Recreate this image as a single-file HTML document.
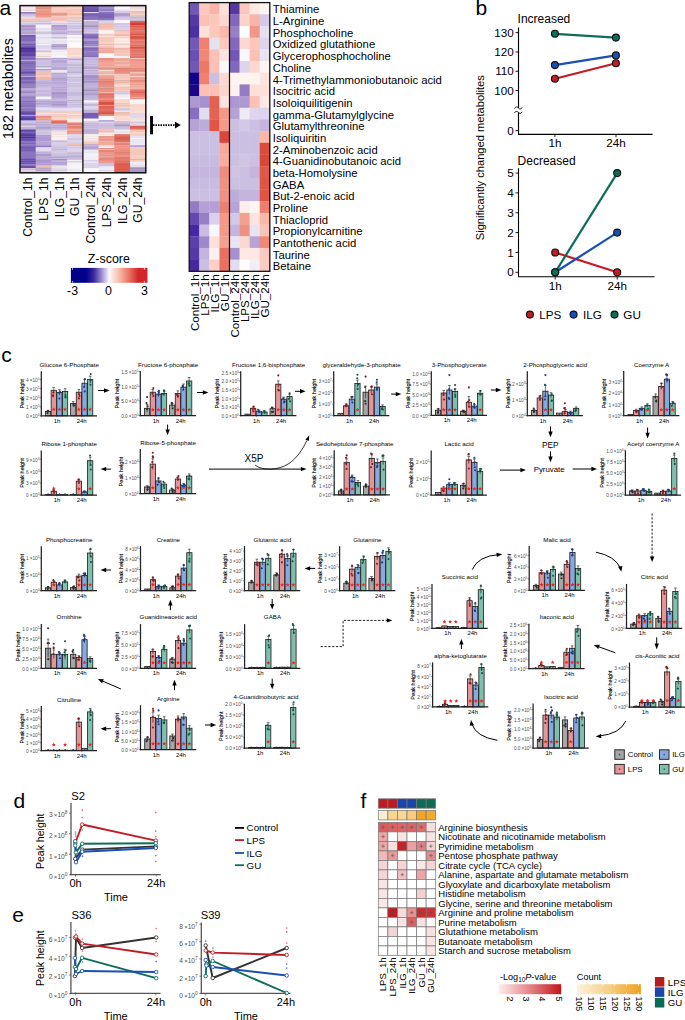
<!DOCTYPE html>
<html><head><meta charset="utf-8"><title>Figure</title>
<style>html,body{margin:0;padding:0;background:#fff;overflow:hidden;width:685px;height:1020px;}svg{display:block;}text{font-family:"Liberation Sans",sans-serif;}</style>
</head><body>
<svg width="685" height="1020" viewBox="0 0 685 1020" font-family="Liberation Sans, sans-serif">
<rect width="685" height="1020" fill="#fff"/>
<text x="-0.60" y="15.00" font-size="21" text-anchor="start" fill="#000" >a</text>
<rect x="20" y="5.6" width="16.03" height="1.17" fill="#e9dddd"/>
<rect x="20" y="6.52" width="16.03" height="1.17" fill="#fbefef"/>
<rect x="20" y="7.44" width="16.03" height="1.17" fill="#e7dbdb"/>
<rect x="20" y="8.36" width="16.03" height="1.17" fill="#faeded"/>
<rect x="20" y="9.27" width="16.03" height="1.17" fill="#e9dddd"/>
<rect x="20" y="10.19" width="16.03" height="1.17" fill="#e8dcdc"/>
<rect x="20" y="11.11" width="16.03" height="1.17" fill="#fcf1f1"/>
<rect x="20" y="12.03" width="16.03" height="1.17" fill="#927ac6"/>
<rect x="20" y="12.95" width="16.03" height="1.17" fill="#a592d0"/>
<rect x="20" y="13.87" width="16.03" height="1.17" fill="#c8bdde"/>
<rect x="20" y="14.79" width="16.03" height="1.17" fill="#ccc1e2"/>
<rect x="20" y="15.71" width="16.03" height="1.17" fill="#ccc1e3"/>
<rect x="20" y="16.62" width="16.03" height="1.17" fill="#e3ddf0"/>
<rect x="20" y="17.54" width="16.03" height="1.17" fill="#f8ccc4"/>
<rect x="20" y="18.46" width="16.03" height="1.17" fill="#f8ccc4"/>
<rect x="20" y="19.38" width="16.03" height="1.17" fill="#e9bcb4"/>
<rect x="20" y="20.3" width="16.03" height="1.17" fill="#efc1b9"/>
<rect x="20" y="21.22" width="16.03" height="1.17" fill="#c7bdd9"/>
<rect x="20" y="22.14" width="16.03" height="1.17" fill="#dbd3eb"/>
<rect x="20" y="23.05" width="16.03" height="1.17" fill="#d2c7e6"/>
<rect x="20" y="23.97" width="16.03" height="1.17" fill="#d3c9e7"/>
<rect x="20" y="24.89" width="16.03" height="1.17" fill="#b4a0d5"/>
<rect x="20" y="25.81" width="16.03" height="1.17" fill="#9d8abd"/>
<rect x="20" y="26.73" width="16.03" height="1.17" fill="#b7a4d6"/>
<rect x="20" y="27.65" width="16.03" height="1.17" fill="#ad98d1"/>
<rect x="20" y="28.57" width="16.03" height="1.17" fill="#ad98d1"/>
<rect x="20" y="29.49" width="16.03" height="1.17" fill="#917fae"/>
<rect x="20" y="30.4" width="16.03" height="1.17" fill="#bcabd9"/>
<rect x="20" y="31.32" width="16.03" height="1.17" fill="#ab9ac8"/>
<rect x="20" y="32.24" width="16.03" height="1.17" fill="#ab99c7"/>
<rect x="20" y="33.16" width="16.03" height="1.17" fill="#aa99c7"/>
<rect x="20" y="34.08" width="16.03" height="1.17" fill="#c8bae0"/>
<rect x="20" y="35" width="16.03" height="1.17" fill="#7458b3"/>
<rect x="20" y="35.92" width="16.03" height="1.17" fill="#7a60b7"/>
<rect x="20" y="36.84" width="16.03" height="1.17" fill="#7b61b7"/>
<rect x="20" y="37.75" width="16.03" height="1.17" fill="#836bbc"/>
<rect x="20" y="38.67" width="16.03" height="1.17" fill="#7358b3"/>
<rect x="20" y="39.59" width="16.03" height="1.17" fill="#7055ae"/>
<rect x="20" y="40.51" width="16.03" height="1.17" fill="#6f55ad"/>
<rect x="20" y="41.43" width="16.03" height="1.17" fill="#856dbe"/>
<rect x="20" y="42.35" width="16.03" height="1.17" fill="#846cbd"/>
<rect x="20" y="43.27" width="16.03" height="1.17" fill="#7a63b3"/>
<rect x="20" y="44.18" width="16.03" height="1.17" fill="#60499f"/>
<rect x="20" y="45.1" width="16.03" height="1.17" fill="#7c65b9"/>
<rect x="20" y="46.02" width="16.03" height="1.17" fill="#745cb5"/>
<rect x="20" y="46.94" width="16.03" height="1.17" fill="#6a50af"/>
<rect x="20" y="47.86" width="16.03" height="1.17" fill="#452796"/>
<rect x="20" y="48.78" width="16.03" height="1.17" fill="#5438a1"/>
<rect x="20" y="49.7" width="16.03" height="1.17" fill="#442694"/>
<rect x="20" y="50.62" width="16.03" height="1.17" fill="#452797"/>
<rect x="20" y="51.53" width="16.03" height="1.17" fill="#3c2284"/>
<rect x="20" y="52.45" width="16.03" height="1.17" fill="#5438a1"/>
<rect x="20" y="53.37" width="16.03" height="1.17" fill="#4e319e"/>
<rect x="20" y="54.29" width="16.03" height="1.17" fill="#442796"/>
<rect x="20" y="55.21" width="16.03" height="1.17" fill="#4c2f9d"/>
<rect x="20" y="56.13" width="16.03" height="1.17" fill="#745cb0"/>
<rect x="20" y="57.05" width="16.03" height="1.17" fill="#816abc"/>
<rect x="20" y="57.96" width="16.03" height="1.17" fill="#775fb5"/>
<rect x="20" y="58.88" width="16.03" height="1.17" fill="#735bae"/>
<rect x="20" y="59.8" width="16.03" height="1.17" fill="#c8bee2"/>
<rect x="20" y="60.72" width="16.03" height="1.17" fill="#7b62b8"/>
<rect x="20" y="61.64" width="16.03" height="1.17" fill="#836dbf"/>
<rect x="20" y="62.56" width="16.03" height="1.17" fill="#684fac"/>
<rect x="20" y="63.48" width="16.03" height="1.17" fill="#6950ae"/>
<rect x="20" y="64.4" width="16.03" height="1.17" fill="#765db8"/>
<rect x="20" y="65.31" width="16.03" height="1.17" fill="#7157b5"/>
<rect x="20" y="66.23" width="16.03" height="1.17" fill="#7c64b5"/>
<rect x="20" y="67.15" width="16.03" height="1.17" fill="#7d65b6"/>
<rect x="20" y="68.07" width="16.03" height="1.17" fill="#8b74c1"/>
<rect x="20" y="68.99" width="16.03" height="1.17" fill="#8269bc"/>
<rect x="20" y="69.91" width="16.03" height="1.17" fill="#866ebe"/>
<rect x="20" y="70.83" width="16.03" height="1.17" fill="#8b75c1"/>
<rect x="20" y="71.75" width="16.03" height="1.17" fill="#543b9c"/>
<rect x="20" y="72.66" width="16.03" height="1.17" fill="#765fb8"/>
<rect x="20" y="73.58" width="16.03" height="1.17" fill="#593ea6"/>
<rect x="20" y="74.5" width="16.03" height="1.17" fill="#9584c8"/>
<rect x="20" y="75.42" width="16.03" height="1.17" fill="#7159b6"/>
<rect x="20" y="76.34" width="16.03" height="1.17" fill="#b3a6d8"/>
<rect x="20" y="77.26" width="16.03" height="1.17" fill="#5b439e"/>
<rect x="20" y="78.18" width="16.03" height="1.17" fill="#684db0"/>
<rect x="20" y="79.09" width="16.03" height="1.17" fill="#765eb8"/>
<rect x="20" y="80.01" width="16.03" height="1.17" fill="#8f78c3"/>
<rect x="20" y="80.93" width="16.03" height="1.17" fill="#876fbe"/>
<rect x="20" y="81.85" width="16.03" height="1.17" fill="#7b66ae"/>
<rect x="20" y="82.77" width="16.03" height="1.17" fill="#816ab5"/>
<rect x="20" y="83.69" width="16.03" height="1.17" fill="#9781c8"/>
<rect x="20" y="84.61" width="16.03" height="1.17" fill="#7c66ae"/>
<rect x="20" y="85.53" width="16.03" height="1.17" fill="#937dc5"/>
<rect x="20" y="86.44" width="16.03" height="1.17" fill="#826bb8"/>
<rect x="20" y="87.36" width="16.03" height="1.17" fill="#826bb8"/>
<rect x="20" y="88.28" width="16.03" height="1.17" fill="#b8a5d7"/>
<rect x="20" y="89.2" width="16.03" height="1.17" fill="#b39fd4"/>
<rect x="20" y="90.12" width="16.03" height="1.17" fill="#ac97cf"/>
<rect x="20" y="91.04" width="16.03" height="1.17" fill="#a38fc5"/>
<rect x="20" y="91.96" width="16.03" height="1.17" fill="#9b88bb"/>
<rect x="20" y="92.87" width="16.03" height="1.17" fill="#b39fd4"/>
<rect x="20" y="93.79" width="16.03" height="1.17" fill="#b8a6d7"/>
<rect x="20" y="94.71" width="16.03" height="1.17" fill="#af9bd2"/>
<rect x="20" y="95.63" width="16.03" height="1.17" fill="#a995cc"/>
<rect x="20" y="96.55" width="16.03" height="1.17" fill="#7f69b3"/>
<rect x="20" y="97.47" width="16.03" height="1.17" fill="#8870c0"/>
<rect x="20" y="98.39" width="16.03" height="1.17" fill="#8a72c1"/>
<rect x="20" y="99.31" width="16.03" height="1.17" fill="#8a73c1"/>
<rect x="20" y="100.22" width="16.03" height="1.17" fill="#8f78c3"/>
<rect x="20" y="101.14" width="16.03" height="1.17" fill="#7863a9"/>
<rect x="20" y="102.06" width="16.03" height="1.17" fill="#917bc5"/>
<rect x="20" y="102.98" width="16.03" height="1.17" fill="#8c75c2"/>
<rect x="20" y="103.9" width="16.03" height="1.17" fill="#8f79c4"/>
<rect x="20" y="104.82" width="16.03" height="1.17" fill="#8c75c2"/>
<rect x="20" y="105.74" width="16.03" height="1.17" fill="#7d66b6"/>
<rect x="20" y="106.65" width="16.03" height="1.17" fill="#8c75c3"/>
<rect x="20" y="107.57" width="16.03" height="1.17" fill="#8e77c3"/>
<rect x="20" y="108.49" width="16.03" height="1.17" fill="#7e66b7"/>
<rect x="20" y="109.41" width="16.03" height="1.17" fill="#705ba3"/>
<rect x="20" y="110.33" width="16.03" height="1.17" fill="#7d65b5"/>
<rect x="20" y="111.25" width="16.03" height="1.17" fill="#6045ac"/>
<rect x="20" y="112.17" width="16.03" height="1.17" fill="#573da2"/>
<rect x="20" y="113.09" width="16.03" height="1.17" fill="#573da2"/>
<rect x="20" y="114" width="16.03" height="1.17" fill="#6d55b4"/>
<rect x="20" y="114.92" width="16.03" height="1.17" fill="#b8adda"/>
<rect x="20" y="115.84" width="16.03" height="1.17" fill="#745db7"/>
<rect x="20" y="116.76" width="16.03" height="1.17" fill="#6248ae"/>
<rect x="20" y="117.68" width="16.03" height="1.17" fill="#5c41ab"/>
<rect x="20" y="118.6" width="16.03" height="1.17" fill="#201091"/>
<rect x="20" y="119.52" width="16.03" height="1.17" fill="#4a3ca7"/>
<rect x="20" y="120.44" width="16.03" height="1.17" fill="#c6b6df"/>
<rect x="20" y="121.35" width="16.03" height="1.17" fill="#ccbee2"/>
<rect x="20" y="122.27" width="16.03" height="1.17" fill="#c6b7df"/>
<rect x="20" y="123.19" width="16.03" height="1.17" fill="#b8a9d0"/>
<rect x="20" y="124.11" width="16.03" height="1.17" fill="#b2a4ca"/>
<rect x="20" y="125.03" width="16.03" height="1.17" fill="#c6b7df"/>
<rect x="20" y="125.95" width="16.03" height="1.17" fill="#e0d7ed"/>
<rect x="20" y="126.87" width="16.03" height="1.17" fill="#c2b2dc"/>
<rect x="20" y="127.78" width="16.03" height="1.17" fill="#bdadd6"/>
<rect x="20" y="128.7" width="16.03" height="1.17" fill="#bfb0d9"/>
<rect x="20" y="129.62" width="16.03" height="1.17" fill="#472d97"/>
<rect x="20" y="130.54" width="16.03" height="1.17" fill="#462c94"/>
<rect x="20" y="131.46" width="16.03" height="1.17" fill="#6047ac"/>
<rect x="20" y="132.38" width="16.03" height="1.17" fill="#674eb0"/>
<rect x="20" y="133.3" width="16.03" height="1.17" fill="#492e9c"/>
<rect x="20" y="134.22" width="16.03" height="1.17" fill="#452c93"/>
<rect x="20" y="135.13" width="16.03" height="1.17" fill="#452c93"/>
<rect x="20" y="136.05" width="16.03" height="1.17" fill="#644bae"/>
<rect x="20" y="136.97" width="16.03" height="1.17" fill="#472c96"/>
<rect x="20" y="137.89" width="16.03" height="1.17" fill="#684eaf"/>
<rect x="20" y="138.81" width="16.03" height="1.17" fill="#674dad"/>
<rect x="20" y="139.73" width="16.03" height="1.17" fill="#644ba8"/>
<rect x="20" y="140.65" width="16.03" height="1.17" fill="#634aa6"/>
<rect x="20" y="141.56" width="16.03" height="1.17" fill="#9380c8"/>
<rect x="20" y="142.48" width="16.03" height="1.17" fill="#684eaf"/>
<rect x="20" y="143.4" width="16.03" height="1.17" fill="#654ba9"/>
<rect x="20" y="144.32" width="16.03" height="1.17" fill="#8873c2"/>
<rect x="20" y="145.24" width="16.03" height="1.17" fill="#7860ba"/>
<rect x="20" y="146.16" width="16.03" height="1.17" fill="#7359b7"/>
<rect x="20" y="147.08" width="16.03" height="1.17" fill="#694fb0"/>
<rect x="20" y="148" width="16.03" height="1.17" fill="#7960b8"/>
<rect x="20" y="148.91" width="16.03" height="1.17" fill="#7c63b9"/>
<rect x="20" y="149.83" width="16.03" height="1.17" fill="#755db1"/>
<rect x="20" y="150.75" width="16.03" height="1.17" fill="#7e66ba"/>
<rect x="20" y="151.67" width="16.03" height="1.17" fill="#7f67bb"/>
<rect x="20" y="152.59" width="16.03" height="1.17" fill="#846dbd"/>
<rect x="20" y="153.51" width="16.03" height="1.17" fill="#7059a9"/>
<rect x="20" y="154.43" width="16.03" height="1.17" fill="#7f66ba"/>
<rect x="20" y="155.35" width="16.03" height="1.17" fill="#785fb6"/>
<rect x="20" y="156.26" width="16.03" height="1.17" fill="#765eb3"/>
<rect x="20" y="157.18" width="16.03" height="1.17" fill="#826bbf"/>
<rect x="20" y="158.1" width="16.03" height="1.17" fill="#755cb8"/>
<rect x="20" y="159.02" width="16.03" height="1.17" fill="#644ba7"/>
<rect x="20" y="159.94" width="16.03" height="1.17" fill="#7d65bc"/>
<rect x="20" y="160.86" width="16.03" height="1.17" fill="#5f47a0"/>
<rect x="20" y="161.78" width="16.03" height="1.17" fill="#7c65bc"/>
<rect x="20" y="162.69" width="16.03" height="1.17" fill="#694fb0"/>
<rect x="20" y="163.61" width="16.03" height="1.17" fill="#50369b"/>
<rect x="20" y="164.53" width="16.03" height="1.17" fill="#baafdb"/>
<rect x="20" y="165.45" width="16.03" height="1.17" fill="#51369c"/>
<rect x="20" y="166.37" width="16.03" height="1.17" fill="#553aa5"/>
<rect x="20" y="167.29" width="16.03" height="1.17" fill="#4e3597"/>
<rect x="20" y="168.21" width="16.03" height="1.17" fill="#e8d0e0"/>
<rect x="20" y="169.13" width="16.03" height="1.17" fill="#cab5c3"/>
<rect x="20" y="170.04" width="16.03" height="1.17" fill="#ebd6e4"/>
<rect x="20" y="170.96" width="16.03" height="1.17" fill="#e1cad9"/>
<rect x="20" y="171.88" width="16.03" height="1.17" fill="#e8d0e0"/>
<rect x="35.73" y="5.6" width="16.03" height="1.17" fill="#f19a8c"/>
<rect x="35.73" y="6.52" width="16.03" height="1.17" fill="#e68a7b"/>
<rect x="35.73" y="7.44" width="16.03" height="1.17" fill="#d88173"/>
<rect x="35.73" y="8.36" width="16.03" height="1.17" fill="#da8374"/>
<rect x="35.73" y="9.27" width="16.03" height="1.17" fill="#f19788"/>
<rect x="35.73" y="10.19" width="16.03" height="1.17" fill="#f09181"/>
<rect x="35.73" y="11.11" width="16.03" height="1.17" fill="#ea8c7d"/>
<rect x="35.73" y="12.03" width="16.03" height="1.17" fill="#f1998b"/>
<rect x="35.73" y="12.95" width="16.03" height="1.17" fill="#ef8f80"/>
<rect x="35.73" y="13.87" width="16.03" height="1.17" fill="#e98c7c"/>
<rect x="35.73" y="14.79" width="16.03" height="1.17" fill="#f19485"/>
<rect x="35.73" y="15.71" width="16.03" height="1.17" fill="#f29d8f"/>
<rect x="35.73" y="16.62" width="16.03" height="1.17" fill="#e18778"/>
<rect x="35.73" y="17.54" width="16.03" height="1.17" fill="#f8d3cb"/>
<rect x="35.73" y="18.46" width="16.03" height="1.17" fill="#eac4bc"/>
<rect x="35.73" y="19.38" width="16.03" height="1.17" fill="#e8c3bb"/>
<rect x="35.73" y="20.3" width="16.03" height="1.17" fill="#e2bdb6"/>
<rect x="35.73" y="21.22" width="16.03" height="1.17" fill="#cac0d9"/>
<rect x="35.73" y="22.14" width="16.03" height="1.17" fill="#ddd4ec"/>
<rect x="35.73" y="23.05" width="16.03" height="1.17" fill="#c0b7ce"/>
<rect x="35.73" y="23.97" width="16.03" height="1.17" fill="#ddd3ec"/>
<rect x="35.73" y="24.89" width="16.03" height="1.17" fill="#f5f3f7"/>
<rect x="35.73" y="25.81" width="16.03" height="1.17" fill="#faf8fc"/>
<rect x="35.73" y="26.73" width="16.03" height="1.17" fill="#fbf8fc"/>
<rect x="35.73" y="27.65" width="16.03" height="1.17" fill="#e6def1"/>
<rect x="35.73" y="28.57" width="16.03" height="1.17" fill="#e5dcf1"/>
<rect x="35.73" y="29.49" width="16.03" height="1.17" fill="#e4dbf0"/>
<rect x="35.73" y="30.4" width="16.03" height="1.17" fill="#eee8f5"/>
<rect x="35.73" y="31.32" width="16.03" height="1.17" fill="#d6cce2"/>
<rect x="35.73" y="32.24" width="16.03" height="1.17" fill="#c7bed2"/>
<rect x="35.73" y="33.16" width="16.03" height="1.17" fill="#cbc2d7"/>
<rect x="35.73" y="34.08" width="16.03" height="1.17" fill="#e9e3f2"/>
<rect x="35.73" y="35" width="16.03" height="1.17" fill="#eae4f3"/>
<rect x="35.73" y="35.92" width="16.03" height="1.17" fill="#f4f1f9"/>
<rect x="35.73" y="36.84" width="16.03" height="1.17" fill="#d7d2e0"/>
<rect x="35.73" y="37.75" width="16.03" height="1.17" fill="#e8e2f1"/>
<rect x="35.73" y="38.67" width="16.03" height="1.17" fill="#ebe5f4"/>
<rect x="35.73" y="39.59" width="16.03" height="1.17" fill="#ede9f5"/>
<rect x="35.73" y="40.51" width="16.03" height="1.17" fill="#eae5f4"/>
<rect x="35.73" y="41.43" width="16.03" height="1.17" fill="#eae5f3"/>
<rect x="35.73" y="42.35" width="16.03" height="1.17" fill="#eae4f3"/>
<rect x="35.73" y="43.27" width="16.03" height="1.17" fill="#ddd8e6"/>
<rect x="35.73" y="44.18" width="16.03" height="1.17" fill="#f5f2f9"/>
<rect x="35.73" y="45.1" width="16.03" height="1.17" fill="#ddd3ec"/>
<rect x="35.73" y="46.02" width="16.03" height="1.17" fill="#dcd2ec"/>
<rect x="35.73" y="46.94" width="16.03" height="1.17" fill="#ded5ed"/>
<rect x="35.73" y="47.86" width="16.03" height="1.17" fill="#dbd1eb"/>
<rect x="35.73" y="48.78" width="16.03" height="1.17" fill="#efebf6"/>
<rect x="35.73" y="49.7" width="16.03" height="1.17" fill="#dcd2ec"/>
<rect x="35.73" y="50.62" width="16.03" height="1.17" fill="#c7bed6"/>
<rect x="35.73" y="51.53" width="16.03" height="1.17" fill="#ccc2db"/>
<rect x="35.73" y="52.45" width="16.03" height="1.17" fill="#faeae6"/>
<rect x="35.73" y="53.37" width="16.03" height="1.17" fill="#fae9e5"/>
<rect x="35.73" y="54.29" width="16.03" height="1.17" fill="#efdeda"/>
<rect x="35.73" y="55.21" width="16.03" height="1.17" fill="#fae9e5"/>
<rect x="35.73" y="56.13" width="16.03" height="1.17" fill="#dfcfcb"/>
<rect x="35.73" y="57.05" width="16.03" height="1.17" fill="#fbebe7"/>
<rect x="35.73" y="57.96" width="16.03" height="1.17" fill="#beb0d4"/>
<rect x="35.73" y="58.88" width="16.03" height="1.17" fill="#bbadd0"/>
<rect x="35.73" y="59.8" width="16.03" height="1.17" fill="#d0c2e5"/>
<rect x="35.73" y="60.72" width="16.03" height="1.17" fill="#cabae0"/>
<rect x="35.73" y="61.64" width="16.03" height="1.17" fill="#ccbce2"/>
<rect x="35.73" y="62.56" width="16.03" height="1.17" fill="#c5b6db"/>
<rect x="35.73" y="63.48" width="16.03" height="1.17" fill="#c5b6db"/>
<rect x="35.73" y="64.4" width="16.03" height="1.17" fill="#c2b3d8"/>
<rect x="35.73" y="65.31" width="16.03" height="1.17" fill="#d2c4e6"/>
<rect x="35.73" y="66.23" width="16.03" height="1.17" fill="#a397b6"/>
<rect x="35.73" y="67.15" width="16.03" height="1.17" fill="#d9ceea"/>
<rect x="35.73" y="68.07" width="16.03" height="1.17" fill="#e5def1"/>
<rect x="35.73" y="68.99" width="16.03" height="1.17" fill="#a99dbc"/>
<rect x="35.73" y="69.91" width="16.03" height="1.17" fill="#cbbce1"/>
<rect x="35.73" y="70.83" width="16.03" height="1.17" fill="#d1c3e5"/>
<rect x="35.73" y="71.75" width="16.03" height="1.17" fill="#f3bcad"/>
<rect x="35.73" y="72.66" width="16.03" height="1.17" fill="#f8c2b3"/>
<rect x="35.73" y="73.58" width="16.03" height="1.17" fill="#e7b3a4"/>
<rect x="35.73" y="74.5" width="16.03" height="1.17" fill="#f3bcac"/>
<rect x="35.73" y="75.42" width="16.03" height="1.17" fill="#f9c9bb"/>
<rect x="35.73" y="76.34" width="16.03" height="1.17" fill="#f7bfb0"/>
<rect x="35.73" y="77.26" width="16.03" height="1.17" fill="#e3b0a1"/>
<rect x="35.73" y="78.18" width="16.03" height="1.17" fill="#eab5a6"/>
<rect x="35.73" y="79.09" width="16.03" height="1.17" fill="#c7b9e0"/>
<rect x="35.73" y="80.01" width="16.03" height="1.17" fill="#c9bbe1"/>
<rect x="35.73" y="80.93" width="16.03" height="1.17" fill="#c1b1da"/>
<rect x="35.73" y="81.85" width="16.03" height="1.17" fill="#c1b2db"/>
<rect x="35.73" y="82.77" width="16.03" height="1.17" fill="#b4a6cc"/>
<rect x="35.73" y="83.69" width="16.03" height="1.17" fill="#c1b2db"/>
<rect x="35.73" y="84.61" width="16.03" height="1.17" fill="#bbacd4"/>
<rect x="35.73" y="85.53" width="16.03" height="1.17" fill="#b7a9d0"/>
<rect x="35.73" y="86.44" width="16.03" height="1.17" fill="#c3b3dd"/>
<rect x="35.73" y="87.36" width="16.03" height="1.17" fill="#c5b5de"/>
<rect x="35.73" y="88.28" width="16.03" height="1.17" fill="#c9bbe1"/>
<rect x="35.73" y="89.2" width="16.03" height="1.17" fill="#ccbee2"/>
<rect x="35.73" y="90.12" width="16.03" height="1.17" fill="#c4b4de"/>
<rect x="35.73" y="91.04" width="16.03" height="1.17" fill="#c0b1da"/>
<rect x="35.73" y="91.96" width="16.03" height="1.17" fill="#cfc3e4"/>
<rect x="35.73" y="92.87" width="16.03" height="1.17" fill="#cabbe1"/>
<rect x="35.73" y="93.79" width="16.03" height="1.17" fill="#c8bae0"/>
<rect x="35.73" y="94.71" width="16.03" height="1.17" fill="#c2b3dc"/>
<rect x="35.73" y="95.63" width="16.03" height="1.17" fill="#c2b2db"/>
<rect x="35.73" y="96.55" width="16.03" height="1.17" fill="#eae8eb"/>
<rect x="35.73" y="97.47" width="16.03" height="1.17" fill="#f4f2f6"/>
<rect x="35.73" y="98.39" width="16.03" height="1.17" fill="#f6f4f7"/>
<rect x="35.73" y="99.31" width="16.03" height="1.17" fill="#bdadda"/>
<rect x="35.73" y="100.22" width="16.03" height="1.17" fill="#beafdb"/>
<rect x="35.73" y="101.14" width="16.03" height="1.17" fill="#ad9ec7"/>
<rect x="35.73" y="102.06" width="16.03" height="1.17" fill="#c0b0dc"/>
<rect x="35.73" y="102.98" width="16.03" height="1.17" fill="#b2a3ce"/>
<rect x="35.73" y="103.9" width="16.03" height="1.17" fill="#b6a7d3"/>
<rect x="35.73" y="104.82" width="16.03" height="1.17" fill="#cdc0e3"/>
<rect x="35.73" y="105.74" width="16.03" height="1.17" fill="#bcacd9"/>
<rect x="35.73" y="106.65" width="16.03" height="1.17" fill="#c7b9e0"/>
<rect x="35.73" y="107.57" width="16.03" height="1.17" fill="#e6ddf1"/>
<rect x="35.73" y="108.49" width="16.03" height="1.17" fill="#dbd1e8"/>
<rect x="35.73" y="109.41" width="16.03" height="1.17" fill="#e4daf0"/>
<rect x="35.73" y="110.33" width="16.03" height="1.17" fill="#d2c9de"/>
<rect x="35.73" y="111.25" width="16.03" height="1.17" fill="#edc6b7"/>
<rect x="35.73" y="112.17" width="16.03" height="1.17" fill="#f8d0c0"/>
<rect x="35.73" y="113.09" width="16.03" height="1.17" fill="#faddd2"/>
<rect x="35.73" y="114" width="16.03" height="1.17" fill="#e3d9ef"/>
<rect x="35.73" y="114.92" width="16.03" height="1.17" fill="#e2d8ef"/>
<rect x="35.73" y="115.84" width="16.03" height="1.17" fill="#eb8d7d"/>
<rect x="35.73" y="116.76" width="16.03" height="1.17" fill="#eb8d7e"/>
<rect x="35.73" y="117.68" width="16.03" height="1.17" fill="#f29e90"/>
<rect x="35.73" y="118.6" width="16.03" height="1.17" fill="#f1998a"/>
<rect x="35.73" y="119.52" width="16.03" height="1.17" fill="#e5897a"/>
<rect x="35.73" y="120.44" width="16.03" height="1.17" fill="#c9bae1"/>
<rect x="35.73" y="121.35" width="16.03" height="1.17" fill="#c3b3dd"/>
<rect x="35.73" y="122.27" width="16.03" height="1.17" fill="#ad9fc4"/>
<rect x="35.73" y="123.19" width="16.03" height="1.17" fill="#c7b8df"/>
<rect x="35.73" y="124.11" width="16.03" height="1.17" fill="#b5a6cc"/>
<rect x="35.73" y="125.03" width="16.03" height="1.17" fill="#bcadd5"/>
<rect x="35.73" y="125.95" width="16.03" height="1.17" fill="#c6b7df"/>
<rect x="35.73" y="126.87" width="16.03" height="1.17" fill="#b0a2c7"/>
<rect x="35.73" y="127.78" width="16.03" height="1.17" fill="#a799bd"/>
<rect x="35.73" y="128.7" width="16.03" height="1.17" fill="#cbbfe1"/>
<rect x="35.73" y="129.62" width="16.03" height="1.17" fill="#b0a6c4"/>
<rect x="35.73" y="130.54" width="16.03" height="1.17" fill="#d4cbe7"/>
<rect x="35.73" y="131.46" width="16.03" height="1.17" fill="#d1c7e6"/>
<rect x="35.73" y="132.38" width="16.03" height="1.17" fill="#beb4d4"/>
<rect x="35.73" y="133.3" width="16.03" height="1.17" fill="#c6bbdc"/>
<rect x="35.73" y="134.22" width="16.03" height="1.17" fill="#ccc0e2"/>
<rect x="35.73" y="135.13" width="16.03" height="1.17" fill="#a994cc"/>
<rect x="35.73" y="136.05" width="16.03" height="1.17" fill="#b3a0d4"/>
<rect x="35.73" y="136.97" width="16.03" height="1.17" fill="#b19cd3"/>
<rect x="35.73" y="137.89" width="16.03" height="1.17" fill="#ac97d0"/>
<rect x="35.73" y="138.81" width="16.03" height="1.17" fill="#b29ed4"/>
<rect x="35.73" y="139.73" width="16.03" height="1.17" fill="#aa95cd"/>
<rect x="35.73" y="140.65" width="16.03" height="1.17" fill="#b09cd3"/>
<rect x="35.73" y="141.56" width="16.03" height="1.17" fill="#beaddb"/>
<rect x="35.73" y="142.48" width="16.03" height="1.17" fill="#a18dc2"/>
<rect x="35.73" y="143.4" width="16.03" height="1.17" fill="#b09bd2"/>
<rect x="35.73" y="144.32" width="16.03" height="1.17" fill="#a591c7"/>
<rect x="35.73" y="145.24" width="16.03" height="1.17" fill="#9f8ccc"/>
<rect x="35.73" y="146.16" width="16.03" height="1.17" fill="#816ab6"/>
<rect x="35.73" y="147.08" width="16.03" height="1.17" fill="#d9d0e6"/>
<rect x="35.73" y="148" width="16.03" height="1.17" fill="#e4dbf0"/>
<rect x="35.73" y="148.91" width="16.03" height="1.17" fill="#e3daf0"/>
<rect x="35.73" y="149.83" width="16.03" height="1.17" fill="#e5ddf1"/>
<rect x="35.73" y="150.75" width="16.03" height="1.17" fill="#e4dbf0"/>
<rect x="35.73" y="151.67" width="16.03" height="1.17" fill="#a28ec3"/>
<rect x="35.73" y="152.59" width="16.03" height="1.17" fill="#d4c9e7"/>
<rect x="35.73" y="153.51" width="16.03" height="1.17" fill="#a893ca"/>
<rect x="35.73" y="154.43" width="16.03" height="1.17" fill="#9582b3"/>
<rect x="35.73" y="155.35" width="16.03" height="1.17" fill="#a28ec4"/>
<rect x="35.73" y="156.26" width="16.03" height="1.17" fill="#b7a4d6"/>
<rect x="35.73" y="157.18" width="16.03" height="1.17" fill="#b19dd3"/>
<rect x="35.73" y="158.1" width="16.03" height="1.17" fill="#b9a7d8"/>
<rect x="35.73" y="159.02" width="16.03" height="1.17" fill="#b4a0d5"/>
<rect x="35.73" y="159.94" width="16.03" height="1.17" fill="#a995cc"/>
<rect x="35.73" y="160.86" width="16.03" height="1.17" fill="#a994cc"/>
<rect x="35.73" y="161.78" width="16.03" height="1.17" fill="#ad98d1"/>
<rect x="35.73" y="162.69" width="16.03" height="1.17" fill="#b39fd4"/>
<rect x="35.73" y="163.61" width="16.03" height="1.17" fill="#ae99d1"/>
<rect x="35.73" y="164.53" width="16.03" height="1.17" fill="#a38fc4"/>
<rect x="35.73" y="165.45" width="16.03" height="1.17" fill="#f0baaa"/>
<rect x="35.73" y="166.37" width="16.03" height="1.17" fill="#e9b4a5"/>
<rect x="35.73" y="167.29" width="16.03" height="1.17" fill="#bdaed6"/>
<rect x="35.73" y="168.21" width="16.03" height="1.17" fill="#ab9dc1"/>
<rect x="35.73" y="169.13" width="16.03" height="1.17" fill="#b8a9d1"/>
<rect x="35.73" y="170.04" width="16.03" height="1.17" fill="#b0a2c7"/>
<rect x="35.73" y="170.96" width="16.03" height="1.17" fill="#cfc2e4"/>
<rect x="35.73" y="171.88" width="16.03" height="1.17" fill="#b1a3c8"/>
<rect x="51.45" y="5.6" width="16.03" height="1.17" fill="#f1bbab"/>
<rect x="51.45" y="6.52" width="16.03" height="1.17" fill="#deac9e"/>
<rect x="51.45" y="7.44" width="16.03" height="1.17" fill="#f9c6b8"/>
<rect x="51.45" y="8.36" width="16.03" height="1.17" fill="#f9c8ba"/>
<rect x="51.45" y="9.27" width="16.03" height="1.17" fill="#f8c2b3"/>
<rect x="51.45" y="10.19" width="16.03" height="1.17" fill="#f8c4b5"/>
<rect x="51.45" y="11.11" width="16.03" height="1.17" fill="#f8c2b3"/>
<rect x="51.45" y="12.03" width="16.03" height="1.17" fill="#f7bfaf"/>
<rect x="51.45" y="12.95" width="16.03" height="1.17" fill="#e59e8f"/>
<rect x="51.45" y="13.87" width="16.03" height="1.17" fill="#e09a8b"/>
<rect x="51.45" y="14.79" width="16.03" height="1.17" fill="#e19b8c"/>
<rect x="51.45" y="15.71" width="16.03" height="1.17" fill="#fbd3c9"/>
<rect x="51.45" y="16.62" width="16.03" height="1.17" fill="#f8baaa"/>
<rect x="51.45" y="17.54" width="16.03" height="1.17" fill="#f8bdae"/>
<rect x="51.45" y="18.46" width="16.03" height="1.17" fill="#efb1a2"/>
<rect x="51.45" y="19.38" width="16.03" height="1.17" fill="#f2b4a4"/>
<rect x="51.45" y="20.3" width="16.03" height="1.17" fill="#f9beaf"/>
<rect x="51.45" y="21.22" width="16.03" height="1.17" fill="#e6def1"/>
<rect x="51.45" y="22.14" width="16.03" height="1.17" fill="#e3daf0"/>
<rect x="51.45" y="23.05" width="16.03" height="1.17" fill="#d4cae0"/>
<rect x="51.45" y="23.97" width="16.03" height="1.17" fill="#e4dbf0"/>
<rect x="51.45" y="24.89" width="16.03" height="1.17" fill="#b09bcf"/>
<rect x="51.45" y="25.81" width="16.03" height="1.17" fill="#ad99cc"/>
<rect x="51.45" y="26.73" width="16.03" height="1.17" fill="#b5a1d6"/>
<rect x="51.45" y="27.65" width="16.03" height="1.17" fill="#b7a3d7"/>
<rect x="51.45" y="28.57" width="16.03" height="1.17" fill="#ab97c9"/>
<rect x="51.45" y="29.49" width="16.03" height="1.17" fill="#b09ccf"/>
<rect x="51.45" y="30.4" width="16.03" height="1.17" fill="#cbbde2"/>
<rect x="51.45" y="31.32" width="16.03" height="1.17" fill="#bdabda"/>
<rect x="51.45" y="32.24" width="16.03" height="1.17" fill="#b5a1d6"/>
<rect x="51.45" y="33.16" width="16.03" height="1.17" fill="#b19dd1"/>
<rect x="51.45" y="34.08" width="16.03" height="1.17" fill="#d3cbde"/>
<rect x="51.45" y="35" width="16.03" height="1.17" fill="#e1d9ec"/>
<rect x="51.45" y="35.92" width="16.03" height="1.17" fill="#e7dff2"/>
<rect x="51.45" y="36.84" width="16.03" height="1.17" fill="#c9c2d3"/>
<rect x="51.45" y="37.75" width="16.03" height="1.17" fill="#c5bdce"/>
<rect x="51.45" y="38.67" width="16.03" height="1.17" fill="#f4f0f9"/>
<rect x="51.45" y="39.59" width="16.03" height="1.17" fill="#e9e2f3"/>
<rect x="51.45" y="40.51" width="16.03" height="1.17" fill="#e6def1"/>
<rect x="51.45" y="41.43" width="16.03" height="1.17" fill="#e1d8ec"/>
<rect x="51.45" y="42.35" width="16.03" height="1.17" fill="#e8e0f2"/>
<rect x="51.45" y="43.27" width="16.03" height="1.17" fill="#e7dff2"/>
<rect x="51.45" y="44.18" width="16.03" height="1.17" fill="#a99bc4"/>
<rect x="51.45" y="45.1" width="16.03" height="1.17" fill="#b1a1cc"/>
<rect x="51.45" y="46.02" width="16.03" height="1.17" fill="#a698c0"/>
<rect x="51.45" y="46.94" width="16.03" height="1.17" fill="#c4b5de"/>
<rect x="51.45" y="47.86" width="16.03" height="1.17" fill="#beafdb"/>
<rect x="51.45" y="48.78" width="16.03" height="1.17" fill="#c4b6de"/>
<rect x="51.45" y="49.7" width="16.03" height="1.17" fill="#f5f1f8"/>
<rect x="51.45" y="50.62" width="16.03" height="1.17" fill="#e9e5ec"/>
<rect x="51.45" y="51.53" width="16.03" height="1.17" fill="#efeaf2"/>
<rect x="51.45" y="52.45" width="16.03" height="1.17" fill="#f6f2f8"/>
<rect x="51.45" y="53.37" width="16.03" height="1.17" fill="#f2edf5"/>
<rect x="51.45" y="54.29" width="16.03" height="1.17" fill="#eeeaf1"/>
<rect x="51.45" y="55.21" width="16.03" height="1.17" fill="#f6f3f9"/>
<rect x="51.45" y="56.13" width="16.03" height="1.17" fill="#f9f7fb"/>
<rect x="51.45" y="57.05" width="16.03" height="1.17" fill="#f2edf5"/>
<rect x="51.45" y="57.96" width="16.03" height="1.17" fill="#ad9dcc"/>
<rect x="51.45" y="58.88" width="16.03" height="1.17" fill="#ccc0e2"/>
<rect x="51.45" y="59.8" width="16.03" height="1.17" fill="#b6a6d6"/>
<rect x="51.45" y="60.72" width="16.03" height="1.17" fill="#ae9ecd"/>
<rect x="51.45" y="61.64" width="16.03" height="1.17" fill="#af9fce"/>
<rect x="51.45" y="62.56" width="16.03" height="1.17" fill="#b2a1d2"/>
<rect x="51.45" y="63.48" width="16.03" height="1.17" fill="#bbacd9"/>
<rect x="51.45" y="64.4" width="16.03" height="1.17" fill="#b5a4d5"/>
<rect x="51.45" y="65.31" width="16.03" height="1.17" fill="#baaad8"/>
<rect x="51.45" y="66.23" width="16.03" height="1.17" fill="#beafda"/>
<rect x="51.45" y="67.15" width="16.03" height="1.17" fill="#b0a0d0"/>
<rect x="51.45" y="68.07" width="16.03" height="1.17" fill="#b6a6d6"/>
<rect x="51.45" y="68.99" width="16.03" height="1.17" fill="#b1a0d0"/>
<rect x="51.45" y="69.91" width="16.03" height="1.17" fill="#f0eef1"/>
<rect x="51.45" y="70.83" width="16.03" height="1.17" fill="#e5e3e6"/>
<rect x="51.45" y="71.75" width="16.03" height="1.17" fill="#fbf8fc"/>
<rect x="51.45" y="72.66" width="16.03" height="1.17" fill="#a899c7"/>
<rect x="51.45" y="73.58" width="16.03" height="1.17" fill="#b7a7d7"/>
<rect x="51.45" y="74.5" width="16.03" height="1.17" fill="#b8a8d7"/>
<rect x="51.45" y="75.42" width="16.03" height="1.17" fill="#bcacd9"/>
<rect x="51.45" y="76.34" width="16.03" height="1.17" fill="#af9fcf"/>
<rect x="51.45" y="77.26" width="16.03" height="1.17" fill="#b6a6d6"/>
<rect x="51.45" y="78.18" width="16.03" height="1.17" fill="#a192be"/>
<rect x="51.45" y="79.09" width="16.03" height="1.17" fill="#b3a3d3"/>
<rect x="51.45" y="80.01" width="16.03" height="1.17" fill="#b5a5d6"/>
<rect x="51.45" y="80.93" width="16.03" height="1.17" fill="#c2b4dd"/>
<rect x="51.45" y="81.85" width="16.03" height="1.17" fill="#b3a2d3"/>
<rect x="51.45" y="82.77" width="16.03" height="1.17" fill="#bbacd9"/>
<rect x="51.45" y="83.69" width="16.03" height="1.17" fill="#b6a5d6"/>
<rect x="51.45" y="84.61" width="16.03" height="1.17" fill="#baabd9"/>
<rect x="51.45" y="85.53" width="16.03" height="1.17" fill="#b9a9d8"/>
<rect x="51.45" y="86.44" width="16.03" height="1.17" fill="#b9aad8"/>
<rect x="51.45" y="87.36" width="16.03" height="1.17" fill="#a898c6"/>
<rect x="51.45" y="88.28" width="16.03" height="1.17" fill="#bcaada"/>
<rect x="51.45" y="89.2" width="16.03" height="1.17" fill="#ad99cc"/>
<rect x="51.45" y="90.12" width="16.03" height="1.17" fill="#bca9d9"/>
<rect x="51.45" y="91.04" width="16.03" height="1.17" fill="#beacda"/>
<rect x="51.45" y="91.96" width="16.03" height="1.17" fill="#b09cd0"/>
<rect x="51.45" y="92.87" width="16.03" height="1.17" fill="#a18ebd"/>
<rect x="51.45" y="93.79" width="16.03" height="1.17" fill="#b09ccf"/>
<rect x="51.45" y="94.71" width="16.03" height="1.17" fill="#b09bcf"/>
<rect x="51.45" y="95.63" width="16.03" height="1.17" fill="#a693c4"/>
<rect x="51.45" y="96.55" width="16.03" height="1.17" fill="#ad99cc"/>
<rect x="51.45" y="97.47" width="16.03" height="1.17" fill="#ad99cc"/>
<rect x="51.45" y="98.39" width="16.03" height="1.17" fill="#bba8d9"/>
<rect x="51.45" y="99.31" width="16.03" height="1.17" fill="#bfaedb"/>
<rect x="51.45" y="100.22" width="16.03" height="1.17" fill="#c1afdc"/>
<rect x="51.45" y="101.14" width="16.03" height="1.17" fill="#ad99cc"/>
<rect x="51.45" y="102.06" width="16.03" height="1.17" fill="#b29dd1"/>
<rect x="51.45" y="102.98" width="16.03" height="1.17" fill="#b9a5d8"/>
<rect x="51.45" y="103.9" width="16.03" height="1.17" fill="#a794c5"/>
<rect x="51.45" y="104.82" width="16.03" height="1.17" fill="#af9bcf"/>
<rect x="51.45" y="105.74" width="16.03" height="1.17" fill="#c4b4de"/>
<rect x="51.45" y="106.65" width="16.03" height="1.17" fill="#b7a3d7"/>
<rect x="51.45" y="107.57" width="16.03" height="1.17" fill="#dad1e7"/>
<rect x="51.45" y="108.49" width="16.03" height="1.17" fill="#e4daf0"/>
<rect x="51.45" y="109.41" width="16.03" height="1.17" fill="#e2d8ef"/>
<rect x="51.45" y="110.33" width="16.03" height="1.17" fill="#dcd2e8"/>
<rect x="51.45" y="111.25" width="16.03" height="1.17" fill="#d8cfe4"/>
<rect x="51.45" y="112.17" width="16.03" height="1.17" fill="#ebc4b8"/>
<rect x="51.45" y="113.09" width="16.03" height="1.17" fill="#fce3dc"/>
<rect x="51.45" y="114" width="16.03" height="1.17" fill="#f2c9be"/>
<rect x="51.45" y="114.92" width="16.03" height="1.17" fill="#fad1c5"/>
<rect x="51.45" y="115.84" width="16.03" height="1.17" fill="#f8c4b4"/>
<rect x="51.45" y="116.76" width="16.03" height="1.17" fill="#f9c7b8"/>
<rect x="51.45" y="117.68" width="16.03" height="1.17" fill="#fce1d9"/>
<rect x="51.45" y="118.6" width="16.03" height="1.17" fill="#f9c8ba"/>
<rect x="51.45" y="119.52" width="16.03" height="1.17" fill="#f9c8ba"/>
<rect x="51.45" y="120.44" width="16.03" height="1.17" fill="#e35e4e"/>
<rect x="51.45" y="121.35" width="16.03" height="1.17" fill="#d95a4b"/>
<rect x="51.45" y="122.27" width="16.03" height="1.17" fill="#d95a4b"/>
<rect x="51.45" y="123.19" width="16.03" height="1.17" fill="#9e91b3"/>
<rect x="51.45" y="124.11" width="16.03" height="1.17" fill="#c6b6df"/>
<rect x="51.45" y="125.03" width="16.03" height="1.17" fill="#b9aad2"/>
<rect x="51.45" y="125.95" width="16.03" height="1.17" fill="#c7b8e0"/>
<rect x="51.45" y="126.87" width="16.03" height="1.17" fill="#b6a7ce"/>
<rect x="51.45" y="127.78" width="16.03" height="1.17" fill="#c2b2db"/>
<rect x="51.45" y="128.7" width="16.03" height="1.17" fill="#c2b2dc"/>
<rect x="51.45" y="129.62" width="16.03" height="1.17" fill="#c6b6df"/>
<rect x="51.45" y="130.54" width="16.03" height="1.17" fill="#fbe6e2"/>
<rect x="51.45" y="131.46" width="16.03" height="1.17" fill="#e9d5d2"/>
<rect x="51.45" y="132.38" width="16.03" height="1.17" fill="#f8e4e0"/>
<rect x="51.45" y="133.3" width="16.03" height="1.17" fill="#fae5e1"/>
<rect x="51.45" y="134.22" width="16.03" height="1.17" fill="#eedad6"/>
<rect x="51.45" y="135.13" width="16.03" height="1.17" fill="#fdf0f0"/>
<rect x="51.45" y="136.05" width="16.03" height="1.17" fill="#f2e5e5"/>
<rect x="51.45" y="136.97" width="16.03" height="1.17" fill="#fbeeee"/>
<rect x="51.45" y="137.89" width="16.03" height="1.17" fill="#fdf0f0"/>
<rect x="51.45" y="138.81" width="16.03" height="1.17" fill="#fdf1f1"/>
<rect x="51.45" y="139.73" width="16.03" height="1.17" fill="#eee1e1"/>
<rect x="51.45" y="140.65" width="16.03" height="1.17" fill="#b6accb"/>
<rect x="51.45" y="141.56" width="16.03" height="1.17" fill="#cdc2e3"/>
<rect x="51.45" y="142.48" width="16.03" height="1.17" fill="#d4cae7"/>
<rect x="51.45" y="143.4" width="16.03" height="1.17" fill="#d3c9e6"/>
<rect x="51.45" y="144.32" width="16.03" height="1.17" fill="#d1c6e5"/>
<rect x="51.45" y="145.24" width="16.03" height="1.17" fill="#ccc0e2"/>
<rect x="51.45" y="146.16" width="16.03" height="1.17" fill="#cbc0e2"/>
<rect x="51.45" y="147.08" width="16.03" height="1.17" fill="#c9bee0"/>
<rect x="51.45" y="148" width="16.03" height="1.17" fill="#cdc2e3"/>
<rect x="51.45" y="148.91" width="16.03" height="1.17" fill="#c2b7d8"/>
<rect x="51.45" y="149.83" width="16.03" height="1.17" fill="#cec4e4"/>
<rect x="51.45" y="150.75" width="16.03" height="1.17" fill="#d6cde8"/>
<rect x="51.45" y="151.67" width="16.03" height="1.17" fill="#cec3e3"/>
<rect x="51.45" y="152.59" width="16.03" height="1.17" fill="#d8d0e9"/>
<rect x="51.45" y="153.51" width="16.03" height="1.17" fill="#beb3d3"/>
<rect x="51.45" y="154.43" width="16.03" height="1.17" fill="#c4b9da"/>
<rect x="51.45" y="155.35" width="16.03" height="1.17" fill="#c5b8de"/>
<rect x="51.45" y="156.26" width="16.03" height="1.17" fill="#b8a8d7"/>
<rect x="51.45" y="157.18" width="16.03" height="1.17" fill="#ac9ccb"/>
<rect x="51.45" y="158.1" width="16.03" height="1.17" fill="#c7badf"/>
<rect x="51.45" y="159.02" width="16.03" height="1.17" fill="#9c8eb9"/>
<rect x="51.45" y="159.94" width="16.03" height="1.17" fill="#baabd8"/>
<rect x="51.45" y="160.86" width="16.03" height="1.17" fill="#c3b5dd"/>
<rect x="51.45" y="161.78" width="16.03" height="1.17" fill="#b3a3d4"/>
<rect x="51.45" y="162.69" width="16.03" height="1.17" fill="#ac9cca"/>
<rect x="51.45" y="163.61" width="16.03" height="1.17" fill="#b3a3d4"/>
<rect x="51.45" y="164.53" width="16.03" height="1.17" fill="#af9fcf"/>
<rect x="51.45" y="165.45" width="16.03" height="1.17" fill="#e4dbea"/>
<rect x="51.45" y="166.37" width="16.03" height="1.17" fill="#e9e0ef"/>
<rect x="51.45" y="167.29" width="16.03" height="1.17" fill="#e7deed"/>
<rect x="51.45" y="168.21" width="16.03" height="1.17" fill="#e0d7e6"/>
<rect x="51.45" y="169.13" width="16.03" height="1.17" fill="#dcd4e2"/>
<rect x="51.45" y="170.04" width="16.03" height="1.17" fill="#d4ccd9"/>
<rect x="51.45" y="170.96" width="16.03" height="1.17" fill="#ebe3f1"/>
<rect x="51.45" y="171.88" width="16.03" height="1.17" fill="#ddd4e2"/>
<rect x="67.18" y="5.6" width="16.03" height="1.17" fill="#f9c8ba"/>
<rect x="67.18" y="6.52" width="16.03" height="1.17" fill="#eeb8a9"/>
<rect x="67.18" y="7.44" width="16.03" height="1.17" fill="#facfc3"/>
<rect x="67.18" y="8.36" width="16.03" height="1.17" fill="#f9cabc"/>
<rect x="67.18" y="9.27" width="16.03" height="1.17" fill="#f4bdad"/>
<rect x="67.18" y="10.19" width="16.03" height="1.17" fill="#f7bfaf"/>
<rect x="67.18" y="11.11" width="16.03" height="1.17" fill="#f8c0b0"/>
<rect x="67.18" y="12.03" width="16.03" height="1.17" fill="#f9cbbe"/>
<rect x="67.18" y="12.95" width="16.03" height="1.17" fill="#f8c0b0"/>
<rect x="67.18" y="13.87" width="16.03" height="1.17" fill="#edb7a8"/>
<rect x="67.18" y="14.79" width="16.03" height="1.17" fill="#f9c5b7"/>
<rect x="67.18" y="15.71" width="16.03" height="1.17" fill="#fbddd5"/>
<rect x="67.18" y="16.62" width="16.03" height="1.17" fill="#f8c0b0"/>
<rect x="67.18" y="17.54" width="16.03" height="1.17" fill="#e9b5a6"/>
<rect x="67.18" y="18.46" width="16.03" height="1.17" fill="#f8c3b4"/>
<rect x="67.18" y="19.38" width="16.03" height="1.17" fill="#f9c7b9"/>
<rect x="67.18" y="20.3" width="16.03" height="1.17" fill="#d1c8df"/>
<rect x="67.18" y="21.22" width="16.03" height="1.17" fill="#cbc1d8"/>
<rect x="67.18" y="22.14" width="16.03" height="1.17" fill="#e1d8ee"/>
<rect x="67.18" y="23.05" width="16.03" height="1.17" fill="#cdc4db"/>
<rect x="67.18" y="23.97" width="16.03" height="1.17" fill="#e1d7ee"/>
<rect x="67.18" y="24.89" width="16.03" height="1.17" fill="#d3c6e6"/>
<rect x="67.18" y="25.81" width="16.03" height="1.17" fill="#ccbde2"/>
<rect x="67.18" y="26.73" width="16.03" height="1.17" fill="#d1c3e5"/>
<rect x="67.18" y="27.65" width="16.03" height="1.17" fill="#ccbde3"/>
<rect x="67.18" y="28.57" width="16.03" height="1.17" fill="#c3b4d8"/>
<rect x="67.18" y="29.49" width="16.03" height="1.17" fill="#e5ddf0"/>
<rect x="67.18" y="30.4" width="16.03" height="1.17" fill="#c4b6da"/>
<rect x="67.18" y="31.32" width="16.03" height="1.17" fill="#b5a7c9"/>
<rect x="67.18" y="32.24" width="16.03" height="1.17" fill="#c0b2d6"/>
<rect x="67.18" y="33.16" width="16.03" height="1.17" fill="#d1c4e5"/>
<rect x="67.18" y="34.08" width="16.03" height="1.17" fill="#ccbde2"/>
<rect x="67.18" y="35" width="16.03" height="1.17" fill="#faf6f8"/>
<rect x="67.18" y="35.92" width="16.03" height="1.17" fill="#fdf9fb"/>
<rect x="67.18" y="36.84" width="16.03" height="1.17" fill="#ebe7e9"/>
<rect x="67.18" y="37.75" width="16.03" height="1.17" fill="#f4f0f2"/>
<rect x="67.18" y="38.67" width="16.03" height="1.17" fill="#fcf8fa"/>
<rect x="67.18" y="39.59" width="16.03" height="1.17" fill="#fcf8fa"/>
<rect x="67.18" y="40.51" width="16.03" height="1.17" fill="#efebed"/>
<rect x="67.18" y="41.43" width="16.03" height="1.17" fill="#efebed"/>
<rect x="67.18" y="42.35" width="16.03" height="1.17" fill="#fcf9fb"/>
<rect x="67.18" y="43.27" width="16.03" height="1.17" fill="#fcf9fa"/>
<rect x="67.18" y="44.18" width="16.03" height="1.17" fill="#fcf9fa"/>
<rect x="67.18" y="45.1" width="16.03" height="1.17" fill="#fcf9fb"/>
<rect x="67.18" y="46.02" width="16.03" height="1.17" fill="#fcf9fa"/>
<rect x="67.18" y="46.94" width="16.03" height="1.17" fill="#fcf8fa"/>
<rect x="67.18" y="47.86" width="16.03" height="1.17" fill="#fad5ca"/>
<rect x="67.18" y="48.78" width="16.03" height="1.17" fill="#f9d3c7"/>
<rect x="67.18" y="49.7" width="16.03" height="1.17" fill="#fad6cb"/>
<rect x="67.18" y="50.62" width="16.03" height="1.17" fill="#f9d3c7"/>
<rect x="67.18" y="51.53" width="16.03" height="1.17" fill="#fad7cc"/>
<rect x="67.18" y="52.45" width="16.03" height="1.17" fill="#fad5c9"/>
<rect x="67.18" y="53.37" width="16.03" height="1.17" fill="#f0ccc0"/>
<rect x="67.18" y="54.29" width="16.03" height="1.17" fill="#fad6cb"/>
<rect x="67.18" y="55.21" width="16.03" height="1.17" fill="#fce2da"/>
<rect x="67.18" y="56.13" width="16.03" height="1.17" fill="#fad7cc"/>
<rect x="67.18" y="57.05" width="16.03" height="1.17" fill="#fad4c9"/>
<rect x="67.18" y="57.96" width="16.03" height="1.17" fill="#cfc5e4"/>
<rect x="67.18" y="58.88" width="16.03" height="1.17" fill="#b0a6c4"/>
<rect x="67.18" y="59.8" width="16.03" height="1.17" fill="#cec3e4"/>
<rect x="67.18" y="60.72" width="16.03" height="1.17" fill="#e3dcef"/>
<rect x="67.18" y="61.64" width="16.03" height="1.17" fill="#c9bee0"/>
<rect x="67.18" y="62.56" width="16.03" height="1.17" fill="#d0c5e5"/>
<rect x="67.18" y="63.48" width="16.03" height="1.17" fill="#cdc2e3"/>
<rect x="67.18" y="64.4" width="16.03" height="1.17" fill="#b6acca"/>
<rect x="67.18" y="65.31" width="16.03" height="1.17" fill="#beb3d3"/>
<rect x="67.18" y="66.23" width="16.03" height="1.17" fill="#cec3e4"/>
<rect x="67.18" y="67.15" width="16.03" height="1.17" fill="#c1b7d7"/>
<rect x="67.18" y="68.07" width="16.03" height="1.17" fill="#c7bcdd"/>
<rect x="67.18" y="68.99" width="16.03" height="1.17" fill="#cec3e4"/>
<rect x="67.18" y="69.91" width="16.03" height="1.17" fill="#ccc1e3"/>
<rect x="67.18" y="70.83" width="16.03" height="1.17" fill="#cfc4e4"/>
<rect x="67.18" y="71.75" width="16.03" height="1.17" fill="#a79eba"/>
<rect x="67.18" y="72.66" width="16.03" height="1.17" fill="#d1c7e5"/>
<rect x="67.18" y="73.58" width="16.03" height="1.17" fill="#cdc2e3"/>
<rect x="67.18" y="74.5" width="16.03" height="1.17" fill="#d0c6e5"/>
<rect x="67.18" y="75.42" width="16.03" height="1.17" fill="#e0d9ee"/>
<rect x="67.18" y="76.34" width="16.03" height="1.17" fill="#cfc4e4"/>
<rect x="67.18" y="77.26" width="16.03" height="1.17" fill="#b6acca"/>
<rect x="67.18" y="78.18" width="16.03" height="1.17" fill="#d3c9e6"/>
<rect x="67.18" y="79.09" width="16.03" height="1.17" fill="#c7bcdd"/>
<rect x="67.18" y="80.01" width="16.03" height="1.17" fill="#cec3e3"/>
<rect x="67.18" y="80.93" width="16.03" height="1.17" fill="#ccc1e3"/>
<rect x="67.18" y="81.85" width="16.03" height="1.17" fill="#e2dbef"/>
<rect x="67.18" y="82.77" width="16.03" height="1.17" fill="#c8bcde"/>
<rect x="67.18" y="83.69" width="16.03" height="1.17" fill="#cdc2e3"/>
<rect x="67.18" y="84.61" width="16.03" height="1.17" fill="#ccc1e3"/>
<rect x="67.18" y="85.53" width="16.03" height="1.17" fill="#bdb2d2"/>
<rect x="67.18" y="86.44" width="16.03" height="1.17" fill="#cbc0e2"/>
<rect x="67.18" y="87.36" width="16.03" height="1.17" fill="#cdc2e3"/>
<rect x="67.18" y="88.28" width="16.03" height="1.17" fill="#d0c5e5"/>
<rect x="67.18" y="89.2" width="16.03" height="1.17" fill="#ccc1e3"/>
<rect x="67.18" y="90.12" width="16.03" height="1.17" fill="#d1c6e5"/>
<rect x="67.18" y="91.04" width="16.03" height="1.17" fill="#d1c7e6"/>
<rect x="67.18" y="91.96" width="16.03" height="1.17" fill="#c8bdde"/>
<rect x="67.18" y="92.87" width="16.03" height="1.17" fill="#c5badc"/>
<rect x="67.18" y="93.79" width="16.03" height="1.17" fill="#c8bddf"/>
<rect x="67.18" y="94.71" width="16.03" height="1.17" fill="#bfb5d5"/>
<rect x="67.18" y="95.63" width="16.03" height="1.17" fill="#ccc1e3"/>
<rect x="67.18" y="96.55" width="16.03" height="1.17" fill="#d0c5e5"/>
<rect x="67.18" y="97.47" width="16.03" height="1.17" fill="#ccc1e3"/>
<rect x="67.18" y="98.39" width="16.03" height="1.17" fill="#ccc0e2"/>
<rect x="67.18" y="99.31" width="16.03" height="1.17" fill="#d0c6e5"/>
<rect x="67.18" y="100.22" width="16.03" height="1.17" fill="#aca3c0"/>
<rect x="67.18" y="101.14" width="16.03" height="1.17" fill="#cfc4e4"/>
<rect x="67.18" y="102.06" width="16.03" height="1.17" fill="#c7bcde"/>
<rect x="67.18" y="102.98" width="16.03" height="1.17" fill="#d5cce8"/>
<rect x="67.18" y="103.9" width="16.03" height="1.17" fill="#c5badb"/>
<rect x="67.18" y="104.82" width="16.03" height="1.17" fill="#d0c6e5"/>
<rect x="67.18" y="105.74" width="16.03" height="1.17" fill="#cec4e4"/>
<rect x="67.18" y="106.65" width="16.03" height="1.17" fill="#c3b8d9"/>
<rect x="67.18" y="107.57" width="16.03" height="1.17" fill="#e4daf0"/>
<rect x="67.18" y="108.49" width="16.03" height="1.17" fill="#e4daf0"/>
<rect x="67.18" y="109.41" width="16.03" height="1.17" fill="#e4dbf0"/>
<rect x="67.18" y="110.33" width="16.03" height="1.17" fill="#ddd3e9"/>
<rect x="67.18" y="111.25" width="16.03" height="1.17" fill="#d9d0e6"/>
<rect x="67.18" y="112.17" width="16.03" height="1.17" fill="#f2cabe"/>
<rect x="67.18" y="113.09" width="16.03" height="1.17" fill="#fad1c6"/>
<rect x="67.18" y="114" width="16.03" height="1.17" fill="#fce5de"/>
<rect x="67.18" y="114.92" width="16.03" height="1.17" fill="#f2cabe"/>
<rect x="67.18" y="115.84" width="16.03" height="1.17" fill="#fad4ca"/>
<rect x="67.18" y="116.76" width="16.03" height="1.17" fill="#fad2c6"/>
<rect x="67.18" y="117.68" width="16.03" height="1.17" fill="#eedcd9"/>
<rect x="67.18" y="118.6" width="16.03" height="1.17" fill="#f4e2de"/>
<rect x="67.18" y="119.52" width="16.03" height="1.17" fill="#fdece8"/>
<rect x="67.18" y="120.44" width="16.03" height="1.17" fill="#fdeae6"/>
<rect x="67.18" y="121.35" width="16.03" height="1.17" fill="#fbe8e4"/>
<rect x="67.18" y="122.27" width="16.03" height="1.17" fill="#ef9a8c"/>
<rect x="67.18" y="123.19" width="16.03" height="1.17" fill="#d2796b"/>
<rect x="67.18" y="124.11" width="16.03" height="1.17" fill="#d57b6c"/>
<rect x="67.18" y="125.03" width="16.03" height="1.17" fill="#ef9b8e"/>
<rect x="67.18" y="125.95" width="16.03" height="1.17" fill="#e38374"/>
<rect x="67.18" y="126.87" width="16.03" height="1.17" fill="#e08172"/>
<rect x="67.18" y="127.78" width="16.03" height="1.17" fill="#ed8f7f"/>
<rect x="67.18" y="128.7" width="16.03" height="1.17" fill="#ed9082"/>
<rect x="67.18" y="129.62" width="16.03" height="1.17" fill="#f3b6ac"/>
<rect x="67.18" y="130.54" width="16.03" height="1.17" fill="#e08172"/>
<rect x="67.18" y="131.46" width="16.03" height="1.17" fill="#eb8878"/>
<rect x="67.18" y="132.38" width="16.03" height="1.17" fill="#ed8d7d"/>
<rect x="67.18" y="133.3" width="16.03" height="1.17" fill="#ed8e7f"/>
<rect x="67.18" y="134.22" width="16.03" height="1.17" fill="#ded4ed"/>
<rect x="67.18" y="135.13" width="16.03" height="1.17" fill="#ded4ed"/>
<rect x="67.18" y="136.05" width="16.03" height="1.17" fill="#ded4ed"/>
<rect x="67.18" y="136.97" width="16.03" height="1.17" fill="#e2d9ef"/>
<rect x="67.18" y="137.89" width="16.03" height="1.17" fill="#d2c8e0"/>
<rect x="67.18" y="138.81" width="16.03" height="1.17" fill="#d2c9e0"/>
<rect x="67.18" y="139.73" width="16.03" height="1.17" fill="#d8cee6"/>
<rect x="67.18" y="140.65" width="16.03" height="1.17" fill="#e1d7ee"/>
<rect x="67.18" y="141.56" width="16.03" height="1.17" fill="#dad0e8"/>
<rect x="67.18" y="142.48" width="16.03" height="1.17" fill="#cac1d7"/>
<rect x="67.18" y="143.4" width="16.03" height="1.17" fill="#f8baaa"/>
<rect x="67.18" y="144.32" width="16.03" height="1.17" fill="#f0b2a3"/>
<rect x="67.18" y="145.24" width="16.03" height="1.17" fill="#ebae9f"/>
<rect x="67.18" y="146.16" width="16.03" height="1.17" fill="#d5cbe5"/>
<rect x="67.18" y="147.08" width="16.03" height="1.17" fill="#d1c7e0"/>
<rect x="67.18" y="148" width="16.03" height="1.17" fill="#d8cee8"/>
<rect x="67.18" y="148.91" width="16.03" height="1.17" fill="#dcd2ec"/>
<rect x="67.18" y="149.83" width="16.03" height="1.17" fill="#ded5ed"/>
<rect x="67.18" y="150.75" width="16.03" height="1.17" fill="#dcd2eb"/>
<rect x="67.18" y="151.67" width="16.03" height="1.17" fill="#dbd1eb"/>
<rect x="67.18" y="152.59" width="16.03" height="1.17" fill="#b1a2c8"/>
<rect x="67.18" y="153.51" width="16.03" height="1.17" fill="#c7b8e0"/>
<rect x="67.18" y="154.43" width="16.03" height="1.17" fill="#ccbee2"/>
<rect x="67.18" y="155.35" width="16.03" height="1.17" fill="#b2a4ca"/>
<rect x="67.18" y="156.26" width="16.03" height="1.17" fill="#afa1c6"/>
<rect x="67.18" y="157.18" width="16.03" height="1.17" fill="#c3b3dd"/>
<rect x="67.18" y="158.1" width="16.03" height="1.17" fill="#c4b4de"/>
<rect x="67.18" y="159.02" width="16.03" height="1.17" fill="#cdc0e3"/>
<rect x="67.18" y="159.94" width="16.03" height="1.17" fill="#f5f0f8"/>
<rect x="67.18" y="160.86" width="16.03" height="1.17" fill="#d8d4db"/>
<rect x="67.18" y="161.78" width="16.03" height="1.17" fill="#e0dce3"/>
<rect x="67.18" y="162.69" width="16.03" height="1.17" fill="#f5f1f8"/>
<rect x="67.18" y="163.61" width="16.03" height="1.17" fill="#f5f0f8"/>
<rect x="67.18" y="164.53" width="16.03" height="1.17" fill="#ede9f0"/>
<rect x="67.18" y="165.45" width="16.03" height="1.17" fill="#faf7fb"/>
<rect x="67.18" y="166.37" width="16.03" height="1.17" fill="#f5f1f8"/>
<rect x="67.18" y="167.29" width="16.03" height="1.17" fill="#f5f1f8"/>
<rect x="67.18" y="168.21" width="16.03" height="1.17" fill="#f3eff6"/>
<rect x="67.18" y="169.13" width="16.03" height="1.17" fill="#eae6ed"/>
<rect x="67.18" y="170.04" width="16.03" height="1.17" fill="#eae5ed"/>
<rect x="67.18" y="170.96" width="16.03" height="1.17" fill="#f6f2f9"/>
<rect x="67.18" y="171.88" width="16.03" height="1.17" fill="#f5f1f8"/>
<rect x="82.9" y="5.6" width="16.03" height="1.17" fill="#53379f"/>
<rect x="82.9" y="6.52" width="16.03" height="1.17" fill="#7057b1"/>
<rect x="82.9" y="7.44" width="16.03" height="1.17" fill="#5538a1"/>
<rect x="82.9" y="8.36" width="16.03" height="1.17" fill="#593ca4"/>
<rect x="82.9" y="9.27" width="16.03" height="1.17" fill="#52369d"/>
<rect x="82.9" y="10.19" width="16.03" height="1.17" fill="#6044a8"/>
<rect x="82.9" y="11.11" width="16.03" height="1.17" fill="#5437a0"/>
<rect x="82.9" y="12.03" width="16.03" height="1.17" fill="#ece7f4"/>
<rect x="82.9" y="12.95" width="16.03" height="1.17" fill="#8670be"/>
<rect x="82.9" y="13.87" width="16.03" height="1.17" fill="#785fb6"/>
<rect x="82.9" y="14.79" width="16.03" height="1.17" fill="#7b63b9"/>
<rect x="82.9" y="15.71" width="16.03" height="1.17" fill="#755db2"/>
<rect x="82.9" y="16.62" width="16.03" height="1.17" fill="#826bbc"/>
<rect x="82.9" y="17.54" width="16.03" height="1.17" fill="#775eb4"/>
<rect x="82.9" y="18.46" width="16.03" height="1.17" fill="#785fb6"/>
<rect x="82.9" y="19.38" width="16.03" height="1.17" fill="#7b63b9"/>
<rect x="82.9" y="20.3" width="16.03" height="1.17" fill="#f2f0f3"/>
<rect x="82.9" y="21.22" width="16.03" height="1.17" fill="#b6a6d2"/>
<rect x="82.9" y="22.14" width="16.03" height="1.17" fill="#b6a7d3"/>
<rect x="82.9" y="23.05" width="16.03" height="1.17" fill="#c0b1dc"/>
<rect x="82.9" y="23.97" width="16.03" height="1.17" fill="#c1b2dc"/>
<rect x="82.9" y="24.89" width="16.03" height="1.17" fill="#b6a6d3"/>
<rect x="82.9" y="25.81" width="16.03" height="1.17" fill="#9689ad"/>
<rect x="82.9" y="26.73" width="16.03" height="1.17" fill="#bfafdb"/>
<rect x="82.9" y="27.65" width="16.03" height="1.17" fill="#b1a1cc"/>
<rect x="82.9" y="28.57" width="16.03" height="1.17" fill="#bdadda"/>
<rect x="82.9" y="29.49" width="16.03" height="1.17" fill="#c4b6de"/>
<rect x="82.9" y="30.4" width="16.03" height="1.17" fill="#c6b7df"/>
<rect x="82.9" y="31.32" width="16.03" height="1.17" fill="#bfb0d8"/>
<rect x="82.9" y="32.24" width="16.03" height="1.17" fill="#d2c5e6"/>
<rect x="82.9" y="33.16" width="16.03" height="1.17" fill="#afa1c6"/>
<rect x="82.9" y="34.08" width="16.03" height="1.17" fill="#8972c0"/>
<rect x="82.9" y="35" width="16.03" height="1.17" fill="#8871c0"/>
<rect x="82.9" y="35.92" width="16.03" height="1.17" fill="#826abc"/>
<rect x="82.9" y="36.84" width="16.03" height="1.17" fill="#7861b0"/>
<rect x="82.9" y="37.75" width="16.03" height="1.17" fill="#917cc4"/>
<rect x="82.9" y="38.67" width="16.03" height="1.17" fill="#8972c0"/>
<rect x="82.9" y="39.59" width="16.03" height="1.17" fill="#beb1dc"/>
<rect x="82.9" y="40.51" width="16.03" height="1.17" fill="#8972c0"/>
<rect x="82.9" y="41.43" width="16.03" height="1.17" fill="#745ea9"/>
<rect x="82.9" y="42.35" width="16.03" height="1.17" fill="#8871c0"/>
<rect x="82.9" y="43.27" width="16.03" height="1.17" fill="#735da8"/>
<rect x="82.9" y="44.18" width="16.03" height="1.17" fill="#9a86c9"/>
<rect x="82.9" y="45.1" width="16.03" height="1.17" fill="#937ec5"/>
<rect x="82.9" y="46.02" width="16.03" height="1.17" fill="#bfb3dd"/>
<rect x="82.9" y="46.94" width="16.03" height="1.17" fill="#9c89ca"/>
<rect x="82.9" y="47.86" width="16.03" height="1.17" fill="#7b63b3"/>
<rect x="82.9" y="48.78" width="16.03" height="1.17" fill="#8871c0"/>
<rect x="82.9" y="49.7" width="16.03" height="1.17" fill="#7962b1"/>
<rect x="82.9" y="50.62" width="16.03" height="1.17" fill="#8e78c3"/>
<rect x="82.9" y="51.53" width="16.03" height="1.17" fill="#8a73c1"/>
<rect x="82.9" y="52.45" width="16.03" height="1.17" fill="#7d65b6"/>
<rect x="82.9" y="53.37" width="16.03" height="1.17" fill="#8068bb"/>
<rect x="82.9" y="54.29" width="16.03" height="1.17" fill="#7b64b4"/>
<rect x="82.9" y="55.21" width="16.03" height="1.17" fill="#7f66b9"/>
<rect x="82.9" y="56.13" width="16.03" height="1.17" fill="#7c64b5"/>
<rect x="82.9" y="57.05" width="16.03" height="1.17" fill="#bdb0dc"/>
<rect x="82.9" y="57.96" width="16.03" height="1.17" fill="#c9bae1"/>
<rect x="82.9" y="58.88" width="16.03" height="1.17" fill="#beaed7"/>
<rect x="82.9" y="59.8" width="16.03" height="1.17" fill="#cabce2"/>
<rect x="82.9" y="60.72" width="16.03" height="1.17" fill="#c8b9e0"/>
<rect x="82.9" y="61.64" width="16.03" height="1.17" fill="#bdaed6"/>
<rect x="82.9" y="62.56" width="16.03" height="1.17" fill="#cabce1"/>
<rect x="82.9" y="63.48" width="16.03" height="1.17" fill="#c3b3dd"/>
<rect x="82.9" y="64.4" width="16.03" height="1.17" fill="#b4a6cc"/>
<rect x="82.9" y="65.31" width="16.03" height="1.17" fill="#c9bae1"/>
<rect x="82.9" y="66.23" width="16.03" height="1.17" fill="#b7a8d0"/>
<rect x="82.9" y="67.15" width="16.03" height="1.17" fill="#aa9cc1"/>
<rect x="82.9" y="68.07" width="16.03" height="1.17" fill="#aea0c5"/>
<rect x="82.9" y="68.99" width="16.03" height="1.17" fill="#d2c6e6"/>
<rect x="82.9" y="69.91" width="16.03" height="1.17" fill="#b8a9d0"/>
<rect x="82.9" y="70.83" width="16.03" height="1.17" fill="#cabbe1"/>
<rect x="82.9" y="71.75" width="16.03" height="1.17" fill="#cdbfe3"/>
<rect x="82.9" y="72.66" width="16.03" height="1.17" fill="#b5a6cd"/>
<rect x="82.9" y="73.58" width="16.03" height="1.17" fill="#bfafd8"/>
<rect x="82.9" y="74.5" width="16.03" height="1.17" fill="#c1b2db"/>
<rect x="82.9" y="75.42" width="16.03" height="1.17" fill="#8a75b4"/>
<rect x="82.9" y="76.34" width="16.03" height="1.17" fill="#9b85c7"/>
<rect x="82.9" y="77.26" width="16.03" height="1.17" fill="#9882c5"/>
<rect x="82.9" y="78.18" width="16.03" height="1.17" fill="#a591cc"/>
<rect x="82.9" y="79.09" width="16.03" height="1.17" fill="#a591cc"/>
<rect x="82.9" y="80.01" width="16.03" height="1.17" fill="#b7a7d7"/>
<rect x="82.9" y="80.93" width="16.03" height="1.17" fill="#a091bd"/>
<rect x="82.9" y="81.85" width="16.03" height="1.17" fill="#a797c5"/>
<rect x="82.9" y="82.77" width="16.03" height="1.17" fill="#c1b3dc"/>
<rect x="82.9" y="83.69" width="16.03" height="1.17" fill="#b4a3d4"/>
<rect x="82.9" y="84.61" width="16.03" height="1.17" fill="#bcadda"/>
<rect x="82.9" y="85.53" width="16.03" height="1.17" fill="#b4a3d5"/>
<rect x="82.9" y="86.44" width="16.03" height="1.17" fill="#bdafda"/>
<rect x="82.9" y="87.36" width="16.03" height="1.17" fill="#b4a3d4"/>
<rect x="82.9" y="88.28" width="16.03" height="1.17" fill="#ad9ec7"/>
<rect x="82.9" y="89.2" width="16.03" height="1.17" fill="#a798c1"/>
<rect x="82.9" y="90.12" width="16.03" height="1.17" fill="#988bb0"/>
<rect x="82.9" y="91.04" width="16.03" height="1.17" fill="#baaad7"/>
<rect x="82.9" y="91.96" width="16.03" height="1.17" fill="#baaad7"/>
<rect x="82.9" y="92.87" width="16.03" height="1.17" fill="#b4a4d0"/>
<rect x="82.9" y="93.79" width="16.03" height="1.17" fill="#a698c0"/>
<rect x="82.9" y="94.71" width="16.03" height="1.17" fill="#b7a7d4"/>
<rect x="82.9" y="95.63" width="16.03" height="1.17" fill="#baaad6"/>
<rect x="82.9" y="96.55" width="16.03" height="1.17" fill="#b9a9d6"/>
<rect x="82.9" y="97.47" width="16.03" height="1.17" fill="#b4a4d0"/>
<rect x="82.9" y="98.39" width="16.03" height="1.17" fill="#bdacda"/>
<rect x="82.9" y="99.31" width="16.03" height="1.17" fill="#bdadda"/>
<rect x="82.9" y="100.22" width="16.03" height="1.17" fill="#e7e5e9"/>
<rect x="82.9" y="101.14" width="16.03" height="1.17" fill="#fbf8fc"/>
<rect x="82.9" y="102.06" width="16.03" height="1.17" fill="#e6e0f1"/>
<rect x="82.9" y="102.98" width="16.03" height="1.17" fill="#d8cfe9"/>
<rect x="82.9" y="103.9" width="16.03" height="1.17" fill="#c1b7d3"/>
<rect x="82.9" y="104.82" width="16.03" height="1.17" fill="#c0b6d2"/>
<rect x="82.9" y="105.74" width="16.03" height="1.17" fill="#d8cfe9"/>
<rect x="82.9" y="106.65" width="16.03" height="1.17" fill="#dfd7ed"/>
<rect x="82.9" y="107.57" width="16.03" height="1.17" fill="#d9cfea"/>
<rect x="82.9" y="108.49" width="16.03" height="1.17" fill="#d8cee9"/>
<rect x="82.9" y="109.41" width="16.03" height="1.17" fill="#c5bad7"/>
<rect x="82.9" y="110.33" width="16.03" height="1.17" fill="#b3a2d3"/>
<rect x="82.9" y="111.25" width="16.03" height="1.17" fill="#b5a5d6"/>
<rect x="82.9" y="112.17" width="16.03" height="1.17" fill="#af9fce"/>
<rect x="82.9" y="113.09" width="16.03" height="1.17" fill="#6f55ad"/>
<rect x="82.9" y="114" width="16.03" height="1.17" fill="#765cb5"/>
<rect x="82.9" y="114.92" width="16.03" height="1.17" fill="#7a60b7"/>
<rect x="82.9" y="115.84" width="16.03" height="1.17" fill="#785eb6"/>
<rect x="82.9" y="116.76" width="16.03" height="1.17" fill="#785eb6"/>
<rect x="82.9" y="117.68" width="16.03" height="1.17" fill="#7056af"/>
<rect x="82.9" y="118.6" width="16.03" height="1.17" fill="#faf8fc"/>
<rect x="82.9" y="119.52" width="16.03" height="1.17" fill="#f9f7fb"/>
<rect x="82.9" y="120.44" width="16.03" height="1.17" fill="#eceaee"/>
<rect x="82.9" y="121.35" width="16.03" height="1.17" fill="#ccbee3"/>
<rect x="82.9" y="122.27" width="16.03" height="1.17" fill="#cec0e3"/>
<rect x="82.9" y="123.19" width="16.03" height="1.17" fill="#bcaed3"/>
<rect x="82.9" y="124.11" width="16.03" height="1.17" fill="#cbbce2"/>
<rect x="82.9" y="125.03" width="16.03" height="1.17" fill="#bdaed4"/>
<rect x="82.9" y="125.95" width="16.03" height="1.17" fill="#cfc1e4"/>
<rect x="82.9" y="126.87" width="16.03" height="1.17" fill="#c2b3da"/>
<rect x="82.9" y="127.78" width="16.03" height="1.17" fill="#d3c6e6"/>
<rect x="82.9" y="128.7" width="16.03" height="1.17" fill="#c2b3d9"/>
<rect x="82.9" y="129.62" width="16.03" height="1.17" fill="#b1a2cd"/>
<rect x="82.9" y="130.54" width="16.03" height="1.17" fill="#bcabd9"/>
<rect x="82.9" y="131.46" width="16.03" height="1.17" fill="#ad9ec8"/>
<rect x="82.9" y="132.38" width="16.03" height="1.17" fill="#b4a5d0"/>
<rect x="82.9" y="133.3" width="16.03" height="1.17" fill="#bfafdb"/>
<rect x="82.9" y="134.22" width="16.03" height="1.17" fill="#f4e8e8"/>
<rect x="82.9" y="135.13" width="16.03" height="1.17" fill="#fbf1f1"/>
<rect x="82.9" y="136.05" width="16.03" height="1.17" fill="#f3e8e8"/>
<rect x="82.9" y="136.97" width="16.03" height="1.17" fill="#faeeee"/>
<rect x="82.9" y="137.89" width="16.03" height="1.17" fill="#eee3e3"/>
<rect x="82.9" y="138.81" width="16.03" height="1.17" fill="#faefef"/>
<rect x="82.9" y="139.73" width="16.03" height="1.17" fill="#eadfdf"/>
<rect x="82.9" y="140.65" width="16.03" height="1.17" fill="#f0e4e4"/>
<rect x="82.9" y="141.56" width="16.03" height="1.17" fill="#f9c5b6"/>
<rect x="82.9" y="142.48" width="16.03" height="1.17" fill="#f8c3b4"/>
<rect x="82.9" y="143.4" width="16.03" height="1.17" fill="#f1bbab"/>
<rect x="82.9" y="144.32" width="16.03" height="1.17" fill="#ac9ccb"/>
<rect x="82.9" y="145.24" width="16.03" height="1.17" fill="#bfb1db"/>
<rect x="82.9" y="146.16" width="16.03" height="1.17" fill="#b6a6d6"/>
<rect x="82.9" y="147.08" width="16.03" height="1.17" fill="#ac9ccb"/>
<rect x="82.9" y="148" width="16.03" height="1.17" fill="#b6a6d6"/>
<rect x="82.9" y="148.91" width="16.03" height="1.17" fill="#c9bce1"/>
<rect x="82.9" y="149.83" width="16.03" height="1.17" fill="#e9e5ee"/>
<rect x="82.9" y="150.75" width="16.03" height="1.17" fill="#f2edf6"/>
<rect x="82.9" y="151.67" width="16.03" height="1.17" fill="#dedae3"/>
<rect x="82.9" y="152.59" width="16.03" height="1.17" fill="#f2eef6"/>
<rect x="82.9" y="153.51" width="16.03" height="1.17" fill="#f1edf6"/>
<rect x="82.9" y="154.43" width="16.03" height="1.17" fill="#f2edf6"/>
<rect x="82.9" y="155.35" width="16.03" height="1.17" fill="#f5f2f8"/>
<rect x="82.9" y="156.26" width="16.03" height="1.17" fill="#f2edf6"/>
<rect x="82.9" y="157.18" width="16.03" height="1.17" fill="#f2edf6"/>
<rect x="82.9" y="158.1" width="16.03" height="1.17" fill="#f2edf6"/>
<rect x="82.9" y="159.02" width="16.03" height="1.17" fill="#f3eef7"/>
<rect x="82.9" y="159.94" width="16.03" height="1.17" fill="#dad0ea"/>
<rect x="82.9" y="160.86" width="16.03" height="1.17" fill="#e1d9ee"/>
<rect x="82.9" y="161.78" width="16.03" height="1.17" fill="#efebf6"/>
<rect x="82.9" y="162.69" width="16.03" height="1.17" fill="#ddd4ec"/>
<rect x="82.9" y="163.61" width="16.03" height="1.17" fill="#dbd1eb"/>
<rect x="82.9" y="164.53" width="16.03" height="1.17" fill="#d9cee9"/>
<rect x="82.9" y="165.45" width="16.03" height="1.17" fill="#d4cae4"/>
<rect x="82.9" y="166.37" width="16.03" height="1.17" fill="#d9cfe9"/>
<rect x="82.9" y="167.29" width="16.03" height="1.17" fill="#d4cae3"/>
<rect x="82.9" y="168.21" width="16.03" height="1.17" fill="#faf8fb"/>
<rect x="82.9" y="169.13" width="16.03" height="1.17" fill="#fbf9fc"/>
<rect x="82.9" y="170.04" width="16.03" height="1.17" fill="#fbf8fc"/>
<rect x="82.9" y="170.96" width="16.03" height="1.17" fill="#faf8fc"/>
<rect x="82.9" y="171.88" width="16.03" height="1.17" fill="#fbf9fc"/>
<rect x="98.62" y="5.6" width="16.03" height="1.17" fill="#7e68b2"/>
<rect x="98.62" y="6.52" width="16.03" height="1.17" fill="#8d75c2"/>
<rect x="98.62" y="7.44" width="16.03" height="1.17" fill="#9b86ca"/>
<rect x="98.62" y="8.36" width="16.03" height="1.17" fill="#9681c7"/>
<rect x="98.62" y="9.27" width="16.03" height="1.17" fill="#8069b4"/>
<rect x="98.62" y="10.19" width="16.03" height="1.17" fill="#876fbe"/>
<rect x="98.62" y="11.11" width="16.03" height="1.17" fill="#b6a8d8"/>
<rect x="98.62" y="12.03" width="16.03" height="1.17" fill="#866ebd"/>
<rect x="98.62" y="12.95" width="16.03" height="1.17" fill="#876fbe"/>
<rect x="98.62" y="13.87" width="16.03" height="1.17" fill="#7b65ae"/>
<rect x="98.62" y="14.79" width="16.03" height="1.17" fill="#7a62b7"/>
<rect x="98.62" y="15.71" width="16.03" height="1.17" fill="#755bb4"/>
<rect x="98.62" y="16.62" width="16.03" height="1.17" fill="#6b53a6"/>
<rect x="98.62" y="17.54" width="16.03" height="1.17" fill="#6952a3"/>
<rect x="98.62" y="18.46" width="16.03" height="1.17" fill="#7d65b8"/>
<rect x="98.62" y="19.38" width="16.03" height="1.17" fill="#7860b6"/>
<rect x="98.62" y="20.3" width="16.03" height="1.17" fill="#ccc1df"/>
<rect x="98.62" y="21.22" width="16.03" height="1.17" fill="#d7cee9"/>
<rect x="98.62" y="22.14" width="16.03" height="1.17" fill="#d8cfe9"/>
<rect x="98.62" y="23.05" width="16.03" height="1.17" fill="#cdc3e0"/>
<rect x="98.62" y="23.97" width="16.03" height="1.17" fill="#eeb8a9"/>
<rect x="98.62" y="24.89" width="16.03" height="1.17" fill="#f8c3b4"/>
<rect x="98.62" y="25.81" width="16.03" height="1.17" fill="#edb8a8"/>
<rect x="98.62" y="26.73" width="16.03" height="1.17" fill="#f9c5b6"/>
<rect x="98.62" y="27.65" width="16.03" height="1.17" fill="#e9b5a6"/>
<rect x="98.62" y="28.57" width="16.03" height="1.17" fill="#f8c3b4"/>
<rect x="98.62" y="29.49" width="16.03" height="1.17" fill="#f9c7b9"/>
<rect x="98.62" y="30.4" width="16.03" height="1.17" fill="#fbf6f6"/>
<rect x="98.62" y="31.32" width="16.03" height="1.17" fill="#fbf6f6"/>
<rect x="98.62" y="32.24" width="16.03" height="1.17" fill="#fbf6f6"/>
<rect x="98.62" y="33.16" width="16.03" height="1.17" fill="#f0ebeb"/>
<rect x="98.62" y="34.08" width="16.03" height="1.17" fill="#f8c8b9"/>
<rect x="98.62" y="35" width="16.03" height="1.17" fill="#f9cebf"/>
<rect x="98.62" y="35.92" width="16.03" height="1.17" fill="#fbe3db"/>
<rect x="98.62" y="36.84" width="16.03" height="1.17" fill="#f9cdbf"/>
<rect x="98.62" y="37.75" width="16.03" height="1.17" fill="#f5c5b5"/>
<rect x="98.62" y="38.67" width="16.03" height="1.17" fill="#f2c3b3"/>
<rect x="98.62" y="39.59" width="16.03" height="1.17" fill="#f9cfc1"/>
<rect x="98.62" y="40.51" width="16.03" height="1.17" fill="#e6baab"/>
<rect x="98.62" y="41.43" width="16.03" height="1.17" fill="#f8c8b8"/>
<rect x="98.62" y="42.35" width="16.03" height="1.17" fill="#f8cbbd"/>
<rect x="98.62" y="43.27" width="16.03" height="1.17" fill="#f8cabb"/>
<rect x="98.62" y="44.18" width="16.03" height="1.17" fill="#deb3a4"/>
<rect x="98.62" y="45.1" width="16.03" height="1.17" fill="#f9cdbe"/>
<rect x="98.62" y="46.02" width="16.03" height="1.17" fill="#f5c6b6"/>
<rect x="98.62" y="46.94" width="16.03" height="1.17" fill="#f2c3b4"/>
<rect x="98.62" y="47.86" width="16.03" height="1.17" fill="#eea494"/>
<rect x="98.62" y="48.78" width="16.03" height="1.17" fill="#f5afa0"/>
<rect x="98.62" y="49.7" width="16.03" height="1.17" fill="#f1a696"/>
<rect x="98.62" y="50.62" width="16.03" height="1.17" fill="#f0a596"/>
<rect x="98.62" y="51.53" width="16.03" height="1.17" fill="#e79f90"/>
<rect x="98.62" y="52.45" width="16.03" height="1.17" fill="#e79f90"/>
<rect x="98.62" y="53.37" width="16.03" height="1.17" fill="#faf7fb"/>
<rect x="98.62" y="54.29" width="16.03" height="1.17" fill="#f8f4fa"/>
<rect x="98.62" y="55.21" width="16.03" height="1.17" fill="#f9f6fb"/>
<rect x="98.62" y="56.13" width="16.03" height="1.17" fill="#f8f4fa"/>
<rect x="98.62" y="57.05" width="16.03" height="1.17" fill="#faf6fb"/>
<rect x="98.62" y="57.96" width="16.03" height="1.17" fill="#ed9686"/>
<rect x="98.62" y="58.88" width="16.03" height="1.17" fill="#da8a7b"/>
<rect x="98.62" y="59.8" width="16.03" height="1.17" fill="#f19e8f"/>
<rect x="98.62" y="60.72" width="16.03" height="1.17" fill="#e99484"/>
<rect x="98.62" y="61.64" width="16.03" height="1.17" fill="#f09a8a"/>
<rect x="98.62" y="62.56" width="16.03" height="1.17" fill="#f19d8d"/>
<rect x="98.62" y="63.48" width="16.03" height="1.17" fill="#f09a8b"/>
<rect x="98.62" y="64.4" width="16.03" height="1.17" fill="#e99484"/>
<rect x="98.62" y="65.31" width="16.03" height="1.17" fill="#ee9787"/>
<rect x="98.62" y="66.23" width="16.03" height="1.17" fill="#f2a597"/>
<rect x="98.62" y="67.15" width="16.03" height="1.17" fill="#eb9585"/>
<rect x="98.62" y="68.07" width="16.03" height="1.17" fill="#e18e7f"/>
<rect x="98.62" y="68.99" width="16.03" height="1.17" fill="#f19f90"/>
<rect x="98.62" y="69.91" width="16.03" height="1.17" fill="#fbe1d9"/>
<rect x="98.62" y="70.83" width="16.03" height="1.17" fill="#ecbeaf"/>
<rect x="98.62" y="71.75" width="16.03" height="1.17" fill="#e8bbac"/>
<rect x="98.62" y="72.66" width="16.03" height="1.17" fill="#dab0a1"/>
<rect x="98.62" y="73.58" width="16.03" height="1.17" fill="#e4b8a9"/>
<rect x="98.62" y="74.5" width="16.03" height="1.17" fill="#f9cec0"/>
<rect x="98.62" y="75.42" width="16.03" height="1.17" fill="#ed9081"/>
<rect x="98.62" y="76.34" width="16.03" height="1.17" fill="#ee9688"/>
<rect x="98.62" y="77.26" width="16.03" height="1.17" fill="#ed8e7e"/>
<rect x="98.62" y="78.18" width="16.03" height="1.17" fill="#ee9183"/>
<rect x="98.62" y="79.09" width="16.03" height="1.17" fill="#de8071"/>
<rect x="98.62" y="80.01" width="16.03" height="1.17" fill="#ee9283"/>
<rect x="98.62" y="80.93" width="16.03" height="1.17" fill="#de8071"/>
<rect x="98.62" y="81.85" width="16.03" height="1.17" fill="#e48374"/>
<rect x="98.62" y="82.77" width="16.03" height="1.17" fill="#e98676"/>
<rect x="98.62" y="83.69" width="16.03" height="1.17" fill="#e28273"/>
<rect x="98.62" y="84.61" width="16.03" height="1.17" fill="#e28273"/>
<rect x="98.62" y="85.53" width="16.03" height="1.17" fill="#e78575"/>
<rect x="98.62" y="86.44" width="16.03" height="1.17" fill="#dc7f70"/>
<rect x="98.62" y="87.36" width="16.03" height="1.17" fill="#ee9587"/>
<rect x="98.62" y="88.28" width="16.03" height="1.17" fill="#cb7a6d"/>
<rect x="98.62" y="89.2" width="16.03" height="1.17" fill="#e28778"/>
<rect x="98.62" y="90.12" width="16.03" height="1.17" fill="#e68a7a"/>
<rect x="98.62" y="91.04" width="16.03" height="1.17" fill="#f09181"/>
<rect x="98.62" y="91.96" width="16.03" height="1.17" fill="#f4bbb3"/>
<rect x="98.62" y="92.87" width="16.03" height="1.17" fill="#ec8a7d"/>
<rect x="98.62" y="93.79" width="16.03" height="1.17" fill="#dc6a5b"/>
<rect x="98.62" y="94.71" width="16.03" height="1.17" fill="#e46e5e"/>
<rect x="98.62" y="95.63" width="16.03" height="1.17" fill="#e87263"/>
<rect x="98.62" y="96.55" width="16.03" height="1.17" fill="#cf6456"/>
<rect x="98.62" y="97.47" width="16.03" height="1.17" fill="#e87262"/>
<rect x="98.62" y="98.39" width="16.03" height="1.17" fill="#ea796a"/>
<rect x="98.62" y="99.31" width="16.03" height="1.17" fill="#eb8274"/>
<rect x="98.62" y="100.22" width="16.03" height="1.17" fill="#e46456"/>
<rect x="98.62" y="101.14" width="16.03" height="1.17" fill="#e4685a"/>
<rect x="98.62" y="102.06" width="16.03" height="1.17" fill="#d74d3d"/>
<rect x="98.62" y="102.98" width="16.03" height="1.17" fill="#de4f3f"/>
<rect x="98.62" y="103.9" width="16.03" height="1.17" fill="#d54c3d"/>
<rect x="98.62" y="104.82" width="16.03" height="1.17" fill="#efa59d"/>
<rect x="98.62" y="105.74" width="16.03" height="1.17" fill="#e25d4e"/>
<rect x="98.62" y="106.65" width="16.03" height="1.17" fill="#dd4f3f"/>
<rect x="98.62" y="107.57" width="16.03" height="1.17" fill="#e25d4e"/>
<rect x="98.62" y="108.49" width="16.03" height="1.17" fill="#de4f40"/>
<rect x="98.62" y="109.41" width="16.03" height="1.17" fill="#e35e4f"/>
<rect x="98.62" y="110.33" width="16.03" height="1.17" fill="#e15748"/>
<rect x="98.62" y="111.25" width="16.03" height="1.17" fill="#da4e3e"/>
<rect x="98.62" y="112.17" width="16.03" height="1.17" fill="#d34b3c"/>
<rect x="98.62" y="113.09" width="16.03" height="1.17" fill="#d54c3d"/>
<rect x="98.62" y="114" width="16.03" height="1.17" fill="#df8677"/>
<rect x="98.62" y="114.92" width="16.03" height="1.17" fill="#d58071"/>
<rect x="98.62" y="115.84" width="16.03" height="1.17" fill="#fcf8f8"/>
<rect x="98.62" y="116.76" width="16.03" height="1.17" fill="#fbf7f7"/>
<rect x="98.62" y="117.68" width="16.03" height="1.17" fill="#fbf6f6"/>
<rect x="98.62" y="118.6" width="16.03" height="1.17" fill="#fbf7f7"/>
<rect x="98.62" y="119.52" width="16.03" height="1.17" fill="#fbf7f7"/>
<rect x="98.62" y="120.44" width="16.03" height="1.17" fill="#856dbb"/>
<rect x="98.62" y="121.35" width="16.03" height="1.17" fill="#cdc2e3"/>
<rect x="98.62" y="122.27" width="16.03" height="1.17" fill="#d8cfe9"/>
<rect x="98.62" y="123.19" width="16.03" height="1.17" fill="#c9bedf"/>
<rect x="98.62" y="124.11" width="16.03" height="1.17" fill="#c7bcde"/>
<rect x="98.62" y="125.03" width="16.03" height="1.17" fill="#c6bbdc"/>
<rect x="98.62" y="125.95" width="16.03" height="1.17" fill="#c9bedf"/>
<rect x="98.62" y="126.87" width="16.03" height="1.17" fill="#cdc2e3"/>
<rect x="98.62" y="127.78" width="16.03" height="1.17" fill="#c8bddf"/>
<rect x="98.62" y="128.7" width="16.03" height="1.17" fill="#f9c1b3"/>
<rect x="98.62" y="129.62" width="16.03" height="1.17" fill="#f8baaa"/>
<rect x="98.62" y="130.54" width="16.03" height="1.17" fill="#f9c0b1"/>
<rect x="98.62" y="131.46" width="16.03" height="1.17" fill="#e3a99a"/>
<rect x="98.62" y="132.38" width="16.03" height="1.17" fill="#f2e1e1"/>
<rect x="98.62" y="133.3" width="16.03" height="1.17" fill="#f9e8e8"/>
<rect x="98.62" y="134.22" width="16.03" height="1.17" fill="#f1e1e1"/>
<rect x="98.62" y="135.13" width="16.03" height="1.17" fill="#fbeaea"/>
<rect x="98.62" y="136.05" width="16.03" height="1.17" fill="#ea9485"/>
<rect x="98.62" y="136.97" width="16.03" height="1.17" fill="#f09888"/>
<rect x="98.62" y="137.89" width="16.03" height="1.17" fill="#f2a597"/>
<rect x="98.62" y="138.81" width="16.03" height="1.17" fill="#ed9686"/>
<rect x="98.62" y="139.73" width="16.03" height="1.17" fill="#e59181"/>
<rect x="98.62" y="140.65" width="16.03" height="1.17" fill="#f2a698"/>
<rect x="98.62" y="141.56" width="16.03" height="1.17" fill="#f3aea2"/>
<rect x="98.62" y="142.48" width="16.03" height="1.17" fill="#e69282"/>
<rect x="98.62" y="143.4" width="16.03" height="1.17" fill="#f2a496"/>
<rect x="98.62" y="144.32" width="16.03" height="1.17" fill="#f09a8a"/>
<rect x="98.62" y="145.24" width="16.03" height="1.17" fill="#ebdbdb"/>
<rect x="98.62" y="146.16" width="16.03" height="1.17" fill="#eddddd"/>
<rect x="98.62" y="147.08" width="16.03" height="1.17" fill="#fdf2f2"/>
<rect x="98.62" y="148" width="16.03" height="1.17" fill="#e88676"/>
<rect x="98.62" y="148.91" width="16.03" height="1.17" fill="#f7cac3"/>
<rect x="98.62" y="149.83" width="16.03" height="1.17" fill="#eb8878"/>
<rect x="98.62" y="150.75" width="16.03" height="1.17" fill="#d97d6f"/>
<rect x="98.62" y="151.67" width="16.03" height="1.17" fill="#ea8777"/>
<rect x="98.62" y="152.59" width="16.03" height="1.17" fill="#ed8c7d"/>
<rect x="98.62" y="153.51" width="16.03" height="1.17" fill="#ec8878"/>
<rect x="98.62" y="154.43" width="16.03" height="1.17" fill="#ed8e7f"/>
<rect x="98.62" y="155.35" width="16.03" height="1.17" fill="#df8172"/>
<rect x="98.62" y="156.26" width="16.03" height="1.17" fill="#ef9c8f"/>
<rect x="98.62" y="157.18" width="16.03" height="1.17" fill="#ec8a7a"/>
<rect x="98.62" y="158.1" width="16.03" height="1.17" fill="#df8172"/>
<rect x="98.62" y="159.02" width="16.03" height="1.17" fill="#ea8777"/>
<rect x="98.62" y="159.94" width="16.03" height="1.17" fill="#ec8a7b"/>
<rect x="98.62" y="160.86" width="16.03" height="1.17" fill="#f0a094"/>
<rect x="98.62" y="161.78" width="16.03" height="1.17" fill="#ec8878"/>
<rect x="98.62" y="162.69" width="16.03" height="1.17" fill="#cbbde2"/>
<rect x="98.62" y="163.61" width="16.03" height="1.17" fill="#c4b5de"/>
<rect x="98.62" y="164.53" width="16.03" height="1.17" fill="#ccbfe3"/>
<rect x="98.62" y="165.45" width="16.03" height="1.17" fill="#c3b3dd"/>
<rect x="98.62" y="166.37" width="16.03" height="1.17" fill="#f1edf6"/>
<rect x="98.62" y="167.29" width="16.03" height="1.17" fill="#e9e4ef"/>
<rect x="98.62" y="168.21" width="16.03" height="1.17" fill="#eeeaf4"/>
<rect x="98.62" y="169.13" width="16.03" height="1.17" fill="#eee9f4"/>
<rect x="98.62" y="170.04" width="16.03" height="1.17" fill="#dcd7e2"/>
<rect x="98.62" y="170.96" width="16.03" height="1.17" fill="#ede8f3"/>
<rect x="98.62" y="171.88" width="16.03" height="1.17" fill="#eeeaf4"/>
<rect x="114.35" y="5.6" width="16.03" height="1.17" fill="#f1eef0"/>
<rect x="114.35" y="6.52" width="16.03" height="1.17" fill="#fbf8fa"/>
<rect x="114.35" y="7.44" width="16.03" height="1.17" fill="#f5f2f4"/>
<rect x="114.35" y="8.36" width="16.03" height="1.17" fill="#fbf8fa"/>
<rect x="114.35" y="9.27" width="16.03" height="1.17" fill="#edeaec"/>
<rect x="114.35" y="10.19" width="16.03" height="1.17" fill="#e6def1"/>
<rect x="114.35" y="11.11" width="16.03" height="1.17" fill="#cfc6db"/>
<rect x="114.35" y="12.03" width="16.03" height="1.17" fill="#d6cce2"/>
<rect x="114.35" y="12.95" width="16.03" height="1.17" fill="#b7a4d6"/>
<rect x="114.35" y="13.87" width="16.03" height="1.17" fill="#ae99d1"/>
<rect x="114.35" y="14.79" width="16.03" height="1.17" fill="#b19dd3"/>
<rect x="114.35" y="15.71" width="16.03" height="1.17" fill="#aa95cd"/>
<rect x="114.35" y="16.62" width="16.03" height="1.17" fill="#d7cee9"/>
<rect x="114.35" y="17.54" width="16.03" height="1.17" fill="#c4b9da"/>
<rect x="114.35" y="18.46" width="16.03" height="1.17" fill="#d1c6e5"/>
<rect x="114.35" y="19.38" width="16.03" height="1.17" fill="#d2c8e6"/>
<rect x="114.35" y="20.3" width="16.03" height="1.17" fill="#fbf9fc"/>
<rect x="114.35" y="21.22" width="16.03" height="1.17" fill="#fbf9fc"/>
<rect x="114.35" y="22.14" width="16.03" height="1.17" fill="#fbf9fc"/>
<rect x="114.35" y="23.05" width="16.03" height="1.17" fill="#cfc4e2"/>
<rect x="114.35" y="23.97" width="16.03" height="1.17" fill="#cfc4e2"/>
<rect x="114.35" y="24.89" width="16.03" height="1.17" fill="#ddd5ec"/>
<rect x="114.35" y="25.81" width="16.03" height="1.17" fill="#d1c6e4"/>
<rect x="114.35" y="26.73" width="16.03" height="1.17" fill="#d4c9e7"/>
<rect x="114.35" y="27.65" width="16.03" height="1.17" fill="#d7cde9"/>
<rect x="114.35" y="28.57" width="16.03" height="1.17" fill="#d7cde8"/>
<rect x="114.35" y="29.49" width="16.03" height="1.17" fill="#d3c9e7"/>
<rect x="114.35" y="30.4" width="16.03" height="1.17" fill="#e6b2a3"/>
<rect x="114.35" y="31.32" width="16.03" height="1.17" fill="#f8c0b1"/>
<rect x="114.35" y="32.24" width="16.03" height="1.17" fill="#f8c2b3"/>
<rect x="114.35" y="33.16" width="16.03" height="1.17" fill="#f9c7b8"/>
<rect x="114.35" y="34.08" width="16.03" height="1.17" fill="#f0baaa"/>
<rect x="114.35" y="35" width="16.03" height="1.17" fill="#edb7a8"/>
<rect x="114.35" y="35.92" width="16.03" height="1.17" fill="#f8dbd3"/>
<rect x="114.35" y="36.84" width="16.03" height="1.17" fill="#e9cec7"/>
<rect x="114.35" y="37.75" width="16.03" height="1.17" fill="#fde1d9"/>
<rect x="114.35" y="38.67" width="16.03" height="1.17" fill="#fde3db"/>
<rect x="114.35" y="39.59" width="16.03" height="1.17" fill="#fef1ed"/>
<rect x="114.35" y="40.51" width="16.03" height="1.17" fill="#f9dcd5"/>
<rect x="114.35" y="41.43" width="16.03" height="1.17" fill="#fde1d9"/>
<rect x="114.35" y="42.35" width="16.03" height="1.17" fill="#feede8"/>
<rect x="114.35" y="43.27" width="16.03" height="1.17" fill="#f3d7cf"/>
<rect x="114.35" y="44.18" width="16.03" height="1.17" fill="#e7ccc5"/>
<rect x="114.35" y="45.1" width="16.03" height="1.17" fill="#fde0d8"/>
<rect x="114.35" y="46.02" width="16.03" height="1.17" fill="#fde3db"/>
<rect x="114.35" y="46.94" width="16.03" height="1.17" fill="#fde0d8"/>
<rect x="114.35" y="47.86" width="16.03" height="1.17" fill="#eeb8a9"/>
<rect x="114.35" y="48.78" width="16.03" height="1.17" fill="#eeb8a9"/>
<rect x="114.35" y="49.7" width="16.03" height="1.17" fill="#f2bcac"/>
<rect x="114.35" y="50.62" width="16.03" height="1.17" fill="#f9c5b7"/>
<rect x="114.35" y="51.53" width="16.03" height="1.17" fill="#e8b4a5"/>
<rect x="114.35" y="52.45" width="16.03" height="1.17" fill="#f8c4b5"/>
<rect x="114.35" y="53.37" width="16.03" height="1.17" fill="#f8c4b5"/>
<rect x="114.35" y="54.29" width="16.03" height="1.17" fill="#f2bcac"/>
<rect x="114.35" y="55.21" width="16.03" height="1.17" fill="#f8c3b3"/>
<rect x="114.35" y="56.13" width="16.03" height="1.17" fill="#f4f2f6"/>
<rect x="114.35" y="57.05" width="16.03" height="1.17" fill="#f8f6fa"/>
<rect x="114.35" y="57.96" width="16.03" height="1.17" fill="#f5ad9e"/>
<rect x="114.35" y="58.88" width="16.03" height="1.17" fill="#eda393"/>
<rect x="114.35" y="59.8" width="16.03" height="1.17" fill="#f0a595"/>
<rect x="114.35" y="60.72" width="16.03" height="1.17" fill="#f5b3a5"/>
<rect x="114.35" y="61.64" width="16.03" height="1.17" fill="#f5b0a1"/>
<rect x="114.35" y="62.56" width="16.03" height="1.17" fill="#d39183"/>
<rect x="114.35" y="63.48" width="16.03" height="1.17" fill="#f4a898"/>
<rect x="114.35" y="64.4" width="16.03" height="1.17" fill="#f5b2a4"/>
<rect x="114.35" y="65.31" width="16.03" height="1.17" fill="#f4a898"/>
<rect x="114.35" y="66.23" width="16.03" height="1.17" fill="#e9a091"/>
<rect x="114.35" y="67.15" width="16.03" height="1.17" fill="#e8a091"/>
<rect x="114.35" y="68.07" width="16.03" height="1.17" fill="#d87c6e"/>
<rect x="114.35" y="68.99" width="16.03" height="1.17" fill="#ec8a7a"/>
<rect x="114.35" y="69.91" width="16.03" height="1.17" fill="#e68575"/>
<rect x="114.35" y="70.83" width="16.03" height="1.17" fill="#ec8a7a"/>
<rect x="114.35" y="71.75" width="16.03" height="1.17" fill="#ee9284"/>
<rect x="114.35" y="72.66" width="16.03" height="1.17" fill="#d67b6d"/>
<rect x="114.35" y="73.58" width="16.03" height="1.17" fill="#e8bbac"/>
<rect x="114.35" y="74.5" width="16.03" height="1.17" fill="#f8c8b8"/>
<rect x="114.35" y="75.42" width="16.03" height="1.17" fill="#e7baab"/>
<rect x="114.35" y="76.34" width="16.03" height="1.17" fill="#f8c8b9"/>
<rect x="114.35" y="77.26" width="16.03" height="1.17" fill="#eabdae"/>
<rect x="114.35" y="78.18" width="16.03" height="1.17" fill="#f8c8b8"/>
<rect x="114.35" y="79.09" width="16.03" height="1.17" fill="#f9cdbe"/>
<rect x="114.35" y="80.01" width="16.03" height="1.17" fill="#e1b5a7"/>
<rect x="114.35" y="80.93" width="16.03" height="1.17" fill="#edbfb0"/>
<rect x="114.35" y="81.85" width="16.03" height="1.17" fill="#e0b4a6"/>
<rect x="114.35" y="82.77" width="16.03" height="1.17" fill="#f8c9b9"/>
<rect x="114.35" y="83.69" width="16.03" height="1.17" fill="#efc1b1"/>
<rect x="114.35" y="84.61" width="16.03" height="1.17" fill="#fbe2da"/>
<rect x="114.35" y="85.53" width="16.03" height="1.17" fill="#fad4c8"/>
<rect x="114.35" y="86.44" width="16.03" height="1.17" fill="#f8cabb"/>
<rect x="114.35" y="87.36" width="16.03" height="1.17" fill="#e4b8a9"/>
<rect x="114.35" y="88.28" width="16.03" height="1.17" fill="#f5bdae"/>
<rect x="114.35" y="89.2" width="16.03" height="1.17" fill="#f4bdad"/>
<rect x="114.35" y="90.12" width="16.03" height="1.17" fill="#f9cdc0"/>
<rect x="114.35" y="91.04" width="16.03" height="1.17" fill="#f5bdae"/>
<rect x="114.35" y="91.96" width="16.03" height="1.17" fill="#dad1e7"/>
<rect x="114.35" y="92.87" width="16.03" height="1.17" fill="#ccc3d8"/>
<rect x="114.35" y="93.79" width="16.03" height="1.17" fill="#e5dcf1"/>
<rect x="114.35" y="94.71" width="16.03" height="1.17" fill="#e5dcf1"/>
<rect x="114.35" y="95.63" width="16.03" height="1.17" fill="#faf8fc"/>
<rect x="114.35" y="96.55" width="16.03" height="1.17" fill="#e0dee1"/>
<rect x="114.35" y="97.47" width="16.03" height="1.17" fill="#fbf9fc"/>
<rect x="114.35" y="98.39" width="16.03" height="1.17" fill="#f3f1f4"/>
<rect x="114.35" y="99.31" width="16.03" height="1.17" fill="#f8cec2"/>
<rect x="114.35" y="100.22" width="16.03" height="1.17" fill="#fad1c5"/>
<rect x="114.35" y="101.14" width="16.03" height="1.17" fill="#fad1c5"/>
<rect x="114.35" y="102.06" width="16.03" height="1.17" fill="#fbd7cd"/>
<rect x="114.35" y="102.98" width="16.03" height="1.17" fill="#edc5ba"/>
<rect x="114.35" y="103.9" width="16.03" height="1.17" fill="#f9cfc3"/>
<rect x="114.35" y="104.82" width="16.03" height="1.17" fill="#ecc5b9"/>
<rect x="114.35" y="105.74" width="16.03" height="1.17" fill="#e8c1b6"/>
<rect x="114.35" y="106.65" width="16.03" height="1.17" fill="#fbd9d0"/>
<rect x="114.35" y="107.57" width="16.03" height="1.17" fill="#d5cbe1"/>
<rect x="114.35" y="108.49" width="16.03" height="1.17" fill="#c8c0d4"/>
<rect x="114.35" y="109.41" width="16.03" height="1.17" fill="#cac1d6"/>
<rect x="114.35" y="110.33" width="16.03" height="1.17" fill="#dfd5ec"/>
<rect x="114.35" y="111.25" width="16.03" height="1.17" fill="#fce4dd"/>
<rect x="114.35" y="112.17" width="16.03" height="1.17" fill="#e8b3a4"/>
<rect x="114.35" y="113.09" width="16.03" height="1.17" fill="#f4bdad"/>
<rect x="114.35" y="114" width="16.03" height="1.17" fill="#f8c3b3"/>
<rect x="114.35" y="114.92" width="16.03" height="1.17" fill="#f9c8ba"/>
<rect x="114.35" y="115.84" width="16.03" height="1.17" fill="#fad9d1"/>
<rect x="114.35" y="116.76" width="16.03" height="1.17" fill="#fad9d1"/>
<rect x="114.35" y="117.68" width="16.03" height="1.17" fill="#fbddd6"/>
<rect x="114.35" y="118.6" width="16.03" height="1.17" fill="#f3d2ca"/>
<rect x="114.35" y="119.52" width="16.03" height="1.17" fill="#fad8d0"/>
<rect x="114.35" y="120.44" width="16.03" height="1.17" fill="#fbdcd5"/>
<rect x="114.35" y="121.35" width="16.03" height="1.17" fill="#bab0cf"/>
<rect x="114.35" y="122.27" width="16.03" height="1.17" fill="#cfc4e4"/>
<rect x="114.35" y="123.19" width="16.03" height="1.17" fill="#b9afce"/>
<rect x="114.35" y="124.11" width="16.03" height="1.17" fill="#b5abc9"/>
<rect x="114.35" y="125.03" width="16.03" height="1.17" fill="#a39ab5"/>
<rect x="114.35" y="125.95" width="16.03" height="1.17" fill="#c1b6d6"/>
<rect x="114.35" y="126.87" width="16.03" height="1.17" fill="#ccc0e2"/>
<rect x="114.35" y="127.78" width="16.03" height="1.17" fill="#c7bcde"/>
<rect x="114.35" y="128.7" width="16.03" height="1.17" fill="#c9bddf"/>
<rect x="114.35" y="129.62" width="16.03" height="1.17" fill="#f3eff7"/>
<rect x="114.35" y="130.54" width="16.03" height="1.17" fill="#f1ecf6"/>
<rect x="114.35" y="131.46" width="16.03" height="1.17" fill="#dcd8e0"/>
<rect x="114.35" y="132.38" width="16.03" height="1.17" fill="#eae6ef"/>
<rect x="114.35" y="133.3" width="16.03" height="1.17" fill="#f1ecf6"/>
<rect x="114.35" y="134.22" width="16.03" height="1.17" fill="#e56c5c"/>
<rect x="114.35" y="135.13" width="16.03" height="1.17" fill="#e16757"/>
<rect x="114.35" y="136.05" width="16.03" height="1.17" fill="#df6656"/>
<rect x="114.35" y="136.97" width="16.03" height="1.17" fill="#d66253"/>
<rect x="114.35" y="137.89" width="16.03" height="1.17" fill="#d05f50"/>
<rect x="114.35" y="138.81" width="16.03" height="1.17" fill="#da6354"/>
<rect x="114.35" y="139.73" width="16.03" height="1.17" fill="#dc6455"/>
<rect x="114.35" y="140.65" width="16.03" height="1.17" fill="#d36051"/>
<rect x="114.35" y="141.56" width="16.03" height="1.17" fill="#e56c5c"/>
<rect x="114.35" y="142.48" width="16.03" height="1.17" fill="#eea095"/>
<rect x="114.35" y="143.4" width="16.03" height="1.17" fill="#d86353"/>
<rect x="114.35" y="144.32" width="16.03" height="1.17" fill="#e67364"/>
<rect x="114.35" y="145.24" width="16.03" height="1.17" fill="#f19889"/>
<rect x="114.35" y="146.16" width="16.03" height="1.17" fill="#e38879"/>
<rect x="114.35" y="147.08" width="16.03" height="1.17" fill="#f19686"/>
<rect x="114.35" y="148" width="16.03" height="1.17" fill="#ef9080"/>
<rect x="114.35" y="148.91" width="16.03" height="1.17" fill="#f1998a"/>
<rect x="114.35" y="149.83" width="16.03" height="1.17" fill="#e38879"/>
<rect x="114.35" y="150.75" width="16.03" height="1.17" fill="#f19687"/>
<rect x="114.35" y="151.67" width="16.03" height="1.17" fill="#e17465"/>
<rect x="114.35" y="152.59" width="16.03" height="1.17" fill="#db7162"/>
<rect x="114.35" y="153.51" width="16.03" height="1.17" fill="#e97c6d"/>
<rect x="114.35" y="154.43" width="16.03" height="1.17" fill="#e07465"/>
<rect x="114.35" y="155.35" width="16.03" height="1.17" fill="#eb897b"/>
<rect x="114.35" y="156.26" width="16.03" height="1.17" fill="#e87a6a"/>
<rect x="114.35" y="157.18" width="16.03" height="1.17" fill="#d97061"/>
<rect x="114.35" y="158.1" width="16.03" height="1.17" fill="#db7162"/>
<rect x="114.35" y="159.02" width="16.03" height="1.17" fill="#e97c6c"/>
<rect x="114.35" y="159.94" width="16.03" height="1.17" fill="#e97b6b"/>
<rect x="114.35" y="160.86" width="16.03" height="1.17" fill="#da7162"/>
<rect x="114.35" y="161.78" width="16.03" height="1.17" fill="#e27565"/>
<rect x="114.35" y="162.69" width="16.03" height="1.17" fill="#e56457"/>
<rect x="114.35" y="163.61" width="16.03" height="1.17" fill="#d94636"/>
<rect x="114.35" y="164.53" width="16.03" height="1.17" fill="#d34435"/>
<rect x="114.35" y="165.45" width="16.03" height="1.17" fill="#e04b3b"/>
<rect x="114.35" y="166.37" width="16.03" height="1.17" fill="#cf4334"/>
<rect x="114.35" y="167.29" width="16.03" height="1.17" fill="#df4838"/>
<rect x="114.35" y="168.21" width="16.03" height="1.17" fill="#de4737"/>
<rect x="114.35" y="169.13" width="16.03" height="1.17" fill="#df4838"/>
<rect x="114.35" y="170.04" width="16.03" height="1.17" fill="#e46153"/>
<rect x="114.35" y="170.96" width="16.03" height="1.17" fill="#e25445"/>
<rect x="114.35" y="171.88" width="16.03" height="1.17" fill="#e04838"/>
<rect x="130.08" y="5.6" width="16.03" height="1.17" fill="#e5d2ce"/>
<rect x="130.08" y="6.52" width="16.03" height="1.17" fill="#efdbd7"/>
<rect x="130.08" y="7.44" width="16.03" height="1.17" fill="#e9d5d2"/>
<rect x="130.08" y="8.36" width="16.03" height="1.17" fill="#f0dcd8"/>
<rect x="130.08" y="9.27" width="16.03" height="1.17" fill="#f3dfdb"/>
<rect x="130.08" y="10.19" width="16.03" height="1.17" fill="#f8e3df"/>
<rect x="130.08" y="11.11" width="16.03" height="1.17" fill="#d2c1bd"/>
<rect x="130.08" y="12.03" width="16.03" height="1.17" fill="#ecc6ba"/>
<rect x="130.08" y="12.95" width="16.03" height="1.17" fill="#edc7bb"/>
<rect x="130.08" y="13.87" width="16.03" height="1.17" fill="#f9d7cc"/>
<rect x="130.08" y="14.79" width="16.03" height="1.17" fill="#e7c2b7"/>
<rect x="130.08" y="15.71" width="16.03" height="1.17" fill="#f1cabe"/>
<rect x="130.08" y="16.62" width="16.03" height="1.17" fill="#b9afce"/>
<rect x="130.08" y="17.54" width="16.03" height="1.17" fill="#b9afce"/>
<rect x="130.08" y="18.46" width="16.03" height="1.17" fill="#cdc2e3"/>
<rect x="130.08" y="19.38" width="16.03" height="1.17" fill="#bfb5d5"/>
<rect x="130.08" y="20.3" width="16.03" height="1.17" fill="#bdb2d2"/>
<rect x="130.08" y="21.22" width="16.03" height="1.17" fill="#d93e36"/>
<rect x="130.08" y="22.14" width="16.03" height="1.17" fill="#db4a42"/>
<rect x="130.08" y="23.05" width="16.03" height="1.17" fill="#d5372f"/>
<rect x="130.08" y="23.97" width="16.03" height="1.17" fill="#d2362f"/>
<rect x="130.08" y="24.89" width="16.03" height="1.17" fill="#e57063"/>
<rect x="130.08" y="25.81" width="16.03" height="1.17" fill="#d85545"/>
<rect x="130.08" y="26.73" width="16.03" height="1.17" fill="#e26152"/>
<rect x="130.08" y="27.65" width="16.03" height="1.17" fill="#e3685a"/>
<rect x="130.08" y="28.57" width="16.03" height="1.17" fill="#e05a4b"/>
<rect x="130.08" y="29.49" width="16.03" height="1.17" fill="#d65445"/>
<rect x="130.08" y="30.4" width="16.03" height="1.17" fill="#e6776a"/>
<rect x="130.08" y="31.32" width="16.03" height="1.17" fill="#e15c4c"/>
<rect x="130.08" y="32.24" width="16.03" height="1.17" fill="#e16050"/>
<rect x="130.08" y="33.16" width="16.03" height="1.17" fill="#df5848"/>
<rect x="130.08" y="34.08" width="16.03" height="1.17" fill="#d55445"/>
<rect x="130.08" y="35" width="16.03" height="1.17" fill="#e67669"/>
<rect x="130.08" y="35.92" width="16.03" height="1.17" fill="#e15d4e"/>
<rect x="130.08" y="36.84" width="16.03" height="1.17" fill="#da5646"/>
<rect x="130.08" y="37.75" width="16.03" height="1.17" fill="#cc5042"/>
<rect x="130.08" y="38.67" width="16.03" height="1.17" fill="#e15c4c"/>
<rect x="130.08" y="39.59" width="16.03" height="1.17" fill="#e77769"/>
<rect x="130.08" y="40.51" width="16.03" height="1.17" fill="#e56e5e"/>
<rect x="130.08" y="41.43" width="16.03" height="1.17" fill="#d45f50"/>
<rect x="130.08" y="42.35" width="16.03" height="1.17" fill="#e46858"/>
<rect x="130.08" y="43.27" width="16.03" height="1.17" fill="#e67162"/>
<rect x="130.08" y="44.18" width="16.03" height="1.17" fill="#e67465"/>
<rect x="130.08" y="45.1" width="16.03" height="1.17" fill="#e16555"/>
<rect x="130.08" y="46.02" width="16.03" height="1.17" fill="#e77668"/>
<rect x="130.08" y="46.94" width="16.03" height="1.17" fill="#c95a4c"/>
<rect x="130.08" y="47.86" width="16.03" height="1.17" fill="#d76051"/>
<rect x="130.08" y="48.78" width="16.03" height="1.17" fill="#e7796b"/>
<rect x="130.08" y="49.7" width="16.03" height="1.17" fill="#e56e5e"/>
<rect x="130.08" y="50.62" width="16.03" height="1.17" fill="#dd6353"/>
<rect x="130.08" y="51.53" width="16.03" height="1.17" fill="#e36656"/>
<rect x="130.08" y="52.45" width="16.03" height="1.17" fill="#e06454"/>
<rect x="130.08" y="53.37" width="16.03" height="1.17" fill="#e67061"/>
<rect x="130.08" y="54.29" width="16.03" height="1.17" fill="#d66051"/>
<rect x="130.08" y="55.21" width="16.03" height="1.17" fill="#e67465"/>
<rect x="130.08" y="56.13" width="16.03" height="1.17" fill="#e56a5a"/>
<rect x="130.08" y="57.05" width="16.03" height="1.17" fill="#e56a5a"/>
<rect x="130.08" y="57.96" width="16.03" height="1.17" fill="#f8cac3"/>
<rect x="130.08" y="58.88" width="16.03" height="1.17" fill="#f19485"/>
<rect x="130.08" y="59.8" width="16.03" height="1.17" fill="#f19889"/>
<rect x="130.08" y="60.72" width="16.03" height="1.17" fill="#e98c7c"/>
<rect x="130.08" y="61.64" width="16.03" height="1.17" fill="#f29b8d"/>
<rect x="130.08" y="62.56" width="16.03" height="1.17" fill="#e88b7c"/>
<rect x="130.08" y="63.48" width="16.03" height="1.17" fill="#f19889"/>
<rect x="130.08" y="64.4" width="16.03" height="1.17" fill="#f09080"/>
<rect x="130.08" y="65.31" width="16.03" height="1.17" fill="#f09282"/>
<rect x="130.08" y="66.23" width="16.03" height="1.17" fill="#ef9080"/>
<rect x="130.08" y="67.15" width="16.03" height="1.17" fill="#f19586"/>
<rect x="130.08" y="68.07" width="16.03" height="1.17" fill="#e48979"/>
<rect x="130.08" y="68.99" width="16.03" height="1.17" fill="#ef8f80"/>
<rect x="130.08" y="69.91" width="16.03" height="1.17" fill="#e18778"/>
<rect x="130.08" y="70.83" width="16.03" height="1.17" fill="#e18778"/>
<rect x="130.08" y="71.75" width="16.03" height="1.17" fill="#ebbeaf"/>
<rect x="130.08" y="72.66" width="16.03" height="1.17" fill="#f8cbbc"/>
<rect x="130.08" y="73.58" width="16.03" height="1.17" fill="#df8d7e"/>
<rect x="130.08" y="74.5" width="16.03" height="1.17" fill="#ed9686"/>
<rect x="130.08" y="75.42" width="16.03" height="1.17" fill="#f09888"/>
<rect x="130.08" y="76.34" width="16.03" height="1.17" fill="#f8d1c9"/>
<rect x="130.08" y="77.26" width="16.03" height="1.17" fill="#e79383"/>
<rect x="130.08" y="78.18" width="16.03" height="1.17" fill="#e89383"/>
<rect x="130.08" y="79.09" width="16.03" height="1.17" fill="#f1a091"/>
<rect x="130.08" y="80.01" width="16.03" height="1.17" fill="#dd8c7d"/>
<rect x="130.08" y="80.93" width="16.03" height="1.17" fill="#e28f80"/>
<rect x="130.08" y="81.85" width="16.03" height="1.17" fill="#f09b8b"/>
<rect x="130.08" y="82.77" width="16.03" height="1.17" fill="#f3afa3"/>
<rect x="130.08" y="83.69" width="16.03" height="1.17" fill="#ee9787"/>
<rect x="130.08" y="84.61" width="16.03" height="1.17" fill="#f09989"/>
<rect x="130.08" y="85.53" width="16.03" height="1.17" fill="#f4b3a8"/>
<rect x="130.08" y="86.44" width="16.03" height="1.17" fill="#e59182"/>
<rect x="130.08" y="87.36" width="16.03" height="1.17" fill="#f3ab9e"/>
<rect x="130.08" y="88.28" width="16.03" height="1.17" fill="#f1a79e"/>
<rect x="130.08" y="89.2" width="16.03" height="1.17" fill="#eb8577"/>
<rect x="130.08" y="90.12" width="16.03" height="1.17" fill="#e46e5e"/>
<rect x="130.08" y="91.04" width="16.03" height="1.17" fill="#e36d5e"/>
<rect x="130.08" y="91.96" width="16.03" height="1.17" fill="#d26657"/>
<rect x="130.08" y="92.87" width="16.03" height="1.17" fill="#ea7a6b"/>
<rect x="130.08" y="93.79" width="16.03" height="1.17" fill="#e97768"/>
<rect x="130.08" y="94.71" width="16.03" height="1.17" fill="#ea7e70"/>
<rect x="130.08" y="95.63" width="16.03" height="1.17" fill="#e97364"/>
<rect x="130.08" y="96.55" width="16.03" height="1.17" fill="#ea7f71"/>
<rect x="130.08" y="97.47" width="16.03" height="1.17" fill="#f1aaa0"/>
<rect x="130.08" y="98.39" width="16.03" height="1.17" fill="#df6c5c"/>
<rect x="130.08" y="99.31" width="16.03" height="1.17" fill="#fbf6f6"/>
<rect x="130.08" y="100.22" width="16.03" height="1.17" fill="#fbf6f6"/>
<rect x="130.08" y="101.14" width="16.03" height="1.17" fill="#fbf7f7"/>
<rect x="130.08" y="102.06" width="16.03" height="1.17" fill="#f6f1f1"/>
<rect x="130.08" y="102.98" width="16.03" height="1.17" fill="#f9f4f4"/>
<rect x="130.08" y="103.9" width="16.03" height="1.17" fill="#fbdcd2"/>
<rect x="130.08" y="104.82" width="16.03" height="1.17" fill="#fad5c9"/>
<rect x="130.08" y="105.74" width="16.03" height="1.17" fill="#fad4c9"/>
<rect x="130.08" y="106.65" width="16.03" height="1.17" fill="#fad4c8"/>
<rect x="130.08" y="107.57" width="16.03" height="1.17" fill="#fad5c9"/>
<rect x="130.08" y="108.49" width="16.03" height="1.17" fill="#fad8cd"/>
<rect x="130.08" y="109.41" width="16.03" height="1.17" fill="#f7d1c5"/>
<rect x="130.08" y="110.33" width="16.03" height="1.17" fill="#fad6cb"/>
<rect x="130.08" y="111.25" width="16.03" height="1.17" fill="#fbdacf"/>
<rect x="130.08" y="112.17" width="16.03" height="1.17" fill="#fbd9cf"/>
<rect x="130.08" y="113.09" width="16.03" height="1.17" fill="#dfd6ed"/>
<rect x="130.08" y="114" width="16.03" height="1.17" fill="#ded4ec"/>
<rect x="130.08" y="114.92" width="16.03" height="1.17" fill="#e3dbf0"/>
<rect x="130.08" y="115.84" width="16.03" height="1.17" fill="#e1d7ee"/>
<rect x="130.08" y="116.76" width="16.03" height="1.17" fill="#dcd2eb"/>
<rect x="130.08" y="117.68" width="16.03" height="1.17" fill="#f7ded6"/>
<rect x="130.08" y="118.6" width="16.03" height="1.17" fill="#f5dcd4"/>
<rect x="130.08" y="119.52" width="16.03" height="1.17" fill="#f3dad2"/>
<rect x="130.08" y="120.44" width="16.03" height="1.17" fill="#fbe6df"/>
<rect x="130.08" y="121.35" width="16.03" height="1.17" fill="#d5cbe3"/>
<rect x="130.08" y="122.27" width="16.03" height="1.17" fill="#cec4db"/>
<rect x="130.08" y="123.19" width="16.03" height="1.17" fill="#dad0e8"/>
<rect x="130.08" y="124.11" width="16.03" height="1.17" fill="#ded4ed"/>
<rect x="130.08" y="125.03" width="16.03" height="1.17" fill="#f2bfb8"/>
<rect x="130.08" y="125.95" width="16.03" height="1.17" fill="#df6050"/>
<rect x="130.08" y="126.87" width="16.03" height="1.17" fill="#dc5e4f"/>
<rect x="130.08" y="127.78" width="16.03" height="1.17" fill="#e26859"/>
<rect x="130.08" y="128.7" width="16.03" height="1.17" fill="#e26859"/>
<rect x="130.08" y="129.62" width="16.03" height="1.17" fill="#f9c7b8"/>
<rect x="130.08" y="130.54" width="16.03" height="1.17" fill="#eeb8a9"/>
<rect x="130.08" y="131.46" width="16.03" height="1.17" fill="#f4bdad"/>
<rect x="130.08" y="132.38" width="16.03" height="1.17" fill="#fbd9cf"/>
<rect x="130.08" y="133.3" width="16.03" height="1.17" fill="#f9c6b7"/>
<rect x="130.08" y="134.22" width="16.03" height="1.17" fill="#f9c5b6"/>
<rect x="130.08" y="135.13" width="16.03" height="1.17" fill="#d9d4e2"/>
<rect x="130.08" y="136.05" width="16.03" height="1.17" fill="#e9e3f2"/>
<rect x="130.08" y="136.97" width="16.03" height="1.17" fill="#e5e0ef"/>
<rect x="130.08" y="137.89" width="16.03" height="1.17" fill="#f6f3fa"/>
<rect x="130.08" y="138.81" width="16.03" height="1.17" fill="#eae5f3"/>
<rect x="130.08" y="139.73" width="16.03" height="1.17" fill="#eae5f4"/>
<rect x="130.08" y="140.65" width="16.03" height="1.17" fill="#eae4f3"/>
<rect x="130.08" y="141.56" width="16.03" height="1.17" fill="#eae5f3"/>
<rect x="130.08" y="142.48" width="16.03" height="1.17" fill="#e7e2f1"/>
<rect x="130.08" y="143.4" width="16.03" height="1.17" fill="#eae4f3"/>
<rect x="130.08" y="144.32" width="16.03" height="1.17" fill="#eae5f4"/>
<rect x="130.08" y="145.24" width="16.03" height="1.17" fill="#b09bd2"/>
<rect x="130.08" y="146.16" width="16.03" height="1.17" fill="#b29dd3"/>
<rect x="130.08" y="147.08" width="16.03" height="1.17" fill="#f9ccbd"/>
<rect x="130.08" y="148" width="16.03" height="1.17" fill="#f9cebf"/>
<rect x="130.08" y="148.91" width="16.03" height="1.17" fill="#f4c5b5"/>
<rect x="130.08" y="149.83" width="16.03" height="1.17" fill="#f8c8b8"/>
<rect x="130.08" y="150.75" width="16.03" height="1.17" fill="#f7c7b7"/>
<rect x="130.08" y="151.67" width="16.03" height="1.17" fill="#f8c9b9"/>
<rect x="130.08" y="152.59" width="16.03" height="1.17" fill="#eabcad"/>
<rect x="130.08" y="153.51" width="16.03" height="1.17" fill="#f9ccbe"/>
<rect x="130.08" y="154.43" width="16.03" height="1.17" fill="#e7baab"/>
<rect x="130.08" y="155.35" width="16.03" height="1.17" fill="#f9cebf"/>
<rect x="130.08" y="156.26" width="16.03" height="1.17" fill="#f8c9ba"/>
<rect x="130.08" y="157.18" width="16.03" height="1.17" fill="#f6c6b6"/>
<rect x="130.08" y="158.1" width="16.03" height="1.17" fill="#f8c8b8"/>
<rect x="130.08" y="159.02" width="16.03" height="1.17" fill="#deb3a5"/>
<rect x="130.08" y="159.94" width="16.03" height="1.17" fill="#f8cabb"/>
<rect x="130.08" y="160.86" width="16.03" height="1.17" fill="#f9cdbf"/>
<rect x="130.08" y="161.78" width="16.03" height="1.17" fill="#f4f0f8"/>
<rect x="130.08" y="162.69" width="16.03" height="1.17" fill="#f3eff7"/>
<rect x="130.08" y="163.61" width="16.03" height="1.17" fill="#e4dfe8"/>
<rect x="130.08" y="164.53" width="16.03" height="1.17" fill="#f2eef6"/>
<rect x="130.08" y="165.45" width="16.03" height="1.17" fill="#d6d2da"/>
<rect x="130.08" y="166.37" width="16.03" height="1.17" fill="#e3dee7"/>
<rect x="130.08" y="167.29" width="16.03" height="1.17" fill="#9f8bbf"/>
<rect x="130.08" y="168.21" width="16.03" height="1.17" fill="#9785b7"/>
<rect x="130.08" y="169.13" width="16.03" height="1.17" fill="#a894cb"/>
<rect x="130.08" y="170.04" width="16.03" height="1.17" fill="#ab96ce"/>
<rect x="130.08" y="170.96" width="16.03" height="1.17" fill="#a793ca"/>
<rect x="130.08" y="171.88" width="16.03" height="1.17" fill="#a793ca"/>
<rect x="20" y="5.6" width="125.8" height="167.2" fill="none" stroke="#111" stroke-width="1.5"/>
<line x1="82.9" y1="5.6" x2="82.9" y2="172.8" stroke="#111" stroke-width="1.3"/>
<text transform="translate(13.40,88.50) rotate(-90)" font-size="14.3" text-anchor="middle" fill="#000" >182 metabolites</text>
<text transform="translate(32.26,177.60) rotate(-90)" font-size="12.1" text-anchor="end" fill="#000" >Control_1h</text>
<text transform="translate(47.99,177.60) rotate(-90)" font-size="12.1" text-anchor="end" fill="#000" >LPS_1h</text>
<text transform="translate(63.71,177.60) rotate(-90)" font-size="12.1" text-anchor="end" fill="#000" >ILG_1h</text>
<text transform="translate(79.44,177.60) rotate(-90)" font-size="12.1" text-anchor="end" fill="#000" >GU_1h</text>
<text transform="translate(95.16,177.60) rotate(-90)" font-size="12.1" text-anchor="end" fill="#000" >Control_24h</text>
<text transform="translate(110.89,177.60) rotate(-90)" font-size="12.1" text-anchor="end" fill="#000" >LPS_24h</text>
<text transform="translate(126.61,177.60) rotate(-90)" font-size="12.1" text-anchor="end" fill="#000" >ILG_24h</text>
<text transform="translate(142.34,177.60) rotate(-90)" font-size="12.1" text-anchor="end" fill="#000" >GU_24h</text>
<text x="108.80" y="262.70" font-size="12.4" text-anchor="middle" fill="#000" >Z-score</text>
<defs><linearGradient id="zg" x1="0" x2="1" y1="0" y2="0"><stop offset="0" stop-color="#00008b"/><stop offset="0.2" stop-color="#00008b"/><stop offset="0.3" stop-color="#3c2aa0"/><stop offset="0.4" stop-color="#9a8cd0"/><stop offset="0.5" stop-color="#fbf8fb"/><stop offset="0.62" stop-color="#f8c0b0"/><stop offset="0.75" stop-color="#ec7868"/><stop offset="0.88" stop-color="#d2262a"/><stop offset="1" stop-color="#d2262a"/></linearGradient></defs>
<rect x="70.9" y="267.9" width="76.6" height="14.9" fill="url(#zg)"/>
<line x1="72.6" y1="267.9" x2="72.6" y2="269.8" stroke="#fff" stroke-width="0.7"/>
<line x1="72.6" y1="280.9" x2="72.6" y2="282.8" stroke="#fff" stroke-width="0.7"/>
<line x1="108.5" y1="267.9" x2="108.5" y2="269.8" stroke="#fff" stroke-width="0.7"/>
<line x1="108.5" y1="280.9" x2="108.5" y2="282.8" stroke="#fff" stroke-width="0.7"/>
<line x1="144.4" y1="267.9" x2="144.4" y2="269.8" stroke="#fff" stroke-width="0.7"/>
<line x1="144.4" y1="280.9" x2="144.4" y2="282.8" stroke="#fff" stroke-width="0.7"/>
<text x="72.60" y="294.60" font-size="12.4" text-anchor="middle" fill="#000" >-3</text>
<text x="108.50" y="294.60" font-size="12.4" text-anchor="middle" fill="#000" >0</text>
<text x="144.40" y="294.60" font-size="12.4" text-anchor="middle" fill="#000" >3</text>
<rect x="150.1" y="116" width="2.9" height="18.3" fill="#000"/>
<line x1="153" y1="125.1" x2="175.5" y2="125.1" stroke="#000" stroke-width="1.6" stroke-dasharray="1.5,1.0"/>
<polygon points="180.8,125.1 175.0,121.8 175.0,128.4" fill="#000"/>
<rect x="189.2" y="2.6" width="10.38" height="11.98" fill="#7358b3"/>
<rect x="199.27" y="2.6" width="10.38" height="11.98" fill="#fcc8bc"/>
<rect x="209.35" y="2.6" width="10.38" height="11.98" fill="#f8b4a8"/>
<rect x="219.43" y="2.6" width="10.38" height="11.98" fill="#fde0d8"/>
<rect x="229.5" y="2.6" width="10.38" height="11.98" fill="#5538a2"/>
<rect x="239.57" y="2.6" width="10.38" height="11.98" fill="#fcc8bc"/>
<rect x="249.65" y="2.6" width="10.38" height="11.98" fill="#fde8e4"/>
<rect x="259.73" y="2.6" width="10.38" height="11.98" fill="#fdf4f2"/>
<rect x="189.2" y="14.28" width="10.38" height="11.98" fill="#5538a2"/>
<rect x="199.27" y="14.28" width="10.38" height="11.98" fill="#fcc0b4"/>
<rect x="209.35" y="14.28" width="10.38" height="11.98" fill="#fcc8bc"/>
<rect x="219.43" y="14.28" width="10.38" height="11.98" fill="#fdd8d0"/>
<rect x="229.5" y="14.28" width="10.38" height="11.98" fill="#8168bc"/>
<rect x="239.57" y="14.28" width="10.38" height="11.98" fill="#fcd4c8"/>
<rect x="249.65" y="14.28" width="10.38" height="11.98" fill="#f8b4a8"/>
<rect x="259.73" y="14.28" width="10.38" height="11.98" fill="#d3c8e6"/>
<rect x="189.2" y="25.97" width="10.38" height="11.98" fill="#4c30a2"/>
<rect x="199.27" y="25.97" width="10.38" height="11.98" fill="#fde0d8"/>
<rect x="209.35" y="25.97" width="10.38" height="11.98" fill="#fcc8bc"/>
<rect x="219.43" y="25.97" width="10.38" height="11.98" fill="#f8b8ac"/>
<rect x="229.5" y="25.97" width="10.38" height="11.98" fill="#9780c4"/>
<rect x="239.57" y="25.97" width="10.38" height="11.98" fill="#ffffff"/>
<rect x="249.65" y="25.97" width="10.38" height="11.98" fill="#f09888"/>
<rect x="259.73" y="25.97" width="10.38" height="11.98" fill="#e6def1"/>
<rect x="189.2" y="37.65" width="10.38" height="11.98" fill="#7358b3"/>
<rect x="199.27" y="37.65" width="10.38" height="11.98" fill="#f08070"/>
<rect x="209.35" y="37.65" width="10.38" height="11.98" fill="#e6e0f1"/>
<rect x="219.43" y="37.65" width="10.38" height="11.98" fill="#fcc8bc"/>
<rect x="229.5" y="37.65" width="10.38" height="11.98" fill="#8168bc"/>
<rect x="239.57" y="37.65" width="10.38" height="11.98" fill="#fdd8d0"/>
<rect x="249.65" y="37.65" width="10.38" height="11.98" fill="#fcc8bc"/>
<rect x="259.73" y="37.65" width="10.38" height="11.98" fill="#ded4ed"/>
<rect x="189.2" y="49.33" width="10.38" height="11.98" fill="#6b50b3"/>
<rect x="199.27" y="49.33" width="10.38" height="11.98" fill="#f08878"/>
<rect x="209.35" y="49.33" width="10.38" height="11.98" fill="#fcc0b4"/>
<rect x="219.43" y="49.33" width="10.38" height="11.98" fill="#fde4e0"/>
<rect x="229.5" y="49.33" width="10.38" height="11.98" fill="#7358b3"/>
<rect x="239.57" y="49.33" width="10.38" height="11.98" fill="#faf8fc"/>
<rect x="249.65" y="49.33" width="10.38" height="11.98" fill="#fcc0b4"/>
<rect x="259.73" y="49.33" width="10.38" height="11.98" fill="#e9e4f3"/>
<rect x="189.2" y="61.01" width="10.38" height="11.98" fill="#7358b3"/>
<rect x="199.27" y="61.01" width="10.38" height="11.98" fill="#ec7868"/>
<rect x="209.35" y="61.01" width="10.38" height="11.98" fill="#fcc0b4"/>
<rect x="219.43" y="61.01" width="10.38" height="11.98" fill="#f8f8fc"/>
<rect x="229.5" y="61.01" width="10.38" height="11.98" fill="#8168bc"/>
<rect x="239.57" y="61.01" width="10.38" height="11.98" fill="#ded4ed"/>
<rect x="249.65" y="61.01" width="10.38" height="11.98" fill="#fdd8d0"/>
<rect x="259.73" y="61.01" width="10.38" height="11.98" fill="#fef4f2"/>
<rect x="189.2" y="72.7" width="10.38" height="11.98" fill="#110089"/>
<rect x="199.27" y="72.7" width="10.38" height="11.98" fill="#f08070"/>
<rect x="209.35" y="72.7" width="10.38" height="11.98" fill="#cbc0e2"/>
<rect x="219.43" y="72.7" width="10.38" height="11.98" fill="#fdd8d0"/>
<rect x="229.5" y="72.7" width="10.38" height="11.98" fill="#fef4f0"/>
<rect x="239.57" y="72.7" width="10.38" height="11.98" fill="#fef4f0"/>
<rect x="249.65" y="72.7" width="10.38" height="11.98" fill="#fef4f0"/>
<rect x="259.73" y="72.7" width="10.38" height="11.98" fill="#fde4de"/>
<rect x="189.2" y="84.38" width="10.38" height="11.98" fill="#1a0889"/>
<rect x="199.27" y="84.38" width="10.38" height="11.98" fill="#fcc0b4"/>
<rect x="209.35" y="84.38" width="10.38" height="11.98" fill="#fcc0b4"/>
<rect x="219.43" y="84.38" width="10.38" height="11.98" fill="#fdd4cc"/>
<rect x="229.5" y="84.38" width="10.38" height="11.98" fill="#fef0ec"/>
<rect x="239.57" y="84.38" width="10.38" height="11.98" fill="#937cc4"/>
<rect x="249.65" y="84.38" width="10.38" height="11.98" fill="#fde0d8"/>
<rect x="259.73" y="84.38" width="10.38" height="11.98" fill="#fde0d8"/>
<rect x="189.2" y="96.06" width="10.38" height="11.98" fill="#ad98d1"/>
<rect x="199.27" y="96.06" width="10.38" height="11.98" fill="#a690cd"/>
<rect x="209.35" y="96.06" width="10.38" height="11.98" fill="#e46050"/>
<rect x="219.43" y="96.06" width="10.38" height="11.98" fill="#fde4e0"/>
<rect x="229.5" y="96.06" width="10.38" height="11.98" fill="#ad98d1"/>
<rect x="239.57" y="96.06" width="10.38" height="11.98" fill="#ad98d1"/>
<rect x="249.65" y="96.06" width="10.38" height="11.98" fill="#fcc0b4"/>
<rect x="259.73" y="96.06" width="10.38" height="11.98" fill="#fde8e4"/>
<rect x="189.2" y="107.74" width="10.38" height="11.98" fill="#8870c0"/>
<rect x="199.27" y="107.74" width="10.38" height="11.98" fill="#e2dcef"/>
<rect x="209.35" y="107.74" width="10.38" height="11.98" fill="#e46454"/>
<rect x="219.43" y="107.74" width="10.38" height="11.98" fill="#f49888"/>
<rect x="229.5" y="107.74" width="10.38" height="11.98" fill="#b5a4d5"/>
<rect x="239.57" y="107.74" width="10.38" height="11.98" fill="#edebf5"/>
<rect x="249.65" y="107.74" width="10.38" height="11.98" fill="#ded4ed"/>
<rect x="259.73" y="107.74" width="10.38" height="11.98" fill="#ded4ed"/>
<rect x="189.2" y="119.43" width="10.38" height="11.98" fill="#b5a4d5"/>
<rect x="199.27" y="119.43" width="10.38" height="11.98" fill="#bcacda"/>
<rect x="209.35" y="119.43" width="10.38" height="11.98" fill="#e25444"/>
<rect x="219.43" y="119.43" width="10.38" height="11.98" fill="#f49a8a"/>
<rect x="229.5" y="119.43" width="10.38" height="11.98" fill="#cbc0e2"/>
<rect x="239.57" y="119.43" width="10.38" height="11.98" fill="#d3c8e6"/>
<rect x="249.65" y="119.43" width="10.38" height="11.98" fill="#cbc0e2"/>
<rect x="259.73" y="119.43" width="10.38" height="11.98" fill="#c4b4de"/>
<rect x="189.2" y="131.11" width="10.38" height="11.98" fill="#cbc0e2"/>
<rect x="199.27" y="131.11" width="10.38" height="11.98" fill="#cbc0e2"/>
<rect x="209.35" y="131.11" width="10.38" height="11.98" fill="#cbc0e2"/>
<rect x="219.43" y="131.11" width="10.38" height="11.98" fill="#d84838"/>
<rect x="229.5" y="131.11" width="10.38" height="11.98" fill="#cbc0e2"/>
<rect x="239.57" y="131.11" width="10.38" height="11.98" fill="#cbc0e2"/>
<rect x="249.65" y="131.11" width="10.38" height="11.98" fill="#cbc0e2"/>
<rect x="259.73" y="131.11" width="10.38" height="11.98" fill="#fab8a8"/>
<rect x="189.2" y="142.79" width="10.38" height="11.98" fill="#cbc0e2"/>
<rect x="199.27" y="142.79" width="10.38" height="11.98" fill="#cbc0e2"/>
<rect x="209.35" y="142.79" width="10.38" height="11.98" fill="#cbc0e2"/>
<rect x="219.43" y="142.79" width="10.38" height="11.98" fill="#f8a898"/>
<rect x="229.5" y="142.79" width="10.38" height="11.98" fill="#cbc0e2"/>
<rect x="239.57" y="142.79" width="10.38" height="11.98" fill="#cbc0e2"/>
<rect x="249.65" y="142.79" width="10.38" height="11.98" fill="#cbc0e2"/>
<rect x="259.73" y="142.79" width="10.38" height="11.98" fill="#dc4c3c"/>
<rect x="189.2" y="154.47" width="10.38" height="11.98" fill="#c8bce0"/>
<rect x="199.27" y="154.47" width="10.38" height="11.98" fill="#c8bce0"/>
<rect x="209.35" y="154.47" width="10.38" height="11.98" fill="#c8bce0"/>
<rect x="219.43" y="154.47" width="10.38" height="11.98" fill="#f8aca0"/>
<rect x="229.5" y="154.47" width="10.38" height="11.98" fill="#cbc0e2"/>
<rect x="239.57" y="154.47" width="10.38" height="11.98" fill="#cfc4e4"/>
<rect x="249.65" y="154.47" width="10.38" height="11.98" fill="#cbc0e2"/>
<rect x="259.73" y="154.47" width="10.38" height="11.98" fill="#d84838"/>
<rect x="189.2" y="166.16" width="10.38" height="11.98" fill="#c4b6de"/>
<rect x="199.27" y="166.16" width="10.38" height="11.98" fill="#c4b6de"/>
<rect x="209.35" y="166.16" width="10.38" height="11.98" fill="#c4b6de"/>
<rect x="219.43" y="166.16" width="10.38" height="11.98" fill="#f08c7c"/>
<rect x="229.5" y="166.16" width="10.38" height="11.98" fill="#cfc4e4"/>
<rect x="239.57" y="166.16" width="10.38" height="11.98" fill="#cbc0e2"/>
<rect x="249.65" y="166.16" width="10.38" height="11.98" fill="#c4b4de"/>
<rect x="259.73" y="166.16" width="10.38" height="11.98" fill="#e05848"/>
<rect x="189.2" y="177.84" width="10.38" height="11.98" fill="#c8bce0"/>
<rect x="199.27" y="177.84" width="10.38" height="11.98" fill="#c8bce0"/>
<rect x="209.35" y="177.84" width="10.38" height="11.98" fill="#c8bce0"/>
<rect x="219.43" y="177.84" width="10.38" height="11.98" fill="#f09080"/>
<rect x="229.5" y="177.84" width="10.38" height="11.98" fill="#cbc0e2"/>
<rect x="239.57" y="177.84" width="10.38" height="11.98" fill="#cbc0e2"/>
<rect x="249.65" y="177.84" width="10.38" height="11.98" fill="#cbc0e2"/>
<rect x="259.73" y="177.84" width="10.38" height="11.98" fill="#e05444"/>
<rect x="189.2" y="189.52" width="10.38" height="11.98" fill="#cbc0e2"/>
<rect x="199.27" y="189.52" width="10.38" height="11.98" fill="#cbc0e2"/>
<rect x="209.35" y="189.52" width="10.38" height="11.98" fill="#cbc0e2"/>
<rect x="219.43" y="189.52" width="10.38" height="11.98" fill="#f09080"/>
<rect x="229.5" y="189.52" width="10.38" height="11.98" fill="#bcacda"/>
<rect x="239.57" y="189.52" width="10.38" height="11.98" fill="#c4b4de"/>
<rect x="249.65" y="189.52" width="10.38" height="11.98" fill="#c4b4de"/>
<rect x="259.73" y="189.52" width="10.38" height="11.98" fill="#e05444"/>
<rect x="189.2" y="201.2" width="10.38" height="11.98" fill="#937cc4"/>
<rect x="199.27" y="201.2" width="10.38" height="11.98" fill="#b5a0d5"/>
<rect x="209.35" y="201.2" width="10.38" height="11.98" fill="#b5a0d5"/>
<rect x="219.43" y="201.2" width="10.38" height="11.98" fill="#ec8070"/>
<rect x="229.5" y="201.2" width="10.38" height="11.98" fill="#b5a4d5"/>
<rect x="239.57" y="201.2" width="10.38" height="11.98" fill="#feeeea"/>
<rect x="249.65" y="201.2" width="10.38" height="11.98" fill="#fef4f2"/>
<rect x="259.73" y="201.2" width="10.38" height="11.98" fill="#ec8070"/>
<rect x="189.2" y="212.89" width="10.38" height="11.98" fill="#6548af"/>
<rect x="199.27" y="212.89" width="10.38" height="11.98" fill="#9780c4"/>
<rect x="209.35" y="212.89" width="10.38" height="11.98" fill="#dad0eb"/>
<rect x="219.43" y="212.89" width="10.38" height="11.98" fill="#f49888"/>
<rect x="229.5" y="212.89" width="10.38" height="11.98" fill="#d3c8e6"/>
<rect x="239.57" y="212.89" width="10.38" height="11.98" fill="#f4a090"/>
<rect x="249.65" y="212.89" width="10.38" height="11.98" fill="#fee4de"/>
<rect x="259.73" y="212.89" width="10.38" height="11.98" fill="#fab8a8"/>
<rect x="189.2" y="224.57" width="10.38" height="11.98" fill="#4728a2"/>
<rect x="199.27" y="224.57" width="10.38" height="11.98" fill="#cbbce2"/>
<rect x="209.35" y="224.57" width="10.38" height="11.98" fill="#f8f8fc"/>
<rect x="219.43" y="224.57" width="10.38" height="11.98" fill="#f49888"/>
<rect x="229.5" y="224.57" width="10.38" height="11.98" fill="#c4b4de"/>
<rect x="239.57" y="224.57" width="10.38" height="11.98" fill="#f09080"/>
<rect x="249.65" y="224.57" width="10.38" height="11.98" fill="#e9e4f3"/>
<rect x="259.73" y="224.57" width="10.38" height="11.98" fill="#fcc4b8"/>
<rect x="189.2" y="236.25" width="10.38" height="11.98" fill="#5c40aa"/>
<rect x="199.27" y="236.25" width="10.38" height="11.98" fill="#9e88c9"/>
<rect x="209.35" y="236.25" width="10.38" height="11.98" fill="#fde0d8"/>
<rect x="219.43" y="236.25" width="10.38" height="11.98" fill="#f4a090"/>
<rect x="229.5" y="236.25" width="10.38" height="11.98" fill="#e9e4f3"/>
<rect x="239.57" y="236.25" width="10.38" height="11.98" fill="#fdd8d0"/>
<rect x="249.65" y="236.25" width="10.38" height="11.98" fill="#b5a4d5"/>
<rect x="259.73" y="236.25" width="10.38" height="11.98" fill="#f08878"/>
<rect x="189.2" y="247.93" width="10.38" height="11.98" fill="#5638a6"/>
<rect x="199.27" y="247.93" width="10.38" height="11.98" fill="#c4b4de"/>
<rect x="209.35" y="247.93" width="10.38" height="11.98" fill="#fef0ee"/>
<rect x="219.43" y="247.93" width="10.38" height="11.98" fill="#e87060"/>
<rect x="229.5" y="247.93" width="10.38" height="11.98" fill="#a690cd"/>
<rect x="239.57" y="247.93" width="10.38" height="11.98" fill="#fee8e4"/>
<rect x="249.65" y="247.93" width="10.38" height="11.98" fill="#fee8e4"/>
<rect x="259.73" y="247.93" width="10.38" height="11.98" fill="#fccac0"/>
<rect x="189.2" y="259.62" width="10.38" height="11.98" fill="#46289a"/>
<rect x="199.27" y="259.62" width="10.38" height="11.98" fill="#cbc0e2"/>
<rect x="209.35" y="259.62" width="10.38" height="11.98" fill="#fcd0c8"/>
<rect x="219.43" y="259.62" width="10.38" height="11.98" fill="#e87060"/>
<rect x="229.5" y="259.62" width="10.38" height="11.98" fill="#e2dcef"/>
<rect x="239.57" y="259.62" width="10.38" height="11.98" fill="#fefcfc"/>
<rect x="249.65" y="259.62" width="10.38" height="11.98" fill="#f1eef8"/>
<rect x="259.73" y="259.62" width="10.38" height="11.98" fill="#fccac0"/>
<rect x="189.2" y="2.6" width="80.6" height="268.7" fill="none" stroke="#111" stroke-width="1.3"/>
<line x1="229.5" y1="2.6" x2="229.5" y2="271.3" stroke="#111" stroke-width="1.2"/>
<text x="272.80" y="13.44" font-size="11.3" text-anchor="start" fill="#000" >Thiamine</text>
<text x="272.80" y="25.12" font-size="11.3" text-anchor="start" fill="#000" >L-Arginine</text>
<text x="272.80" y="36.81" font-size="11.3" text-anchor="start" fill="#000" >Phosphocholine</text>
<text x="272.80" y="48.49" font-size="11.3" text-anchor="start" fill="#000" >Oxidized glutathione</text>
<text x="272.80" y="60.17" font-size="11.3" text-anchor="start" fill="#000" >Glycerophosphocholine</text>
<text x="272.80" y="71.85" font-size="11.3" text-anchor="start" fill="#000" >Choline</text>
<text x="272.80" y="83.54" font-size="11.3" text-anchor="start" fill="#000" >4-Trimethylammoniobutanoic acid</text>
<text x="272.80" y="95.22" font-size="11.3" text-anchor="start" fill="#000" >Isocitric acid</text>
<text x="272.80" y="106.90" font-size="11.3" text-anchor="start" fill="#000" >Isoloiquilitigenin</text>
<text x="272.80" y="118.58" font-size="11.3" text-anchor="start" fill="#000" >gamma-Glutamylglycine</text>
<text x="272.80" y="130.27" font-size="11.3" text-anchor="start" fill="#000" >Glutamylthreonine</text>
<text x="272.80" y="141.95" font-size="11.3" text-anchor="start" fill="#000" >Isoliquiritin</text>
<text x="272.80" y="153.63" font-size="11.3" text-anchor="start" fill="#000" >2-Aminobenzoic acid</text>
<text x="272.80" y="165.32" font-size="11.3" text-anchor="start" fill="#000" >4-Guanidinobutanoic acid</text>
<text x="272.80" y="177.00" font-size="11.3" text-anchor="start" fill="#000" >beta-Homolysine</text>
<text x="272.80" y="188.68" font-size="11.3" text-anchor="start" fill="#000" >GABA</text>
<text x="272.80" y="200.36" font-size="11.3" text-anchor="start" fill="#000" >But-2-enoic acid</text>
<text x="272.80" y="212.05" font-size="11.3" text-anchor="start" fill="#000" >Proline</text>
<text x="272.80" y="223.73" font-size="11.3" text-anchor="start" fill="#000" >Thiacloprid</text>
<text x="272.80" y="235.41" font-size="11.3" text-anchor="start" fill="#000" >Propionylcarnitine</text>
<text x="272.80" y="247.09" font-size="11.3" text-anchor="start" fill="#000" >Pantothenic acid</text>
<text x="272.80" y="258.78" font-size="11.3" text-anchor="start" fill="#000" >Taurine</text>
<text x="272.80" y="270.46" font-size="11.3" text-anchor="start" fill="#000" >Betaine</text>
<text transform="translate(198.84,274.40) rotate(-90)" font-size="11.6" text-anchor="end" fill="#000" >Control_1h</text>
<text transform="translate(208.91,274.40) rotate(-90)" font-size="11.6" text-anchor="end" fill="#000" >LPS_1h</text>
<text transform="translate(218.99,274.40) rotate(-90)" font-size="11.6" text-anchor="end" fill="#000" >ILG_1h</text>
<text transform="translate(229.06,274.40) rotate(-90)" font-size="11.6" text-anchor="end" fill="#000" >GU_1h</text>
<text transform="translate(239.14,274.40) rotate(-90)" font-size="11.6" text-anchor="end" fill="#000" >Control_24h</text>
<text transform="translate(249.21,274.40) rotate(-90)" font-size="11.6" text-anchor="end" fill="#000" >LPS_24h</text>
<text transform="translate(259.29,274.40) rotate(-90)" font-size="11.6" text-anchor="end" fill="#000" >ILG_24h</text>
<text transform="translate(269.36,274.40) rotate(-90)" font-size="11.6" text-anchor="end" fill="#000" >GU_24h</text>
<text x="475.50" y="14.70" font-size="21" text-anchor="start" fill="#000" >b</text>
<text x="517.60" y="23.40" font-size="12" text-anchor="start" fill="#000" >Increased</text>
<line x1="518.5" y1="27.5" x2="518.5" y2="108" stroke="#000" stroke-width="1.15"/>
<line x1="518.5" y1="112.4" x2="518.5" y2="134.4" stroke="#000" stroke-width="1.15"/>
<path d="M514.3,108.6 C515.9,106.4 517.3,106.8 518.5,108.0 C519.7,109.2 521.1,109.6 522.1,107.4" fill="none" stroke="#000" stroke-width="0.9"/>
<path d="M514.3,113.0 C515.9,110.8 517.3,111.2 518.5,112.4 C519.7,113.6 521.1,114.0 522.1,111.8" fill="none" stroke="#000" stroke-width="0.9"/>
<line x1="518" y1="134.4" x2="652.5" y2="134.4" stroke="#000" stroke-width="1.1"/>
<line x1="515.5" y1="32.69" x2="518.5" y2="32.69" stroke="#000" stroke-width="0.9"/>
<text x="513.80" y="36.79" font-size="11.7" text-anchor="end" fill="#000" >130</text>
<line x1="515.5" y1="51.96" x2="518.5" y2="51.96" stroke="#000" stroke-width="0.9"/>
<text x="513.80" y="56.06" font-size="11.7" text-anchor="end" fill="#000" >120</text>
<line x1="515.5" y1="71.23" x2="518.5" y2="71.23" stroke="#000" stroke-width="0.9"/>
<text x="513.80" y="75.33" font-size="11.7" text-anchor="end" fill="#000" >110</text>
<line x1="515.5" y1="90.5" x2="518.5" y2="90.5" stroke="#000" stroke-width="0.9"/>
<text x="513.80" y="94.60" font-size="11.7" text-anchor="end" fill="#000" >100</text>
<line x1="515.5" y1="130.6" x2="518.5" y2="130.6" stroke="#000" stroke-width="0.9"/>
<text x="513.80" y="134.70" font-size="11.7" text-anchor="end" fill="#000" >0</text>
<line x1="554.9" y1="134.4" x2="554.9" y2="137.2" stroke="#000" stroke-width="0.9"/>
<text x="554.90" y="146.90" font-size="11.7" text-anchor="middle" fill="#000" >1h</text>
<line x1="616" y1="134.4" x2="616" y2="137.2" stroke="#000" stroke-width="0.9"/>
<text x="616.00" y="146.90" font-size="11.7" text-anchor="middle" fill="#000" >24h</text>
<polyline points="554.9,78.8 615.9,63.3" fill="none" stroke="#c21c24" stroke-width="2.2"/>
<polyline points="554.9,65.1 615.9,55.4" fill="none" stroke="#1a4fb5" stroke-width="2.2"/>
<polyline points="554.9,33.8 615.9,37.6" fill="none" stroke="#0b6e5a" stroke-width="2.2"/>
<circle cx="554.9" cy="78.8" r="3.5" fill="#c21c24" stroke="#111" stroke-width="1.1"/>
<circle cx="615.9" cy="63.3" r="3.5" fill="#c21c24" stroke="#111" stroke-width="1.1"/>
<circle cx="554.9" cy="65.1" r="3.5" fill="#1a4fb5" stroke="#111" stroke-width="1.1"/>
<circle cx="615.9" cy="55.4" r="3.5" fill="#1a4fb5" stroke="#111" stroke-width="1.1"/>
<circle cx="554.9" cy="33.8" r="3.5" fill="#0b6e5a" stroke="#111" stroke-width="1.1"/>
<circle cx="615.9" cy="37.6" r="3.5" fill="#0b6e5a" stroke="#111" stroke-width="1.1"/>
<text x="517.60" y="164.80" font-size="12" text-anchor="start" fill="#000" >Decreased</text>
<line x1="518.5" y1="168.2" x2="518.5" y2="276.7" stroke="#000" stroke-width="1.1"/>
<line x1="518" y1="276.7" x2="654.5" y2="276.7" stroke="#000" stroke-width="1.1"/>
<line x1="515.5" y1="272.3" x2="518.5" y2="272.3" stroke="#000" stroke-width="0.9"/>
<text x="513.80" y="276.40" font-size="11.7" text-anchor="end" fill="#000" >0</text>
<line x1="515.5" y1="252.45" x2="518.5" y2="252.45" stroke="#000" stroke-width="0.9"/>
<text x="513.80" y="256.55" font-size="11.7" text-anchor="end" fill="#000" >1</text>
<line x1="515.5" y1="232.6" x2="518.5" y2="232.6" stroke="#000" stroke-width="0.9"/>
<text x="513.80" y="236.70" font-size="11.7" text-anchor="end" fill="#000" >2</text>
<line x1="515.5" y1="212.75" x2="518.5" y2="212.75" stroke="#000" stroke-width="0.9"/>
<text x="513.80" y="216.85" font-size="11.7" text-anchor="end" fill="#000" >3</text>
<line x1="515.5" y1="192.9" x2="518.5" y2="192.9" stroke="#000" stroke-width="0.9"/>
<text x="513.80" y="197.00" font-size="11.7" text-anchor="end" fill="#000" >4</text>
<line x1="515.5" y1="173.05" x2="518.5" y2="173.05" stroke="#000" stroke-width="0.9"/>
<text x="513.80" y="177.15" font-size="11.7" text-anchor="end" fill="#000" >5</text>
<line x1="555.2" y1="276.7" x2="555.2" y2="279.5" stroke="#000" stroke-width="0.9"/>
<text x="555.20" y="290.40" font-size="11.7" text-anchor="middle" fill="#000" >1h</text>
<line x1="617.2" y1="276.7" x2="617.2" y2="279.5" stroke="#000" stroke-width="0.9"/>
<text x="617.20" y="290.40" font-size="11.7" text-anchor="middle" fill="#000" >24h</text>
<polyline points="555.2,252.5 617.2,272.3" fill="none" stroke="#c21c24" stroke-width="2.2"/>
<polyline points="555.2,272.3 617.2,232.6" fill="none" stroke="#1a4fb5" stroke-width="2.2"/>
<polyline points="555.2,272.3 617.2,173.1" fill="none" stroke="#0b6e5a" stroke-width="2.2"/>
<circle cx="555.2" cy="252.5" r="3.5" fill="#c21c24" stroke="#111" stroke-width="1.1"/>
<circle cx="617.2" cy="272.3" r="3.5" fill="#c21c24" stroke="#111" stroke-width="1.1"/>
<circle cx="555.2" cy="272.3" r="3.5" fill="#1a4fb5" stroke="#111" stroke-width="1.1"/>
<circle cx="617.2" cy="232.6" r="3.5" fill="#1a4fb5" stroke="#111" stroke-width="1.1"/>
<circle cx="555.2" cy="272.3" r="3.5" fill="#0b6e5a" stroke="#111" stroke-width="1.1"/>
<circle cx="617.2" cy="173.1" r="3.5" fill="#0b6e5a" stroke="#111" stroke-width="1.1"/>
<text transform="translate(484.30,157.70) rotate(-90)" font-size="11.14" text-anchor="middle" fill="#000" >Significantly changed metabolites</text>
<circle cx="529.9" cy="314.6" r="3.5" fill="#c21c24" stroke="#111" stroke-width="1.1"/>
<text x="539.20" y="318.80" font-size="11.7" text-anchor="start" fill="#000" >LPS</text>
<circle cx="573.6" cy="314.6" r="3.5" fill="#1a4fb5" stroke="#111" stroke-width="1.1"/>
<text x="583.00" y="318.80" font-size="11.7" text-anchor="start" fill="#000" >ILG</text>
<circle cx="614.5" cy="314.6" r="3.5" fill="#0b6e5a" stroke="#111" stroke-width="1.1"/>
<text x="623.30" y="318.80" font-size="11.7" text-anchor="start" fill="#000" >GU</text>
<text x="1.20" y="361.70" font-size="21" text-anchor="start" fill="#000" >c</text>
<text x="69.20" y="366.90" font-size="6.2" text-anchor="middle" fill="#000" >Glucose 6-Phosphate</text>
<rect x="45.5" y="411.4" width="5.25" height="4.4" fill="#a6a6a6" stroke="#1a1a1a" stroke-width="0.8"/>
<line x1="48.12" y1="410.25" x2="48.12" y2="412.55" stroke="#1a1a1a" stroke-width="0.6"/>
<line x1="46.8" y1="410.25" x2="49.45" y2="410.25" stroke="#1a1a1a" stroke-width="0.6"/>
<circle cx="48.08" cy="410.93" r="1.05" fill="#2e2e2e"/>
<circle cx="47.64" cy="411.13" r="1.05" fill="#2e2e2e"/>
<circle cx="47.46" cy="413.00" r="1.05" fill="#2e2e2e"/>
<rect x="51.15" y="390.3" width="5.25" height="25.5" fill="#e59597" stroke="#1a1a1a" stroke-width="0.8"/>
<line x1="53.77" y1="387.46" x2="53.77" y2="393.14" stroke="#1a1a1a" stroke-width="0.6"/>
<line x1="52.45" y1="387.46" x2="55.1" y2="387.46" stroke="#1a1a1a" stroke-width="0.6"/>
<circle cx="53.09" cy="395.42" r="1.05" fill="#8c1c1c"/>
<circle cx="53.35" cy="392.54" r="1.05" fill="#8c1c1c"/>
<circle cx="53.11" cy="396.10" r="1.05" fill="#8c1c1c"/>
<rect x="56.8" y="392.4" width="5.25" height="23.4" fill="#89a8dd" stroke="#1a1a1a" stroke-width="0.8"/>
<line x1="59.42" y1="389.73" x2="59.42" y2="395.07" stroke="#1a1a1a" stroke-width="0.6"/>
<line x1="58.1" y1="389.73" x2="60.75" y2="389.73" stroke="#1a1a1a" stroke-width="0.6"/>
<circle cx="60.04" cy="391.75" r="1.05" fill="#1c3c8c"/>
<circle cx="59.39" cy="398.49" r="1.05" fill="#1c3c8c"/>
<circle cx="59.42" cy="392.98" r="1.05" fill="#1c3c8c"/>
<rect x="62.45" y="391.4" width="5.25" height="24.4" fill="#80bfae" stroke="#1a1a1a" stroke-width="0.8"/>
<line x1="65.07" y1="388.65" x2="65.07" y2="394.15" stroke="#1a1a1a" stroke-width="0.6"/>
<line x1="63.75" y1="388.65" x2="66.4" y2="388.65" stroke="#1a1a1a" stroke-width="0.6"/>
<circle cx="65.49" cy="397.46" r="1.05" fill="#0e5a48"/>
<circle cx="65.43" cy="394.95" r="1.05" fill="#0e5a48"/>
<circle cx="65.39" cy="396.63" r="1.05" fill="#0e5a48"/>
<rect x="70.6" y="403.4" width="5.25" height="12.4" fill="#a6a6a6" stroke="#1a1a1a" stroke-width="0.8"/>
<line x1="73.22" y1="401.61" x2="73.22" y2="405.19" stroke="#1a1a1a" stroke-width="0.6"/>
<line x1="71.9" y1="401.61" x2="74.55" y2="401.61" stroke="#1a1a1a" stroke-width="0.6"/>
<circle cx="73.67" cy="405.52" r="1.05" fill="#2e2e2e"/>
<circle cx="73.54" cy="403.71" r="1.05" fill="#2e2e2e"/>
<circle cx="73.86" cy="405.61" r="1.05" fill="#2e2e2e"/>
<rect x="76.25" y="392.2" width="5.25" height="23.6" fill="#e59597" stroke="#1a1a1a" stroke-width="0.8"/>
<line x1="78.87" y1="389.51" x2="78.87" y2="394.89" stroke="#1a1a1a" stroke-width="0.6"/>
<line x1="77.55" y1="389.51" x2="80.2" y2="389.51" stroke="#1a1a1a" stroke-width="0.6"/>
<circle cx="79.07" cy="394.26" r="1.05" fill="#8c1c1c"/>
<circle cx="78.87" cy="398.42" r="1.05" fill="#8c1c1c"/>
<circle cx="79.48" cy="395.94" r="1.05" fill="#8c1c1c"/>
<rect x="81.9" y="383.2" width="5.25" height="32.6" fill="#89a8dd" stroke="#1a1a1a" stroke-width="0.8"/>
<line x1="84.52" y1="379.79" x2="84.52" y2="386.61" stroke="#1a1a1a" stroke-width="0.6"/>
<line x1="83.2" y1="379.79" x2="85.85" y2="379.79" stroke="#1a1a1a" stroke-width="0.6"/>
<circle cx="84.71" cy="391.41" r="1.05" fill="#1c3c8c"/>
<circle cx="84.93" cy="379.15" r="1.05" fill="#1c3c8c"/>
<circle cx="84.04" cy="387.02" r="1.05" fill="#1c3c8c"/>
<rect x="87.55" y="379.6" width="5.25" height="36.2" fill="#80bfae" stroke="#1a1a1a" stroke-width="0.8"/>
<line x1="90.17" y1="376.1" x2="90.17" y2="383.1" stroke="#1a1a1a" stroke-width="0.6"/>
<line x1="88.85" y1="376.1" x2="91.5" y2="376.1" stroke="#1a1a1a" stroke-width="0.6"/>
<circle cx="90.45" cy="384.77" r="1.05" fill="#0e5a48"/>
<circle cx="90.77" cy="380.36" r="1.05" fill="#0e5a48"/>
<circle cx="90.73" cy="374.03" r="1.05" fill="#0e5a48"/>
<polygon points="53.77,407.30 54.33,408.64 55.77,408.75 54.67,409.69 55.00,411.10 53.77,410.34 52.54,411.10 52.87,409.69 51.77,408.75 53.21,408.64" fill="#e8251f"/>
<polygon points="59.42,407.30 59.98,408.64 61.42,408.75 60.32,409.69 60.65,411.10 59.42,410.34 58.19,411.10 58.52,409.69 57.42,408.75 58.86,408.64" fill="#e8251f"/>
<polygon points="65.07,407.30 65.63,408.64 67.07,408.75 65.97,409.69 66.30,411.10 65.07,410.34 63.84,411.10 64.17,409.69 63.07,408.75 64.51,408.64" fill="#e8251f"/>
<polygon points="78.87,407.30 79.43,408.64 80.87,408.75 79.77,409.69 80.10,411.10 78.87,410.34 77.64,411.10 77.97,409.69 76.87,408.75 78.31,408.64" fill="#e8251f"/>
<polygon points="84.52,407.30 85.08,408.64 86.52,408.75 85.42,409.69 85.75,411.10 84.52,410.34 83.29,411.10 83.62,409.69 82.52,408.75 83.96,408.64" fill="#e8251f"/>
<polygon points="90.17,407.30 90.73,408.64 92.17,408.75 91.07,409.69 91.40,411.10 90.17,410.34 88.94,411.10 89.27,409.69 88.17,408.75 89.61,408.64" fill="#e8251f"/>
<line x1="41.3" y1="371.3" x2="41.3" y2="416.4" stroke="#222" stroke-width="1.25"/>
<line x1="40.7" y1="415.8" x2="97" y2="415.8" stroke="#222" stroke-width="1.25"/>
<line x1="39.7" y1="415.8" x2="41.3" y2="415.8" stroke="#333" stroke-width="0.5"/>
<text x="39.50" y="418.10" font-size="4.7" text-anchor="end" fill="#4d4d4d">0<tspan font-size="4.70" dx="1.03">×</tspan>10<tspan font-size="3.29" dy="-2.0">0</tspan></text>
<line x1="39.7" y1="406.8" x2="41.3" y2="406.8" stroke="#333" stroke-width="0.5"/>
<text x="39.50" y="409.10" font-size="4.7" text-anchor="end" fill="#4d4d4d">1<tspan font-size="4.70" dx="1.03">×</tspan>10<tspan font-size="3.29" dy="-2.0">5</tspan></text>
<line x1="39.7" y1="397.7" x2="41.3" y2="397.7" stroke="#333" stroke-width="0.5"/>
<text x="39.50" y="400.00" font-size="4.7" text-anchor="end" fill="#4d4d4d">2<tspan font-size="4.70" dx="1.03">×</tspan>10<tspan font-size="3.29" dy="-2.0">5</tspan></text>
<line x1="39.7" y1="388.6" x2="41.3" y2="388.6" stroke="#333" stroke-width="0.5"/>
<text x="39.50" y="390.90" font-size="4.7" text-anchor="end" fill="#4d4d4d">3<tspan font-size="4.70" dx="1.03">×</tspan>10<tspan font-size="3.29" dy="-2.0">5</tspan></text>
<line x1="39.7" y1="379.6" x2="41.3" y2="379.6" stroke="#333" stroke-width="0.5"/>
<text x="39.50" y="381.90" font-size="4.7" text-anchor="end" fill="#4d4d4d">4<tspan font-size="4.70" dx="1.03">×</tspan>10<tspan font-size="3.29" dy="-2.0">5</tspan></text>
<line x1="57" y1="415.8" x2="57" y2="417.3" stroke="#333" stroke-width="0.5"/>
<text x="57.00" y="422.70" font-size="6.0" text-anchor="middle" fill="#000" >1h</text>
<line x1="81.7" y1="415.8" x2="81.7" y2="417.3" stroke="#333" stroke-width="0.5"/>
<text x="81.70" y="422.70" font-size="6.0" text-anchor="middle" fill="#000" >24h</text>
<text transform="translate(23.55,393.85) rotate(-90)" font-size="5.6" text-anchor="middle" fill="#000" stroke="#000" stroke-width="0.12">Peak height</text>
<text x="168.15" y="366.70" font-size="6.2" text-anchor="middle" fill="#000" >Fructose 6-phosphate</text>
<rect x="144.5" y="408.3" width="5.25" height="7.3" fill="#a6a6a6" stroke="#1a1a1a" stroke-width="0.8"/>
<line x1="147.12" y1="404.6" x2="147.12" y2="411.95" stroke="#1a1a1a" stroke-width="0.6"/>
<line x1="145.8" y1="404.6" x2="148.45" y2="404.6" stroke="#1a1a1a" stroke-width="0.6"/>
<circle cx="147.64" cy="406.41" r="1.05" fill="#2e2e2e"/>
<circle cx="146.54" cy="403.09" r="1.05" fill="#2e2e2e"/>
<circle cx="146.98" cy="409.13" r="1.05" fill="#2e2e2e"/>
<rect x="150.15" y="392.2" width="5.25" height="23.4" fill="#e59597" stroke="#1a1a1a" stroke-width="0.8"/>
<line x1="152.77" y1="389.53" x2="152.77" y2="394.87" stroke="#1a1a1a" stroke-width="0.6"/>
<line x1="151.45" y1="389.53" x2="154.1" y2="389.53" stroke="#1a1a1a" stroke-width="0.6"/>
<circle cx="153.43" cy="395.98" r="1.05" fill="#8c1c1c"/>
<circle cx="153.34" cy="388.10" r="1.05" fill="#8c1c1c"/>
<circle cx="152.45" cy="393.72" r="1.05" fill="#8c1c1c"/>
<rect x="155.8" y="394.1" width="5.25" height="21.5" fill="#89a8dd" stroke="#1a1a1a" stroke-width="0.8"/>
<line x1="158.42" y1="391.58" x2="158.42" y2="396.62" stroke="#1a1a1a" stroke-width="0.6"/>
<line x1="157.1" y1="391.58" x2="159.75" y2="391.58" stroke="#1a1a1a" stroke-width="0.6"/>
<circle cx="158.93" cy="392.67" r="1.05" fill="#1c3c8c"/>
<circle cx="158.94" cy="390.72" r="1.05" fill="#1c3c8c"/>
<circle cx="158.53" cy="394.69" r="1.05" fill="#1c3c8c"/>
<rect x="161.45" y="393.4" width="5.25" height="22.2" fill="#80bfae" stroke="#1a1a1a" stroke-width="0.8"/>
<line x1="164.07" y1="390.82" x2="164.07" y2="395.98" stroke="#1a1a1a" stroke-width="0.6"/>
<line x1="162.75" y1="390.82" x2="165.4" y2="390.82" stroke="#1a1a1a" stroke-width="0.6"/>
<circle cx="163.39" cy="394.15" r="1.05" fill="#0e5a48"/>
<circle cx="164.31" cy="391.54" r="1.05" fill="#0e5a48"/>
<circle cx="163.98" cy="390.33" r="1.05" fill="#0e5a48"/>
<rect x="169.6" y="405.1" width="5.25" height="10.5" fill="#a6a6a6" stroke="#1a1a1a" stroke-width="0.8"/>
<line x1="172.22" y1="403.46" x2="172.22" y2="406.74" stroke="#1a1a1a" stroke-width="0.6"/>
<line x1="170.9" y1="403.46" x2="173.55" y2="403.46" stroke="#1a1a1a" stroke-width="0.6"/>
<circle cx="172.55" cy="408.27" r="1.05" fill="#2e2e2e"/>
<circle cx="171.86" cy="403.86" r="1.05" fill="#2e2e2e"/>
<circle cx="171.81" cy="402.84" r="1.05" fill="#2e2e2e"/>
<rect x="175.25" y="393.4" width="5.25" height="22.2" fill="#e59597" stroke="#1a1a1a" stroke-width="0.8"/>
<line x1="177.87" y1="390.82" x2="177.87" y2="395.98" stroke="#1a1a1a" stroke-width="0.6"/>
<line x1="176.55" y1="390.82" x2="179.2" y2="390.82" stroke="#1a1a1a" stroke-width="0.6"/>
<circle cx="177.07" cy="394.87" r="1.05" fill="#8c1c1c"/>
<circle cx="178.02" cy="396.61" r="1.05" fill="#8c1c1c"/>
<circle cx="177.81" cy="396.09" r="1.05" fill="#8c1c1c"/>
<rect x="180.9" y="387.1" width="5.25" height="28.5" fill="#89a8dd" stroke="#1a1a1a" stroke-width="0.8"/>
<line x1="183.52" y1="384.02" x2="183.52" y2="390.18" stroke="#1a1a1a" stroke-width="0.6"/>
<line x1="182.2" y1="384.02" x2="184.85" y2="384.02" stroke="#1a1a1a" stroke-width="0.6"/>
<circle cx="182.92" cy="387.14" r="1.05" fill="#1c3c8c"/>
<circle cx="182.75" cy="385.76" r="1.05" fill="#1c3c8c"/>
<circle cx="183.29" cy="389.69" r="1.05" fill="#1c3c8c"/>
<rect x="186.55" y="381" width="5.25" height="34.6" fill="#80bfae" stroke="#1a1a1a" stroke-width="0.8"/>
<line x1="189.17" y1="377.5" x2="189.17" y2="384.5" stroke="#1a1a1a" stroke-width="0.6"/>
<line x1="187.85" y1="377.5" x2="190.5" y2="377.5" stroke="#1a1a1a" stroke-width="0.6"/>
<circle cx="188.58" cy="383.51" r="1.05" fill="#0e5a48"/>
<circle cx="189.49" cy="385.36" r="1.05" fill="#0e5a48"/>
<circle cx="189.38" cy="385.68" r="1.05" fill="#0e5a48"/>
<circle cx="147.12" cy="397.00" r="1.05" fill="#2e2e2e"/>
<polygon points="152.77,407.60 153.33,408.94 154.77,409.05 153.67,409.99 154.00,411.40 152.77,410.64 151.54,411.40 151.87,409.99 150.77,409.05 152.21,408.94" fill="#e8251f"/>
<polygon points="158.42,407.60 158.98,408.94 160.42,409.05 159.32,409.99 159.65,411.40 158.42,410.64 157.19,411.40 157.52,409.99 156.42,409.05 157.86,408.94" fill="#e8251f"/>
<polygon points="164.07,407.60 164.63,408.94 166.07,409.05 164.97,409.99 165.30,411.40 164.07,410.64 162.84,411.40 163.17,409.99 162.07,409.05 163.51,408.94" fill="#e8251f"/>
<polygon points="177.87,407.60 178.43,408.94 179.87,409.05 178.77,409.99 179.10,411.40 177.87,410.64 176.64,411.40 176.97,409.99 175.87,409.05 177.31,408.94" fill="#e8251f"/>
<polygon points="183.52,407.60 184.08,408.94 185.52,409.05 184.42,409.99 184.75,411.40 183.52,410.64 182.29,411.40 182.62,409.99 181.52,409.05 182.96,408.94" fill="#e8251f"/>
<polygon points="189.17,407.60 189.73,408.94 191.17,409.05 190.07,409.99 190.40,411.40 189.17,410.64 187.94,411.40 188.27,409.99 187.17,409.05 188.61,408.94" fill="#e8251f"/>
<line x1="140.3" y1="371.1" x2="140.3" y2="416.2" stroke="#222" stroke-width="1.25"/>
<line x1="139.7" y1="415.6" x2="196" y2="415.6" stroke="#222" stroke-width="1.25"/>
<line x1="138.7" y1="415.6" x2="140.3" y2="415.6" stroke="#333" stroke-width="0.5"/>
<text x="138.50" y="417.90" font-size="4.7" text-anchor="end" fill="#4d4d4d">0.0<tspan font-size="4.70" dx="1.03">×</tspan>10<tspan font-size="3.29" dy="-2.0">0</tspan></text>
<line x1="138.7" y1="400.9" x2="140.3" y2="400.9" stroke="#333" stroke-width="0.5"/>
<text x="138.50" y="403.20" font-size="4.7" text-anchor="end" fill="#4d4d4d">5.0<tspan font-size="4.70" dx="1.03">×</tspan>10<tspan font-size="3.29" dy="-2.0">4</tspan></text>
<line x1="138.7" y1="386.2" x2="140.3" y2="386.2" stroke="#333" stroke-width="0.5"/>
<text x="138.50" y="388.50" font-size="4.7" text-anchor="end" fill="#4d4d4d">1.0<tspan font-size="4.70" dx="1.03">×</tspan>10<tspan font-size="3.29" dy="-2.0">5</tspan></text>
<line x1="138.7" y1="371.5" x2="140.3" y2="371.5" stroke="#333" stroke-width="0.5"/>
<text x="138.50" y="373.80" font-size="4.7" text-anchor="end" fill="#4d4d4d">1.5<tspan font-size="4.70" dx="1.03">×</tspan>10<tspan font-size="3.29" dy="-2.0">5</tspan></text>
<line x1="156" y1="415.6" x2="156" y2="417.1" stroke="#333" stroke-width="0.5"/>
<text x="156.00" y="422.50" font-size="6.0" text-anchor="middle" fill="#000" >1h</text>
<line x1="180.7" y1="415.6" x2="180.7" y2="417.1" stroke="#333" stroke-width="0.5"/>
<text x="180.70" y="422.50" font-size="6.0" text-anchor="middle" fill="#000" >24h</text>
<text transform="translate(118.63,393.65) rotate(-90)" font-size="5.6" text-anchor="middle" fill="#000" stroke="#000" stroke-width="0.12">Peak height</text>
<text x="268.55" y="366.70" font-size="6.2" text-anchor="middle" fill="#000" >Fructose 1,6-bisphosphate</text>
<rect x="244.9" y="414.1" width="5.25" height="1.5" fill="#a6a6a6" stroke="#1a1a1a" stroke-width="0.8"/>
<circle cx="247.52" cy="414.70" r="0.8" fill="#2e2e2e"/>
<rect x="250.55" y="408.3" width="5.25" height="7.3" fill="#e59597" stroke="#1a1a1a" stroke-width="0.8"/>
<line x1="253.17" y1="406.92" x2="253.17" y2="409.68" stroke="#1a1a1a" stroke-width="0.6"/>
<line x1="251.85" y1="406.92" x2="254.5" y2="406.92" stroke="#1a1a1a" stroke-width="0.6"/>
<circle cx="253.46" cy="411.33" r="1.05" fill="#8c1c1c"/>
<circle cx="253.93" cy="408.53" r="1.05" fill="#8c1c1c"/>
<circle cx="253.73" cy="406.49" r="1.05" fill="#8c1c1c"/>
<rect x="256.2" y="411.2" width="5.25" height="4.4" fill="#89a8dd" stroke="#1a1a1a" stroke-width="0.8"/>
<line x1="258.82" y1="410.05" x2="258.82" y2="412.35" stroke="#1a1a1a" stroke-width="0.6"/>
<line x1="257.5" y1="410.05" x2="260.15" y2="410.05" stroke="#1a1a1a" stroke-width="0.6"/>
<circle cx="259.39" cy="411.97" r="1.05" fill="#1c3c8c"/>
<circle cx="258.13" cy="409.68" r="1.05" fill="#1c3c8c"/>
<circle cx="258.84" cy="411.47" r="1.05" fill="#1c3c8c"/>
<rect x="261.85" y="412" width="5.25" height="3.6" fill="#80bfae" stroke="#1a1a1a" stroke-width="0.8"/>
<line x1="264.47" y1="410.91" x2="264.47" y2="413.09" stroke="#1a1a1a" stroke-width="0.6"/>
<line x1="263.15" y1="410.91" x2="265.8" y2="410.91" stroke="#1a1a1a" stroke-width="0.6"/>
<circle cx="264.71" cy="412.85" r="1.05" fill="#0e5a48"/>
<circle cx="264.27" cy="411.04" r="1.05" fill="#0e5a48"/>
<circle cx="264.18" cy="411.57" r="1.05" fill="#0e5a48"/>
<rect x="270" y="408.7" width="5.25" height="6.9" fill="#a6a6a6" stroke="#1a1a1a" stroke-width="0.8"/>
<line x1="272.62" y1="407.35" x2="272.62" y2="410.05" stroke="#1a1a1a" stroke-width="0.6"/>
<line x1="271.3" y1="407.35" x2="273.95" y2="407.35" stroke="#1a1a1a" stroke-width="0.6"/>
<circle cx="271.90" cy="412.08" r="1.05" fill="#2e2e2e"/>
<circle cx="273.06" cy="411.83" r="1.05" fill="#2e2e2e"/>
<circle cx="271.89" cy="407.61" r="1.05" fill="#2e2e2e"/>
<rect x="275.65" y="384.2" width="5.25" height="31.4" fill="#e59597" stroke="#1a1a1a" stroke-width="0.8"/>
<line x1="278.27" y1="380.89" x2="278.27" y2="387.51" stroke="#1a1a1a" stroke-width="0.6"/>
<line x1="276.95" y1="380.89" x2="279.6" y2="380.89" stroke="#1a1a1a" stroke-width="0.6"/>
<circle cx="278.28" cy="389.82" r="1.05" fill="#8c1c1c"/>
<circle cx="278.70" cy="384.75" r="1.05" fill="#8c1c1c"/>
<circle cx="278.87" cy="390.50" r="1.05" fill="#8c1c1c"/>
<rect x="281.3" y="399.2" width="5.25" height="16.4" fill="#89a8dd" stroke="#1a1a1a" stroke-width="0.8"/>
<line x1="283.92" y1="397.09" x2="283.92" y2="401.31" stroke="#1a1a1a" stroke-width="0.6"/>
<line x1="282.6" y1="397.09" x2="285.25" y2="397.09" stroke="#1a1a1a" stroke-width="0.6"/>
<circle cx="284.06" cy="402.38" r="1.05" fill="#1c3c8c"/>
<circle cx="283.14" cy="398.25" r="1.05" fill="#1c3c8c"/>
<circle cx="284.58" cy="401.57" r="1.05" fill="#1c3c8c"/>
<rect x="286.95" y="396.6" width="5.25" height="19" fill="#80bfae" stroke="#1a1a1a" stroke-width="0.8"/>
<line x1="289.57" y1="394.28" x2="289.57" y2="398.92" stroke="#1a1a1a" stroke-width="0.6"/>
<line x1="288.25" y1="394.28" x2="290.9" y2="394.28" stroke="#1a1a1a" stroke-width="0.6"/>
<circle cx="289.06" cy="399.03" r="1.05" fill="#0e5a48"/>
<circle cx="289.63" cy="393.20" r="1.05" fill="#0e5a48"/>
<circle cx="290.11" cy="401.37" r="1.05" fill="#0e5a48"/>
<circle cx="278.27" cy="375.40" r="1.05" fill="#8c1c1c"/>
<polygon points="253.17,407.60 253.73,408.94 255.17,409.05 254.07,409.99 254.40,411.40 253.17,410.64 251.94,411.40 252.27,409.99 251.17,409.05 252.61,408.94" fill="#e8251f"/>
<polygon points="278.27,407.60 278.83,408.94 280.27,409.05 279.17,409.99 279.50,411.40 278.27,410.64 277.04,411.40 277.37,409.99 276.27,409.05 277.71,408.94" fill="#e8251f"/>
<polygon points="283.92,407.60 284.48,408.94 285.92,409.05 284.82,409.99 285.15,411.40 283.92,410.64 282.69,411.40 283.02,409.99 281.92,409.05 283.36,408.94" fill="#e8251f"/>
<polygon points="289.57,407.60 290.13,408.94 291.57,409.05 290.47,409.99 290.80,411.40 289.57,410.64 288.34,411.40 288.67,409.99 287.57,409.05 289.01,408.94" fill="#e8251f"/>
<line x1="240.7" y1="371.3" x2="240.7" y2="416.2" stroke="#222" stroke-width="1.25"/>
<line x1="240.1" y1="415.6" x2="296.4" y2="415.6" stroke="#222" stroke-width="1.25"/>
<line x1="239.1" y1="415.6" x2="240.7" y2="415.6" stroke="#333" stroke-width="0.5"/>
<text x="238.90" y="417.90" font-size="4.7" text-anchor="end" fill="#4d4d4d">0.0<tspan font-size="4.70" dx="1.03">×</tspan>10<tspan font-size="3.29" dy="-2.0">0</tspan></text>
<line x1="239.1" y1="407" x2="240.7" y2="407" stroke="#333" stroke-width="0.5"/>
<text x="238.90" y="409.30" font-size="4.7" text-anchor="end" fill="#4d4d4d">5.0<tspan font-size="4.70" dx="1.03">×</tspan>10<tspan font-size="3.29" dy="-2.0">4</tspan></text>
<line x1="239.1" y1="398.4" x2="240.7" y2="398.4" stroke="#333" stroke-width="0.5"/>
<text x="238.90" y="400.70" font-size="4.7" text-anchor="end" fill="#4d4d4d">1.0<tspan font-size="4.70" dx="1.03">×</tspan>10<tspan font-size="3.29" dy="-2.0">5</tspan></text>
<line x1="239.1" y1="389.7" x2="240.7" y2="389.7" stroke="#333" stroke-width="0.5"/>
<text x="238.90" y="392.00" font-size="4.7" text-anchor="end" fill="#4d4d4d">1.5<tspan font-size="4.70" dx="1.03">×</tspan>10<tspan font-size="3.29" dy="-2.0">5</tspan></text>
<line x1="239.1" y1="381.1" x2="240.7" y2="381.1" stroke="#333" stroke-width="0.5"/>
<text x="238.90" y="383.40" font-size="4.7" text-anchor="end" fill="#4d4d4d">2.0<tspan font-size="4.70" dx="1.03">×</tspan>10<tspan font-size="3.29" dy="-2.0">5</tspan></text>
<line x1="239.1" y1="372.5" x2="240.7" y2="372.5" stroke="#333" stroke-width="0.5"/>
<text x="238.90" y="374.80" font-size="4.7" text-anchor="end" fill="#4d4d4d">2.5<tspan font-size="4.70" dx="1.03">×</tspan>10<tspan font-size="3.29" dy="-2.0">5</tspan></text>
<line x1="256.4" y1="415.6" x2="256.4" y2="417.1" stroke="#333" stroke-width="0.5"/>
<text x="256.40" y="422.50" font-size="6.0" text-anchor="middle" fill="#000" >1h</text>
<line x1="281.1" y1="415.6" x2="281.1" y2="417.1" stroke="#333" stroke-width="0.5"/>
<text x="281.10" y="422.50" font-size="6.0" text-anchor="middle" fill="#000" >24h</text>
<text transform="translate(219.03,393.75) rotate(-90)" font-size="5.6" text-anchor="middle" fill="#000" stroke="#000" stroke-width="0.12">Peak height</text>
<text x="361.55" y="366.70" font-size="6.2" text-anchor="middle" fill="#000" >glyceraldehyde-3-phosphate</text>
<rect x="337.9" y="413.4" width="5.25" height="2.2" fill="#a6a6a6" stroke="#1a1a1a" stroke-width="0.8"/>
<circle cx="340.52" cy="414.70" r="0.8" fill="#2e2e2e"/>
<rect x="343.55" y="405.8" width="5.25" height="9.8" fill="#e59597" stroke="#1a1a1a" stroke-width="0.8"/>
<line x1="346.17" y1="404.22" x2="346.17" y2="407.38" stroke="#1a1a1a" stroke-width="0.6"/>
<line x1="344.85" y1="404.22" x2="347.5" y2="404.22" stroke="#1a1a1a" stroke-width="0.6"/>
<circle cx="346.37" cy="404.22" r="1.05" fill="#8c1c1c"/>
<circle cx="345.42" cy="405.75" r="1.05" fill="#8c1c1c"/>
<circle cx="346.76" cy="405.71" r="1.05" fill="#8c1c1c"/>
<rect x="349.2" y="399.1" width="5.25" height="16.5" fill="#89a8dd" stroke="#1a1a1a" stroke-width="0.8"/>
<line x1="351.82" y1="396.98" x2="351.82" y2="401.22" stroke="#1a1a1a" stroke-width="0.6"/>
<line x1="350.5" y1="396.98" x2="353.15" y2="396.98" stroke="#1a1a1a" stroke-width="0.6"/>
<circle cx="351.51" cy="397.01" r="1.05" fill="#1c3c8c"/>
<circle cx="352.49" cy="396.87" r="1.05" fill="#1c3c8c"/>
<circle cx="352.35" cy="402.57" r="1.05" fill="#1c3c8c"/>
<rect x="354.85" y="383.5" width="5.25" height="32.1" fill="#80bfae" stroke="#1a1a1a" stroke-width="0.8"/>
<line x1="357.47" y1="380.13" x2="357.47" y2="386.87" stroke="#1a1a1a" stroke-width="0.6"/>
<line x1="356.15" y1="380.13" x2="358.8" y2="380.13" stroke="#1a1a1a" stroke-width="0.6"/>
<circle cx="357.22" cy="378.26" r="1.05" fill="#0e5a48"/>
<circle cx="357.67" cy="388.92" r="1.05" fill="#0e5a48"/>
<circle cx="358.23" cy="384.57" r="1.05" fill="#0e5a48"/>
<rect x="363" y="392.2" width="5.25" height="23.4" fill="#a6a6a6" stroke="#1a1a1a" stroke-width="0.8"/>
<line x1="365.62" y1="386" x2="365.62" y2="398.4" stroke="#1a1a1a" stroke-width="0.6"/>
<line x1="364.3" y1="386" x2="366.95" y2="386" stroke="#1a1a1a" stroke-width="0.6"/>
<circle cx="365.15" cy="387.19" r="1.05" fill="#2e2e2e"/>
<circle cx="365.23" cy="401.15" r="1.05" fill="#2e2e2e"/>
<circle cx="365.56" cy="403.82" r="1.05" fill="#2e2e2e"/>
<rect x="368.65" y="390" width="5.25" height="25.6" fill="#e59597" stroke="#1a1a1a" stroke-width="0.8"/>
<line x1="371.27" y1="387.15" x2="371.27" y2="392.85" stroke="#1a1a1a" stroke-width="0.6"/>
<line x1="369.95" y1="387.15" x2="372.6" y2="387.15" stroke="#1a1a1a" stroke-width="0.6"/>
<circle cx="371.81" cy="386.52" r="1.05" fill="#8c1c1c"/>
<circle cx="371.98" cy="394.26" r="1.05" fill="#8c1c1c"/>
<circle cx="371.36" cy="386.47" r="1.05" fill="#8c1c1c"/>
<rect x="374.3" y="387.1" width="5.25" height="28.5" fill="#89a8dd" stroke="#1a1a1a" stroke-width="0.8"/>
<line x1="376.92" y1="384.02" x2="376.92" y2="390.18" stroke="#1a1a1a" stroke-width="0.6"/>
<line x1="375.6" y1="384.02" x2="378.25" y2="384.02" stroke="#1a1a1a" stroke-width="0.6"/>
<circle cx="376.96" cy="389.65" r="1.05" fill="#1c3c8c"/>
<circle cx="376.72" cy="382.41" r="1.05" fill="#1c3c8c"/>
<circle cx="377.31" cy="388.14" r="1.05" fill="#1c3c8c"/>
<rect x="379.95" y="406.4" width="5.25" height="9.2" fill="#80bfae" stroke="#1a1a1a" stroke-width="0.8"/>
<line x1="382.57" y1="404.86" x2="382.57" y2="407.94" stroke="#1a1a1a" stroke-width="0.6"/>
<line x1="381.25" y1="404.86" x2="383.9" y2="404.86" stroke="#1a1a1a" stroke-width="0.6"/>
<circle cx="383.03" cy="409.51" r="1.05" fill="#0e5a48"/>
<circle cx="382.15" cy="409.26" r="1.05" fill="#0e5a48"/>
<circle cx="381.97" cy="408.33" r="1.05" fill="#0e5a48"/>
<circle cx="365.62" cy="376.60" r="1.05" fill="#2e2e2e"/>
<circle cx="357.47" cy="374.70" r="1.05" fill="#0e5a48"/>
<circle cx="376.92" cy="379.80" r="1.05" fill="#1c3c8c"/>
<polygon points="357.47,407.60 358.03,408.94 359.47,409.05 358.37,409.99 358.70,411.40 357.47,410.64 356.24,411.40 356.57,409.99 355.47,409.05 356.91,408.94" fill="#e8251f"/>
<line x1="333.7" y1="371.3" x2="333.7" y2="416.2" stroke="#222" stroke-width="1.25"/>
<line x1="333.1" y1="415.6" x2="389.4" y2="415.6" stroke="#222" stroke-width="1.25"/>
<line x1="332.1" y1="415.6" x2="333.7" y2="415.6" stroke="#333" stroke-width="0.5"/>
<text x="331.90" y="417.90" font-size="4.7" text-anchor="end" fill="#4d4d4d">0<tspan font-size="4.70" dx="1.03">×</tspan>10<tspan font-size="3.29" dy="-2.0">0</tspan></text>
<line x1="332.1" y1="404.1" x2="333.7" y2="404.1" stroke="#333" stroke-width="0.5"/>
<text x="331.90" y="406.40" font-size="4.7" text-anchor="end" fill="#4d4d4d">1<tspan font-size="4.70" dx="1.03">×</tspan>10<tspan font-size="3.29" dy="-2.0">7</tspan></text>
<line x1="332.1" y1="392.6" x2="333.7" y2="392.6" stroke="#333" stroke-width="0.5"/>
<text x="331.90" y="394.90" font-size="4.7" text-anchor="end" fill="#4d4d4d">2<tspan font-size="4.70" dx="1.03">×</tspan>10<tspan font-size="3.29" dy="-2.0">7</tspan></text>
<line x1="332.1" y1="381.1" x2="333.7" y2="381.1" stroke="#333" stroke-width="0.5"/>
<text x="331.90" y="383.40" font-size="4.7" text-anchor="end" fill="#4d4d4d">3<tspan font-size="4.70" dx="1.03">×</tspan>10<tspan font-size="3.29" dy="-2.0">7</tspan></text>
<line x1="349.4" y1="415.6" x2="349.4" y2="417.1" stroke="#333" stroke-width="0.5"/>
<text x="349.40" y="422.50" font-size="6.0" text-anchor="middle" fill="#000" >1h</text>
<line x1="374.1" y1="415.6" x2="374.1" y2="417.1" stroke="#333" stroke-width="0.5"/>
<text x="374.10" y="422.50" font-size="6.0" text-anchor="middle" fill="#000" >24h</text>
<text transform="translate(315.95,393.75) rotate(-90)" font-size="5.6" text-anchor="middle" fill="#000" stroke="#000" stroke-width="0.12">Peak height</text>
<text x="459.15" y="366.70" font-size="6.2" text-anchor="middle" fill="#000" >3-Phosphoglycerate</text>
<rect x="435.5" y="410.2" width="5.25" height="5.1" fill="#a6a6a6" stroke="#1a1a1a" stroke-width="0.8"/>
<line x1="438.12" y1="408.99" x2="438.12" y2="411.41" stroke="#1a1a1a" stroke-width="0.6"/>
<line x1="436.8" y1="408.99" x2="439.45" y2="408.99" stroke="#1a1a1a" stroke-width="0.6"/>
<circle cx="438.34" cy="408.79" r="1.05" fill="#2e2e2e"/>
<circle cx="438.01" cy="412.17" r="1.05" fill="#2e2e2e"/>
<circle cx="437.87" cy="412.86" r="1.05" fill="#2e2e2e"/>
<rect x="441.15" y="393" width="5.25" height="22.3" fill="#e59597" stroke="#1a1a1a" stroke-width="0.8"/>
<line x1="443.77" y1="390.42" x2="443.77" y2="395.58" stroke="#1a1a1a" stroke-width="0.6"/>
<line x1="442.45" y1="390.42" x2="445.1" y2="390.42" stroke="#1a1a1a" stroke-width="0.6"/>
<circle cx="443.95" cy="399.45" r="1.05" fill="#8c1c1c"/>
<circle cx="443.69" cy="393.75" r="1.05" fill="#8c1c1c"/>
<circle cx="443.40" cy="395.00" r="1.05" fill="#8c1c1c"/>
<rect x="446.8" y="390" width="5.25" height="25.3" fill="#89a8dd" stroke="#1a1a1a" stroke-width="0.8"/>
<line x1="449.42" y1="385.5" x2="449.42" y2="394.5" stroke="#1a1a1a" stroke-width="0.6"/>
<line x1="448.1" y1="385.5" x2="450.75" y2="385.5" stroke="#1a1a1a" stroke-width="0.6"/>
<circle cx="449.26" cy="399.07" r="1.05" fill="#1c3c8c"/>
<circle cx="448.99" cy="397.93" r="1.05" fill="#1c3c8c"/>
<circle cx="449.09" cy="389.04" r="1.05" fill="#1c3c8c"/>
<rect x="452.45" y="391.5" width="5.25" height="23.8" fill="#80bfae" stroke="#1a1a1a" stroke-width="0.8"/>
<line x1="455.07" y1="388.8" x2="455.07" y2="394.2" stroke="#1a1a1a" stroke-width="0.6"/>
<line x1="453.75" y1="388.8" x2="456.4" y2="388.8" stroke="#1a1a1a" stroke-width="0.6"/>
<circle cx="455.27" cy="396.87" r="1.05" fill="#0e5a48"/>
<circle cx="454.97" cy="389.25" r="1.05" fill="#0e5a48"/>
<circle cx="455.22" cy="395.10" r="1.05" fill="#0e5a48"/>
<rect x="460.6" y="411.2" width="5.25" height="4.1" fill="#a6a6a6" stroke="#1a1a1a" stroke-width="0.8"/>
<line x1="463.22" y1="410.07" x2="463.22" y2="412.33" stroke="#1a1a1a" stroke-width="0.6"/>
<line x1="461.9" y1="410.07" x2="464.55" y2="410.07" stroke="#1a1a1a" stroke-width="0.6"/>
<circle cx="463.77" cy="410.98" r="1.05" fill="#2e2e2e"/>
<circle cx="462.56" cy="411.21" r="1.05" fill="#2e2e2e"/>
<circle cx="464.01" cy="412.23" r="1.05" fill="#2e2e2e"/>
<rect x="466.25" y="402.2" width="5.25" height="13.1" fill="#e59597" stroke="#1a1a1a" stroke-width="0.8"/>
<line x1="468.87" y1="396.6" x2="468.87" y2="407.8" stroke="#1a1a1a" stroke-width="0.6"/>
<line x1="467.55" y1="396.6" x2="470.2" y2="396.6" stroke="#1a1a1a" stroke-width="0.6"/>
<circle cx="469.35" cy="406.70" r="1.05" fill="#8c1c1c"/>
<circle cx="468.11" cy="401.48" r="1.05" fill="#8c1c1c"/>
<circle cx="469.36" cy="399.95" r="1.05" fill="#8c1c1c"/>
<rect x="471.9" y="406.1" width="5.25" height="9.2" fill="#89a8dd" stroke="#1a1a1a" stroke-width="0.8"/>
<line x1="474.52" y1="404.56" x2="474.52" y2="407.64" stroke="#1a1a1a" stroke-width="0.6"/>
<line x1="473.2" y1="404.56" x2="475.85" y2="404.56" stroke="#1a1a1a" stroke-width="0.6"/>
<circle cx="474.71" cy="407.85" r="1.05" fill="#1c3c8c"/>
<circle cx="474.18" cy="403.81" r="1.05" fill="#1c3c8c"/>
<circle cx="473.79" cy="406.82" r="1.05" fill="#1c3c8c"/>
<rect x="477.55" y="393.2" width="5.25" height="22.1" fill="#80bfae" stroke="#1a1a1a" stroke-width="0.8"/>
<line x1="480.17" y1="390.63" x2="480.17" y2="395.77" stroke="#1a1a1a" stroke-width="0.6"/>
<line x1="478.85" y1="390.63" x2="481.5" y2="390.63" stroke="#1a1a1a" stroke-width="0.6"/>
<circle cx="480.89" cy="394.21" r="1.05" fill="#0e5a48"/>
<circle cx="479.50" cy="393.90" r="1.05" fill="#0e5a48"/>
<circle cx="480.44" cy="390.97" r="1.05" fill="#0e5a48"/>
<circle cx="449.42" cy="375.10" r="1.05" fill="#1c3c8c"/>
<circle cx="468.87" cy="387.40" r="1.05" fill="#8c1c1c"/>
<circle cx="455.07" cy="385.00" r="1.05" fill="#0e5a48"/>
<polygon points="443.77,407.60 444.33,408.94 445.77,409.05 444.67,409.99 445.00,411.40 443.77,410.64 442.54,411.40 442.87,409.99 441.77,409.05 443.21,408.94" fill="#e8251f"/>
<polygon points="449.42,407.60 449.98,408.94 451.42,409.05 450.32,409.99 450.65,411.40 449.42,410.64 448.19,411.40 448.52,409.99 447.42,409.05 448.86,408.94" fill="#e8251f"/>
<polygon points="455.07,407.60 455.63,408.94 457.07,409.05 455.97,409.99 456.30,411.40 455.07,410.64 453.84,411.40 454.17,409.99 453.07,409.05 454.51,408.94" fill="#e8251f"/>
<polygon points="480.17,407.60 480.73,408.94 482.17,409.05 481.07,409.99 481.40,411.40 480.17,410.64 478.94,411.40 479.27,409.99 478.17,409.05 479.61,408.94" fill="#e8251f"/>
<line x1="431.3" y1="371.3" x2="431.3" y2="415.9" stroke="#222" stroke-width="1.25"/>
<line x1="430.7" y1="415.3" x2="487" y2="415.3" stroke="#222" stroke-width="1.25"/>
<line x1="429.7" y1="415.3" x2="431.3" y2="415.3" stroke="#333" stroke-width="0.5"/>
<text x="429.50" y="417.60" font-size="4.7" text-anchor="end" fill="#4d4d4d">0.0<tspan font-size="4.70" dx="1.03">×</tspan>10<tspan font-size="3.29" dy="-2.0">0</tspan></text>
<line x1="429.7" y1="404.9" x2="431.3" y2="404.9" stroke="#333" stroke-width="0.5"/>
<text x="429.50" y="407.20" font-size="4.7" text-anchor="end" fill="#4d4d4d">2.5<tspan font-size="4.70" dx="1.03">×</tspan>10<tspan font-size="3.29" dy="-2.0">3</tspan></text>
<line x1="429.7" y1="394.5" x2="431.3" y2="394.5" stroke="#333" stroke-width="0.5"/>
<text x="429.50" y="396.80" font-size="4.7" text-anchor="end" fill="#4d4d4d">5.0<tspan font-size="4.70" dx="1.03">×</tspan>10<tspan font-size="3.29" dy="-2.0">3</tspan></text>
<line x1="429.7" y1="384.1" x2="431.3" y2="384.1" stroke="#333" stroke-width="0.5"/>
<text x="429.50" y="386.40" font-size="4.7" text-anchor="end" fill="#4d4d4d">7.5<tspan font-size="4.70" dx="1.03">×</tspan>10<tspan font-size="3.29" dy="-2.0">3</tspan></text>
<line x1="429.7" y1="373.7" x2="431.3" y2="373.7" stroke="#333" stroke-width="0.5"/>
<text x="429.50" y="376.00" font-size="4.7" text-anchor="end" fill="#4d4d4d">1.0<tspan font-size="4.70" dx="1.03">×</tspan>10<tspan font-size="3.29" dy="-2.0">4</tspan></text>
<line x1="447" y1="415.3" x2="447" y2="416.8" stroke="#333" stroke-width="0.5"/>
<text x="447.00" y="422.20" font-size="6.0" text-anchor="middle" fill="#000" >1h</text>
<line x1="471.7" y1="415.3" x2="471.7" y2="416.8" stroke="#333" stroke-width="0.5"/>
<text x="471.70" y="422.20" font-size="6.0" text-anchor="middle" fill="#000" >24h</text>
<text transform="translate(409.63,393.60) rotate(-90)" font-size="5.6" text-anchor="middle" fill="#000" stroke="#000" stroke-width="0.12">Peak height</text>
<text x="555.15" y="366.70" font-size="6.2" text-anchor="middle" fill="#000" >2-Phosphoglyceric acid</text>
<rect x="531.5" y="410.5" width="5.25" height="5.1" fill="#a6a6a6" stroke="#1a1a1a" stroke-width="0.8"/>
<line x1="534.12" y1="409.29" x2="534.12" y2="411.71" stroke="#1a1a1a" stroke-width="0.6"/>
<line x1="532.8" y1="409.29" x2="535.45" y2="409.29" stroke="#1a1a1a" stroke-width="0.6"/>
<circle cx="534.02" cy="411.69" r="1.05" fill="#2e2e2e"/>
<circle cx="533.74" cy="408.63" r="1.05" fill="#2e2e2e"/>
<circle cx="533.93" cy="411.67" r="1.05" fill="#2e2e2e"/>
<rect x="537.15" y="398" width="5.25" height="17.6" fill="#e59597" stroke="#1a1a1a" stroke-width="0.8"/>
<line x1="539.77" y1="395.79" x2="539.77" y2="400.21" stroke="#1a1a1a" stroke-width="0.6"/>
<line x1="538.45" y1="395.79" x2="541.1" y2="395.79" stroke="#1a1a1a" stroke-width="0.6"/>
<circle cx="539.72" cy="397.29" r="1.05" fill="#8c1c1c"/>
<circle cx="540.39" cy="395.73" r="1.05" fill="#8c1c1c"/>
<circle cx="539.85" cy="399.79" r="1.05" fill="#8c1c1c"/>
<rect x="542.8" y="391.2" width="5.25" height="24.4" fill="#89a8dd" stroke="#1a1a1a" stroke-width="0.8"/>
<line x1="545.42" y1="385.4" x2="545.42" y2="397" stroke="#1a1a1a" stroke-width="0.6"/>
<line x1="544.1" y1="385.4" x2="546.75" y2="385.4" stroke="#1a1a1a" stroke-width="0.6"/>
<circle cx="545.27" cy="396.37" r="1.05" fill="#1c3c8c"/>
<circle cx="544.87" cy="399.46" r="1.05" fill="#1c3c8c"/>
<circle cx="544.97" cy="384.77" r="1.05" fill="#1c3c8c"/>
<rect x="548.45" y="395.1" width="5.25" height="20.5" fill="#80bfae" stroke="#1a1a1a" stroke-width="0.8"/>
<line x1="551.07" y1="392.66" x2="551.07" y2="397.54" stroke="#1a1a1a" stroke-width="0.6"/>
<line x1="549.75" y1="392.66" x2="552.4" y2="392.66" stroke="#1a1a1a" stroke-width="0.6"/>
<circle cx="551.66" cy="400.86" r="1.05" fill="#0e5a48"/>
<circle cx="551.79" cy="400.62" r="1.05" fill="#0e5a48"/>
<circle cx="551.78" cy="394.39" r="1.05" fill="#0e5a48"/>
<rect x="556.6" y="413.1" width="5.25" height="2.5" fill="#a6a6a6" stroke="#1a1a1a" stroke-width="0.8"/>
<circle cx="559.22" cy="414.70" r="0.8" fill="#2e2e2e"/>
<rect x="562.25" y="411.6" width="5.25" height="4" fill="#e59597" stroke="#1a1a1a" stroke-width="0.8"/>
<line x1="564.87" y1="407.5" x2="564.87" y2="413.6" stroke="#1a1a1a" stroke-width="0.6"/>
<line x1="563.55" y1="407.5" x2="566.2" y2="407.5" stroke="#1a1a1a" stroke-width="0.6"/>
<circle cx="564.59" cy="413.41" r="1.05" fill="#8c1c1c"/>
<circle cx="565.52" cy="409.57" r="1.05" fill="#8c1c1c"/>
<circle cx="564.24" cy="408.18" r="1.05" fill="#8c1c1c"/>
<rect x="567.9" y="412.2" width="5.25" height="3.4" fill="#89a8dd" stroke="#1a1a1a" stroke-width="0.8"/>
<line x1="570.52" y1="411.13" x2="570.52" y2="413.27" stroke="#1a1a1a" stroke-width="0.6"/>
<line x1="569.2" y1="411.13" x2="571.85" y2="411.13" stroke="#1a1a1a" stroke-width="0.6"/>
<circle cx="569.98" cy="413.21" r="1.05" fill="#1c3c8c"/>
<circle cx="570.64" cy="413.97" r="1.05" fill="#1c3c8c"/>
<circle cx="570.77" cy="413.22" r="1.05" fill="#1c3c8c"/>
<rect x="573.55" y="408.3" width="5.25" height="7.3" fill="#80bfae" stroke="#1a1a1a" stroke-width="0.8"/>
<line x1="576.17" y1="406.92" x2="576.17" y2="409.68" stroke="#1a1a1a" stroke-width="0.6"/>
<line x1="574.85" y1="406.92" x2="577.5" y2="406.92" stroke="#1a1a1a" stroke-width="0.6"/>
<circle cx="575.41" cy="411.28" r="1.05" fill="#0e5a48"/>
<circle cx="575.91" cy="410.17" r="1.05" fill="#0e5a48"/>
<circle cx="575.53" cy="409.96" r="1.05" fill="#0e5a48"/>
<circle cx="545.42" cy="375.10" r="1.05" fill="#1c3c8c"/>
<circle cx="564.87" cy="403.20" r="1.05" fill="#8c1c1c"/>
<polygon points="545.42,407.60 545.98,408.94 547.42,409.05 546.32,409.99 546.65,411.40 545.42,410.64 544.19,411.40 544.52,409.99 543.42,409.05 544.86,408.94" fill="#e8251f"/>
<polygon points="551.07,407.60 551.63,408.94 553.07,409.05 551.97,409.99 552.30,411.40 551.07,410.64 549.84,411.40 550.17,409.99 549.07,409.05 550.51,408.94" fill="#e8251f"/>
<line x1="527.3" y1="371.3" x2="527.3" y2="416.2" stroke="#222" stroke-width="1.25"/>
<line x1="526.7" y1="415.6" x2="583" y2="415.6" stroke="#222" stroke-width="1.25"/>
<line x1="525.7" y1="415.6" x2="527.3" y2="415.6" stroke="#333" stroke-width="0.5"/>
<text x="525.50" y="417.90" font-size="4.7" text-anchor="end" fill="#4d4d4d">0<tspan font-size="4.70" dx="1.03">×</tspan>10<tspan font-size="3.29" dy="-2.0">0</tspan></text>
<line x1="525.7" y1="399.5" x2="527.3" y2="399.5" stroke="#333" stroke-width="0.5"/>
<text x="525.50" y="401.80" font-size="4.7" text-anchor="end" fill="#4d4d4d">1<tspan font-size="4.70" dx="1.03">×</tspan>10<tspan font-size="3.29" dy="-2.0">3</tspan></text>
<line x1="525.7" y1="383.4" x2="527.3" y2="383.4" stroke="#333" stroke-width="0.5"/>
<text x="525.50" y="385.70" font-size="4.7" text-anchor="end" fill="#4d4d4d">2<tspan font-size="4.70" dx="1.03">×</tspan>10<tspan font-size="3.29" dy="-2.0">3</tspan></text>
<line x1="543" y1="415.6" x2="543" y2="417.1" stroke="#333" stroke-width="0.5"/>
<text x="543.00" y="422.50" font-size="6.0" text-anchor="middle" fill="#000" >1h</text>
<line x1="567.7" y1="415.6" x2="567.7" y2="417.1" stroke="#333" stroke-width="0.5"/>
<text x="567.70" y="422.50" font-size="6.0" text-anchor="middle" fill="#000" >24h</text>
<text transform="translate(509.55,393.75) rotate(-90)" font-size="5.6" text-anchor="middle" fill="#000" stroke="#000" stroke-width="0.12">Peak height</text>
<text x="651.55" y="366.70" font-size="6.2" text-anchor="middle" fill="#000" >Coenzyme A</text>
<rect x="627.9" y="414.6" width="5.25" height="1" fill="#a6a6a6" stroke="#1a1a1a" stroke-width="0.8"/>
<circle cx="630.52" cy="414.70" r="0.8" fill="#2e2e2e"/>
<rect x="633.55" y="410.5" width="5.25" height="5.1" fill="#e59597" stroke="#1a1a1a" stroke-width="0.8"/>
<line x1="636.17" y1="409.29" x2="636.17" y2="411.71" stroke="#1a1a1a" stroke-width="0.6"/>
<line x1="634.85" y1="409.29" x2="637.5" y2="409.29" stroke="#1a1a1a" stroke-width="0.6"/>
<circle cx="636.34" cy="411.65" r="1.05" fill="#8c1c1c"/>
<circle cx="636.40" cy="410.76" r="1.05" fill="#8c1c1c"/>
<circle cx="636.52" cy="412.12" r="1.05" fill="#8c1c1c"/>
<rect x="639.2" y="408.3" width="5.25" height="7.3" fill="#89a8dd" stroke="#1a1a1a" stroke-width="0.8"/>
<line x1="641.82" y1="406.92" x2="641.82" y2="409.68" stroke="#1a1a1a" stroke-width="0.6"/>
<line x1="640.5" y1="406.92" x2="643.15" y2="406.92" stroke="#1a1a1a" stroke-width="0.6"/>
<circle cx="641.10" cy="409.59" r="1.05" fill="#1c3c8c"/>
<circle cx="641.36" cy="409.35" r="1.05" fill="#1c3c8c"/>
<circle cx="642.16" cy="409.62" r="1.05" fill="#1c3c8c"/>
<rect x="644.85" y="405.4" width="5.25" height="10.2" fill="#80bfae" stroke="#1a1a1a" stroke-width="0.8"/>
<line x1="647.47" y1="403.78" x2="647.47" y2="407.02" stroke="#1a1a1a" stroke-width="0.6"/>
<line x1="646.15" y1="403.78" x2="648.8" y2="403.78" stroke="#1a1a1a" stroke-width="0.6"/>
<circle cx="647.30" cy="405.44" r="1.05" fill="#0e5a48"/>
<circle cx="647.92" cy="408.76" r="1.05" fill="#0e5a48"/>
<circle cx="646.81" cy="405.51" r="1.05" fill="#0e5a48"/>
<rect x="653" y="396.3" width="5.25" height="19.3" fill="#a6a6a6" stroke="#1a1a1a" stroke-width="0.8"/>
<line x1="655.62" y1="393.96" x2="655.62" y2="398.64" stroke="#1a1a1a" stroke-width="0.6"/>
<line x1="654.3" y1="393.96" x2="656.95" y2="393.96" stroke="#1a1a1a" stroke-width="0.6"/>
<circle cx="656.25" cy="400.57" r="1.05" fill="#2e2e2e"/>
<circle cx="656.10" cy="401.43" r="1.05" fill="#2e2e2e"/>
<circle cx="655.30" cy="397.25" r="1.05" fill="#2e2e2e"/>
<rect x="658.65" y="386.4" width="5.25" height="29.2" fill="#e59597" stroke="#1a1a1a" stroke-width="0.8"/>
<line x1="661.27" y1="383.26" x2="661.27" y2="389.54" stroke="#1a1a1a" stroke-width="0.6"/>
<line x1="659.95" y1="383.26" x2="662.6" y2="383.26" stroke="#1a1a1a" stroke-width="0.6"/>
<circle cx="661.31" cy="386.57" r="1.05" fill="#8c1c1c"/>
<circle cx="661.56" cy="383.44" r="1.05" fill="#8c1c1c"/>
<circle cx="661.80" cy="386.88" r="1.05" fill="#8c1c1c"/>
<rect x="664.3" y="379.1" width="5.25" height="36.5" fill="#89a8dd" stroke="#1a1a1a" stroke-width="0.8"/>
<line x1="666.92" y1="375.6" x2="666.92" y2="382.6" stroke="#1a1a1a" stroke-width="0.6"/>
<line x1="665.6" y1="375.6" x2="668.25" y2="375.6" stroke="#1a1a1a" stroke-width="0.6"/>
<circle cx="666.16" cy="374.42" r="1.05" fill="#1c3c8c"/>
<circle cx="666.79" cy="379.41" r="1.05" fill="#1c3c8c"/>
<circle cx="667.64" cy="380.34" r="1.05" fill="#1c3c8c"/>
<rect x="669.95" y="403.2" width="5.25" height="12.4" fill="#80bfae" stroke="#1a1a1a" stroke-width="0.8"/>
<line x1="672.57" y1="401.41" x2="672.57" y2="404.99" stroke="#1a1a1a" stroke-width="0.6"/>
<line x1="671.25" y1="401.41" x2="673.9" y2="401.41" stroke="#1a1a1a" stroke-width="0.6"/>
<circle cx="673.15" cy="403.19" r="1.05" fill="#0e5a48"/>
<circle cx="671.87" cy="405.68" r="1.05" fill="#0e5a48"/>
<circle cx="673.29" cy="402.64" r="1.05" fill="#0e5a48"/>
<circle cx="666.92" cy="374.70" r="1.05" fill="#1c3c8c"/>
<polygon points="647.47,407.60 648.03,408.94 649.47,409.05 648.37,409.99 648.70,411.40 647.47,410.64 646.24,411.40 646.57,409.99 645.47,409.05 646.91,408.94" fill="#e8251f"/>
<polygon points="661.27,407.60 661.83,408.94 663.27,409.05 662.17,409.99 662.50,411.40 661.27,410.64 660.04,411.40 660.37,409.99 659.27,409.05 660.71,408.94" fill="#e8251f"/>
<polygon points="666.92,407.60 667.48,408.94 668.92,409.05 667.82,409.99 668.15,411.40 666.92,410.64 665.69,411.40 666.02,409.99 664.92,409.05 666.36,408.94" fill="#e8251f"/>
<polygon points="672.57,407.60 673.13,408.94 674.57,409.05 673.47,409.99 673.80,411.40 672.57,410.64 671.34,411.40 671.67,409.99 670.57,409.05 672.01,408.94" fill="#e8251f"/>
<line x1="623.7" y1="371" x2="623.7" y2="416.2" stroke="#222" stroke-width="1.25"/>
<line x1="623.1" y1="415.6" x2="679.4" y2="415.6" stroke="#222" stroke-width="1.25"/>
<line x1="622.1" y1="415.6" x2="623.7" y2="415.6" stroke="#333" stroke-width="0.5"/>
<text x="621.90" y="417.90" font-size="4.7" text-anchor="end" fill="#4d4d4d">0<tspan font-size="4.70" dx="1.03">×</tspan>10<tspan font-size="3.29" dy="-2.0">0</tspan></text>
<line x1="622.1" y1="404.2" x2="623.7" y2="404.2" stroke="#333" stroke-width="0.5"/>
<text x="621.90" y="406.50" font-size="4.7" text-anchor="end" fill="#4d4d4d">1<tspan font-size="4.70" dx="1.03">×</tspan>10<tspan font-size="3.29" dy="-2.0">4</tspan></text>
<line x1="622.1" y1="392.8" x2="623.7" y2="392.8" stroke="#333" stroke-width="0.5"/>
<text x="621.90" y="395.10" font-size="4.7" text-anchor="end" fill="#4d4d4d">2<tspan font-size="4.70" dx="1.03">×</tspan>10<tspan font-size="3.29" dy="-2.0">4</tspan></text>
<line x1="622.1" y1="381.4" x2="623.7" y2="381.4" stroke="#333" stroke-width="0.5"/>
<text x="621.90" y="383.70" font-size="4.7" text-anchor="end" fill="#4d4d4d">3<tspan font-size="4.70" dx="1.03">×</tspan>10<tspan font-size="3.29" dy="-2.0">4</tspan></text>
<line x1="639.4" y1="415.6" x2="639.4" y2="417.1" stroke="#333" stroke-width="0.5"/>
<text x="639.40" y="422.50" font-size="6.0" text-anchor="middle" fill="#000" >1h</text>
<line x1="664.1" y1="415.6" x2="664.1" y2="417.1" stroke="#333" stroke-width="0.5"/>
<text x="664.10" y="422.50" font-size="6.0" text-anchor="middle" fill="#000" >24h</text>
<text transform="translate(605.95,393.60) rotate(-90)" font-size="5.6" text-anchor="middle" fill="#000" stroke="#000" stroke-width="0.12">Peak height</text>
<text x="69.15" y="445.80" font-size="6.2" text-anchor="middle" fill="#000" >Ribose 1-phosphate</text>
<rect x="45.5" y="494.6" width="5.25" height="0.4" fill="#a6a6a6" stroke="#1a1a1a" stroke-width="0.8"/>
<circle cx="48.12" cy="494.10" r="0.8" fill="#2e2e2e"/>
<rect x="51.15" y="491.3" width="5.25" height="3.7" fill="#e59597" stroke="#1a1a1a" stroke-width="0.8"/>
<line x1="53.77" y1="490.2" x2="53.77" y2="492.4" stroke="#1a1a1a" stroke-width="0.6"/>
<line x1="52.45" y1="490.2" x2="55.1" y2="490.2" stroke="#1a1a1a" stroke-width="0.6"/>
<circle cx="54.04" cy="492.64" r="1.05" fill="#8c1c1c"/>
<circle cx="53.53" cy="489.94" r="1.05" fill="#8c1c1c"/>
<circle cx="53.83" cy="491.41" r="1.05" fill="#8c1c1c"/>
<rect x="56.8" y="494.6" width="5.25" height="0.4" fill="#89a8dd" stroke="#1a1a1a" stroke-width="0.8"/>
<circle cx="59.42" cy="494.10" r="0.8" fill="#1c3c8c"/>
<rect x="62.45" y="494.6" width="5.25" height="0.4" fill="#80bfae" stroke="#1a1a1a" stroke-width="0.8"/>
<circle cx="65.07" cy="494.10" r="0.8" fill="#0e5a48"/>
<rect x="70.6" y="494.6" width="5.25" height="0.4" fill="#a6a6a6" stroke="#1a1a1a" stroke-width="0.8"/>
<circle cx="73.22" cy="494.10" r="0.8" fill="#2e2e2e"/>
<rect x="76.25" y="481.1" width="5.25" height="13.9" fill="#e59597" stroke="#1a1a1a" stroke-width="0.8"/>
<line x1="78.87" y1="479.19" x2="78.87" y2="483.01" stroke="#1a1a1a" stroke-width="0.6"/>
<line x1="77.55" y1="479.19" x2="80.2" y2="479.19" stroke="#1a1a1a" stroke-width="0.6"/>
<circle cx="78.86" cy="482.87" r="1.05" fill="#8c1c1c"/>
<circle cx="78.47" cy="479.74" r="1.05" fill="#8c1c1c"/>
<circle cx="78.86" cy="479.61" r="1.05" fill="#8c1c1c"/>
<rect x="81.9" y="492" width="5.25" height="3" fill="#89a8dd" stroke="#1a1a1a" stroke-width="0.8"/>
<line x1="84.52" y1="490.96" x2="84.52" y2="493.04" stroke="#1a1a1a" stroke-width="0.6"/>
<line x1="83.2" y1="490.96" x2="85.85" y2="490.96" stroke="#1a1a1a" stroke-width="0.6"/>
<circle cx="84.88" cy="492.06" r="1.05" fill="#1c3c8c"/>
<circle cx="84.09" cy="491.44" r="1.05" fill="#1c3c8c"/>
<circle cx="84.57" cy="492.14" r="1.05" fill="#1c3c8c"/>
<rect x="87.55" y="460.7" width="5.25" height="34.3" fill="#80bfae" stroke="#1a1a1a" stroke-width="0.8"/>
<line x1="90.17" y1="457.2" x2="90.17" y2="464.2" stroke="#1a1a1a" stroke-width="0.6"/>
<line x1="88.85" y1="457.2" x2="91.5" y2="457.2" stroke="#1a1a1a" stroke-width="0.6"/>
<circle cx="90.57" cy="464.89" r="1.05" fill="#0e5a48"/>
<circle cx="90.09" cy="455.55" r="1.05" fill="#0e5a48"/>
<circle cx="90.65" cy="469.52" r="1.05" fill="#0e5a48"/>
<polygon points="53.77,486.30 54.33,487.64 55.77,487.75 54.67,488.69 55.00,490.10 53.77,489.34 52.54,490.10 52.87,488.69 51.77,487.75 53.21,487.64" fill="#e8251f"/>
<polygon points="78.87,486.70 79.43,488.04 80.87,488.15 79.77,489.09 80.10,490.50 78.87,489.75 77.64,490.50 77.97,489.09 76.87,488.15 78.31,488.04" fill="#e8251f"/>
<polygon points="90.17,486.70 90.73,488.04 92.17,488.15 91.07,489.09 91.40,490.50 90.17,489.75 88.94,490.50 89.27,489.09 88.17,488.15 89.61,488.04" fill="#e8251f"/>
<line x1="41.3" y1="450.4" x2="41.3" y2="495.6" stroke="#222" stroke-width="1.25"/>
<line x1="40.7" y1="495" x2="97" y2="495" stroke="#222" stroke-width="1.25"/>
<line x1="39.7" y1="495" x2="41.3" y2="495" stroke="#333" stroke-width="0.5"/>
<text x="39.50" y="497.30" font-size="4.7" text-anchor="end" fill="#4d4d4d">0<tspan font-size="4.70" dx="1.03">×</tspan>10<tspan font-size="3.29" dy="-2.0">0</tspan></text>
<line x1="39.7" y1="483.1" x2="41.3" y2="483.1" stroke="#333" stroke-width="0.5"/>
<text x="39.50" y="485.40" font-size="4.7" text-anchor="end" fill="#4d4d4d">3<tspan font-size="4.70" dx="1.03">×</tspan>10<tspan font-size="3.29" dy="-2.0">3</tspan></text>
<line x1="39.7" y1="471.2" x2="41.3" y2="471.2" stroke="#333" stroke-width="0.5"/>
<text x="39.50" y="473.50" font-size="4.7" text-anchor="end" fill="#4d4d4d">6<tspan font-size="4.70" dx="1.03">×</tspan>10<tspan font-size="3.29" dy="-2.0">3</tspan></text>
<line x1="39.7" y1="459.3" x2="41.3" y2="459.3" stroke="#333" stroke-width="0.5"/>
<text x="39.50" y="461.60" font-size="4.7" text-anchor="end" fill="#4d4d4d">9<tspan font-size="4.70" dx="1.03">×</tspan>10<tspan font-size="3.29" dy="-2.0">3</tspan></text>
<line x1="57" y1="495" x2="57" y2="496.5" stroke="#333" stroke-width="0.5"/>
<text x="57.00" y="501.90" font-size="6.0" text-anchor="middle" fill="#000" >1h</text>
<line x1="81.7" y1="495" x2="81.7" y2="496.5" stroke="#333" stroke-width="0.5"/>
<text x="81.70" y="501.90" font-size="6.0" text-anchor="middle" fill="#000" >24h</text>
<text transform="translate(23.55,473.00) rotate(-90)" font-size="5.6" text-anchor="middle" fill="#000" stroke="#000" stroke-width="0.12">Peak height</text>
<text x="168.15" y="444.70" font-size="6.2" text-anchor="middle" fill="#000" >Ribose-5-phosphate</text>
<rect x="144.5" y="487" width="5.25" height="6.6" fill="#a6a6a6" stroke="#1a1a1a" stroke-width="0.8"/>
<line x1="147.12" y1="485.67" x2="147.12" y2="488.33" stroke="#1a1a1a" stroke-width="0.6"/>
<line x1="145.8" y1="485.67" x2="148.45" y2="485.67" stroke="#1a1a1a" stroke-width="0.6"/>
<circle cx="147.75" cy="489.19" r="1.05" fill="#2e2e2e"/>
<circle cx="147.90" cy="487.06" r="1.05" fill="#2e2e2e"/>
<circle cx="147.30" cy="489.59" r="1.05" fill="#2e2e2e"/>
<rect x="150.15" y="464.1" width="5.25" height="29.5" fill="#e59597" stroke="#1a1a1a" stroke-width="0.8"/>
<line x1="152.77" y1="458.9" x2="152.77" y2="469.3" stroke="#1a1a1a" stroke-width="0.6"/>
<line x1="151.45" y1="458.9" x2="154.1" y2="458.9" stroke="#1a1a1a" stroke-width="0.6"/>
<circle cx="152.25" cy="467.28" r="1.05" fill="#8c1c1c"/>
<circle cx="152.29" cy="461.96" r="1.05" fill="#8c1c1c"/>
<circle cx="153.00" cy="457.53" r="1.05" fill="#8c1c1c"/>
<rect x="155.8" y="480.9" width="5.25" height="12.7" fill="#89a8dd" stroke="#1a1a1a" stroke-width="0.8"/>
<line x1="158.42" y1="479.08" x2="158.42" y2="482.72" stroke="#1a1a1a" stroke-width="0.6"/>
<line x1="157.1" y1="479.08" x2="159.75" y2="479.08" stroke="#1a1a1a" stroke-width="0.6"/>
<circle cx="157.71" cy="484.69" r="1.05" fill="#1c3c8c"/>
<circle cx="158.99" cy="482.35" r="1.05" fill="#1c3c8c"/>
<circle cx="158.50" cy="478.10" r="1.05" fill="#1c3c8c"/>
<rect x="161.45" y="484.1" width="5.25" height="9.5" fill="#80bfae" stroke="#1a1a1a" stroke-width="0.8"/>
<line x1="164.07" y1="482.54" x2="164.07" y2="485.66" stroke="#1a1a1a" stroke-width="0.6"/>
<line x1="162.75" y1="482.54" x2="165.4" y2="482.54" stroke="#1a1a1a" stroke-width="0.6"/>
<circle cx="163.43" cy="481.73" r="1.05" fill="#0e5a48"/>
<circle cx="164.27" cy="488.01" r="1.05" fill="#0e5a48"/>
<circle cx="163.77" cy="485.93" r="1.05" fill="#0e5a48"/>
<rect x="169.6" y="490" width="5.25" height="3.6" fill="#a6a6a6" stroke="#1a1a1a" stroke-width="0.8"/>
<line x1="172.22" y1="488.91" x2="172.22" y2="491.09" stroke="#1a1a1a" stroke-width="0.6"/>
<line x1="170.9" y1="488.91" x2="173.55" y2="488.91" stroke="#1a1a1a" stroke-width="0.6"/>
<circle cx="171.73" cy="488.44" r="1.05" fill="#2e2e2e"/>
<circle cx="172.88" cy="490.02" r="1.05" fill="#2e2e2e"/>
<circle cx="172.68" cy="491.91" r="1.05" fill="#2e2e2e"/>
<rect x="175.25" y="479" width="5.25" height="14.6" fill="#e59597" stroke="#1a1a1a" stroke-width="0.8"/>
<line x1="177.87" y1="477.03" x2="177.87" y2="480.97" stroke="#1a1a1a" stroke-width="0.6"/>
<line x1="176.55" y1="477.03" x2="179.2" y2="477.03" stroke="#1a1a1a" stroke-width="0.6"/>
<circle cx="178.19" cy="479.52" r="1.05" fill="#8c1c1c"/>
<circle cx="178.41" cy="476.11" r="1.05" fill="#8c1c1c"/>
<circle cx="177.57" cy="477.83" r="1.05" fill="#8c1c1c"/>
<rect x="180.9" y="485.1" width="5.25" height="8.5" fill="#89a8dd" stroke="#1a1a1a" stroke-width="0.8"/>
<line x1="183.52" y1="483.62" x2="183.52" y2="486.58" stroke="#1a1a1a" stroke-width="0.6"/>
<line x1="182.2" y1="483.62" x2="184.85" y2="483.62" stroke="#1a1a1a" stroke-width="0.6"/>
<circle cx="184.26" cy="484.59" r="1.05" fill="#1c3c8c"/>
<circle cx="182.73" cy="485.98" r="1.05" fill="#1c3c8c"/>
<circle cx="184.13" cy="485.94" r="1.05" fill="#1c3c8c"/>
<rect x="186.55" y="476.1" width="5.25" height="17.5" fill="#80bfae" stroke="#1a1a1a" stroke-width="0.8"/>
<line x1="189.17" y1="473.9" x2="189.17" y2="478.3" stroke="#1a1a1a" stroke-width="0.6"/>
<line x1="187.85" y1="473.9" x2="190.5" y2="473.9" stroke="#1a1a1a" stroke-width="0.6"/>
<circle cx="189.24" cy="479.36" r="1.05" fill="#0e5a48"/>
<circle cx="188.45" cy="478.74" r="1.05" fill="#0e5a48"/>
<circle cx="189.44" cy="475.82" r="1.05" fill="#0e5a48"/>
<circle cx="152.77" cy="452.70" r="1.05" fill="#8c1c1c"/>
<circle cx="152.77" cy="456.40" r="1.05" fill="#8c1c1c"/>
<polygon points="152.77,485.70 153.33,487.04 154.77,487.15 153.67,488.09 154.00,489.50 152.77,488.75 151.54,489.50 151.87,488.09 150.77,487.15 152.21,487.04" fill="#e8251f"/>
<polygon points="177.87,485.70 178.43,487.04 179.87,487.15 178.77,488.09 179.10,489.50 177.87,488.75 176.64,489.50 176.97,488.09 175.87,487.15 177.31,487.04" fill="#e8251f"/>
<polygon points="183.52,485.70 184.08,487.04 185.52,487.15 184.42,488.09 184.75,489.50 183.52,488.75 182.29,489.50 182.62,488.09 181.52,487.15 182.96,487.04" fill="#e8251f"/>
<polygon points="189.17,485.70 189.73,487.04 191.17,487.15 190.07,488.09 190.40,489.50 189.17,488.75 187.94,489.50 188.27,488.09 187.17,487.15 188.61,487.04" fill="#e8251f"/>
<line x1="140.3" y1="449.1" x2="140.3" y2="494.2" stroke="#222" stroke-width="1.25"/>
<line x1="139.7" y1="493.6" x2="196" y2="493.6" stroke="#222" stroke-width="1.25"/>
<line x1="138.7" y1="493.6" x2="140.3" y2="493.6" stroke="#333" stroke-width="0.5"/>
<text x="138.50" y="495.90" font-size="4.7" text-anchor="end" fill="#4d4d4d">0<tspan font-size="4.70" dx="1.03">×</tspan>10<tspan font-size="3.29" dy="-2.0">0</tspan></text>
<line x1="138.7" y1="477.6" x2="140.3" y2="477.6" stroke="#333" stroke-width="0.5"/>
<text x="138.50" y="479.90" font-size="4.7" text-anchor="end" fill="#4d4d4d">1<tspan font-size="4.70" dx="1.03">×</tspan>10<tspan font-size="3.29" dy="-2.0">4</tspan></text>
<line x1="138.7" y1="461.6" x2="140.3" y2="461.6" stroke="#333" stroke-width="0.5"/>
<text x="138.50" y="463.90" font-size="4.7" text-anchor="end" fill="#4d4d4d">2<tspan font-size="4.70" dx="1.03">×</tspan>10<tspan font-size="3.29" dy="-2.0">4</tspan></text>
<line x1="156" y1="493.6" x2="156" y2="495.1" stroke="#333" stroke-width="0.5"/>
<text x="156.00" y="500.50" font-size="6.0" text-anchor="middle" fill="#000" >1h</text>
<line x1="180.7" y1="493.6" x2="180.7" y2="495.1" stroke="#333" stroke-width="0.5"/>
<text x="180.70" y="500.50" font-size="6.0" text-anchor="middle" fill="#000" >24h</text>
<text transform="translate(122.55,471.65) rotate(-90)" font-size="5.6" text-anchor="middle" fill="#000" stroke="#000" stroke-width="0.12">Peak height</text>
<text x="354.70" y="446.00" font-size="6.2" text-anchor="middle" fill="#000" >Sedoheptulose 7-phosphate</text>
<rect x="338.4" y="490.9" width="5.25" height="4" fill="#a6a6a6" stroke="#1a1a1a" stroke-width="0.8"/>
<line x1="341.02" y1="489.78" x2="341.02" y2="492.02" stroke="#1a1a1a" stroke-width="0.6"/>
<line x1="339.7" y1="489.78" x2="342.35" y2="489.78" stroke="#1a1a1a" stroke-width="0.6"/>
<circle cx="341.48" cy="492.88" r="1.05" fill="#2e2e2e"/>
<circle cx="341.23" cy="489.60" r="1.05" fill="#2e2e2e"/>
<circle cx="341.11" cy="490.65" r="1.05" fill="#2e2e2e"/>
<rect x="344.05" y="462.3" width="5.25" height="32.6" fill="#e59597" stroke="#1a1a1a" stroke-width="0.8"/>
<line x1="346.67" y1="458.89" x2="346.67" y2="465.71" stroke="#1a1a1a" stroke-width="0.6"/>
<line x1="345.35" y1="458.89" x2="348" y2="458.89" stroke="#1a1a1a" stroke-width="0.6"/>
<circle cx="346.07" cy="457.76" r="1.05" fill="#8c1c1c"/>
<circle cx="346.18" cy="463.77" r="1.05" fill="#8c1c1c"/>
<circle cx="346.59" cy="468.92" r="1.05" fill="#8c1c1c"/>
<rect x="349.7" y="477.3" width="5.25" height="17.6" fill="#89a8dd" stroke="#1a1a1a" stroke-width="0.8"/>
<line x1="352.32" y1="475.09" x2="352.32" y2="479.51" stroke="#1a1a1a" stroke-width="0.6"/>
<line x1="351" y1="475.09" x2="353.65" y2="475.09" stroke="#1a1a1a" stroke-width="0.6"/>
<circle cx="352.89" cy="481.60" r="1.05" fill="#1c3c8c"/>
<circle cx="351.81" cy="476.66" r="1.05" fill="#1c3c8c"/>
<circle cx="351.55" cy="481.34" r="1.05" fill="#1c3c8c"/>
<rect x="355.35" y="482.4" width="5.25" height="12.5" fill="#80bfae" stroke="#1a1a1a" stroke-width="0.8"/>
<line x1="357.97" y1="480.6" x2="357.97" y2="484.2" stroke="#1a1a1a" stroke-width="0.6"/>
<line x1="356.65" y1="480.6" x2="359.3" y2="480.6" stroke="#1a1a1a" stroke-width="0.6"/>
<circle cx="357.72" cy="484.20" r="1.05" fill="#0e5a48"/>
<circle cx="357.32" cy="484.32" r="1.05" fill="#0e5a48"/>
<circle cx="358.22" cy="486.08" r="1.05" fill="#0e5a48"/>
<rect x="363.5" y="486.1" width="5.25" height="8.8" fill="#a6a6a6" stroke="#1a1a1a" stroke-width="0.8"/>
<line x1="366.12" y1="484.6" x2="366.12" y2="487.6" stroke="#1a1a1a" stroke-width="0.6"/>
<line x1="364.8" y1="484.6" x2="367.45" y2="484.6" stroke="#1a1a1a" stroke-width="0.6"/>
<circle cx="365.82" cy="484.34" r="1.05" fill="#2e2e2e"/>
<circle cx="365.88" cy="486.64" r="1.05" fill="#2e2e2e"/>
<circle cx="365.81" cy="485.83" r="1.05" fill="#2e2e2e"/>
<rect x="369.15" y="458.4" width="5.25" height="36.5" fill="#e59597" stroke="#1a1a1a" stroke-width="0.8"/>
<line x1="371.77" y1="454.9" x2="371.77" y2="461.9" stroke="#1a1a1a" stroke-width="0.6"/>
<line x1="370.45" y1="454.9" x2="373.1" y2="454.9" stroke="#1a1a1a" stroke-width="0.6"/>
<circle cx="371.04" cy="467.24" r="1.05" fill="#8c1c1c"/>
<circle cx="372.28" cy="463.92" r="1.05" fill="#8c1c1c"/>
<circle cx="371.12" cy="453.47" r="1.05" fill="#8c1c1c"/>
<rect x="374.8" y="462.4" width="5.25" height="32.5" fill="#89a8dd" stroke="#1a1a1a" stroke-width="0.8"/>
<line x1="377.42" y1="459" x2="377.42" y2="465.8" stroke="#1a1a1a" stroke-width="0.6"/>
<line x1="376.1" y1="459" x2="378.75" y2="459" stroke="#1a1a1a" stroke-width="0.6"/>
<circle cx="377.35" cy="463.03" r="1.05" fill="#1c3c8c"/>
<circle cx="377.03" cy="467.07" r="1.05" fill="#1c3c8c"/>
<circle cx="377.32" cy="465.97" r="1.05" fill="#1c3c8c"/>
<rect x="380.45" y="461.3" width="5.25" height="33.6" fill="#80bfae" stroke="#1a1a1a" stroke-width="0.8"/>
<line x1="383.07" y1="457.81" x2="383.07" y2="464.79" stroke="#1a1a1a" stroke-width="0.6"/>
<line x1="381.75" y1="457.81" x2="384.4" y2="457.81" stroke="#1a1a1a" stroke-width="0.6"/>
<circle cx="382.41" cy="455.88" r="1.05" fill="#0e5a48"/>
<circle cx="383.52" cy="469.63" r="1.05" fill="#0e5a48"/>
<circle cx="383.54" cy="455.72" r="1.05" fill="#0e5a48"/>
<circle cx="346.67" cy="455.40" r="1.05" fill="#8c1c1c"/>
<circle cx="371.77" cy="454.00" r="1.05" fill="#8c1c1c"/>
<circle cx="383.07" cy="455.40" r="1.05" fill="#0e5a48"/>
<polygon points="346.67,486.90 347.23,488.24 348.67,488.35 347.57,489.29 347.90,490.70 346.67,489.94 345.44,490.70 345.77,489.29 344.67,488.35 346.11,488.24" fill="#e8251f"/>
<polygon points="352.32,486.90 352.88,488.24 354.32,488.35 353.22,489.29 353.55,490.70 352.32,489.94 351.09,490.70 351.42,489.29 350.32,488.35 351.76,488.24" fill="#e8251f"/>
<polygon points="371.77,486.90 372.33,488.24 373.77,488.35 372.67,489.29 373.00,490.70 371.77,489.94 370.54,490.70 370.87,489.29 369.77,488.35 371.21,488.24" fill="#e8251f"/>
<polygon points="377.42,486.90 377.98,488.24 379.42,488.35 378.32,489.29 378.65,490.70 377.42,489.94 376.19,490.70 376.52,489.29 375.42,488.35 376.86,488.24" fill="#e8251f"/>
<polygon points="383.07,486.90 383.63,488.24 385.07,488.35 383.97,489.29 384.30,490.70 383.07,489.94 381.84,490.70 382.17,489.29 381.07,488.35 382.51,488.24" fill="#e8251f"/>
<line x1="334.2" y1="450.3" x2="334.2" y2="495.5" stroke="#222" stroke-width="1.25"/>
<line x1="333.6" y1="494.9" x2="389.9" y2="494.9" stroke="#222" stroke-width="1.25"/>
<line x1="332.6" y1="494.9" x2="334.2" y2="494.9" stroke="#333" stroke-width="0.5"/>
<text x="332.40" y="497.20" font-size="4.7" text-anchor="end" fill="#4d4d4d">0<tspan font-size="4.70" dx="1.03">×</tspan>10<tspan font-size="3.29" dy="-2.0">0</tspan></text>
<line x1="332.6" y1="485.6" x2="334.2" y2="485.6" stroke="#333" stroke-width="0.5"/>
<text x="332.40" y="487.90" font-size="4.7" text-anchor="end" fill="#4d4d4d">1<tspan font-size="4.70" dx="1.03">×</tspan>10<tspan font-size="3.29" dy="-2.0">4</tspan></text>
<line x1="332.6" y1="476.3" x2="334.2" y2="476.3" stroke="#333" stroke-width="0.5"/>
<text x="332.40" y="478.60" font-size="4.7" text-anchor="end" fill="#4d4d4d">2<tspan font-size="4.70" dx="1.03">×</tspan>10<tspan font-size="3.29" dy="-2.0">4</tspan></text>
<line x1="332.6" y1="467" x2="334.2" y2="467" stroke="#333" stroke-width="0.5"/>
<text x="332.40" y="469.30" font-size="4.7" text-anchor="end" fill="#4d4d4d">3<tspan font-size="4.70" dx="1.03">×</tspan>10<tspan font-size="3.29" dy="-2.0">4</tspan></text>
<line x1="332.6" y1="457.7" x2="334.2" y2="457.7" stroke="#333" stroke-width="0.5"/>
<text x="332.40" y="460.00" font-size="4.7" text-anchor="end" fill="#4d4d4d">4<tspan font-size="4.70" dx="1.03">×</tspan>10<tspan font-size="3.29" dy="-2.0">4</tspan></text>
<line x1="349.9" y1="494.9" x2="349.9" y2="496.4" stroke="#333" stroke-width="0.5"/>
<text x="349.90" y="501.80" font-size="6.0" text-anchor="middle" fill="#000" >1h</text>
<line x1="374.6" y1="494.9" x2="374.6" y2="496.4" stroke="#333" stroke-width="0.5"/>
<text x="374.60" y="501.80" font-size="6.0" text-anchor="middle" fill="#000" >24h</text>
<text transform="translate(316.45,472.90) rotate(-90)" font-size="5.6" text-anchor="middle" fill="#000" stroke="#000" stroke-width="0.12">Peak height</text>
<text x="459.05" y="445.80" font-size="6.2" text-anchor="middle" fill="#000" >Lactic acid</text>
<rect x="435.4" y="492.5" width="5.25" height="2.5" fill="#a6a6a6" stroke="#1a1a1a" stroke-width="0.8"/>
<circle cx="438.02" cy="494.10" r="0.8" fill="#2e2e2e"/>
<rect x="441.05" y="488.1" width="5.25" height="6.9" fill="#e59597" stroke="#1a1a1a" stroke-width="0.8"/>
<line x1="443.67" y1="486.75" x2="443.67" y2="489.45" stroke="#1a1a1a" stroke-width="0.6"/>
<line x1="442.35" y1="486.75" x2="445" y2="486.75" stroke="#1a1a1a" stroke-width="0.6"/>
<circle cx="443.46" cy="490.03" r="1.05" fill="#8c1c1c"/>
<circle cx="443.07" cy="490.23" r="1.05" fill="#8c1c1c"/>
<circle cx="443.55" cy="491.28" r="1.05" fill="#8c1c1c"/>
<rect x="446.7" y="484.3" width="5.25" height="10.7" fill="#89a8dd" stroke="#1a1a1a" stroke-width="0.8"/>
<line x1="449.32" y1="482.64" x2="449.32" y2="485.96" stroke="#1a1a1a" stroke-width="0.6"/>
<line x1="448" y1="482.64" x2="450.65" y2="482.64" stroke="#1a1a1a" stroke-width="0.6"/>
<circle cx="449.29" cy="485.68" r="1.05" fill="#1c3c8c"/>
<circle cx="448.83" cy="484.22" r="1.05" fill="#1c3c8c"/>
<circle cx="448.66" cy="488.20" r="1.05" fill="#1c3c8c"/>
<rect x="452.35" y="484.3" width="5.25" height="10.7" fill="#80bfae" stroke="#1a1a1a" stroke-width="0.8"/>
<line x1="454.97" y1="482.64" x2="454.97" y2="485.96" stroke="#1a1a1a" stroke-width="0.6"/>
<line x1="453.65" y1="482.64" x2="456.3" y2="482.64" stroke="#1a1a1a" stroke-width="0.6"/>
<circle cx="454.26" cy="483.14" r="1.05" fill="#0e5a48"/>
<circle cx="454.71" cy="484.76" r="1.05" fill="#0e5a48"/>
<circle cx="454.46" cy="482.93" r="1.05" fill="#0e5a48"/>
<rect x="460.5" y="485.2" width="5.25" height="9.8" fill="#a6a6a6" stroke="#1a1a1a" stroke-width="0.8"/>
<line x1="463.12" y1="483.62" x2="463.12" y2="486.78" stroke="#1a1a1a" stroke-width="0.6"/>
<line x1="461.8" y1="483.62" x2="464.45" y2="483.62" stroke="#1a1a1a" stroke-width="0.6"/>
<circle cx="463.22" cy="488.48" r="1.05" fill="#2e2e2e"/>
<circle cx="463.69" cy="483.46" r="1.05" fill="#2e2e2e"/>
<circle cx="463.87" cy="486.46" r="1.05" fill="#2e2e2e"/>
<rect x="466.15" y="459.9" width="5.25" height="35.1" fill="#e59597" stroke="#1a1a1a" stroke-width="0.8"/>
<line x1="468.77" y1="456.4" x2="468.77" y2="463.4" stroke="#1a1a1a" stroke-width="0.6"/>
<line x1="467.45" y1="456.4" x2="470.1" y2="456.4" stroke="#1a1a1a" stroke-width="0.6"/>
<circle cx="468.60" cy="459.89" r="1.05" fill="#8c1c1c"/>
<circle cx="468.41" cy="454.57" r="1.05" fill="#8c1c1c"/>
<circle cx="468.88" cy="468.47" r="1.05" fill="#8c1c1c"/>
<rect x="471.8" y="462.4" width="5.25" height="32.6" fill="#89a8dd" stroke="#1a1a1a" stroke-width="0.8"/>
<line x1="474.42" y1="458.99" x2="474.42" y2="465.81" stroke="#1a1a1a" stroke-width="0.6"/>
<line x1="473.1" y1="458.99" x2="475.75" y2="458.99" stroke="#1a1a1a" stroke-width="0.6"/>
<circle cx="475.04" cy="470.28" r="1.05" fill="#1c3c8c"/>
<circle cx="474.76" cy="467.25" r="1.05" fill="#1c3c8c"/>
<circle cx="474.64" cy="462.07" r="1.05" fill="#1c3c8c"/>
<rect x="477.45" y="471.3" width="5.25" height="23.7" fill="#80bfae" stroke="#1a1a1a" stroke-width="0.8"/>
<line x1="480.07" y1="468.6" x2="480.07" y2="474" stroke="#1a1a1a" stroke-width="0.6"/>
<line x1="478.75" y1="468.6" x2="481.4" y2="468.6" stroke="#1a1a1a" stroke-width="0.6"/>
<circle cx="480.01" cy="470.54" r="1.05" fill="#0e5a48"/>
<circle cx="480.82" cy="468.70" r="1.05" fill="#0e5a48"/>
<circle cx="480.69" cy="469.86" r="1.05" fill="#0e5a48"/>
<circle cx="468.77" cy="454.10" r="1.05" fill="#8c1c1c"/>
<circle cx="474.42" cy="457.70" r="1.05" fill="#1c3c8c"/>
<circle cx="449.32" cy="479.30" r="1.05" fill="#1c3c8c"/>
<polygon points="443.67,486.70 444.23,488.04 445.67,488.15 444.57,489.09 444.90,490.50 443.67,489.75 442.44,490.50 442.77,489.09 441.67,488.15 443.11,488.04" fill="#e8251f"/>
<polygon points="449.32,486.70 449.88,488.04 451.32,488.15 450.22,489.09 450.55,490.50 449.32,489.75 448.09,490.50 448.42,489.09 447.32,488.15 448.76,488.04" fill="#e8251f"/>
<polygon points="454.97,486.70 455.53,488.04 456.97,488.15 455.87,489.09 456.20,490.50 454.97,489.75 453.74,490.50 454.07,489.09 452.97,488.15 454.41,488.04" fill="#e8251f"/>
<polygon points="468.77,486.70 469.33,488.04 470.77,488.15 469.67,489.09 470.00,490.50 468.77,489.75 467.54,490.50 467.87,489.09 466.77,488.15 468.21,488.04" fill="#e8251f"/>
<polygon points="474.42,486.70 474.98,488.04 476.42,488.15 475.32,489.09 475.65,490.50 474.42,489.75 473.19,490.50 473.52,489.09 472.42,488.15 473.86,488.04" fill="#e8251f"/>
<polygon points="480.07,486.70 480.63,488.04 482.07,488.15 480.97,489.09 481.30,490.50 480.07,489.75 478.84,490.50 479.17,489.09 478.07,488.15 479.51,488.04" fill="#e8251f"/>
<line x1="431.2" y1="450.4" x2="431.2" y2="495.6" stroke="#222" stroke-width="1.25"/>
<line x1="430.6" y1="495" x2="486.9" y2="495" stroke="#222" stroke-width="1.25"/>
<line x1="429.6" y1="495" x2="431.2" y2="495" stroke="#333" stroke-width="0.5"/>
<text x="429.40" y="497.30" font-size="4.7" text-anchor="end" fill="#4d4d4d">0<tspan font-size="4.70" dx="1.03">×</tspan>10<tspan font-size="3.29" dy="-2.0">0</tspan></text>
<line x1="429.6" y1="478.5" x2="431.2" y2="478.5" stroke="#333" stroke-width="0.5"/>
<text x="429.40" y="480.80" font-size="4.7" text-anchor="end" fill="#4d4d4d">1<tspan font-size="4.70" dx="1.03">×</tspan>10<tspan font-size="3.29" dy="-2.0">5</tspan></text>
<line x1="429.6" y1="462" x2="431.2" y2="462" stroke="#333" stroke-width="0.5"/>
<text x="429.40" y="464.30" font-size="4.7" text-anchor="end" fill="#4d4d4d">2<tspan font-size="4.70" dx="1.03">×</tspan>10<tspan font-size="3.29" dy="-2.0">5</tspan></text>
<line x1="446.9" y1="495" x2="446.9" y2="496.5" stroke="#333" stroke-width="0.5"/>
<text x="446.90" y="501.90" font-size="6.0" text-anchor="middle" fill="#000" >1h</text>
<line x1="471.6" y1="495" x2="471.6" y2="496.5" stroke="#333" stroke-width="0.5"/>
<text x="471.60" y="501.90" font-size="6.0" text-anchor="middle" fill="#000" >24h</text>
<text transform="translate(413.45,473.00) rotate(-90)" font-size="5.6" text-anchor="middle" fill="#000" stroke="#000" stroke-width="0.12">Peak height</text>
<text x="653.25" y="445.80" font-size="6.2" text-anchor="middle" fill="#000" >Acetyl coenzyme A</text>
<rect x="629.6" y="491" width="5.25" height="4" fill="#a6a6a6" stroke="#1a1a1a" stroke-width="0.8"/>
<line x1="632.22" y1="489.88" x2="632.22" y2="492.12" stroke="#1a1a1a" stroke-width="0.6"/>
<line x1="630.9" y1="489.88" x2="633.55" y2="489.88" stroke="#1a1a1a" stroke-width="0.6"/>
<circle cx="632.09" cy="491.40" r="1.05" fill="#2e2e2e"/>
<circle cx="632.73" cy="492.35" r="1.05" fill="#2e2e2e"/>
<circle cx="631.50" cy="490.80" r="1.05" fill="#2e2e2e"/>
<rect x="635.25" y="491" width="5.25" height="4" fill="#e59597" stroke="#1a1a1a" stroke-width="0.8"/>
<line x1="637.87" y1="489.88" x2="637.87" y2="492.12" stroke="#1a1a1a" stroke-width="0.6"/>
<line x1="636.55" y1="489.88" x2="639.2" y2="489.88" stroke="#1a1a1a" stroke-width="0.6"/>
<circle cx="638.00" cy="493.29" r="1.05" fill="#8c1c1c"/>
<circle cx="637.08" cy="489.70" r="1.05" fill="#8c1c1c"/>
<circle cx="637.20" cy="489.77" r="1.05" fill="#8c1c1c"/>
<rect x="640.9" y="490.3" width="5.25" height="4.7" fill="#89a8dd" stroke="#1a1a1a" stroke-width="0.8"/>
<line x1="643.52" y1="489.12" x2="643.52" y2="491.48" stroke="#1a1a1a" stroke-width="0.6"/>
<line x1="642.2" y1="489.12" x2="644.85" y2="489.12" stroke="#1a1a1a" stroke-width="0.6"/>
<circle cx="642.82" cy="489.27" r="1.05" fill="#1c3c8c"/>
<circle cx="643.58" cy="488.99" r="1.05" fill="#1c3c8c"/>
<circle cx="644.23" cy="490.90" r="1.05" fill="#1c3c8c"/>
<rect x="646.55" y="491.3" width="5.25" height="3.7" fill="#80bfae" stroke="#1a1a1a" stroke-width="0.8"/>
<line x1="649.17" y1="490.2" x2="649.17" y2="492.4" stroke="#1a1a1a" stroke-width="0.6"/>
<line x1="647.85" y1="490.2" x2="650.5" y2="490.2" stroke="#1a1a1a" stroke-width="0.6"/>
<circle cx="648.93" cy="489.62" r="1.05" fill="#0e5a48"/>
<circle cx="648.40" cy="492.29" r="1.05" fill="#0e5a48"/>
<circle cx="649.90" cy="492.49" r="1.05" fill="#0e5a48"/>
<rect x="654.7" y="493.1" width="5.25" height="1.9" fill="#a6a6a6" stroke="#1a1a1a" stroke-width="0.8"/>
<circle cx="657.32" cy="494.10" r="0.8" fill="#2e2e2e"/>
<rect x="660.35" y="491.3" width="5.25" height="3.7" fill="#e59597" stroke="#1a1a1a" stroke-width="0.8"/>
<line x1="662.97" y1="490.2" x2="662.97" y2="492.4" stroke="#1a1a1a" stroke-width="0.6"/>
<line x1="661.65" y1="490.2" x2="664.3" y2="490.2" stroke="#1a1a1a" stroke-width="0.6"/>
<circle cx="663.19" cy="490.91" r="1.05" fill="#8c1c1c"/>
<circle cx="662.96" cy="493.32" r="1.05" fill="#8c1c1c"/>
<circle cx="662.87" cy="492.33" r="1.05" fill="#8c1c1c"/>
<rect x="666" y="491" width="5.25" height="4" fill="#89a8dd" stroke="#1a1a1a" stroke-width="0.8"/>
<line x1="668.62" y1="489.88" x2="668.62" y2="492.12" stroke="#1a1a1a" stroke-width="0.6"/>
<line x1="667.3" y1="489.88" x2="669.95" y2="489.88" stroke="#1a1a1a" stroke-width="0.6"/>
<circle cx="667.93" cy="489.81" r="1.05" fill="#1c3c8c"/>
<circle cx="668.73" cy="489.91" r="1.05" fill="#1c3c8c"/>
<circle cx="668.77" cy="490.79" r="1.05" fill="#1c3c8c"/>
<rect x="671.65" y="458.5" width="5.25" height="36.5" fill="#80bfae" stroke="#1a1a1a" stroke-width="0.8"/>
<line x1="674.27" y1="455" x2="674.27" y2="462" stroke="#1a1a1a" stroke-width="0.6"/>
<line x1="672.95" y1="455" x2="675.6" y2="455" stroke="#1a1a1a" stroke-width="0.6"/>
<circle cx="674.73" cy="463.92" r="1.05" fill="#0e5a48"/>
<circle cx="674.59" cy="458.53" r="1.05" fill="#0e5a48"/>
<circle cx="674.35" cy="453.61" r="1.05" fill="#0e5a48"/>
<polygon points="674.27,486.60 674.83,487.94 676.27,488.05 675.17,488.99 675.50,490.40 674.27,489.64 673.04,490.40 673.37,488.99 672.27,488.05 673.71,487.94" fill="#e8251f"/>
<line x1="625.4" y1="450.4" x2="625.4" y2="495.6" stroke="#222" stroke-width="1.25"/>
<line x1="624.8" y1="495" x2="681.1" y2="495" stroke="#222" stroke-width="1.25"/>
<line x1="623.8" y1="495" x2="625.4" y2="495" stroke="#333" stroke-width="0.5"/>
<text x="623.60" y="497.30" font-size="4.7" text-anchor="end" fill="#4d4d4d">0.0<tspan font-size="4.70" dx="1.03">×</tspan>10<tspan font-size="3.29" dy="-2.0">0</tspan></text>
<line x1="623.8" y1="483.8" x2="625.4" y2="483.8" stroke="#333" stroke-width="0.5"/>
<text x="623.60" y="486.10" font-size="4.7" text-anchor="end" fill="#4d4d4d">2.5<tspan font-size="4.70" dx="1.03">×</tspan>10<tspan font-size="3.29" dy="-2.0">3</tspan></text>
<line x1="623.8" y1="472.6" x2="625.4" y2="472.6" stroke="#333" stroke-width="0.5"/>
<text x="623.60" y="474.90" font-size="4.7" text-anchor="end" fill="#4d4d4d">5.0<tspan font-size="4.70" dx="1.03">×</tspan>10<tspan font-size="3.29" dy="-2.0">3</tspan></text>
<line x1="623.8" y1="461.4" x2="625.4" y2="461.4" stroke="#333" stroke-width="0.5"/>
<text x="623.60" y="463.70" font-size="4.7" text-anchor="end" fill="#4d4d4d">7.5<tspan font-size="4.70" dx="1.03">×</tspan>10<tspan font-size="3.29" dy="-2.0">3</tspan></text>
<line x1="623.8" y1="450.2" x2="625.4" y2="450.2" stroke="#333" stroke-width="0.5"/>
<text x="623.60" y="452.50" font-size="4.7" text-anchor="end" fill="#4d4d4d">1.0<tspan font-size="4.70" dx="1.03">×</tspan>10<tspan font-size="3.29" dy="-2.0">4</tspan></text>
<line x1="641.1" y1="495" x2="641.1" y2="496.5" stroke="#333" stroke-width="0.5"/>
<text x="641.10" y="501.90" font-size="6.0" text-anchor="middle" fill="#000" >1h</text>
<line x1="665.8" y1="495" x2="665.8" y2="496.5" stroke="#333" stroke-width="0.5"/>
<text x="665.80" y="501.90" font-size="6.0" text-anchor="middle" fill="#000" >24h</text>
<text transform="translate(603.73,473.00) rotate(-90)" font-size="5.6" text-anchor="middle" fill="#000" stroke="#000" stroke-width="0.12">Peak height</text>
<text x="69.15" y="541.50" font-size="6.2" text-anchor="middle" fill="#000" >Phosphocreatine</text>
<rect x="45.5" y="587.8" width="5.25" height="2.9" fill="#a6a6a6" stroke="#1a1a1a" stroke-width="0.8"/>
<line x1="48.12" y1="586.77" x2="48.12" y2="588.83" stroke="#1a1a1a" stroke-width="0.6"/>
<line x1="46.8" y1="586.77" x2="49.45" y2="586.77" stroke="#1a1a1a" stroke-width="0.6"/>
<circle cx="48.23" cy="587.18" r="1.05" fill="#2e2e2e"/>
<circle cx="47.91" cy="586.95" r="1.05" fill="#2e2e2e"/>
<circle cx="47.76" cy="589.04" r="1.05" fill="#2e2e2e"/>
<rect x="51.15" y="582.2" width="5.25" height="8.5" fill="#e59597" stroke="#1a1a1a" stroke-width="0.8"/>
<line x1="53.77" y1="580.72" x2="53.77" y2="583.68" stroke="#1a1a1a" stroke-width="0.6"/>
<line x1="52.45" y1="580.72" x2="55.1" y2="580.72" stroke="#1a1a1a" stroke-width="0.6"/>
<circle cx="54.32" cy="582.07" r="1.05" fill="#8c1c1c"/>
<circle cx="53.40" cy="580.05" r="1.05" fill="#8c1c1c"/>
<circle cx="54.09" cy="584.98" r="1.05" fill="#8c1c1c"/>
<rect x="56.8" y="584.9" width="5.25" height="5.8" fill="#89a8dd" stroke="#1a1a1a" stroke-width="0.8"/>
<line x1="59.42" y1="583.64" x2="59.42" y2="586.16" stroke="#1a1a1a" stroke-width="0.6"/>
<line x1="58.1" y1="583.64" x2="60.75" y2="583.64" stroke="#1a1a1a" stroke-width="0.6"/>
<circle cx="59.48" cy="583.61" r="1.05" fill="#1c3c8c"/>
<circle cx="59.01" cy="584.15" r="1.05" fill="#1c3c8c"/>
<circle cx="59.39" cy="582.95" r="1.05" fill="#1c3c8c"/>
<rect x="62.45" y="581.9" width="5.25" height="8.8" fill="#80bfae" stroke="#1a1a1a" stroke-width="0.8"/>
<line x1="65.07" y1="580.4" x2="65.07" y2="583.4" stroke="#1a1a1a" stroke-width="0.6"/>
<line x1="63.75" y1="580.4" x2="66.4" y2="580.4" stroke="#1a1a1a" stroke-width="0.6"/>
<circle cx="64.89" cy="581.90" r="1.05" fill="#0e5a48"/>
<circle cx="64.65" cy="581.37" r="1.05" fill="#0e5a48"/>
<circle cx="64.90" cy="580.20" r="1.05" fill="#0e5a48"/>
<rect x="70.6" y="587.5" width="5.25" height="3.2" fill="#a6a6a6" stroke="#1a1a1a" stroke-width="0.8"/>
<line x1="73.22" y1="586.44" x2="73.22" y2="588.56" stroke="#1a1a1a" stroke-width="0.6"/>
<line x1="71.9" y1="586.44" x2="74.55" y2="586.44" stroke="#1a1a1a" stroke-width="0.6"/>
<circle cx="73.04" cy="587.88" r="1.05" fill="#2e2e2e"/>
<circle cx="73.67" cy="588.72" r="1.05" fill="#2e2e2e"/>
<circle cx="73.99" cy="586.42" r="1.05" fill="#2e2e2e"/>
<rect x="76.25" y="576.1" width="5.25" height="14.6" fill="#e59597" stroke="#1a1a1a" stroke-width="0.8"/>
<line x1="78.87" y1="574.13" x2="78.87" y2="578.07" stroke="#1a1a1a" stroke-width="0.6"/>
<line x1="77.55" y1="574.13" x2="80.2" y2="574.13" stroke="#1a1a1a" stroke-width="0.6"/>
<circle cx="78.24" cy="577.17" r="1.05" fill="#8c1c1c"/>
<circle cx="79.27" cy="580.53" r="1.05" fill="#8c1c1c"/>
<circle cx="78.23" cy="577.13" r="1.05" fill="#8c1c1c"/>
<rect x="81.9" y="575.4" width="5.25" height="15.3" fill="#89a8dd" stroke="#1a1a1a" stroke-width="0.8"/>
<line x1="84.52" y1="573.38" x2="84.52" y2="577.42" stroke="#1a1a1a" stroke-width="0.6"/>
<line x1="83.2" y1="573.38" x2="85.85" y2="573.38" stroke="#1a1a1a" stroke-width="0.6"/>
<circle cx="85.12" cy="574.38" r="1.05" fill="#1c3c8c"/>
<circle cx="85.25" cy="573.19" r="1.05" fill="#1c3c8c"/>
<circle cx="83.76" cy="573.66" r="1.05" fill="#1c3c8c"/>
<rect x="87.55" y="553" width="5.25" height="37.7" fill="#80bfae" stroke="#1a1a1a" stroke-width="0.8"/>
<line x1="90.17" y1="549.5" x2="90.17" y2="556.5" stroke="#1a1a1a" stroke-width="0.6"/>
<line x1="88.85" y1="549.5" x2="91.5" y2="549.5" stroke="#1a1a1a" stroke-width="0.6"/>
<circle cx="90.94" cy="562.03" r="1.05" fill="#0e5a48"/>
<circle cx="90.90" cy="556.59" r="1.05" fill="#0e5a48"/>
<circle cx="90.62" cy="548.82" r="1.05" fill="#0e5a48"/>
<polygon points="53.77,582.80 54.33,584.14 55.77,584.25 54.67,585.19 55.00,586.60 53.77,585.85 52.54,586.60 52.87,585.19 51.77,584.25 53.21,584.14" fill="#e8251f"/>
<polygon points="78.87,582.80 79.43,584.14 80.87,584.25 79.77,585.19 80.10,586.60 78.87,585.85 77.64,586.60 77.97,585.19 76.87,584.25 78.31,584.14" fill="#e8251f"/>
<polygon points="84.52,582.80 85.08,584.14 86.52,584.25 85.42,585.19 85.75,586.60 84.52,585.85 83.29,586.60 83.62,585.19 82.52,584.25 83.96,584.14" fill="#e8251f"/>
<polygon points="90.17,582.80 90.73,584.14 92.17,584.25 91.07,585.19 91.40,586.60 90.17,585.85 88.94,586.60 89.27,585.19 88.17,584.25 89.61,584.14" fill="#e8251f"/>
<line x1="41.3" y1="546.2" x2="41.3" y2="591.3" stroke="#222" stroke-width="1.25"/>
<line x1="40.7" y1="590.7" x2="97" y2="590.7" stroke="#222" stroke-width="1.25"/>
<line x1="39.7" y1="590.7" x2="41.3" y2="590.7" stroke="#333" stroke-width="0.5"/>
<text x="39.50" y="593.00" font-size="4.7" text-anchor="end" fill="#4d4d4d">0<tspan font-size="4.70" dx="1.03">×</tspan>10<tspan font-size="3.29" dy="-2.0">0</tspan></text>
<line x1="39.7" y1="574.4" x2="41.3" y2="574.4" stroke="#333" stroke-width="0.5"/>
<text x="39.50" y="576.70" font-size="4.7" text-anchor="end" fill="#4d4d4d">5<tspan font-size="4.70" dx="1.03">×</tspan>10<tspan font-size="3.29" dy="-2.0">4</tspan></text>
<line x1="39.7" y1="558.1" x2="41.3" y2="558.1" stroke="#333" stroke-width="0.5"/>
<text x="39.50" y="560.40" font-size="4.7" text-anchor="end" fill="#4d4d4d">1<tspan font-size="4.70" dx="1.03">×</tspan>10<tspan font-size="3.29" dy="-2.0">5</tspan></text>
<line x1="57" y1="590.7" x2="57" y2="592.2" stroke="#333" stroke-width="0.5"/>
<text x="57.00" y="597.60" font-size="6.0" text-anchor="middle" fill="#000" >1h</text>
<line x1="81.7" y1="590.7" x2="81.7" y2="592.2" stroke="#333" stroke-width="0.5"/>
<text x="81.70" y="597.60" font-size="6.0" text-anchor="middle" fill="#000" >24h</text>
<text transform="translate(23.55,568.75) rotate(-90)" font-size="5.6" text-anchor="middle" fill="#000" stroke="#000" stroke-width="0.12">Peak height</text>
<text x="168.35" y="541.50" font-size="6.2" text-anchor="middle" fill="#000" >Creatine</text>
<rect x="144.7" y="589" width="5.25" height="1.7" fill="#a6a6a6" stroke="#1a1a1a" stroke-width="0.8"/>
<circle cx="147.32" cy="589.80" r="0.8" fill="#2e2e2e"/>
<rect x="150.35" y="579.7" width="5.25" height="11" fill="#e59597" stroke="#1a1a1a" stroke-width="0.8"/>
<line x1="152.97" y1="578.02" x2="152.97" y2="581.38" stroke="#1a1a1a" stroke-width="0.6"/>
<line x1="151.65" y1="578.02" x2="154.3" y2="578.02" stroke="#1a1a1a" stroke-width="0.6"/>
<circle cx="153.49" cy="580.36" r="1.05" fill="#8c1c1c"/>
<circle cx="152.88" cy="577.40" r="1.05" fill="#8c1c1c"/>
<circle cx="153.70" cy="580.78" r="1.05" fill="#8c1c1c"/>
<rect x="156" y="586.3" width="5.25" height="4.4" fill="#89a8dd" stroke="#1a1a1a" stroke-width="0.8"/>
<line x1="158.62" y1="585.15" x2="158.62" y2="587.45" stroke="#1a1a1a" stroke-width="0.6"/>
<line x1="157.3" y1="585.15" x2="159.95" y2="585.15" stroke="#1a1a1a" stroke-width="0.6"/>
<circle cx="158.48" cy="588.39" r="1.05" fill="#1c3c8c"/>
<circle cx="158.85" cy="585.47" r="1.05" fill="#1c3c8c"/>
<circle cx="158.56" cy="587.33" r="1.05" fill="#1c3c8c"/>
<rect x="161.65" y="586.6" width="5.25" height="4.1" fill="#80bfae" stroke="#1a1a1a" stroke-width="0.8"/>
<line x1="164.27" y1="585.47" x2="164.27" y2="587.73" stroke="#1a1a1a" stroke-width="0.6"/>
<line x1="162.95" y1="585.47" x2="165.6" y2="585.47" stroke="#1a1a1a" stroke-width="0.6"/>
<circle cx="164.14" cy="588.04" r="1.05" fill="#0e5a48"/>
<circle cx="164.98" cy="585.40" r="1.05" fill="#0e5a48"/>
<circle cx="163.67" cy="586.65" r="1.05" fill="#0e5a48"/>
<rect x="169.8" y="587.8" width="5.25" height="2.9" fill="#a6a6a6" stroke="#1a1a1a" stroke-width="0.8"/>
<line x1="172.42" y1="586.77" x2="172.42" y2="588.83" stroke="#1a1a1a" stroke-width="0.6"/>
<line x1="171.1" y1="586.77" x2="173.75" y2="586.77" stroke="#1a1a1a" stroke-width="0.6"/>
<circle cx="172.95" cy="586.40" r="1.05" fill="#2e2e2e"/>
<circle cx="171.98" cy="586.53" r="1.05" fill="#2e2e2e"/>
<circle cx="172.60" cy="589.21" r="1.05" fill="#2e2e2e"/>
<rect x="175.45" y="576.1" width="5.25" height="14.6" fill="#e59597" stroke="#1a1a1a" stroke-width="0.8"/>
<line x1="178.07" y1="574.13" x2="178.07" y2="578.07" stroke="#1a1a1a" stroke-width="0.6"/>
<line x1="176.75" y1="574.13" x2="179.4" y2="574.13" stroke="#1a1a1a" stroke-width="0.6"/>
<circle cx="177.88" cy="574.72" r="1.05" fill="#8c1c1c"/>
<circle cx="178.05" cy="574.67" r="1.05" fill="#8c1c1c"/>
<circle cx="178.75" cy="578.52" r="1.05" fill="#8c1c1c"/>
<rect x="181.1" y="568.1" width="5.25" height="22.6" fill="#89a8dd" stroke="#1a1a1a" stroke-width="0.8"/>
<line x1="183.72" y1="565.49" x2="183.72" y2="570.71" stroke="#1a1a1a" stroke-width="0.6"/>
<line x1="182.4" y1="565.49" x2="185.05" y2="565.49" stroke="#1a1a1a" stroke-width="0.6"/>
<circle cx="183.46" cy="569.01" r="1.05" fill="#1c3c8c"/>
<circle cx="183.76" cy="564.87" r="1.05" fill="#1c3c8c"/>
<circle cx="184.07" cy="570.25" r="1.05" fill="#1c3c8c"/>
<rect x="186.75" y="552.7" width="5.25" height="38" fill="#80bfae" stroke="#1a1a1a" stroke-width="0.8"/>
<line x1="189.37" y1="549.2" x2="189.37" y2="556.2" stroke="#1a1a1a" stroke-width="0.6"/>
<line x1="188.05" y1="549.2" x2="190.7" y2="549.2" stroke="#1a1a1a" stroke-width="0.6"/>
<circle cx="189.55" cy="558.80" r="1.05" fill="#0e5a48"/>
<circle cx="189.32" cy="561.61" r="1.05" fill="#0e5a48"/>
<circle cx="189.21" cy="561.30" r="1.05" fill="#0e5a48"/>
<polygon points="152.97,582.50 153.53,583.84 154.97,583.95 153.87,584.89 154.20,586.30 152.97,585.55 151.74,586.30 152.07,584.89 150.97,583.95 152.41,583.84" fill="#e8251f"/>
<polygon points="178.07,582.50 178.63,583.84 180.07,583.95 178.97,584.89 179.30,586.30 178.07,585.55 176.84,586.30 177.17,584.89 176.07,583.95 177.51,583.84" fill="#e8251f"/>
<polygon points="183.72,582.50 184.28,583.84 185.72,583.95 184.62,584.89 184.95,586.30 183.72,585.55 182.49,586.30 182.82,584.89 181.72,583.95 183.16,583.84" fill="#e8251f"/>
<polygon points="189.37,582.50 189.93,583.84 191.37,583.95 190.27,584.89 190.60,586.30 189.37,585.55 188.14,586.30 188.47,584.89 187.37,583.95 188.81,583.84" fill="#e8251f"/>
<line x1="140.5" y1="546.2" x2="140.5" y2="591.3" stroke="#222" stroke-width="1.25"/>
<line x1="139.9" y1="590.7" x2="196.2" y2="590.7" stroke="#222" stroke-width="1.25"/>
<line x1="138.9" y1="590.7" x2="140.5" y2="590.7" stroke="#333" stroke-width="0.5"/>
<text x="138.70" y="593.00" font-size="4.7" text-anchor="end" fill="#4d4d4d">0<tspan font-size="4.70" dx="1.03">×</tspan>10<tspan font-size="3.29" dy="-2.0">0</tspan></text>
<line x1="138.9" y1="580.1" x2="140.5" y2="580.1" stroke="#333" stroke-width="0.5"/>
<text x="138.70" y="582.40" font-size="4.7" text-anchor="end" fill="#4d4d4d">2<tspan font-size="4.70" dx="1.03">×</tspan>10<tspan font-size="3.29" dy="-2.0">6</tspan></text>
<line x1="138.9" y1="569.5" x2="140.5" y2="569.5" stroke="#333" stroke-width="0.5"/>
<text x="138.70" y="571.80" font-size="4.7" text-anchor="end" fill="#4d4d4d">4<tspan font-size="4.70" dx="1.03">×</tspan>10<tspan font-size="3.29" dy="-2.0">6</tspan></text>
<line x1="138.9" y1="558.9" x2="140.5" y2="558.9" stroke="#333" stroke-width="0.5"/>
<text x="138.70" y="561.20" font-size="4.7" text-anchor="end" fill="#4d4d4d">6<tspan font-size="4.70" dx="1.03">×</tspan>10<tspan font-size="3.29" dy="-2.0">6</tspan></text>
<line x1="138.9" y1="548.3" x2="140.5" y2="548.3" stroke="#333" stroke-width="0.5"/>
<text x="138.70" y="550.60" font-size="4.7" text-anchor="end" fill="#4d4d4d">8<tspan font-size="4.70" dx="1.03">×</tspan>10<tspan font-size="3.29" dy="-2.0">6</tspan></text>
<line x1="156.2" y1="590.7" x2="156.2" y2="592.2" stroke="#333" stroke-width="0.5"/>
<text x="156.20" y="597.60" font-size="6.0" text-anchor="middle" fill="#000" >1h</text>
<line x1="180.9" y1="590.7" x2="180.9" y2="592.2" stroke="#333" stroke-width="0.5"/>
<text x="180.90" y="597.60" font-size="6.0" text-anchor="middle" fill="#000" >24h</text>
<text transform="translate(122.75,568.75) rotate(-90)" font-size="5.6" text-anchor="middle" fill="#000" stroke="#000" stroke-width="0.12">Peak height</text>
<text x="272.35" y="541.50" font-size="6.2" text-anchor="middle" fill="#000" >Glutamic acid</text>
<rect x="248.7" y="582.2" width="5.25" height="8.5" fill="#a6a6a6" stroke="#1a1a1a" stroke-width="0.8"/>
<line x1="251.32" y1="580.72" x2="251.32" y2="583.68" stroke="#1a1a1a" stroke-width="0.6"/>
<line x1="250" y1="580.72" x2="252.65" y2="580.72" stroke="#1a1a1a" stroke-width="0.6"/>
<circle cx="251.65" cy="580.72" r="1.05" fill="#2e2e2e"/>
<circle cx="251.82" cy="581.94" r="1.05" fill="#2e2e2e"/>
<circle cx="251.33" cy="582.56" r="1.05" fill="#2e2e2e"/>
<rect x="254.35" y="562.2" width="5.25" height="28.5" fill="#e59597" stroke="#1a1a1a" stroke-width="0.8"/>
<line x1="256.97" y1="559.12" x2="256.97" y2="565.28" stroke="#1a1a1a" stroke-width="0.6"/>
<line x1="255.65" y1="559.12" x2="258.3" y2="559.12" stroke="#1a1a1a" stroke-width="0.6"/>
<circle cx="257.77" cy="562.80" r="1.05" fill="#8c1c1c"/>
<circle cx="256.28" cy="564.29" r="1.05" fill="#8c1c1c"/>
<circle cx="257.66" cy="565.35" r="1.05" fill="#8c1c1c"/>
<rect x="260" y="562.2" width="5.25" height="28.5" fill="#89a8dd" stroke="#1a1a1a" stroke-width="0.8"/>
<line x1="262.62" y1="559.12" x2="262.62" y2="565.28" stroke="#1a1a1a" stroke-width="0.6"/>
<line x1="261.3" y1="559.12" x2="263.95" y2="559.12" stroke="#1a1a1a" stroke-width="0.6"/>
<circle cx="261.89" cy="568.23" r="1.05" fill="#1c3c8c"/>
<circle cx="262.14" cy="558.54" r="1.05" fill="#1c3c8c"/>
<circle cx="262.96" cy="559.47" r="1.05" fill="#1c3c8c"/>
<rect x="265.65" y="558.3" width="5.25" height="32.4" fill="#80bfae" stroke="#1a1a1a" stroke-width="0.8"/>
<line x1="268.27" y1="554.91" x2="268.27" y2="561.69" stroke="#1a1a1a" stroke-width="0.6"/>
<line x1="266.95" y1="554.91" x2="269.6" y2="554.91" stroke="#1a1a1a" stroke-width="0.6"/>
<circle cx="267.72" cy="564.41" r="1.05" fill="#0e5a48"/>
<circle cx="268.37" cy="555.18" r="1.05" fill="#0e5a48"/>
<circle cx="267.51" cy="554.06" r="1.05" fill="#0e5a48"/>
<rect x="273.8" y="574.9" width="5.25" height="15.8" fill="#a6a6a6" stroke="#1a1a1a" stroke-width="0.8"/>
<line x1="276.42" y1="572.84" x2="276.42" y2="576.96" stroke="#1a1a1a" stroke-width="0.6"/>
<line x1="275.1" y1="572.84" x2="277.75" y2="572.84" stroke="#1a1a1a" stroke-width="0.6"/>
<circle cx="277.03" cy="574.67" r="1.05" fill="#2e2e2e"/>
<circle cx="275.71" cy="575.30" r="1.05" fill="#2e2e2e"/>
<circle cx="276.97" cy="573.75" r="1.05" fill="#2e2e2e"/>
<rect x="279.45" y="554.2" width="5.25" height="36.5" fill="#e59597" stroke="#1a1a1a" stroke-width="0.8"/>
<line x1="282.07" y1="550.7" x2="282.07" y2="557.7" stroke="#1a1a1a" stroke-width="0.6"/>
<line x1="280.75" y1="550.7" x2="283.4" y2="550.7" stroke="#1a1a1a" stroke-width="0.6"/>
<circle cx="281.34" cy="554.08" r="1.05" fill="#8c1c1c"/>
<circle cx="281.42" cy="556.99" r="1.05" fill="#8c1c1c"/>
<circle cx="281.91" cy="562.37" r="1.05" fill="#8c1c1c"/>
<rect x="285.1" y="558.6" width="5.25" height="32.1" fill="#89a8dd" stroke="#1a1a1a" stroke-width="0.8"/>
<line x1="287.72" y1="555.23" x2="287.72" y2="561.97" stroke="#1a1a1a" stroke-width="0.6"/>
<line x1="286.4" y1="555.23" x2="289.05" y2="555.23" stroke="#1a1a1a" stroke-width="0.6"/>
<circle cx="287.13" cy="554.02" r="1.05" fill="#1c3c8c"/>
<circle cx="287.41" cy="556.25" r="1.05" fill="#1c3c8c"/>
<circle cx="287.31" cy="565.19" r="1.05" fill="#1c3c8c"/>
<rect x="290.75" y="553.2" width="5.25" height="37.5" fill="#80bfae" stroke="#1a1a1a" stroke-width="0.8"/>
<line x1="293.37" y1="549.7" x2="293.37" y2="556.7" stroke="#1a1a1a" stroke-width="0.6"/>
<line x1="292.05" y1="549.7" x2="294.7" y2="549.7" stroke="#1a1a1a" stroke-width="0.6"/>
<circle cx="293.27" cy="556.38" r="1.05" fill="#0e5a48"/>
<circle cx="293.45" cy="549.56" r="1.05" fill="#0e5a48"/>
<circle cx="292.57" cy="561.29" r="1.05" fill="#0e5a48"/>
<circle cx="282.07" cy="550.10" r="1.05" fill="#8c1c1c"/>
<polygon points="256.97,582.80 257.53,584.14 258.97,584.25 257.87,585.19 258.20,586.60 256.97,585.85 255.74,586.60 256.07,585.19 254.97,584.25 256.41,584.14" fill="#e8251f"/>
<polygon points="262.62,582.80 263.18,584.14 264.62,584.25 263.52,585.19 263.85,586.60 262.62,585.85 261.39,586.60 261.72,585.19 260.62,584.25 262.06,584.14" fill="#e8251f"/>
<polygon points="268.27,582.80 268.83,584.14 270.27,584.25 269.17,585.19 269.50,586.60 268.27,585.85 267.04,586.60 267.37,585.19 266.27,584.25 267.71,584.14" fill="#e8251f"/>
<polygon points="282.07,582.80 282.63,584.14 284.07,584.25 282.97,585.19 283.30,586.60 282.07,585.85 280.84,586.60 281.17,585.19 280.07,584.25 281.51,584.14" fill="#e8251f"/>
<polygon points="287.72,582.80 288.28,584.14 289.72,584.25 288.62,585.19 288.95,586.60 287.72,585.85 286.49,586.60 286.82,585.19 285.72,584.25 287.16,584.14" fill="#e8251f"/>
<polygon points="293.37,582.80 293.93,584.14 295.37,584.25 294.27,585.19 294.60,586.60 293.37,585.85 292.14,586.60 292.47,585.19 291.37,584.25 292.81,584.14" fill="#e8251f"/>
<line x1="244.5" y1="546.2" x2="244.5" y2="591.3" stroke="#222" stroke-width="1.25"/>
<line x1="243.9" y1="590.7" x2="300.2" y2="590.7" stroke="#222" stroke-width="1.25"/>
<line x1="242.9" y1="590.7" x2="244.5" y2="590.7" stroke="#333" stroke-width="0.5"/>
<text x="242.70" y="593.00" font-size="4.7" text-anchor="end" fill="#4d4d4d">0<tspan font-size="4.70" dx="1.03">×</tspan>10<tspan font-size="3.29" dy="-2.0">0</tspan></text>
<line x1="242.9" y1="580.8" x2="244.5" y2="580.8" stroke="#333" stroke-width="0.5"/>
<text x="242.70" y="583.10" font-size="4.7" text-anchor="end" fill="#4d4d4d">1<tspan font-size="4.70" dx="1.03">×</tspan>10<tspan font-size="3.29" dy="-2.0">7</tspan></text>
<line x1="242.9" y1="570.9" x2="244.5" y2="570.9" stroke="#333" stroke-width="0.5"/>
<text x="242.70" y="573.20" font-size="4.7" text-anchor="end" fill="#4d4d4d">2<tspan font-size="4.70" dx="1.03">×</tspan>10<tspan font-size="3.29" dy="-2.0">7</tspan></text>
<line x1="242.9" y1="561" x2="244.5" y2="561" stroke="#333" stroke-width="0.5"/>
<text x="242.70" y="563.30" font-size="4.7" text-anchor="end" fill="#4d4d4d">3<tspan font-size="4.70" dx="1.03">×</tspan>10<tspan font-size="3.29" dy="-2.0">7</tspan></text>
<line x1="242.9" y1="551.1" x2="244.5" y2="551.1" stroke="#333" stroke-width="0.5"/>
<text x="242.70" y="553.40" font-size="4.7" text-anchor="end" fill="#4d4d4d">4<tspan font-size="4.70" dx="1.03">×</tspan>10<tspan font-size="3.29" dy="-2.0">7</tspan></text>
<line x1="260.2" y1="590.7" x2="260.2" y2="592.2" stroke="#333" stroke-width="0.5"/>
<text x="260.20" y="597.60" font-size="6.0" text-anchor="middle" fill="#000" >1h</text>
<line x1="284.9" y1="590.7" x2="284.9" y2="592.2" stroke="#333" stroke-width="0.5"/>
<text x="284.90" y="597.60" font-size="6.0" text-anchor="middle" fill="#000" >24h</text>
<text transform="translate(226.75,568.75) rotate(-90)" font-size="5.6" text-anchor="middle" fill="#000" stroke="#000" stroke-width="0.12">Peak height</text>
<text x="367.45" y="541.50" font-size="6.2" text-anchor="middle" fill="#000" >Glutamine</text>
<rect x="343.8" y="583.1" width="5.25" height="7.6" fill="#a6a6a6" stroke="#1a1a1a" stroke-width="0.8"/>
<line x1="346.42" y1="581.69" x2="346.42" y2="584.51" stroke="#1a1a1a" stroke-width="0.6"/>
<line x1="345.1" y1="581.69" x2="347.75" y2="581.69" stroke="#1a1a1a" stroke-width="0.6"/>
<circle cx="346.63" cy="582.42" r="1.05" fill="#2e2e2e"/>
<circle cx="346.70" cy="583.49" r="1.05" fill="#2e2e2e"/>
<circle cx="346.33" cy="581.53" r="1.05" fill="#2e2e2e"/>
<rect x="349.45" y="569.1" width="5.25" height="21.6" fill="#e59597" stroke="#1a1a1a" stroke-width="0.8"/>
<line x1="352.07" y1="566.57" x2="352.07" y2="571.63" stroke="#1a1a1a" stroke-width="0.6"/>
<line x1="350.75" y1="566.57" x2="353.4" y2="566.57" stroke="#1a1a1a" stroke-width="0.6"/>
<circle cx="351.49" cy="573.82" r="1.05" fill="#8c1c1c"/>
<circle cx="352.05" cy="565.62" r="1.05" fill="#8c1c1c"/>
<circle cx="352.30" cy="575.43" r="1.05" fill="#8c1c1c"/>
<rect x="355.1" y="567.3" width="5.25" height="23.4" fill="#89a8dd" stroke="#1a1a1a" stroke-width="0.8"/>
<line x1="357.72" y1="564.63" x2="357.72" y2="569.97" stroke="#1a1a1a" stroke-width="0.6"/>
<line x1="356.4" y1="564.63" x2="359.05" y2="564.63" stroke="#1a1a1a" stroke-width="0.6"/>
<circle cx="358.48" cy="565.61" r="1.05" fill="#1c3c8c"/>
<circle cx="358.28" cy="573.12" r="1.05" fill="#1c3c8c"/>
<circle cx="358.48" cy="573.07" r="1.05" fill="#1c3c8c"/>
<rect x="360.75" y="559.3" width="5.25" height="31.4" fill="#80bfae" stroke="#1a1a1a" stroke-width="0.8"/>
<line x1="363.37" y1="555.99" x2="363.37" y2="562.61" stroke="#1a1a1a" stroke-width="0.6"/>
<line x1="362.05" y1="555.99" x2="364.7" y2="555.99" stroke="#1a1a1a" stroke-width="0.6"/>
<circle cx="363.19" cy="560.48" r="1.05" fill="#0e5a48"/>
<circle cx="363.91" cy="556.78" r="1.05" fill="#0e5a48"/>
<circle cx="362.62" cy="563.03" r="1.05" fill="#0e5a48"/>
<rect x="368.9" y="578.3" width="5.25" height="12.4" fill="#a6a6a6" stroke="#1a1a1a" stroke-width="0.8"/>
<line x1="371.52" y1="576.51" x2="371.52" y2="580.09" stroke="#1a1a1a" stroke-width="0.6"/>
<line x1="370.2" y1="576.51" x2="372.85" y2="576.51" stroke="#1a1a1a" stroke-width="0.6"/>
<circle cx="372.25" cy="579.96" r="1.05" fill="#2e2e2e"/>
<circle cx="372.19" cy="578.85" r="1.05" fill="#2e2e2e"/>
<circle cx="371.86" cy="580.39" r="1.05" fill="#2e2e2e"/>
<rect x="374.55" y="556.4" width="5.25" height="34.3" fill="#e59597" stroke="#1a1a1a" stroke-width="0.8"/>
<line x1="377.17" y1="552.9" x2="377.17" y2="559.9" stroke="#1a1a1a" stroke-width="0.6"/>
<line x1="375.85" y1="552.9" x2="378.5" y2="552.9" stroke="#1a1a1a" stroke-width="0.6"/>
<circle cx="377.56" cy="553.06" r="1.05" fill="#8c1c1c"/>
<circle cx="376.92" cy="563.71" r="1.05" fill="#8c1c1c"/>
<circle cx="377.55" cy="556.69" r="1.05" fill="#8c1c1c"/>
<rect x="380.2" y="555.4" width="5.25" height="35.3" fill="#89a8dd" stroke="#1a1a1a" stroke-width="0.8"/>
<line x1="382.82" y1="551.9" x2="382.82" y2="558.9" stroke="#1a1a1a" stroke-width="0.6"/>
<line x1="381.5" y1="551.9" x2="384.15" y2="551.9" stroke="#1a1a1a" stroke-width="0.6"/>
<circle cx="382.13" cy="562.40" r="1.05" fill="#1c3c8c"/>
<circle cx="383.12" cy="550.78" r="1.05" fill="#1c3c8c"/>
<circle cx="382.42" cy="552.86" r="1.05" fill="#1c3c8c"/>
<rect x="385.85" y="551.3" width="5.25" height="39.4" fill="#80bfae" stroke="#1a1a1a" stroke-width="0.8"/>
<line x1="388.47" y1="547.8" x2="388.47" y2="554.8" stroke="#1a1a1a" stroke-width="0.6"/>
<line x1="387.15" y1="547.8" x2="389.8" y2="547.8" stroke="#1a1a1a" stroke-width="0.6"/>
<circle cx="388.48" cy="559.12" r="1.05" fill="#0e5a48"/>
<circle cx="388.95" cy="549.71" r="1.05" fill="#0e5a48"/>
<circle cx="389.12" cy="552.56" r="1.05" fill="#0e5a48"/>
<polygon points="352.07,582.80 352.63,584.14 354.07,584.25 352.97,585.19 353.30,586.60 352.07,585.85 350.84,586.60 351.17,585.19 350.07,584.25 351.51,584.14" fill="#e8251f"/>
<polygon points="357.72,582.80 358.28,584.14 359.72,584.25 358.62,585.19 358.95,586.60 357.72,585.85 356.49,586.60 356.82,585.19 355.72,584.25 357.16,584.14" fill="#e8251f"/>
<polygon points="363.37,582.80 363.93,584.14 365.37,584.25 364.27,585.19 364.60,586.60 363.37,585.85 362.14,586.60 362.47,585.19 361.37,584.25 362.81,584.14" fill="#e8251f"/>
<polygon points="377.17,582.80 377.73,584.14 379.17,584.25 378.07,585.19 378.40,586.60 377.17,585.85 375.94,586.60 376.27,585.19 375.17,584.25 376.61,584.14" fill="#e8251f"/>
<polygon points="382.82,582.80 383.38,584.14 384.82,584.25 383.72,585.19 384.05,586.60 382.82,585.85 381.59,586.60 381.92,585.19 380.82,584.25 382.26,584.14" fill="#e8251f"/>
<polygon points="388.47,582.80 389.03,584.14 390.47,584.25 389.37,585.19 389.70,586.60 388.47,585.85 387.24,586.60 387.57,585.19 386.47,584.25 387.91,584.14" fill="#e8251f"/>
<line x1="339.6" y1="546.2" x2="339.6" y2="591.3" stroke="#222" stroke-width="1.25"/>
<line x1="339" y1="590.7" x2="395.3" y2="590.7" stroke="#222" stroke-width="1.25"/>
<line x1="338" y1="590.7" x2="339.6" y2="590.7" stroke="#333" stroke-width="0.5"/>
<text x="337.80" y="593.00" font-size="4.7" text-anchor="end" fill="#4d4d4d">0<tspan font-size="4.70" dx="1.03">×</tspan>10<tspan font-size="3.29" dy="-2.0">0</tspan></text>
<line x1="338" y1="578.8" x2="339.6" y2="578.8" stroke="#333" stroke-width="0.5"/>
<text x="337.80" y="581.10" font-size="4.7" text-anchor="end" fill="#4d4d4d">1<tspan font-size="4.70" dx="1.03">×</tspan>10<tspan font-size="3.29" dy="-2.0">7</tspan></text>
<line x1="338" y1="566.9" x2="339.6" y2="566.9" stroke="#333" stroke-width="0.5"/>
<text x="337.80" y="569.20" font-size="4.7" text-anchor="end" fill="#4d4d4d">2<tspan font-size="4.70" dx="1.03">×</tspan>10<tspan font-size="3.29" dy="-2.0">7</tspan></text>
<line x1="338" y1="555" x2="339.6" y2="555" stroke="#333" stroke-width="0.5"/>
<text x="337.80" y="557.30" font-size="4.7" text-anchor="end" fill="#4d4d4d">3<tspan font-size="4.70" dx="1.03">×</tspan>10<tspan font-size="3.29" dy="-2.0">7</tspan></text>
<line x1="355.3" y1="590.7" x2="355.3" y2="592.2" stroke="#333" stroke-width="0.5"/>
<text x="355.30" y="597.60" font-size="6.0" text-anchor="middle" fill="#000" >1h</text>
<line x1="380" y1="590.7" x2="380" y2="592.2" stroke="#333" stroke-width="0.5"/>
<text x="380.00" y="597.60" font-size="6.0" text-anchor="middle" fill="#000" >24h</text>
<text transform="translate(321.85,568.75) rotate(-90)" font-size="5.6" text-anchor="middle" fill="#000" stroke="#000" stroke-width="0.12">Peak height</text>
<text x="557.05" y="541.70" font-size="6.2" text-anchor="middle" fill="#000" >Malic acid</text>
<rect x="533.4" y="585.5" width="5.25" height="4.8" fill="#a6a6a6" stroke="#1a1a1a" stroke-width="0.8"/>
<line x1="536.02" y1="584.32" x2="536.02" y2="586.68" stroke="#1a1a1a" stroke-width="0.6"/>
<line x1="534.7" y1="584.32" x2="537.35" y2="584.32" stroke="#1a1a1a" stroke-width="0.6"/>
<circle cx="535.71" cy="585.73" r="1.05" fill="#2e2e2e"/>
<circle cx="536.78" cy="587.78" r="1.05" fill="#2e2e2e"/>
<circle cx="536.53" cy="585.99" r="1.05" fill="#2e2e2e"/>
<rect x="539.05" y="572.8" width="5.25" height="17.5" fill="#e59597" stroke="#1a1a1a" stroke-width="0.8"/>
<line x1="541.67" y1="570.6" x2="541.67" y2="575" stroke="#1a1a1a" stroke-width="0.6"/>
<line x1="540.35" y1="570.6" x2="543" y2="570.6" stroke="#1a1a1a" stroke-width="0.6"/>
<circle cx="541.72" cy="573.54" r="1.05" fill="#8c1c1c"/>
<circle cx="541.26" cy="570.28" r="1.05" fill="#8c1c1c"/>
<circle cx="540.89" cy="572.94" r="1.05" fill="#8c1c1c"/>
<rect x="544.7" y="573.1" width="5.25" height="17.2" fill="#89a8dd" stroke="#1a1a1a" stroke-width="0.8"/>
<line x1="547.32" y1="570.92" x2="547.32" y2="575.28" stroke="#1a1a1a" stroke-width="0.6"/>
<line x1="546" y1="570.92" x2="548.65" y2="570.92" stroke="#1a1a1a" stroke-width="0.6"/>
<circle cx="547.26" cy="572.25" r="1.05" fill="#1c3c8c"/>
<circle cx="547.05" cy="571.38" r="1.05" fill="#1c3c8c"/>
<circle cx="547.85" cy="577.74" r="1.05" fill="#1c3c8c"/>
<rect x="550.35" y="569.4" width="5.25" height="20.9" fill="#80bfae" stroke="#1a1a1a" stroke-width="0.8"/>
<line x1="552.97" y1="566.93" x2="552.97" y2="571.87" stroke="#1a1a1a" stroke-width="0.6"/>
<line x1="551.65" y1="566.93" x2="554.3" y2="566.93" stroke="#1a1a1a" stroke-width="0.6"/>
<circle cx="553.64" cy="567.59" r="1.05" fill="#0e5a48"/>
<circle cx="553.41" cy="566.59" r="1.05" fill="#0e5a48"/>
<circle cx="553.17" cy="575.68" r="1.05" fill="#0e5a48"/>
<rect x="558.5" y="574.1" width="5.25" height="16.2" fill="#a6a6a6" stroke="#1a1a1a" stroke-width="0.8"/>
<line x1="561.12" y1="572" x2="561.12" y2="576.2" stroke="#1a1a1a" stroke-width="0.6"/>
<line x1="559.8" y1="572" x2="562.45" y2="572" stroke="#1a1a1a" stroke-width="0.6"/>
<circle cx="561.67" cy="574.37" r="1.05" fill="#2e2e2e"/>
<circle cx="561.50" cy="578.31" r="1.05" fill="#2e2e2e"/>
<circle cx="561.79" cy="574.63" r="1.05" fill="#2e2e2e"/>
<rect x="564.15" y="564.3" width="5.25" height="26" fill="#e59597" stroke="#1a1a1a" stroke-width="0.8"/>
<line x1="566.77" y1="561.42" x2="566.77" y2="567.18" stroke="#1a1a1a" stroke-width="0.6"/>
<line x1="565.45" y1="561.42" x2="568.1" y2="561.42" stroke="#1a1a1a" stroke-width="0.6"/>
<circle cx="567.39" cy="562.71" r="1.05" fill="#8c1c1c"/>
<circle cx="566.82" cy="561.16" r="1.05" fill="#8c1c1c"/>
<circle cx="567.44" cy="566.94" r="1.05" fill="#8c1c1c"/>
<rect x="569.8" y="552.6" width="5.25" height="37.7" fill="#89a8dd" stroke="#1a1a1a" stroke-width="0.8"/>
<line x1="572.42" y1="549.1" x2="572.42" y2="556.1" stroke="#1a1a1a" stroke-width="0.6"/>
<line x1="571.1" y1="549.1" x2="573.75" y2="549.1" stroke="#1a1a1a" stroke-width="0.6"/>
<circle cx="572.55" cy="554.92" r="1.05" fill="#1c3c8c"/>
<circle cx="572.10" cy="555.56" r="1.05" fill="#1c3c8c"/>
<circle cx="572.06" cy="549.27" r="1.05" fill="#1c3c8c"/>
<rect x="575.45" y="568.4" width="5.25" height="21.9" fill="#80bfae" stroke="#1a1a1a" stroke-width="0.8"/>
<line x1="578.07" y1="565.85" x2="578.07" y2="570.95" stroke="#1a1a1a" stroke-width="0.6"/>
<line x1="576.75" y1="565.85" x2="579.4" y2="565.85" stroke="#1a1a1a" stroke-width="0.6"/>
<circle cx="577.40" cy="573.56" r="1.05" fill="#0e5a48"/>
<circle cx="578.76" cy="569.93" r="1.05" fill="#0e5a48"/>
<circle cx="578.21" cy="574.34" r="1.05" fill="#0e5a48"/>
<circle cx="572.42" cy="549.70" r="1.05" fill="#1c3c8c"/>
<polygon points="541.67,582.60 542.23,583.94 543.67,584.05 542.57,584.99 542.90,586.40 541.67,585.65 540.44,586.40 540.77,584.99 539.67,584.05 541.11,583.94" fill="#e8251f"/>
<polygon points="547.32,582.60 547.88,583.94 549.32,584.05 548.22,584.99 548.55,586.40 547.32,585.65 546.09,586.40 546.42,584.99 545.32,584.05 546.76,583.94" fill="#e8251f"/>
<polygon points="552.97,582.60 553.53,583.94 554.97,584.05 553.87,584.99 554.20,586.40 552.97,585.65 551.74,586.40 552.07,584.99 550.97,584.05 552.41,583.94" fill="#e8251f"/>
<polygon points="566.77,582.60 567.33,583.94 568.77,584.05 567.67,584.99 568.00,586.40 566.77,585.65 565.54,586.40 565.87,584.99 564.77,584.05 566.21,583.94" fill="#e8251f"/>
<polygon points="572.42,582.60 572.98,583.94 574.42,584.05 573.32,584.99 573.65,586.40 572.42,585.65 571.19,586.40 571.52,584.99 570.42,584.05 571.86,583.94" fill="#e8251f"/>
<polygon points="578.07,582.60 578.63,583.94 580.07,584.05 578.97,584.99 579.30,586.40 578.07,585.65 576.84,586.40 577.17,584.99 576.07,584.05 577.51,583.94" fill="#e8251f"/>
<line x1="529.2" y1="546.1" x2="529.2" y2="590.9" stroke="#222" stroke-width="1.25"/>
<line x1="528.6" y1="590.3" x2="584.9" y2="590.3" stroke="#222" stroke-width="1.25"/>
<line x1="527.6" y1="590.3" x2="529.2" y2="590.3" stroke="#333" stroke-width="0.5"/>
<text x="527.40" y="592.60" font-size="4.7" text-anchor="end" fill="#4d4d4d">0<tspan font-size="4.70" dx="1.03">×</tspan>10<tspan font-size="3.29" dy="-2.0">0</tspan></text>
<line x1="527.6" y1="578.7" x2="529.2" y2="578.7" stroke="#333" stroke-width="0.5"/>
<text x="527.40" y="581.00" font-size="4.7" text-anchor="end" fill="#4d4d4d">2<tspan font-size="4.70" dx="1.03">×</tspan>10<tspan font-size="3.29" dy="-2.0">5</tspan></text>
<line x1="527.6" y1="567.1" x2="529.2" y2="567.1" stroke="#333" stroke-width="0.5"/>
<text x="527.40" y="569.40" font-size="4.7" text-anchor="end" fill="#4d4d4d">4<tspan font-size="4.70" dx="1.03">×</tspan>10<tspan font-size="3.29" dy="-2.0">5</tspan></text>
<line x1="527.6" y1="555.5" x2="529.2" y2="555.5" stroke="#333" stroke-width="0.5"/>
<text x="527.40" y="557.80" font-size="4.7" text-anchor="end" fill="#4d4d4d">6<tspan font-size="4.70" dx="1.03">×</tspan>10<tspan font-size="3.29" dy="-2.0">5</tspan></text>
<line x1="544.9" y1="590.3" x2="544.9" y2="591.8" stroke="#333" stroke-width="0.5"/>
<text x="544.90" y="597.20" font-size="6.0" text-anchor="middle" fill="#000" >1h</text>
<line x1="569.6" y1="590.3" x2="569.6" y2="591.8" stroke="#333" stroke-width="0.5"/>
<text x="569.60" y="597.20" font-size="6.0" text-anchor="middle" fill="#000" >24h</text>
<text transform="translate(511.45,568.50) rotate(-90)" font-size="5.6" text-anchor="middle" fill="#000" stroke="#000" stroke-width="0.12">Peak height</text>
<text x="459.85" y="578.80" font-size="6.2" text-anchor="middle" fill="#000" >Succinic acid</text>
<rect x="436.2" y="627.7" width="5.25" height="0.7" fill="#a6a6a6" stroke="#1a1a1a" stroke-width="0.8"/>
<circle cx="438.82" cy="627.50" r="0.8" fill="#2e2e2e"/>
<rect x="441.85" y="625.9" width="5.25" height="2.5" fill="#e59597" stroke="#1a1a1a" stroke-width="0.8"/>
<circle cx="444.47" cy="627.50" r="0.8" fill="#8c1c1c"/>
<rect x="447.5" y="626.6" width="5.25" height="1.8" fill="#89a8dd" stroke="#1a1a1a" stroke-width="0.8"/>
<circle cx="450.12" cy="627.50" r="0.8" fill="#1c3c8c"/>
<rect x="453.15" y="626.6" width="5.25" height="1.8" fill="#80bfae" stroke="#1a1a1a" stroke-width="0.8"/>
<circle cx="455.77" cy="627.50" r="0.8" fill="#0e5a48"/>
<rect x="461.3" y="627.4" width="5.25" height="1" fill="#a6a6a6" stroke="#1a1a1a" stroke-width="0.8"/>
<circle cx="463.92" cy="627.50" r="0.8" fill="#2e2e2e"/>
<rect x="466.95" y="600.7" width="5.25" height="27.7" fill="#e59597" stroke="#1a1a1a" stroke-width="0.8"/>
<line x1="469.57" y1="597.68" x2="469.57" y2="603.72" stroke="#1a1a1a" stroke-width="0.6"/>
<line x1="468.25" y1="597.68" x2="470.9" y2="597.68" stroke="#1a1a1a" stroke-width="0.6"/>
<circle cx="469.81" cy="605.83" r="1.05" fill="#8c1c1c"/>
<circle cx="469.72" cy="603.93" r="1.05" fill="#8c1c1c"/>
<circle cx="469.58" cy="599.31" r="1.05" fill="#8c1c1c"/>
<rect x="472.6" y="606.5" width="5.25" height="21.9" fill="#89a8dd" stroke="#1a1a1a" stroke-width="0.8"/>
<line x1="475.22" y1="603.95" x2="475.22" y2="609.05" stroke="#1a1a1a" stroke-width="0.6"/>
<line x1="473.9" y1="603.95" x2="476.55" y2="603.95" stroke="#1a1a1a" stroke-width="0.6"/>
<circle cx="474.77" cy="610.18" r="1.05" fill="#1c3c8c"/>
<circle cx="475.15" cy="611.12" r="1.05" fill="#1c3c8c"/>
<circle cx="475.23" cy="603.02" r="1.05" fill="#1c3c8c"/>
<rect x="478.25" y="589.7" width="5.25" height="38.7" fill="#80bfae" stroke="#1a1a1a" stroke-width="0.8"/>
<line x1="480.87" y1="586.2" x2="480.87" y2="593.2" stroke="#1a1a1a" stroke-width="0.6"/>
<line x1="479.55" y1="586.2" x2="482.2" y2="586.2" stroke="#1a1a1a" stroke-width="0.6"/>
<circle cx="480.78" cy="598.51" r="1.05" fill="#0e5a48"/>
<circle cx="481.44" cy="597.49" r="1.05" fill="#0e5a48"/>
<circle cx="480.87" cy="585.62" r="1.05" fill="#0e5a48"/>
<polygon points="444.47,619.70 445.03,621.04 446.47,621.15 445.37,622.09 445.70,623.50 444.47,622.75 443.24,623.50 443.57,622.09 442.47,621.15 443.91,621.04" fill="#e8251f"/>
<polygon points="450.12,619.70 450.68,621.04 452.12,621.15 451.02,622.09 451.35,623.50 450.12,622.75 448.89,623.50 449.22,622.09 448.12,621.15 449.56,621.04" fill="#e8251f"/>
<polygon points="455.77,619.70 456.33,621.04 457.77,621.15 456.67,622.09 457.00,623.50 455.77,622.75 454.54,623.50 454.87,622.09 453.77,621.15 455.21,621.04" fill="#e8251f"/>
<polygon points="469.57,619.70 470.13,621.04 471.57,621.15 470.47,622.09 470.80,623.50 469.57,622.75 468.34,623.50 468.67,622.09 467.57,621.15 469.01,621.04" fill="#e8251f"/>
<polygon points="475.22,619.70 475.78,621.04 477.22,621.15 476.12,622.09 476.45,623.50 475.22,622.75 473.99,623.50 474.32,622.09 473.22,621.15 474.66,621.04" fill="#e8251f"/>
<polygon points="480.87,619.70 481.43,621.04 482.87,621.15 481.77,622.09 482.10,623.50 480.87,622.75 479.64,623.50 479.97,622.09 478.87,621.15 480.31,621.04" fill="#e8251f"/>
<line x1="432" y1="583.9" x2="432" y2="629" stroke="#222" stroke-width="1.25"/>
<line x1="431.4" y1="628.4" x2="487.7" y2="628.4" stroke="#222" stroke-width="1.25"/>
<line x1="430.4" y1="628.4" x2="432" y2="628.4" stroke="#333" stroke-width="0.5"/>
<text x="430.20" y="630.70" font-size="4.7" text-anchor="end" fill="#4d4d4d">0<tspan font-size="4.70" dx="1.03">×</tspan>10<tspan font-size="3.29" dy="-2.0">0</tspan></text>
<line x1="430.4" y1="620.4" x2="432" y2="620.4" stroke="#333" stroke-width="0.5"/>
<text x="430.20" y="622.70" font-size="4.7" text-anchor="end" fill="#4d4d4d">1<tspan font-size="4.70" dx="1.03">×</tspan>10<tspan font-size="3.29" dy="-2.0">5</tspan></text>
<line x1="430.4" y1="612.4" x2="432" y2="612.4" stroke="#333" stroke-width="0.5"/>
<text x="430.20" y="614.70" font-size="4.7" text-anchor="end" fill="#4d4d4d">2<tspan font-size="4.70" dx="1.03">×</tspan>10<tspan font-size="3.29" dy="-2.0">5</tspan></text>
<line x1="430.4" y1="604.4" x2="432" y2="604.4" stroke="#333" stroke-width="0.5"/>
<text x="430.20" y="606.70" font-size="4.7" text-anchor="end" fill="#4d4d4d">3<tspan font-size="4.70" dx="1.03">×</tspan>10<tspan font-size="3.29" dy="-2.0">5</tspan></text>
<line x1="430.4" y1="596.4" x2="432" y2="596.4" stroke="#333" stroke-width="0.5"/>
<text x="430.20" y="598.70" font-size="4.7" text-anchor="end" fill="#4d4d4d">4<tspan font-size="4.70" dx="1.03">×</tspan>10<tspan font-size="3.29" dy="-2.0">5</tspan></text>
<line x1="430.4" y1="588.4" x2="432" y2="588.4" stroke="#333" stroke-width="0.5"/>
<text x="430.20" y="590.70" font-size="4.7" text-anchor="end" fill="#4d4d4d">5<tspan font-size="4.70" dx="1.03">×</tspan>10<tspan font-size="3.29" dy="-2.0">5</tspan></text>
<line x1="447.7" y1="628.4" x2="447.7" y2="629.9" stroke="#333" stroke-width="0.5"/>
<text x="447.70" y="635.30" font-size="6.0" text-anchor="middle" fill="#000" >1h</text>
<line x1="472.4" y1="628.4" x2="472.4" y2="629.9" stroke="#333" stroke-width="0.5"/>
<text x="472.40" y="635.30" font-size="6.0" text-anchor="middle" fill="#000" >24h</text>
<text transform="translate(414.25,606.45) rotate(-90)" font-size="5.6" text-anchor="middle" fill="#000" stroke="#000" stroke-width="0.12">Peak height</text>
<text x="654.35" y="578.60" font-size="6.2" text-anchor="middle" fill="#000" >Citric acid</text>
<rect x="630.7" y="624.1" width="5.25" height="4.2" fill="#a6a6a6" stroke="#1a1a1a" stroke-width="0.8"/>
<line x1="633.32" y1="622.96" x2="633.32" y2="625.24" stroke="#1a1a1a" stroke-width="0.6"/>
<line x1="632" y1="622.96" x2="634.65" y2="622.96" stroke="#1a1a1a" stroke-width="0.6"/>
<circle cx="633.02" cy="624.91" r="1.05" fill="#2e2e2e"/>
<circle cx="633.94" cy="624.26" r="1.05" fill="#2e2e2e"/>
<circle cx="634.08" cy="622.81" r="1.05" fill="#2e2e2e"/>
<rect x="636.35" y="615.8" width="5.25" height="12.5" fill="#e59597" stroke="#1a1a1a" stroke-width="0.8"/>
<line x1="638.97" y1="614" x2="638.97" y2="617.6" stroke="#1a1a1a" stroke-width="0.6"/>
<line x1="637.65" y1="614" x2="640.3" y2="614" stroke="#1a1a1a" stroke-width="0.6"/>
<circle cx="638.72" cy="615.27" r="1.05" fill="#8c1c1c"/>
<circle cx="638.99" cy="617.85" r="1.05" fill="#8c1c1c"/>
<circle cx="639.60" cy="617.35" r="1.05" fill="#8c1c1c"/>
<rect x="642" y="615.5" width="5.25" height="12.8" fill="#89a8dd" stroke="#1a1a1a" stroke-width="0.8"/>
<line x1="644.62" y1="613.68" x2="644.62" y2="617.32" stroke="#1a1a1a" stroke-width="0.6"/>
<line x1="643.3" y1="613.68" x2="645.95" y2="613.68" stroke="#1a1a1a" stroke-width="0.6"/>
<circle cx="643.83" cy="618.62" r="1.05" fill="#1c3c8c"/>
<circle cx="644.77" cy="620.19" r="1.05" fill="#1c3c8c"/>
<circle cx="644.25" cy="615.98" r="1.05" fill="#1c3c8c"/>
<rect x="647.65" y="613.7" width="5.25" height="14.6" fill="#80bfae" stroke="#1a1a1a" stroke-width="0.8"/>
<line x1="650.27" y1="611.73" x2="650.27" y2="615.67" stroke="#1a1a1a" stroke-width="0.6"/>
<line x1="648.95" y1="611.73" x2="651.6" y2="611.73" stroke="#1a1a1a" stroke-width="0.6"/>
<circle cx="650.12" cy="614.98" r="1.05" fill="#0e5a48"/>
<circle cx="650.20" cy="612.32" r="1.05" fill="#0e5a48"/>
<circle cx="649.66" cy="618.63" r="1.05" fill="#0e5a48"/>
<rect x="655.8" y="618.5" width="5.25" height="9.8" fill="#a6a6a6" stroke="#1a1a1a" stroke-width="0.8"/>
<line x1="658.42" y1="616.92" x2="658.42" y2="620.08" stroke="#1a1a1a" stroke-width="0.6"/>
<line x1="657.1" y1="616.92" x2="659.75" y2="616.92" stroke="#1a1a1a" stroke-width="0.6"/>
<circle cx="658.44" cy="620.78" r="1.05" fill="#2e2e2e"/>
<circle cx="658.76" cy="621.86" r="1.05" fill="#2e2e2e"/>
<circle cx="658.02" cy="616.72" r="1.05" fill="#2e2e2e"/>
<rect x="661.45" y="590.1" width="5.25" height="38.2" fill="#e59597" stroke="#1a1a1a" stroke-width="0.8"/>
<line x1="664.07" y1="586.6" x2="664.07" y2="593.6" stroke="#1a1a1a" stroke-width="0.6"/>
<line x1="662.75" y1="586.6" x2="665.4" y2="586.6" stroke="#1a1a1a" stroke-width="0.6"/>
<circle cx="664.85" cy="587.47" r="1.05" fill="#8c1c1c"/>
<circle cx="664.54" cy="590.48" r="1.05" fill="#8c1c1c"/>
<circle cx="664.50" cy="593.78" r="1.05" fill="#8c1c1c"/>
<rect x="667.1" y="611.3" width="5.25" height="17" fill="#89a8dd" stroke="#1a1a1a" stroke-width="0.8"/>
<line x1="669.72" y1="609.14" x2="669.72" y2="613.46" stroke="#1a1a1a" stroke-width="0.6"/>
<line x1="668.4" y1="609.14" x2="671.05" y2="609.14" stroke="#1a1a1a" stroke-width="0.6"/>
<circle cx="669.09" cy="608.58" r="1.05" fill="#1c3c8c"/>
<circle cx="669.81" cy="613.86" r="1.05" fill="#1c3c8c"/>
<circle cx="669.36" cy="611.37" r="1.05" fill="#1c3c8c"/>
<rect x="672.75" y="591.5" width="5.25" height="36.8" fill="#80bfae" stroke="#1a1a1a" stroke-width="0.8"/>
<line x1="675.37" y1="588" x2="675.37" y2="595" stroke="#1a1a1a" stroke-width="0.6"/>
<line x1="674.05" y1="588" x2="676.7" y2="588" stroke="#1a1a1a" stroke-width="0.6"/>
<circle cx="675.83" cy="598.22" r="1.05" fill="#0e5a48"/>
<circle cx="674.99" cy="597.10" r="1.05" fill="#0e5a48"/>
<circle cx="676.14" cy="593.74" r="1.05" fill="#0e5a48"/>
<polygon points="638.97,619.90 639.53,621.24 640.97,621.35 639.87,622.29 640.20,623.70 638.97,622.95 637.74,623.70 638.07,622.29 636.97,621.35 638.41,621.24" fill="#e8251f"/>
<polygon points="644.62,619.90 645.18,621.24 646.62,621.35 645.52,622.29 645.85,623.70 644.62,622.95 643.39,623.70 643.72,622.29 642.62,621.35 644.06,621.24" fill="#e8251f"/>
<polygon points="650.27,619.90 650.83,621.24 652.27,621.35 651.17,622.29 651.50,623.70 650.27,622.95 649.04,623.70 649.37,622.29 648.27,621.35 649.71,621.24" fill="#e8251f"/>
<polygon points="664.07,619.90 664.63,621.24 666.07,621.35 664.97,622.29 665.30,623.70 664.07,622.95 662.84,623.70 663.17,622.29 662.07,621.35 663.51,621.24" fill="#e8251f"/>
<polygon points="669.72,619.90 670.28,621.24 671.72,621.35 670.62,622.29 670.95,623.70 669.72,622.95 668.49,623.70 668.82,622.29 667.72,621.35 669.16,621.24" fill="#e8251f"/>
<polygon points="675.37,619.90 675.93,621.24 677.37,621.35 676.27,622.29 676.60,623.70 675.37,622.95 674.14,623.70 674.47,622.29 673.37,621.35 674.81,621.24" fill="#e8251f"/>
<line x1="626.5" y1="583.9" x2="626.5" y2="628.9" stroke="#222" stroke-width="1.25"/>
<line x1="625.9" y1="628.3" x2="682.2" y2="628.3" stroke="#222" stroke-width="1.25"/>
<line x1="624.9" y1="628.3" x2="626.5" y2="628.3" stroke="#333" stroke-width="0.5"/>
<text x="624.70" y="630.60" font-size="4.7" text-anchor="end" fill="#4d4d4d">0<tspan font-size="4.70" dx="1.03">×</tspan>10<tspan font-size="3.29" dy="-2.0">0</tspan></text>
<line x1="624.9" y1="615.5" x2="626.5" y2="615.5" stroke="#333" stroke-width="0.5"/>
<text x="624.70" y="617.80" font-size="4.7" text-anchor="end" fill="#4d4d4d">2<tspan font-size="4.70" dx="1.03">×</tspan>10<tspan font-size="3.29" dy="-2.0">5</tspan></text>
<line x1="624.9" y1="602.7" x2="626.5" y2="602.7" stroke="#333" stroke-width="0.5"/>
<text x="624.70" y="605.00" font-size="4.7" text-anchor="end" fill="#4d4d4d">4<tspan font-size="4.70" dx="1.03">×</tspan>10<tspan font-size="3.29" dy="-2.0">5</tspan></text>
<line x1="624.9" y1="589.9" x2="626.5" y2="589.9" stroke="#333" stroke-width="0.5"/>
<text x="624.70" y="592.20" font-size="4.7" text-anchor="end" fill="#4d4d4d">6<tspan font-size="4.70" dx="1.03">×</tspan>10<tspan font-size="3.29" dy="-2.0">5</tspan></text>
<line x1="642.2" y1="628.3" x2="642.2" y2="629.8" stroke="#333" stroke-width="0.5"/>
<text x="642.20" y="635.20" font-size="6.0" text-anchor="middle" fill="#000" >1h</text>
<line x1="666.9" y1="628.3" x2="666.9" y2="629.8" stroke="#333" stroke-width="0.5"/>
<text x="666.90" y="635.20" font-size="6.0" text-anchor="middle" fill="#000" >24h</text>
<text transform="translate(608.75,606.40) rotate(-90)" font-size="5.6" text-anchor="middle" fill="#000" stroke="#000" stroke-width="0.12">Peak height</text>
<text x="69.15" y="619.40" font-size="6.2" text-anchor="middle" fill="#000" >Ornithine</text>
<rect x="45.5" y="648.2" width="5.25" height="20.1" fill="#a6a6a6" stroke="#1a1a1a" stroke-width="0.8"/>
<line x1="48.12" y1="639.1" x2="48.12" y2="657.3" stroke="#1a1a1a" stroke-width="0.6"/>
<line x1="46.8" y1="639.1" x2="49.45" y2="639.1" stroke="#1a1a1a" stroke-width="0.6"/>
<circle cx="48.92" cy="643.18" r="1.05" fill="#2e2e2e"/>
<circle cx="47.60" cy="643.31" r="1.05" fill="#2e2e2e"/>
<circle cx="48.33" cy="659.17" r="1.05" fill="#2e2e2e"/>
<rect x="51.15" y="654.3" width="5.25" height="14" fill="#e59597" stroke="#1a1a1a" stroke-width="0.8"/>
<line x1="53.77" y1="650" x2="53.77" y2="658.6" stroke="#1a1a1a" stroke-width="0.6"/>
<line x1="52.45" y1="650" x2="55.1" y2="650" stroke="#1a1a1a" stroke-width="0.6"/>
<circle cx="53.67" cy="648.37" r="1.05" fill="#8c1c1c"/>
<circle cx="53.45" cy="654.00" r="1.05" fill="#8c1c1c"/>
<circle cx="53.64" cy="647.45" r="1.05" fill="#8c1c1c"/>
<rect x="56.8" y="654.3" width="5.25" height="14" fill="#89a8dd" stroke="#1a1a1a" stroke-width="0.8"/>
<line x1="59.42" y1="652.38" x2="59.42" y2="656.22" stroke="#1a1a1a" stroke-width="0.6"/>
<line x1="58.1" y1="652.38" x2="60.75" y2="652.38" stroke="#1a1a1a" stroke-width="0.6"/>
<circle cx="59.64" cy="653.39" r="1.05" fill="#1c3c8c"/>
<circle cx="58.99" cy="652.06" r="1.05" fill="#1c3c8c"/>
<circle cx="59.94" cy="658.21" r="1.05" fill="#1c3c8c"/>
<rect x="62.45" y="654.3" width="5.25" height="14" fill="#80bfae" stroke="#1a1a1a" stroke-width="0.8"/>
<line x1="65.07" y1="649.3" x2="65.07" y2="659.3" stroke="#1a1a1a" stroke-width="0.6"/>
<line x1="63.75" y1="649.3" x2="66.4" y2="649.3" stroke="#1a1a1a" stroke-width="0.6"/>
<circle cx="65.58" cy="650.38" r="1.05" fill="#0e5a48"/>
<circle cx="64.49" cy="652.28" r="1.05" fill="#0e5a48"/>
<circle cx="64.79" cy="655.52" r="1.05" fill="#0e5a48"/>
<rect x="70.6" y="654.3" width="5.25" height="14" fill="#a6a6a6" stroke="#1a1a1a" stroke-width="0.8"/>
<line x1="73.22" y1="652.38" x2="73.22" y2="656.22" stroke="#1a1a1a" stroke-width="0.6"/>
<line x1="71.9" y1="652.38" x2="74.55" y2="652.38" stroke="#1a1a1a" stroke-width="0.6"/>
<circle cx="72.56" cy="651.33" r="1.05" fill="#2e2e2e"/>
<circle cx="73.31" cy="657.79" r="1.05" fill="#2e2e2e"/>
<circle cx="73.82" cy="658.27" r="1.05" fill="#2e2e2e"/>
<rect x="76.25" y="657.4" width="5.25" height="10.9" fill="#e59597" stroke="#1a1a1a" stroke-width="0.8"/>
<line x1="78.87" y1="655.73" x2="78.87" y2="659.07" stroke="#1a1a1a" stroke-width="0.6"/>
<line x1="77.55" y1="655.73" x2="80.2" y2="655.73" stroke="#1a1a1a" stroke-width="0.6"/>
<circle cx="79.21" cy="656.92" r="1.05" fill="#8c1c1c"/>
<circle cx="78.21" cy="659.65" r="1.05" fill="#8c1c1c"/>
<circle cx="79.07" cy="659.80" r="1.05" fill="#8c1c1c"/>
<rect x="81.9" y="639.7" width="5.25" height="28.6" fill="#89a8dd" stroke="#1a1a1a" stroke-width="0.8"/>
<line x1="84.52" y1="636.61" x2="84.52" y2="642.79" stroke="#1a1a1a" stroke-width="0.6"/>
<line x1="83.2" y1="636.61" x2="85.85" y2="636.61" stroke="#1a1a1a" stroke-width="0.6"/>
<circle cx="83.96" cy="640.78" r="1.05" fill="#1c3c8c"/>
<circle cx="83.97" cy="634.90" r="1.05" fill="#1c3c8c"/>
<circle cx="84.65" cy="638.59" r="1.05" fill="#1c3c8c"/>
<rect x="87.55" y="658.4" width="5.25" height="9.9" fill="#80bfae" stroke="#1a1a1a" stroke-width="0.8"/>
<line x1="90.17" y1="656.81" x2="90.17" y2="659.99" stroke="#1a1a1a" stroke-width="0.6"/>
<line x1="88.85" y1="656.81" x2="91.5" y2="656.81" stroke="#1a1a1a" stroke-width="0.6"/>
<circle cx="89.70" cy="660.66" r="1.05" fill="#0e5a48"/>
<circle cx="90.42" cy="661.79" r="1.05" fill="#0e5a48"/>
<circle cx="90.28" cy="660.94" r="1.05" fill="#0e5a48"/>
<circle cx="48.12" cy="628.20" r="1.05" fill="#2e2e2e"/>
<circle cx="53.77" cy="643.80" r="1.05" fill="#8c1c1c"/>
<circle cx="65.07" cy="641.30" r="1.05" fill="#0e5a48"/>
<circle cx="73.22" cy="650.00" r="1.05" fill="#2e2e2e"/>
<circle cx="84.52" cy="635.80" r="1.05" fill="#1c3c8c"/>
<polygon points="84.52,660.40 85.08,661.74 86.52,661.85 85.42,662.79 85.75,664.20 84.52,663.45 83.29,664.20 83.62,662.79 82.52,661.85 83.96,661.74" fill="#e8251f"/>
<line x1="41.3" y1="624.1" x2="41.3" y2="668.9" stroke="#222" stroke-width="1.25"/>
<line x1="40.7" y1="668.3" x2="97" y2="668.3" stroke="#222" stroke-width="1.25"/>
<line x1="39.7" y1="668.3" x2="41.3" y2="668.3" stroke="#333" stroke-width="0.5"/>
<text x="39.50" y="670.60" font-size="4.7" text-anchor="end" fill="#4d4d4d">0.0<tspan font-size="4.70" dx="1.03">×</tspan>10<tspan font-size="3.29" dy="-2.0">0</tspan></text>
<line x1="39.7" y1="658.3" x2="41.3" y2="658.3" stroke="#333" stroke-width="0.5"/>
<text x="39.50" y="660.60" font-size="4.7" text-anchor="end" fill="#4d4d4d">2.5<tspan font-size="4.70" dx="1.03">×</tspan>10<tspan font-size="3.29" dy="-2.0">4</tspan></text>
<line x1="39.7" y1="648.3" x2="41.3" y2="648.3" stroke="#333" stroke-width="0.5"/>
<text x="39.50" y="650.60" font-size="4.7" text-anchor="end" fill="#4d4d4d">5.0<tspan font-size="4.70" dx="1.03">×</tspan>10<tspan font-size="3.29" dy="-2.0">4</tspan></text>
<line x1="39.7" y1="638.3" x2="41.3" y2="638.3" stroke="#333" stroke-width="0.5"/>
<text x="39.50" y="640.60" font-size="4.7" text-anchor="end" fill="#4d4d4d">7.5<tspan font-size="4.70" dx="1.03">×</tspan>10<tspan font-size="3.29" dy="-2.0">4</tspan></text>
<line x1="39.7" y1="628.3" x2="41.3" y2="628.3" stroke="#333" stroke-width="0.5"/>
<text x="39.50" y="630.60" font-size="4.7" text-anchor="end" fill="#4d4d4d">1.0<tspan font-size="4.70" dx="1.03">×</tspan>10<tspan font-size="3.29" dy="-2.0">5</tspan></text>
<line x1="57" y1="668.3" x2="57" y2="669.8" stroke="#333" stroke-width="0.5"/>
<text x="57.00" y="675.20" font-size="6.0" text-anchor="middle" fill="#000" >1h</text>
<line x1="81.7" y1="668.3" x2="81.7" y2="669.8" stroke="#333" stroke-width="0.5"/>
<text x="81.70" y="675.20" font-size="6.0" text-anchor="middle" fill="#000" >24h</text>
<text transform="translate(19.63,646.50) rotate(-90)" font-size="5.6" text-anchor="middle" fill="#000" stroke="#000" stroke-width="0.12">Peak height</text>
<text x="168.35" y="619.40" font-size="6.2" text-anchor="middle" fill="#000" >Guanidineacetic acid</text>
<rect x="144.7" y="666.4" width="5.25" height="1.9" fill="#a6a6a6" stroke="#1a1a1a" stroke-width="0.8"/>
<circle cx="147.32" cy="667.40" r="0.8" fill="#2e2e2e"/>
<rect x="150.35" y="651.4" width="5.25" height="16.9" fill="#e59597" stroke="#1a1a1a" stroke-width="0.8"/>
<line x1="152.97" y1="649.25" x2="152.97" y2="653.55" stroke="#1a1a1a" stroke-width="0.6"/>
<line x1="151.65" y1="649.25" x2="154.3" y2="649.25" stroke="#1a1a1a" stroke-width="0.6"/>
<circle cx="152.54" cy="656.71" r="1.05" fill="#8c1c1c"/>
<circle cx="152.62" cy="649.56" r="1.05" fill="#8c1c1c"/>
<circle cx="152.93" cy="656.24" r="1.05" fill="#8c1c1c"/>
<rect x="156" y="657.4" width="5.25" height="10.9" fill="#89a8dd" stroke="#1a1a1a" stroke-width="0.8"/>
<line x1="158.62" y1="655.73" x2="158.62" y2="659.07" stroke="#1a1a1a" stroke-width="0.6"/>
<line x1="157.3" y1="655.73" x2="159.95" y2="655.73" stroke="#1a1a1a" stroke-width="0.6"/>
<circle cx="158.71" cy="656.27" r="1.05" fill="#1c3c8c"/>
<circle cx="159.31" cy="661.15" r="1.05" fill="#1c3c8c"/>
<circle cx="159.37" cy="657.87" r="1.05" fill="#1c3c8c"/>
<rect x="161.65" y="649.3" width="5.25" height="19" fill="#80bfae" stroke="#1a1a1a" stroke-width="0.8"/>
<line x1="164.27" y1="646.98" x2="164.27" y2="651.62" stroke="#1a1a1a" stroke-width="0.6"/>
<line x1="162.95" y1="646.98" x2="165.6" y2="646.98" stroke="#1a1a1a" stroke-width="0.6"/>
<circle cx="164.20" cy="646.05" r="1.05" fill="#0e5a48"/>
<circle cx="163.53" cy="648.08" r="1.05" fill="#0e5a48"/>
<circle cx="164.06" cy="645.74" r="1.05" fill="#0e5a48"/>
<rect x="169.8" y="659.1" width="5.25" height="9.2" fill="#a6a6a6" stroke="#1a1a1a" stroke-width="0.8"/>
<line x1="172.42" y1="657.56" x2="172.42" y2="660.64" stroke="#1a1a1a" stroke-width="0.6"/>
<line x1="171.1" y1="657.56" x2="173.75" y2="657.56" stroke="#1a1a1a" stroke-width="0.6"/>
<circle cx="171.65" cy="658.52" r="1.05" fill="#2e2e2e"/>
<circle cx="172.76" cy="662.65" r="1.05" fill="#2e2e2e"/>
<circle cx="171.68" cy="662.34" r="1.05" fill="#2e2e2e"/>
<rect x="175.45" y="640.6" width="5.25" height="27.7" fill="#e59597" stroke="#1a1a1a" stroke-width="0.8"/>
<line x1="178.07" y1="637.58" x2="178.07" y2="643.62" stroke="#1a1a1a" stroke-width="0.6"/>
<line x1="176.75" y1="637.58" x2="179.4" y2="637.58" stroke="#1a1a1a" stroke-width="0.6"/>
<circle cx="178.49" cy="636.28" r="1.05" fill="#8c1c1c"/>
<circle cx="178.77" cy="639.07" r="1.05" fill="#8c1c1c"/>
<circle cx="178.49" cy="648.13" r="1.05" fill="#8c1c1c"/>
<rect x="181.1" y="643.1" width="5.25" height="25.2" fill="#89a8dd" stroke="#1a1a1a" stroke-width="0.8"/>
<line x1="183.72" y1="640.28" x2="183.72" y2="645.92" stroke="#1a1a1a" stroke-width="0.6"/>
<line x1="182.4" y1="640.28" x2="185.05" y2="640.28" stroke="#1a1a1a" stroke-width="0.6"/>
<circle cx="184.02" cy="640.88" r="1.05" fill="#1c3c8c"/>
<circle cx="183.78" cy="639.06" r="1.05" fill="#1c3c8c"/>
<circle cx="183.48" cy="644.82" r="1.05" fill="#1c3c8c"/>
<rect x="186.75" y="629.9" width="5.25" height="38.4" fill="#80bfae" stroke="#1a1a1a" stroke-width="0.8"/>
<line x1="189.37" y1="626.4" x2="189.37" y2="633.4" stroke="#1a1a1a" stroke-width="0.6"/>
<line x1="188.05" y1="626.4" x2="190.7" y2="626.4" stroke="#1a1a1a" stroke-width="0.6"/>
<circle cx="190.09" cy="625.65" r="1.05" fill="#0e5a48"/>
<circle cx="190.16" cy="638.50" r="1.05" fill="#0e5a48"/>
<circle cx="189.12" cy="625.85" r="1.05" fill="#0e5a48"/>
<polygon points="152.97,660.70 153.53,662.04 154.97,662.15 153.87,663.09 154.20,664.50 152.97,663.75 151.74,664.50 152.07,663.09 150.97,662.15 152.41,662.04" fill="#e8251f"/>
<polygon points="158.62,660.70 159.18,662.04 160.62,662.15 159.52,663.09 159.85,664.50 158.62,663.75 157.39,664.50 157.72,663.09 156.62,662.15 158.06,662.04" fill="#e8251f"/>
<polygon points="164.27,660.70 164.83,662.04 166.27,662.15 165.17,663.09 165.50,664.50 164.27,663.75 163.04,664.50 163.37,663.09 162.27,662.15 163.71,662.04" fill="#e8251f"/>
<polygon points="178.07,660.70 178.63,662.04 180.07,662.15 178.97,663.09 179.30,664.50 178.07,663.75 176.84,664.50 177.17,663.09 176.07,662.15 177.51,662.04" fill="#e8251f"/>
<polygon points="183.72,660.70 184.28,662.04 185.72,662.15 184.62,663.09 184.95,664.50 183.72,663.75 182.49,664.50 182.82,663.09 181.72,662.15 183.16,662.04" fill="#e8251f"/>
<polygon points="189.37,660.70 189.93,662.04 191.37,662.15 190.27,663.09 190.60,664.50 189.37,663.75 188.14,664.50 188.47,663.09 187.37,662.15 188.81,662.04" fill="#e8251f"/>
<line x1="140.5" y1="624.1" x2="140.5" y2="668.9" stroke="#222" stroke-width="1.25"/>
<line x1="139.9" y1="668.3" x2="196.2" y2="668.3" stroke="#222" stroke-width="1.25"/>
<line x1="138.9" y1="668.3" x2="140.5" y2="668.3" stroke="#333" stroke-width="0.5"/>
<text x="138.70" y="670.60" font-size="4.7" text-anchor="end" fill="#4d4d4d">0.0<tspan font-size="4.70" dx="1.03">×</tspan>10<tspan font-size="3.29" dy="-2.0">0</tspan></text>
<line x1="138.9" y1="656.5" x2="140.5" y2="656.5" stroke="#333" stroke-width="0.5"/>
<text x="138.70" y="658.80" font-size="4.7" text-anchor="end" fill="#4d4d4d">2.5<tspan font-size="4.70" dx="1.03">×</tspan>10<tspan font-size="3.29" dy="-2.0">5</tspan></text>
<line x1="138.9" y1="644.7" x2="140.5" y2="644.7" stroke="#333" stroke-width="0.5"/>
<text x="138.70" y="647.00" font-size="4.7" text-anchor="end" fill="#4d4d4d">5.0<tspan font-size="4.70" dx="1.03">×</tspan>10<tspan font-size="3.29" dy="-2.0">5</tspan></text>
<line x1="138.9" y1="632.9" x2="140.5" y2="632.9" stroke="#333" stroke-width="0.5"/>
<text x="138.70" y="635.20" font-size="4.7" text-anchor="end" fill="#4d4d4d">7.5<tspan font-size="4.70" dx="1.03">×</tspan>10<tspan font-size="3.29" dy="-2.0">5</tspan></text>
<line x1="156.2" y1="668.3" x2="156.2" y2="669.8" stroke="#333" stroke-width="0.5"/>
<text x="156.20" y="675.20" font-size="6.0" text-anchor="middle" fill="#000" >1h</text>
<line x1="180.9" y1="668.3" x2="180.9" y2="669.8" stroke="#333" stroke-width="0.5"/>
<text x="180.90" y="675.20" font-size="6.0" text-anchor="middle" fill="#000" >24h</text>
<text transform="translate(118.83,646.50) rotate(-90)" font-size="5.6" text-anchor="middle" fill="#000" stroke="#000" stroke-width="0.12">Peak height</text>
<text x="272.45" y="619.40" font-size="6.2" text-anchor="middle" fill="#000" >GABA</text>
<rect x="248.8" y="667.6" width="5.25" height="0.7" fill="#a6a6a6" stroke="#1a1a1a" stroke-width="0.8"/>
<circle cx="251.42" cy="667.40" r="0.8" fill="#2e2e2e"/>
<rect x="254.45" y="667.6" width="5.25" height="0.7" fill="#e59597" stroke="#1a1a1a" stroke-width="0.8"/>
<circle cx="257.07" cy="667.40" r="0.8" fill="#8c1c1c"/>
<rect x="260.1" y="667.6" width="5.25" height="0.7" fill="#89a8dd" stroke="#1a1a1a" stroke-width="0.8"/>
<circle cx="262.72" cy="667.40" r="0.8" fill="#1c3c8c"/>
<rect x="265.75" y="639.4" width="5.25" height="28.9" fill="#80bfae" stroke="#1a1a1a" stroke-width="0.8"/>
<line x1="268.37" y1="636.29" x2="268.37" y2="642.51" stroke="#1a1a1a" stroke-width="0.6"/>
<line x1="267.05" y1="636.29" x2="269.7" y2="636.29" stroke="#1a1a1a" stroke-width="0.6"/>
<circle cx="269.17" cy="635.38" r="1.05" fill="#0e5a48"/>
<circle cx="269.09" cy="647.41" r="1.05" fill="#0e5a48"/>
<circle cx="268.58" cy="644.98" r="1.05" fill="#0e5a48"/>
<rect x="273.9" y="667.6" width="5.25" height="0.7" fill="#a6a6a6" stroke="#1a1a1a" stroke-width="0.8"/>
<circle cx="276.52" cy="667.40" r="0.8" fill="#2e2e2e"/>
<rect x="279.55" y="667.2" width="5.25" height="1.1" fill="#e59597" stroke="#1a1a1a" stroke-width="0.8"/>
<circle cx="282.17" cy="667.40" r="0.8" fill="#8c1c1c"/>
<rect x="285.2" y="667.2" width="5.25" height="1.1" fill="#89a8dd" stroke="#1a1a1a" stroke-width="0.8"/>
<circle cx="287.82" cy="667.40" r="0.8" fill="#1c3c8c"/>
<rect x="290.85" y="629.2" width="5.25" height="39.1" fill="#80bfae" stroke="#1a1a1a" stroke-width="0.8"/>
<line x1="293.47" y1="625.7" x2="293.47" y2="632.7" stroke="#1a1a1a" stroke-width="0.6"/>
<line x1="292.15" y1="625.7" x2="294.8" y2="625.7" stroke="#1a1a1a" stroke-width="0.6"/>
<circle cx="293.17" cy="624.93" r="1.05" fill="#0e5a48"/>
<circle cx="292.86" cy="624.05" r="1.05" fill="#0e5a48"/>
<circle cx="293.84" cy="632.92" r="1.05" fill="#0e5a48"/>
<polygon points="268.37,660.70 268.93,662.04 270.37,662.15 269.27,663.09 269.60,664.50 268.37,663.75 267.14,664.50 267.47,663.09 266.37,662.15 267.81,662.04" fill="#e8251f"/>
<polygon points="293.47,660.70 294.03,662.04 295.47,662.15 294.37,663.09 294.70,664.50 293.47,663.75 292.24,664.50 292.57,663.09 291.47,662.15 292.91,662.04" fill="#e8251f"/>
<line x1="244.6" y1="624.1" x2="244.6" y2="668.9" stroke="#222" stroke-width="1.25"/>
<line x1="244" y1="668.3" x2="300.3" y2="668.3" stroke="#222" stroke-width="1.25"/>
<line x1="243" y1="668.3" x2="244.6" y2="668.3" stroke="#333" stroke-width="0.5"/>
<text x="242.80" y="670.60" font-size="4.7" text-anchor="end" fill="#4d4d4d">0.0<tspan font-size="4.70" dx="1.03">×</tspan>10<tspan font-size="3.29" dy="-2.0">0</tspan></text>
<line x1="243" y1="656.9" x2="244.6" y2="656.9" stroke="#333" stroke-width="0.5"/>
<text x="242.80" y="659.20" font-size="4.7" text-anchor="end" fill="#4d4d4d">5.0<tspan font-size="4.70" dx="1.03">×</tspan>10<tspan font-size="3.29" dy="-2.0">5</tspan></text>
<line x1="243" y1="645.5" x2="244.6" y2="645.5" stroke="#333" stroke-width="0.5"/>
<text x="242.80" y="647.80" font-size="4.7" text-anchor="end" fill="#4d4d4d">1.0<tspan font-size="4.70" dx="1.03">×</tspan>10<tspan font-size="3.29" dy="-2.0">6</tspan></text>
<line x1="243" y1="634.1" x2="244.6" y2="634.1" stroke="#333" stroke-width="0.5"/>
<text x="242.80" y="636.40" font-size="4.7" text-anchor="end" fill="#4d4d4d">1.5<tspan font-size="4.70" dx="1.03">×</tspan>10<tspan font-size="3.29" dy="-2.0">6</tspan></text>
<line x1="260.3" y1="668.3" x2="260.3" y2="669.8" stroke="#333" stroke-width="0.5"/>
<text x="260.30" y="675.20" font-size="6.0" text-anchor="middle" fill="#000" >1h</text>
<line x1="285" y1="668.3" x2="285" y2="669.8" stroke="#333" stroke-width="0.5"/>
<text x="285.00" y="675.20" font-size="6.0" text-anchor="middle" fill="#000" >24h</text>
<text transform="translate(222.93,646.50) rotate(-90)" font-size="5.6" text-anchor="middle" fill="#000" stroke="#000" stroke-width="0.12">Peak height</text>
<text x="556.75" y="619.10" font-size="6.2" text-anchor="middle" fill="#000" >Itaconic acid</text>
<rect x="533.1" y="668.2" width="5.25" height="0.4" fill="#a6a6a6" stroke="#1a1a1a" stroke-width="0.8"/>
<circle cx="535.72" cy="667.70" r="0.8" fill="#2e2e2e"/>
<rect x="538.75" y="665.4" width="5.25" height="3.2" fill="#e59597" stroke="#1a1a1a" stroke-width="0.8"/>
<line x1="541.37" y1="664.34" x2="541.37" y2="666.46" stroke="#1a1a1a" stroke-width="0.6"/>
<line x1="540.05" y1="664.34" x2="542.7" y2="664.34" stroke="#1a1a1a" stroke-width="0.6"/>
<circle cx="541.78" cy="665.58" r="1.05" fill="#8c1c1c"/>
<circle cx="540.94" cy="665.13" r="1.05" fill="#8c1c1c"/>
<circle cx="540.94" cy="664.06" r="1.05" fill="#8c1c1c"/>
<rect x="544.4" y="666.8" width="5.25" height="1.8" fill="#89a8dd" stroke="#1a1a1a" stroke-width="0.8"/>
<circle cx="547.02" cy="667.70" r="0.8" fill="#1c3c8c"/>
<rect x="550.05" y="666.4" width="5.25" height="2.2" fill="#80bfae" stroke="#1a1a1a" stroke-width="0.8"/>
<circle cx="552.67" cy="667.70" r="0.8" fill="#0e5a48"/>
<rect x="558.2" y="667.3" width="5.25" height="1.3" fill="#a6a6a6" stroke="#1a1a1a" stroke-width="0.8"/>
<circle cx="560.82" cy="667.70" r="0.8" fill="#2e2e2e"/>
<rect x="563.85" y="652.2" width="5.25" height="16.4" fill="#e59597" stroke="#1a1a1a" stroke-width="0.8"/>
<line x1="566.47" y1="650.09" x2="566.47" y2="654.31" stroke="#1a1a1a" stroke-width="0.6"/>
<line x1="565.15" y1="650.09" x2="567.8" y2="650.09" stroke="#1a1a1a" stroke-width="0.6"/>
<circle cx="567.11" cy="654.31" r="1.05" fill="#8c1c1c"/>
<circle cx="566.82" cy="648.86" r="1.05" fill="#8c1c1c"/>
<circle cx="566.31" cy="655.03" r="1.05" fill="#8c1c1c"/>
<rect x="569.5" y="648.3" width="5.25" height="20.3" fill="#89a8dd" stroke="#1a1a1a" stroke-width="0.8"/>
<line x1="572.12" y1="645.88" x2="572.12" y2="650.72" stroke="#1a1a1a" stroke-width="0.6"/>
<line x1="570.8" y1="645.88" x2="573.45" y2="645.88" stroke="#1a1a1a" stroke-width="0.6"/>
<circle cx="571.36" cy="652.84" r="1.05" fill="#1c3c8c"/>
<circle cx="572.71" cy="651.63" r="1.05" fill="#1c3c8c"/>
<circle cx="572.78" cy="653.61" r="1.05" fill="#1c3c8c"/>
<rect x="575.15" y="628.9" width="5.25" height="39.7" fill="#80bfae" stroke="#1a1a1a" stroke-width="0.8"/>
<line x1="577.77" y1="625.4" x2="577.77" y2="632.4" stroke="#1a1a1a" stroke-width="0.6"/>
<line x1="576.45" y1="625.4" x2="579.1" y2="625.4" stroke="#1a1a1a" stroke-width="0.6"/>
<circle cx="577.45" cy="629.50" r="1.05" fill="#0e5a48"/>
<circle cx="577.03" cy="631.76" r="1.05" fill="#0e5a48"/>
<circle cx="578.50" cy="635.78" r="1.05" fill="#0e5a48"/>
<polygon points="541.37,660.30 541.93,661.64 543.37,661.75 542.27,662.69 542.60,664.10 541.37,663.35 540.14,664.10 540.47,662.69 539.37,661.75 540.81,661.64" fill="#e8251f"/>
<polygon points="552.67,660.30 553.23,661.64 554.67,661.75 553.57,662.69 553.90,664.10 552.67,663.35 551.44,664.10 551.77,662.69 550.67,661.75 552.11,661.64" fill="#e8251f"/>
<polygon points="566.47,660.30 567.03,661.64 568.47,661.75 567.37,662.69 567.70,664.10 566.47,663.35 565.24,664.10 565.57,662.69 564.47,661.75 565.91,661.64" fill="#e8251f"/>
<polygon points="572.12,660.30 572.68,661.64 574.12,661.75 573.02,662.69 573.35,664.10 572.12,663.35 570.89,664.10 571.22,662.69 570.12,661.75 571.56,661.64" fill="#e8251f"/>
<polygon points="577.77,660.30 578.33,661.64 579.77,661.75 578.67,662.69 579.00,664.10 577.77,663.35 576.54,664.10 576.87,662.69 575.77,661.75 577.21,661.64" fill="#e8251f"/>
<line x1="528.9" y1="623.8" x2="528.9" y2="669.2" stroke="#222" stroke-width="1.25"/>
<line x1="528.3" y1="668.6" x2="584.6" y2="668.6" stroke="#222" stroke-width="1.25"/>
<line x1="527.3" y1="668.6" x2="528.9" y2="668.6" stroke="#333" stroke-width="0.5"/>
<text x="527.10" y="670.90" font-size="4.7" text-anchor="end" fill="#4d4d4d">0.0<tspan font-size="4.70" dx="1.03">×</tspan>10<tspan font-size="3.29" dy="-2.0">0</tspan></text>
<line x1="527.3" y1="659.8" x2="528.9" y2="659.8" stroke="#333" stroke-width="0.5"/>
<text x="527.10" y="662.10" font-size="4.7" text-anchor="end" fill="#4d4d4d">5.0<tspan font-size="4.70" dx="1.03">×</tspan>10<tspan font-size="3.29" dy="-2.0">5</tspan></text>
<line x1="527.3" y1="651" x2="528.9" y2="651" stroke="#333" stroke-width="0.5"/>
<text x="527.10" y="653.30" font-size="4.7" text-anchor="end" fill="#4d4d4d">1.0<tspan font-size="4.70" dx="1.03">×</tspan>10<tspan font-size="3.29" dy="-2.0">6</tspan></text>
<line x1="527.3" y1="642.2" x2="528.9" y2="642.2" stroke="#333" stroke-width="0.5"/>
<text x="527.10" y="644.50" font-size="4.7" text-anchor="end" fill="#4d4d4d">1.5<tspan font-size="4.70" dx="1.03">×</tspan>10<tspan font-size="3.29" dy="-2.0">6</tspan></text>
<line x1="527.3" y1="633.4" x2="528.9" y2="633.4" stroke="#333" stroke-width="0.5"/>
<text x="527.10" y="635.70" font-size="4.7" text-anchor="end" fill="#4d4d4d">2.0<tspan font-size="4.70" dx="1.03">×</tspan>10<tspan font-size="3.29" dy="-2.0">6</tspan></text>
<line x1="527.3" y1="624.6" x2="528.9" y2="624.6" stroke="#333" stroke-width="0.5"/>
<text x="527.10" y="626.90" font-size="4.7" text-anchor="end" fill="#4d4d4d">2.5<tspan font-size="4.70" dx="1.03">×</tspan>10<tspan font-size="3.29" dy="-2.0">6</tspan></text>
<line x1="544.6" y1="668.6" x2="544.6" y2="670.1" stroke="#333" stroke-width="0.5"/>
<text x="544.60" y="675.50" font-size="6.0" text-anchor="middle" fill="#000" >1h</text>
<line x1="569.3" y1="668.6" x2="569.3" y2="670.1" stroke="#333" stroke-width="0.5"/>
<text x="569.30" y="675.50" font-size="6.0" text-anchor="middle" fill="#000" >24h</text>
<text transform="translate(507.23,646.50) rotate(-90)" font-size="5.6" text-anchor="middle" fill="#000" stroke="#000" stroke-width="0.12">Peak height</text>
<text x="460.45" y="658.00" font-size="6.2" text-anchor="middle" fill="#000" >alpha-ketoglutarate</text>
<rect x="436.8" y="706.5" width="5.25" height="0.4" fill="#a6a6a6" stroke="#1a1a1a" stroke-width="0.8"/>
<circle cx="439.42" cy="706.00" r="0.8" fill="#2e2e2e"/>
<rect x="442.45" y="704.3" width="5.25" height="2.6" fill="#e59597" stroke="#1a1a1a" stroke-width="0.8"/>
<line x1="445.07" y1="703.29" x2="445.07" y2="705.31" stroke="#1a1a1a" stroke-width="0.6"/>
<line x1="443.75" y1="703.29" x2="446.4" y2="703.29" stroke="#1a1a1a" stroke-width="0.6"/>
<circle cx="445.05" cy="703.32" r="1.05" fill="#8c1c1c"/>
<circle cx="444.31" cy="705.31" r="1.05" fill="#8c1c1c"/>
<circle cx="444.88" cy="703.22" r="1.05" fill="#8c1c1c"/>
<rect x="448.1" y="705.5" width="5.25" height="1.4" fill="#89a8dd" stroke="#1a1a1a" stroke-width="0.8"/>
<circle cx="450.72" cy="706.00" r="0.8" fill="#1c3c8c"/>
<rect x="453.75" y="705.5" width="5.25" height="1.4" fill="#80bfae" stroke="#1a1a1a" stroke-width="0.8"/>
<circle cx="456.37" cy="706.00" r="0.8" fill="#0e5a48"/>
<rect x="461.9" y="706.5" width="5.25" height="0.4" fill="#a6a6a6" stroke="#1a1a1a" stroke-width="0.8"/>
<circle cx="464.52" cy="706.00" r="0.8" fill="#2e2e2e"/>
<rect x="467.55" y="678.9" width="5.25" height="28" fill="#e59597" stroke="#1a1a1a" stroke-width="0.8"/>
<line x1="470.17" y1="675.86" x2="470.17" y2="681.94" stroke="#1a1a1a" stroke-width="0.6"/>
<line x1="468.85" y1="675.86" x2="471.5" y2="675.86" stroke="#1a1a1a" stroke-width="0.6"/>
<circle cx="470.55" cy="683.38" r="1.05" fill="#8c1c1c"/>
<circle cx="469.52" cy="683.08" r="1.05" fill="#8c1c1c"/>
<circle cx="470.55" cy="674.41" r="1.05" fill="#8c1c1c"/>
<rect x="473.2" y="685" width="5.25" height="21.9" fill="#89a8dd" stroke="#1a1a1a" stroke-width="0.8"/>
<line x1="475.82" y1="682.45" x2="475.82" y2="687.55" stroke="#1a1a1a" stroke-width="0.6"/>
<line x1="474.5" y1="682.45" x2="477.15" y2="682.45" stroke="#1a1a1a" stroke-width="0.6"/>
<circle cx="476.54" cy="683.28" r="1.05" fill="#1c3c8c"/>
<circle cx="475.69" cy="689.07" r="1.05" fill="#1c3c8c"/>
<circle cx="475.66" cy="682.66" r="1.05" fill="#1c3c8c"/>
<rect x="478.85" y="667.5" width="5.25" height="39.4" fill="#80bfae" stroke="#1a1a1a" stroke-width="0.8"/>
<line x1="481.47" y1="664" x2="481.47" y2="671" stroke="#1a1a1a" stroke-width="0.6"/>
<line x1="480.15" y1="664" x2="482.8" y2="664" stroke="#1a1a1a" stroke-width="0.6"/>
<circle cx="481.30" cy="664.21" r="1.05" fill="#0e5a48"/>
<circle cx="482.05" cy="673.16" r="1.05" fill="#0e5a48"/>
<circle cx="481.65" cy="669.15" r="1.05" fill="#0e5a48"/>
<polygon points="445.07,699.00 445.63,700.34 447.07,700.45 445.97,701.39 446.30,702.80 445.07,702.05 443.84,702.80 444.17,701.39 443.07,700.45 444.51,700.34" fill="#e8251f"/>
<polygon points="450.72,699.00 451.28,700.34 452.72,700.45 451.62,701.39 451.95,702.80 450.72,702.05 449.49,702.80 449.82,701.39 448.72,700.45 450.16,700.34" fill="#e8251f"/>
<polygon points="456.37,699.00 456.93,700.34 458.37,700.45 457.27,701.39 457.60,702.80 456.37,702.05 455.14,702.80 455.47,701.39 454.37,700.45 455.81,700.34" fill="#e8251f"/>
<polygon points="470.17,699.00 470.73,700.34 472.17,700.45 471.07,701.39 471.40,702.80 470.17,702.05 468.94,702.80 469.27,701.39 468.17,700.45 469.61,700.34" fill="#e8251f"/>
<polygon points="475.82,699.00 476.38,700.34 477.82,700.45 476.72,701.39 477.05,702.80 475.82,702.05 474.59,702.80 474.92,701.39 473.82,700.45 475.26,700.34" fill="#e8251f"/>
<polygon points="481.47,699.00 482.03,700.34 483.47,700.45 482.37,701.39 482.70,702.80 481.47,702.05 480.24,702.80 480.57,701.39 479.47,700.45 480.91,700.34" fill="#e8251f"/>
<line x1="432.6" y1="662.4" x2="432.6" y2="707.5" stroke="#222" stroke-width="1.25"/>
<line x1="432" y1="706.9" x2="488.3" y2="706.9" stroke="#222" stroke-width="1.25"/>
<line x1="431" y1="706.9" x2="432.6" y2="706.9" stroke="#333" stroke-width="0.5"/>
<text x="430.80" y="709.20" font-size="4.7" text-anchor="end" fill="#4d4d4d">0<tspan font-size="4.70" dx="1.03">×</tspan>10<tspan font-size="3.29" dy="-2.0">0</tspan></text>
<line x1="431" y1="696.7" x2="432.6" y2="696.7" stroke="#333" stroke-width="0.5"/>
<text x="430.80" y="699.00" font-size="4.7" text-anchor="end" fill="#4d4d4d">2<tspan font-size="4.70" dx="1.03">×</tspan>10<tspan font-size="3.29" dy="-2.0">7</tspan></text>
<line x1="431" y1="686.5" x2="432.6" y2="686.5" stroke="#333" stroke-width="0.5"/>
<text x="430.80" y="688.80" font-size="4.7" text-anchor="end" fill="#4d4d4d">4<tspan font-size="4.70" dx="1.03">×</tspan>10<tspan font-size="3.29" dy="-2.0">7</tspan></text>
<line x1="431" y1="676.3" x2="432.6" y2="676.3" stroke="#333" stroke-width="0.5"/>
<text x="430.80" y="678.60" font-size="4.7" text-anchor="end" fill="#4d4d4d">6<tspan font-size="4.70" dx="1.03">×</tspan>10<tspan font-size="3.29" dy="-2.0">7</tspan></text>
<line x1="431" y1="666.1" x2="432.6" y2="666.1" stroke="#333" stroke-width="0.5"/>
<text x="430.80" y="668.40" font-size="4.7" text-anchor="end" fill="#4d4d4d">8<tspan font-size="4.70" dx="1.03">×</tspan>10<tspan font-size="3.29" dy="-2.0">7</tspan></text>
<line x1="448.3" y1="706.9" x2="448.3" y2="708.4" stroke="#333" stroke-width="0.5"/>
<text x="448.30" y="713.80" font-size="6.0" text-anchor="middle" fill="#000" >1h</text>
<line x1="473" y1="706.9" x2="473" y2="708.4" stroke="#333" stroke-width="0.5"/>
<text x="473.00" y="713.80" font-size="6.0" text-anchor="middle" fill="#000" >24h</text>
<text transform="translate(414.85,684.95) rotate(-90)" font-size="5.6" text-anchor="middle" fill="#000" stroke="#000" stroke-width="0.12">Peak height</text>
<text x="657.35" y="657.60" font-size="6.2" text-anchor="middle" fill="#000" >cis-Aconitic acid</text>
<rect x="633.7" y="706.2" width="5.25" height="0.9" fill="#a6a6a6" stroke="#1a1a1a" stroke-width="0.8"/>
<circle cx="636.32" cy="706.20" r="0.8" fill="#2e2e2e"/>
<rect x="639.35" y="702.4" width="5.25" height="4.7" fill="#e59597" stroke="#1a1a1a" stroke-width="0.8"/>
<line x1="641.97" y1="701.22" x2="641.97" y2="703.58" stroke="#1a1a1a" stroke-width="0.6"/>
<line x1="640.65" y1="701.22" x2="643.3" y2="701.22" stroke="#1a1a1a" stroke-width="0.6"/>
<circle cx="641.43" cy="702.36" r="1.05" fill="#8c1c1c"/>
<circle cx="642.04" cy="702.81" r="1.05" fill="#8c1c1c"/>
<circle cx="641.44" cy="701.28" r="1.05" fill="#8c1c1c"/>
<rect x="645" y="702.4" width="5.25" height="4.7" fill="#89a8dd" stroke="#1a1a1a" stroke-width="0.8"/>
<line x1="647.62" y1="701.22" x2="647.62" y2="703.58" stroke="#1a1a1a" stroke-width="0.6"/>
<line x1="646.3" y1="701.22" x2="648.95" y2="701.22" stroke="#1a1a1a" stroke-width="0.6"/>
<circle cx="648.01" cy="703.67" r="1.05" fill="#1c3c8c"/>
<circle cx="647.70" cy="704.68" r="1.05" fill="#1c3c8c"/>
<circle cx="648.18" cy="703.43" r="1.05" fill="#1c3c8c"/>
<rect x="650.65" y="702.4" width="5.25" height="4.7" fill="#80bfae" stroke="#1a1a1a" stroke-width="0.8"/>
<line x1="653.27" y1="701.22" x2="653.27" y2="703.58" stroke="#1a1a1a" stroke-width="0.6"/>
<line x1="651.95" y1="701.22" x2="654.6" y2="701.22" stroke="#1a1a1a" stroke-width="0.6"/>
<circle cx="653.70" cy="701.00" r="1.05" fill="#0e5a48"/>
<circle cx="653.97" cy="702.17" r="1.05" fill="#0e5a48"/>
<circle cx="652.90" cy="703.29" r="1.05" fill="#0e5a48"/>
<rect x="658.8" y="701.3" width="5.25" height="5.8" fill="#a6a6a6" stroke="#1a1a1a" stroke-width="0.8"/>
<line x1="661.42" y1="700.04" x2="661.42" y2="702.56" stroke="#1a1a1a" stroke-width="0.6"/>
<line x1="660.1" y1="700.04" x2="662.75" y2="700.04" stroke="#1a1a1a" stroke-width="0.6"/>
<circle cx="662.06" cy="704.44" r="1.05" fill="#2e2e2e"/>
<circle cx="662.15" cy="702.19" r="1.05" fill="#2e2e2e"/>
<circle cx="660.65" cy="699.67" r="1.05" fill="#2e2e2e"/>
<rect x="664.45" y="671.9" width="5.25" height="35.2" fill="#e59597" stroke="#1a1a1a" stroke-width="0.8"/>
<line x1="667.07" y1="668.4" x2="667.07" y2="675.4" stroke="#1a1a1a" stroke-width="0.6"/>
<line x1="665.75" y1="668.4" x2="668.4" y2="668.4" stroke="#1a1a1a" stroke-width="0.6"/>
<circle cx="666.57" cy="666.78" r="1.05" fill="#8c1c1c"/>
<circle cx="666.39" cy="667.49" r="1.05" fill="#8c1c1c"/>
<circle cx="667.37" cy="668.06" r="1.05" fill="#8c1c1c"/>
<rect x="670.1" y="698.5" width="5.25" height="8.6" fill="#89a8dd" stroke="#1a1a1a" stroke-width="0.8"/>
<line x1="672.72" y1="697.01" x2="672.72" y2="699.99" stroke="#1a1a1a" stroke-width="0.6"/>
<line x1="671.4" y1="697.01" x2="674.05" y2="697.01" stroke="#1a1a1a" stroke-width="0.6"/>
<circle cx="671.93" cy="700.34" r="1.05" fill="#1c3c8c"/>
<circle cx="673.13" cy="697.00" r="1.05" fill="#1c3c8c"/>
<circle cx="671.95" cy="697.57" r="1.05" fill="#1c3c8c"/>
<rect x="675.75" y="681.6" width="5.25" height="25.5" fill="#80bfae" stroke="#1a1a1a" stroke-width="0.8"/>
<line x1="678.37" y1="678.76" x2="678.37" y2="684.44" stroke="#1a1a1a" stroke-width="0.6"/>
<line x1="677.05" y1="678.76" x2="679.7" y2="678.76" stroke="#1a1a1a" stroke-width="0.6"/>
<circle cx="678.19" cy="677.44" r="1.05" fill="#0e5a48"/>
<circle cx="677.92" cy="688.59" r="1.05" fill="#0e5a48"/>
<circle cx="677.73" cy="678.63" r="1.05" fill="#0e5a48"/>
<polygon points="641.97,698.50 642.53,699.84 643.97,699.95 642.87,700.89 643.20,702.30 641.97,701.55 640.74,702.30 641.07,700.89 639.97,699.95 641.41,699.84" fill="#e8251f"/>
<polygon points="647.62,698.50 648.18,699.84 649.62,699.95 648.52,700.89 648.85,702.30 647.62,701.55 646.39,702.30 646.72,700.89 645.62,699.95 647.06,699.84" fill="#e8251f"/>
<polygon points="653.27,698.50 653.83,699.84 655.27,699.95 654.17,700.89 654.50,702.30 653.27,701.55 652.04,702.30 652.37,700.89 651.27,699.95 652.71,699.84" fill="#e8251f"/>
<polygon points="667.07,698.50 667.63,699.84 669.07,699.95 667.97,700.89 668.30,702.30 667.07,701.55 665.84,702.30 666.17,700.89 665.07,699.95 666.51,699.84" fill="#e8251f"/>
<polygon points="678.37,698.50 678.93,699.84 680.37,699.95 679.27,700.89 679.60,702.30 678.37,701.55 677.14,702.30 677.47,700.89 676.37,699.95 677.81,699.84" fill="#e8251f"/>
<line x1="629.5" y1="662.5" x2="629.5" y2="707.7" stroke="#222" stroke-width="1.25"/>
<line x1="628.9" y1="707.1" x2="685.2" y2="707.1" stroke="#222" stroke-width="1.25"/>
<line x1="627.9" y1="707.1" x2="629.5" y2="707.1" stroke="#333" stroke-width="0.5"/>
<text x="627.70" y="709.40" font-size="4.7" text-anchor="end" fill="#4d4d4d">0<tspan font-size="4.70" dx="1.03">×</tspan>10<tspan font-size="3.29" dy="-2.0">0</tspan></text>
<line x1="627.9" y1="694" x2="629.5" y2="694" stroke="#333" stroke-width="0.5"/>
<text x="627.70" y="696.30" font-size="4.7" text-anchor="end" fill="#4d4d4d">1<tspan font-size="4.70" dx="1.03">×</tspan>10<tspan font-size="3.29" dy="-2.0">5</tspan></text>
<line x1="627.9" y1="680.9" x2="629.5" y2="680.9" stroke="#333" stroke-width="0.5"/>
<text x="627.70" y="683.20" font-size="4.7" text-anchor="end" fill="#4d4d4d">2<tspan font-size="4.70" dx="1.03">×</tspan>10<tspan font-size="3.29" dy="-2.0">5</tspan></text>
<line x1="627.9" y1="667.8" x2="629.5" y2="667.8" stroke="#333" stroke-width="0.5"/>
<text x="627.70" y="670.10" font-size="4.7" text-anchor="end" fill="#4d4d4d">3<tspan font-size="4.70" dx="1.03">×</tspan>10<tspan font-size="3.29" dy="-2.0">5</tspan></text>
<line x1="645.2" y1="707.1" x2="645.2" y2="708.6" stroke="#333" stroke-width="0.5"/>
<text x="645.20" y="714.00" font-size="6.0" text-anchor="middle" fill="#000" >1h</text>
<line x1="669.9" y1="707.1" x2="669.9" y2="708.6" stroke="#333" stroke-width="0.5"/>
<text x="669.90" y="714.00" font-size="6.0" text-anchor="middle" fill="#000" >24h</text>
<text transform="translate(611.75,685.10) rotate(-90)" font-size="5.6" text-anchor="middle" fill="#000" stroke="#000" stroke-width="0.12">Peak height</text>
<text x="69.15" y="701.70" font-size="6.2" text-anchor="middle" fill="#000" >Citrulline</text>
<rect x="45.5" y="750.2" width="5.25" height="0.4" fill="#a6a6a6" stroke="#1a1a1a" stroke-width="0.8"/>
<circle cx="48.12" cy="749.70" r="0.8" fill="#2e2e2e"/>
<rect x="51.15" y="750.2" width="5.25" height="0.4" fill="#e59597" stroke="#1a1a1a" stroke-width="0.8"/>
<circle cx="53.77" cy="749.70" r="0.8" fill="#8c1c1c"/>
<rect x="56.8" y="750.2" width="5.25" height="0.4" fill="#89a8dd" stroke="#1a1a1a" stroke-width="0.8"/>
<circle cx="59.42" cy="749.70" r="0.8" fill="#1c3c8c"/>
<rect x="62.45" y="750.2" width="5.25" height="0.4" fill="#80bfae" stroke="#1a1a1a" stroke-width="0.8"/>
<circle cx="65.07" cy="749.70" r="0.8" fill="#0e5a48"/>
<rect x="70.6" y="750.2" width="5.25" height="0.4" fill="#a6a6a6" stroke="#1a1a1a" stroke-width="0.8"/>
<circle cx="73.22" cy="749.70" r="0.8" fill="#2e2e2e"/>
<rect x="76.25" y="722.1" width="5.25" height="28.5" fill="#e59597" stroke="#1a1a1a" stroke-width="0.8"/>
<line x1="78.87" y1="719.02" x2="78.87" y2="725.18" stroke="#1a1a1a" stroke-width="0.6"/>
<line x1="77.55" y1="719.02" x2="80.2" y2="719.02" stroke="#1a1a1a" stroke-width="0.6"/>
<circle cx="78.68" cy="718.20" r="1.05" fill="#8c1c1c"/>
<circle cx="78.43" cy="718.73" r="1.05" fill="#8c1c1c"/>
<circle cx="79.22" cy="726.24" r="1.05" fill="#8c1c1c"/>
<rect x="81.9" y="748.4" width="5.25" height="2.2" fill="#89a8dd" stroke="#1a1a1a" stroke-width="0.8"/>
<circle cx="84.52" cy="749.70" r="0.8" fill="#1c3c8c"/>
<rect x="87.55" y="711.9" width="5.25" height="38.7" fill="#80bfae" stroke="#1a1a1a" stroke-width="0.8"/>
<line x1="90.17" y1="708.4" x2="90.17" y2="715.4" stroke="#1a1a1a" stroke-width="0.6"/>
<line x1="88.85" y1="708.4" x2="91.5" y2="708.4" stroke="#1a1a1a" stroke-width="0.6"/>
<circle cx="90.74" cy="715.11" r="1.05" fill="#0e5a48"/>
<circle cx="90.15" cy="720.05" r="1.05" fill="#0e5a48"/>
<circle cx="90.73" cy="710.25" r="1.05" fill="#0e5a48"/>
<polygon points="53.77,742.60 54.33,743.94 55.77,744.05 54.67,744.99 55.00,746.40 53.77,745.65 52.54,746.40 52.87,744.99 51.77,744.05 53.21,743.94" fill="#e8251f"/>
<polygon points="65.07,742.60 65.63,743.94 67.07,744.05 65.97,744.99 66.30,746.40 65.07,745.65 63.84,746.40 64.17,744.99 63.07,744.05 64.51,743.94" fill="#e8251f"/>
<polygon points="78.87,742.60 79.43,743.94 80.87,744.05 79.77,744.99 80.10,746.40 78.87,745.65 77.64,746.40 77.97,744.99 76.87,744.05 78.31,743.94" fill="#e8251f"/>
<polygon points="90.17,742.60 90.73,743.94 92.17,744.05 91.07,744.99 91.40,746.40 90.17,745.65 88.94,746.40 89.27,744.99 88.17,744.05 89.61,743.94" fill="#e8251f"/>
<line x1="41.3" y1="706.1" x2="41.3" y2="751.2" stroke="#222" stroke-width="1.25"/>
<line x1="40.7" y1="750.6" x2="97" y2="750.6" stroke="#222" stroke-width="1.25"/>
<line x1="39.7" y1="750.6" x2="41.3" y2="750.6" stroke="#333" stroke-width="0.5"/>
<text x="39.50" y="752.90" font-size="4.7" text-anchor="end" fill="#4d4d4d">0<tspan font-size="4.70" dx="1.03">×</tspan>10<tspan font-size="3.29" dy="-2.0">0</tspan></text>
<line x1="39.7" y1="742.7" x2="41.3" y2="742.7" stroke="#333" stroke-width="0.5"/>
<text x="39.50" y="745.00" font-size="4.7" text-anchor="end" fill="#4d4d4d">1<tspan font-size="4.70" dx="1.03">×</tspan>10<tspan font-size="3.29" dy="-2.0">6</tspan></text>
<line x1="39.7" y1="734.8" x2="41.3" y2="734.8" stroke="#333" stroke-width="0.5"/>
<text x="39.50" y="737.10" font-size="4.7" text-anchor="end" fill="#4d4d4d">2<tspan font-size="4.70" dx="1.03">×</tspan>10<tspan font-size="3.29" dy="-2.0">6</tspan></text>
<line x1="39.7" y1="726.9" x2="41.3" y2="726.9" stroke="#333" stroke-width="0.5"/>
<text x="39.50" y="729.20" font-size="4.7" text-anchor="end" fill="#4d4d4d">3<tspan font-size="4.70" dx="1.03">×</tspan>10<tspan font-size="3.29" dy="-2.0">6</tspan></text>
<line x1="39.7" y1="719" x2="41.3" y2="719" stroke="#333" stroke-width="0.5"/>
<text x="39.50" y="721.30" font-size="4.7" text-anchor="end" fill="#4d4d4d">4<tspan font-size="4.70" dx="1.03">×</tspan>10<tspan font-size="3.29" dy="-2.0">6</tspan></text>
<line x1="39.7" y1="711.1" x2="41.3" y2="711.1" stroke="#333" stroke-width="0.5"/>
<text x="39.50" y="713.40" font-size="4.7" text-anchor="end" fill="#4d4d4d">5<tspan font-size="4.70" dx="1.03">×</tspan>10<tspan font-size="3.29" dy="-2.0">6</tspan></text>
<line x1="57" y1="750.6" x2="57" y2="752.1" stroke="#333" stroke-width="0.5"/>
<text x="57.00" y="757.50" font-size="6.0" text-anchor="middle" fill="#000" >1h</text>
<line x1="81.7" y1="750.6" x2="81.7" y2="752.1" stroke="#333" stroke-width="0.5"/>
<text x="81.70" y="757.50" font-size="6.0" text-anchor="middle" fill="#000" >24h</text>
<text transform="translate(23.55,728.65) rotate(-90)" font-size="5.6" text-anchor="middle" fill="#000" stroke="#000" stroke-width="0.12">Peak height</text>
<text x="168.35" y="700.50" font-size="6.2" text-anchor="middle" fill="#000" >Arginine</text>
<rect x="144.7" y="738.9" width="5.25" height="10.7" fill="#a6a6a6" stroke="#1a1a1a" stroke-width="0.8"/>
<line x1="147.32" y1="737.24" x2="147.32" y2="740.56" stroke="#1a1a1a" stroke-width="0.6"/>
<line x1="146" y1="737.24" x2="148.65" y2="737.24" stroke="#1a1a1a" stroke-width="0.6"/>
<circle cx="147.29" cy="739.75" r="1.05" fill="#2e2e2e"/>
<circle cx="147.65" cy="736.98" r="1.05" fill="#2e2e2e"/>
<circle cx="146.58" cy="741.15" r="1.05" fill="#2e2e2e"/>
<rect x="150.35" y="717.3" width="5.25" height="32.3" fill="#e59597" stroke="#1a1a1a" stroke-width="0.8"/>
<line x1="152.97" y1="712" x2="152.97" y2="722.6" stroke="#1a1a1a" stroke-width="0.6"/>
<line x1="151.65" y1="712" x2="154.3" y2="712" stroke="#1a1a1a" stroke-width="0.6"/>
<circle cx="153.29" cy="710.72" r="1.05" fill="#8c1c1c"/>
<circle cx="152.99" cy="727.44" r="1.05" fill="#8c1c1c"/>
<circle cx="152.74" cy="717.06" r="1.05" fill="#8c1c1c"/>
<rect x="156" y="718.5" width="5.25" height="31.1" fill="#89a8dd" stroke="#1a1a1a" stroke-width="0.8"/>
<line x1="158.62" y1="715.21" x2="158.62" y2="721.79" stroke="#1a1a1a" stroke-width="0.6"/>
<line x1="157.3" y1="715.21" x2="159.95" y2="715.21" stroke="#1a1a1a" stroke-width="0.6"/>
<circle cx="158.07" cy="718.70" r="1.05" fill="#1c3c8c"/>
<circle cx="158.23" cy="721.82" r="1.05" fill="#1c3c8c"/>
<circle cx="158.63" cy="724.26" r="1.05" fill="#1c3c8c"/>
<rect x="161.65" y="719.9" width="5.25" height="29.7" fill="#80bfae" stroke="#1a1a1a" stroke-width="0.8"/>
<line x1="164.27" y1="716.72" x2="164.27" y2="723.08" stroke="#1a1a1a" stroke-width="0.6"/>
<line x1="162.95" y1="716.72" x2="165.6" y2="716.72" stroke="#1a1a1a" stroke-width="0.6"/>
<circle cx="164.09" cy="722.82" r="1.05" fill="#0e5a48"/>
<circle cx="164.03" cy="722.88" r="1.05" fill="#0e5a48"/>
<circle cx="163.56" cy="722.87" r="1.05" fill="#0e5a48"/>
<rect x="169.8" y="736" width="5.25" height="13.6" fill="#a6a6a6" stroke="#1a1a1a" stroke-width="0.8"/>
<line x1="172.42" y1="734.11" x2="172.42" y2="737.89" stroke="#1a1a1a" stroke-width="0.6"/>
<line x1="171.1" y1="734.11" x2="173.75" y2="734.11" stroke="#1a1a1a" stroke-width="0.6"/>
<circle cx="173.09" cy="738.14" r="1.05" fill="#2e2e2e"/>
<circle cx="172.63" cy="740.56" r="1.05" fill="#2e2e2e"/>
<circle cx="172.20" cy="740.49" r="1.05" fill="#2e2e2e"/>
<rect x="175.45" y="719.2" width="5.25" height="30.4" fill="#e59597" stroke="#1a1a1a" stroke-width="0.8"/>
<line x1="178.07" y1="715.97" x2="178.07" y2="722.43" stroke="#1a1a1a" stroke-width="0.6"/>
<line x1="176.75" y1="715.97" x2="179.4" y2="715.97" stroke="#1a1a1a" stroke-width="0.6"/>
<circle cx="178.87" cy="719.58" r="1.05" fill="#8c1c1c"/>
<circle cx="177.62" cy="719.81" r="1.05" fill="#8c1c1c"/>
<circle cx="178.07" cy="718.14" r="1.05" fill="#8c1c1c"/>
<rect x="181.1" y="717" width="5.25" height="32.6" fill="#89a8dd" stroke="#1a1a1a" stroke-width="0.8"/>
<line x1="183.72" y1="713.59" x2="183.72" y2="720.41" stroke="#1a1a1a" stroke-width="0.6"/>
<line x1="182.4" y1="713.59" x2="185.05" y2="713.59" stroke="#1a1a1a" stroke-width="0.6"/>
<circle cx="183.57" cy="724.75" r="1.05" fill="#1c3c8c"/>
<circle cx="183.27" cy="724.81" r="1.05" fill="#1c3c8c"/>
<circle cx="183.52" cy="718.61" r="1.05" fill="#1c3c8c"/>
<rect x="186.75" y="728.2" width="5.25" height="21.4" fill="#80bfae" stroke="#1a1a1a" stroke-width="0.8"/>
<line x1="189.37" y1="725.69" x2="189.37" y2="730.71" stroke="#1a1a1a" stroke-width="0.6"/>
<line x1="188.05" y1="725.69" x2="190.7" y2="725.69" stroke="#1a1a1a" stroke-width="0.6"/>
<circle cx="188.66" cy="734.68" r="1.05" fill="#0e5a48"/>
<circle cx="189.54" cy="733.53" r="1.05" fill="#0e5a48"/>
<circle cx="189.72" cy="729.69" r="1.05" fill="#0e5a48"/>
<circle cx="152.97" cy="708.70" r="1.05" fill="#8c1c1c"/>
<circle cx="158.62" cy="710.40" r="1.05" fill="#1c3c8c"/>
<polygon points="152.97,741.60 153.53,742.94 154.97,743.05 153.87,743.99 154.20,745.40 152.97,744.65 151.74,745.40 152.07,743.99 150.97,743.05 152.41,742.94" fill="#e8251f"/>
<polygon points="158.62,741.60 159.18,742.94 160.62,743.05 159.52,743.99 159.85,745.40 158.62,744.65 157.39,745.40 157.72,743.99 156.62,743.05 158.06,742.94" fill="#e8251f"/>
<polygon points="164.27,741.60 164.83,742.94 166.27,743.05 165.17,743.99 165.50,745.40 164.27,744.65 163.04,745.40 163.37,743.99 162.27,743.05 163.71,742.94" fill="#e8251f"/>
<polygon points="178.07,741.60 178.63,742.94 180.07,743.05 178.97,743.99 179.30,745.40 178.07,744.65 176.84,745.40 177.17,743.99 176.07,743.05 177.51,742.94" fill="#e8251f"/>
<polygon points="183.72,741.60 184.28,742.94 185.72,743.05 184.62,743.99 184.95,745.40 183.72,744.65 182.49,745.40 182.82,743.99 181.72,743.05 183.16,742.94" fill="#e8251f"/>
<polygon points="189.37,741.60 189.93,742.94 191.37,743.05 190.27,743.99 190.60,745.40 189.37,744.65 188.14,745.40 188.47,743.99 187.37,743.05 188.81,742.94" fill="#e8251f"/>
<line x1="140.5" y1="705.3" x2="140.5" y2="750.2" stroke="#222" stroke-width="1.25"/>
<line x1="139.9" y1="749.6" x2="196.2" y2="749.6" stroke="#222" stroke-width="1.25"/>
<line x1="138.9" y1="749.6" x2="140.5" y2="749.6" stroke="#333" stroke-width="0.5"/>
<text x="138.70" y="751.90" font-size="4.7" text-anchor="end" fill="#4d4d4d">0.0<tspan font-size="4.70" dx="1.03">×</tspan>10<tspan font-size="3.29" dy="-2.0">0</tspan></text>
<line x1="138.9" y1="740.4" x2="140.5" y2="740.4" stroke="#333" stroke-width="0.5"/>
<text x="138.70" y="742.70" font-size="4.7" text-anchor="end" fill="#4d4d4d">5.0<tspan font-size="4.70" dx="1.03">×</tspan>10<tspan font-size="3.29" dy="-2.0">5</tspan></text>
<line x1="138.9" y1="731.2" x2="140.5" y2="731.2" stroke="#333" stroke-width="0.5"/>
<text x="138.70" y="733.50" font-size="4.7" text-anchor="end" fill="#4d4d4d">1.0<tspan font-size="4.70" dx="1.03">×</tspan>10<tspan font-size="3.29" dy="-2.0">6</tspan></text>
<line x1="138.9" y1="722" x2="140.5" y2="722" stroke="#333" stroke-width="0.5"/>
<text x="138.70" y="724.30" font-size="4.7" text-anchor="end" fill="#4d4d4d">1.5<tspan font-size="4.70" dx="1.03">×</tspan>10<tspan font-size="3.29" dy="-2.0">6</tspan></text>
<line x1="138.9" y1="712.8" x2="140.5" y2="712.8" stroke="#333" stroke-width="0.5"/>
<text x="138.70" y="715.10" font-size="4.7" text-anchor="end" fill="#4d4d4d">2.0<tspan font-size="4.70" dx="1.03">×</tspan>10<tspan font-size="3.29" dy="-2.0">6</tspan></text>
<line x1="156.2" y1="749.6" x2="156.2" y2="751.1" stroke="#333" stroke-width="0.5"/>
<text x="156.20" y="756.50" font-size="6.0" text-anchor="middle" fill="#000" >1h</text>
<line x1="180.9" y1="749.6" x2="180.9" y2="751.1" stroke="#333" stroke-width="0.5"/>
<text x="180.90" y="756.50" font-size="6.0" text-anchor="middle" fill="#000" >24h</text>
<text transform="translate(118.83,727.75) rotate(-90)" font-size="5.6" text-anchor="middle" fill="#000" stroke="#000" stroke-width="0.12">Peak height</text>
<text x="266.00" y="698.80" font-size="6.2" text-anchor="middle" fill="#000" >4-Guanidinobutyric acid</text>
<rect x="248.6" y="747.6" width="5.25" height="0.5" fill="#a6a6a6" stroke="#1a1a1a" stroke-width="0.8"/>
<circle cx="251.22" cy="747.20" r="0.8" fill="#2e2e2e"/>
<rect x="254.25" y="747.6" width="5.25" height="0.5" fill="#e59597" stroke="#1a1a1a" stroke-width="0.8"/>
<circle cx="256.87" cy="747.20" r="0.8" fill="#8c1c1c"/>
<rect x="259.9" y="747.6" width="5.25" height="0.5" fill="#89a8dd" stroke="#1a1a1a" stroke-width="0.8"/>
<circle cx="262.52" cy="747.20" r="0.8" fill="#1c3c8c"/>
<rect x="265.55" y="725.3" width="5.25" height="22.8" fill="#80bfae" stroke="#1a1a1a" stroke-width="0.8"/>
<line x1="268.17" y1="722.68" x2="268.17" y2="727.92" stroke="#1a1a1a" stroke-width="0.6"/>
<line x1="266.85" y1="722.68" x2="269.5" y2="722.68" stroke="#1a1a1a" stroke-width="0.6"/>
<circle cx="268.76" cy="729.44" r="1.05" fill="#0e5a48"/>
<circle cx="267.65" cy="728.91" r="1.05" fill="#0e5a48"/>
<circle cx="267.51" cy="725.32" r="1.05" fill="#0e5a48"/>
<rect x="273.7" y="747.6" width="5.25" height="0.5" fill="#a6a6a6" stroke="#1a1a1a" stroke-width="0.8"/>
<circle cx="276.32" cy="747.20" r="0.8" fill="#2e2e2e"/>
<rect x="279.35" y="747.3" width="5.25" height="0.8" fill="#e59597" stroke="#1a1a1a" stroke-width="0.8"/>
<circle cx="281.97" cy="747.20" r="0.8" fill="#8c1c1c"/>
<rect x="285" y="747.6" width="5.25" height="0.5" fill="#89a8dd" stroke="#1a1a1a" stroke-width="0.8"/>
<circle cx="287.62" cy="747.20" r="0.8" fill="#1c3c8c"/>
<rect x="290.65" y="707.5" width="5.25" height="40.6" fill="#80bfae" stroke="#1a1a1a" stroke-width="0.8"/>
<line x1="293.27" y1="704" x2="293.27" y2="711" stroke="#1a1a1a" stroke-width="0.6"/>
<line x1="291.95" y1="704" x2="294.6" y2="704" stroke="#1a1a1a" stroke-width="0.6"/>
<circle cx="293.54" cy="714.21" r="1.05" fill="#0e5a48"/>
<circle cx="293.63" cy="702.28" r="1.05" fill="#0e5a48"/>
<circle cx="293.11" cy="710.09" r="1.05" fill="#0e5a48"/>
<polygon points="268.17,739.70 268.73,741.04 270.17,741.15 269.07,742.09 269.40,743.50 268.17,742.75 266.94,743.50 267.27,742.09 266.17,741.15 267.61,741.04" fill="#e8251f"/>
<polygon points="293.27,739.70 293.83,741.04 295.27,741.15 294.17,742.09 294.50,743.50 293.27,742.75 292.04,743.50 292.37,742.09 291.27,741.15 292.71,741.04" fill="#e8251f"/>
<line x1="244.4" y1="703.9" x2="244.4" y2="748.7" stroke="#222" stroke-width="1.25"/>
<line x1="243.8" y1="748.1" x2="300.1" y2="748.1" stroke="#222" stroke-width="1.25"/>
<line x1="242.8" y1="748.1" x2="244.4" y2="748.1" stroke="#333" stroke-width="0.5"/>
<text x="242.60" y="750.40" font-size="4.7" text-anchor="end" fill="#4d4d4d">0.0<tspan font-size="4.70" dx="1.03">×</tspan>10<tspan font-size="3.29" dy="-2.0">0</tspan></text>
<line x1="242.8" y1="737.1" x2="244.4" y2="737.1" stroke="#333" stroke-width="0.5"/>
<text x="242.60" y="739.40" font-size="4.7" text-anchor="end" fill="#4d4d4d">5.0<tspan font-size="4.70" dx="1.03">×</tspan>10<tspan font-size="3.29" dy="-2.0">4</tspan></text>
<line x1="242.8" y1="726.1" x2="244.4" y2="726.1" stroke="#333" stroke-width="0.5"/>
<text x="242.60" y="728.40" font-size="4.7" text-anchor="end" fill="#4d4d4d">1.0<tspan font-size="4.70" dx="1.03">×</tspan>10<tspan font-size="3.29" dy="-2.0">5</tspan></text>
<line x1="242.8" y1="715.1" x2="244.4" y2="715.1" stroke="#333" stroke-width="0.5"/>
<text x="242.60" y="717.40" font-size="4.7" text-anchor="end" fill="#4d4d4d">1.5<tspan font-size="4.70" dx="1.03">×</tspan>10<tspan font-size="3.29" dy="-2.0">5</tspan></text>
<line x1="242.8" y1="704.1" x2="244.4" y2="704.1" stroke="#333" stroke-width="0.5"/>
<text x="242.60" y="706.40" font-size="4.7" text-anchor="end" fill="#4d4d4d">2.0<tspan font-size="4.70" dx="1.03">×</tspan>10<tspan font-size="3.29" dy="-2.0">5</tspan></text>
<line x1="260.1" y1="748.1" x2="260.1" y2="749.6" stroke="#333" stroke-width="0.5"/>
<text x="260.10" y="755.00" font-size="6.0" text-anchor="middle" fill="#000" >1h</text>
<line x1="284.8" y1="748.1" x2="284.8" y2="749.6" stroke="#333" stroke-width="0.5"/>
<text x="284.80" y="755.00" font-size="6.0" text-anchor="middle" fill="#000" >24h</text>
<text transform="translate(222.73,726.30) rotate(-90)" font-size="5.6" text-anchor="middle" fill="#000" stroke="#000" stroke-width="0.12">Peak height</text>
<text x="560.95" y="698.50" font-size="6.2" text-anchor="middle" fill="#000" >Isocitric acid</text>
<rect x="537.3" y="739.3" width="5.25" height="8.7" fill="#a6a6a6" stroke="#1a1a1a" stroke-width="0.8"/>
<line x1="539.92" y1="737.8" x2="539.92" y2="740.8" stroke="#1a1a1a" stroke-width="0.6"/>
<line x1="538.6" y1="737.8" x2="541.25" y2="737.8" stroke="#1a1a1a" stroke-width="0.6"/>
<circle cx="539.25" cy="741.23" r="1.05" fill="#2e2e2e"/>
<circle cx="539.14" cy="739.44" r="1.05" fill="#2e2e2e"/>
<circle cx="539.99" cy="737.54" r="1.05" fill="#2e2e2e"/>
<rect x="542.95" y="715.1" width="5.25" height="32.9" fill="#e59597" stroke="#1a1a1a" stroke-width="0.8"/>
<line x1="545.57" y1="711.67" x2="545.57" y2="718.53" stroke="#1a1a1a" stroke-width="0.6"/>
<line x1="544.25" y1="711.67" x2="546.9" y2="711.67" stroke="#1a1a1a" stroke-width="0.6"/>
<circle cx="545.33" cy="722.88" r="1.05" fill="#8c1c1c"/>
<circle cx="546.20" cy="715.24" r="1.05" fill="#8c1c1c"/>
<circle cx="545.82" cy="718.90" r="1.05" fill="#8c1c1c"/>
<rect x="548.6" y="715.1" width="5.25" height="32.9" fill="#89a8dd" stroke="#1a1a1a" stroke-width="0.8"/>
<line x1="551.22" y1="711.67" x2="551.22" y2="718.53" stroke="#1a1a1a" stroke-width="0.6"/>
<line x1="549.9" y1="711.67" x2="552.55" y2="711.67" stroke="#1a1a1a" stroke-width="0.6"/>
<circle cx="551.76" cy="722.01" r="1.05" fill="#1c3c8c"/>
<circle cx="550.78" cy="712.90" r="1.05" fill="#1c3c8c"/>
<circle cx="551.95" cy="710.34" r="1.05" fill="#1c3c8c"/>
<rect x="554.25" y="717" width="5.25" height="31" fill="#80bfae" stroke="#1a1a1a" stroke-width="0.8"/>
<line x1="556.87" y1="713.72" x2="556.87" y2="720.28" stroke="#1a1a1a" stroke-width="0.6"/>
<line x1="555.55" y1="713.72" x2="558.2" y2="713.72" stroke="#1a1a1a" stroke-width="0.6"/>
<circle cx="557.00" cy="715.10" r="1.05" fill="#0e5a48"/>
<circle cx="557.25" cy="717.49" r="1.05" fill="#0e5a48"/>
<circle cx="556.63" cy="714.90" r="1.05" fill="#0e5a48"/>
<rect x="562.4" y="719.9" width="5.25" height="28.1" fill="#a6a6a6" stroke="#1a1a1a" stroke-width="0.8"/>
<line x1="565.02" y1="716.85" x2="565.02" y2="722.95" stroke="#1a1a1a" stroke-width="0.6"/>
<line x1="563.7" y1="716.85" x2="566.35" y2="716.85" stroke="#1a1a1a" stroke-width="0.6"/>
<circle cx="564.26" cy="725.61" r="1.05" fill="#2e2e2e"/>
<circle cx="565.61" cy="724.09" r="1.05" fill="#2e2e2e"/>
<circle cx="565.68" cy="726.58" r="1.05" fill="#2e2e2e"/>
<rect x="568.05" y="730.4" width="5.25" height="17.6" fill="#e59597" stroke="#1a1a1a" stroke-width="0.8"/>
<line x1="570.67" y1="728.19" x2="570.67" y2="732.61" stroke="#1a1a1a" stroke-width="0.6"/>
<line x1="569.35" y1="728.19" x2="572" y2="728.19" stroke="#1a1a1a" stroke-width="0.6"/>
<circle cx="570.92" cy="731.44" r="1.05" fill="#8c1c1c"/>
<circle cx="571.31" cy="728.61" r="1.05" fill="#8c1c1c"/>
<circle cx="571.09" cy="728.53" r="1.05" fill="#8c1c1c"/>
<rect x="573.7" y="718" width="5.25" height="30" fill="#89a8dd" stroke="#1a1a1a" stroke-width="0.8"/>
<line x1="576.32" y1="714.8" x2="576.32" y2="721.2" stroke="#1a1a1a" stroke-width="0.6"/>
<line x1="575" y1="714.8" x2="577.65" y2="714.8" stroke="#1a1a1a" stroke-width="0.6"/>
<circle cx="576.22" cy="714.76" r="1.05" fill="#1c3c8c"/>
<circle cx="577.00" cy="717.75" r="1.05" fill="#1c3c8c"/>
<circle cx="576.17" cy="722.30" r="1.05" fill="#1c3c8c"/>
<rect x="579.35" y="717" width="5.25" height="31" fill="#80bfae" stroke="#1a1a1a" stroke-width="0.8"/>
<line x1="581.97" y1="713.72" x2="581.97" y2="720.28" stroke="#1a1a1a" stroke-width="0.6"/>
<line x1="580.65" y1="713.72" x2="583.3" y2="713.72" stroke="#1a1a1a" stroke-width="0.6"/>
<circle cx="581.85" cy="713.62" r="1.05" fill="#0e5a48"/>
<circle cx="582.45" cy="725.42" r="1.05" fill="#0e5a48"/>
<circle cx="582.48" cy="713.05" r="1.05" fill="#0e5a48"/>
<circle cx="551.22" cy="707.20" r="1.05" fill="#1c3c8c"/>
<circle cx="545.57" cy="709.70" r="1.05" fill="#8c1c1c"/>
<circle cx="556.87" cy="712.60" r="1.05" fill="#0e5a48"/>
<circle cx="581.97" cy="712.60" r="1.05" fill="#0e5a48"/>
<polygon points="545.57,739.70 546.13,741.04 547.57,741.15 546.47,742.09 546.80,743.50 545.57,742.75 544.34,743.50 544.67,742.09 543.57,741.15 545.01,741.04" fill="#e8251f"/>
<polygon points="551.22,739.70 551.78,741.04 553.22,741.15 552.12,742.09 552.45,743.50 551.22,742.75 549.99,743.50 550.32,742.09 549.22,741.15 550.66,741.04" fill="#e8251f"/>
<polygon points="556.87,739.70 557.43,741.04 558.87,741.15 557.77,742.09 558.10,743.50 556.87,742.75 555.64,743.50 555.97,742.09 554.87,741.15 556.31,741.04" fill="#e8251f"/>
<polygon points="570.67,739.70 571.23,741.04 572.67,741.15 571.57,742.09 571.90,743.50 570.67,742.75 569.44,743.50 569.77,742.09 568.67,741.15 570.11,741.04" fill="#e8251f"/>
<line x1="533.1" y1="703.4" x2="533.1" y2="748.6" stroke="#222" stroke-width="1.25"/>
<line x1="532.5" y1="748" x2="588.8" y2="748" stroke="#222" stroke-width="1.25"/>
<line x1="531.5" y1="748" x2="533.1" y2="748" stroke="#333" stroke-width="0.5"/>
<text x="531.30" y="750.30" font-size="4.7" text-anchor="end" fill="#4d4d4d">0.0<tspan font-size="4.70" dx="1.03">×</tspan>10<tspan font-size="3.29" dy="-2.0">0</tspan></text>
<line x1="531.5" y1="738.4" x2="533.1" y2="738.4" stroke="#333" stroke-width="0.5"/>
<text x="531.30" y="740.70" font-size="4.7" text-anchor="end" fill="#4d4d4d">5.0<tspan font-size="4.70" dx="1.03">×</tspan>10<tspan font-size="3.29" dy="-2.0">3</tspan></text>
<line x1="531.5" y1="728.8" x2="533.1" y2="728.8" stroke="#333" stroke-width="0.5"/>
<text x="531.30" y="731.10" font-size="4.7" text-anchor="end" fill="#4d4d4d">1.0<tspan font-size="4.70" dx="1.03">×</tspan>10<tspan font-size="3.29" dy="-2.0">4</tspan></text>
<line x1="531.5" y1="719.2" x2="533.1" y2="719.2" stroke="#333" stroke-width="0.5"/>
<text x="531.30" y="721.50" font-size="4.7" text-anchor="end" fill="#4d4d4d">1.5<tspan font-size="4.70" dx="1.03">×</tspan>10<tspan font-size="3.29" dy="-2.0">4</tspan></text>
<line x1="531.5" y1="709.6" x2="533.1" y2="709.6" stroke="#333" stroke-width="0.5"/>
<text x="531.30" y="711.90" font-size="4.7" text-anchor="end" fill="#4d4d4d">2.0<tspan font-size="4.70" dx="1.03">×</tspan>10<tspan font-size="3.29" dy="-2.0">4</tspan></text>
<line x1="548.8" y1="748" x2="548.8" y2="749.5" stroke="#333" stroke-width="0.5"/>
<text x="548.80" y="754.90" font-size="6.0" text-anchor="middle" fill="#000" >1h</text>
<line x1="573.5" y1="748" x2="573.5" y2="749.5" stroke="#333" stroke-width="0.5"/>
<text x="573.50" y="754.90" font-size="6.0" text-anchor="middle" fill="#000" >24h</text>
<text transform="translate(511.43,726.00) rotate(-90)" font-size="5.6" text-anchor="middle" fill="#000" stroke="#000" stroke-width="0.12">Peak height</text>
<line x1="98.20" y1="390.50" x2="104.50" y2="390.50" stroke="#000" stroke-width="1.0"/>
<polygon points="109.60,390.50 104.00,392.70 104.00,388.30" fill="#000"/>
<line x1="197.00" y1="392.50" x2="203.30" y2="392.50" stroke="#000" stroke-width="1.0"/>
<polygon points="208.40,392.50 202.80,394.70 202.80,390.30" fill="#000"/>
<line x1="295.00" y1="391.30" x2="300.50" y2="391.30" stroke="#000" stroke-width="1.0"/>
<polygon points="305.60,391.30 300.00,393.50 300.00,389.10" fill="#000"/>
<line x1="391.20" y1="394.10" x2="396.30" y2="394.10" stroke="#000" stroke-width="1.0"/>
<polygon points="401.40,394.10 395.80,396.30 395.80,391.90" fill="#000"/>
<line x1="490.80" y1="390.00" x2="496.30" y2="390.00" stroke="#000" stroke-width="1.0"/>
<polygon points="501.40,390.00 495.80,392.20 495.80,387.80" fill="#000"/>
<line x1="167.60" y1="424.60" x2="167.60" y2="430.10" stroke="#000" stroke-width="1.0"/>
<polygon points="167.60,435.20 165.40,429.60 169.80,429.60" fill="#000"/>
<line x1="111.00" y1="469.10" x2="105.70" y2="469.10" stroke="#000" stroke-width="1.0"/>
<polygon points="100.60,469.10 106.20,466.90 106.20,471.30" fill="#000"/>
<line x1="550.50" y1="426.40" x2="550.50" y2="432.10" stroke="#000" stroke-width="1.0"/>
<polygon points="550.50,437.20 548.30,431.60 552.70,431.60" fill="#000"/>
<line x1="550.50" y1="451.30" x2="550.50" y2="457.10" stroke="#000" stroke-width="1.0"/>
<polygon points="550.50,462.20 548.30,456.60 552.70,456.60" fill="#000"/>
<line x1="647.60" y1="427.50" x2="647.60" y2="433.30" stroke="#000" stroke-width="1.0"/>
<polygon points="647.60,438.40 645.40,432.80 649.80,432.80" fill="#000"/>
<line x1="500.00" y1="470.10" x2="520.90" y2="470.10" stroke="#000" stroke-width="1.0"/>
<polygon points="526.00,470.10 520.40,472.30 520.40,467.90" fill="#000"/>
<line x1="572.70" y1="469.00" x2="591.90" y2="469.00" stroke="#000" stroke-width="1.0"/>
<polygon points="597.00,469.00 591.40,471.20 591.40,466.80" fill="#000"/>
<line x1="209.00" y1="469.10" x2="301.40" y2="469.10" stroke="#000" stroke-width="1.0"/>
<polygon points="306.50,469.10 300.90,471.30 300.90,466.90" fill="#000"/>
<path d="M255.2,465.2 C262,470.6 278,470.8 289,463.5 C297,458 303,449 306.8,440.5" fill="none" stroke="#000" stroke-width="0.8"/>
<polygon points="309.20,435.60 308.88,440.94 305.42,439.38" fill="#000"/>
<text x="244.60" y="461.60" font-size="10.0" text-anchor="start" fill="#000" >X5P</text>
<text x="550.30" y="448.10" font-size="8.3" text-anchor="middle" fill="#000" >PEP</text>
<text x="549.20" y="472.20" font-size="7.85" text-anchor="middle" fill="#000" >Pyruvate</text>
<line x1="111.00" y1="570.00" x2="105.70" y2="570.00" stroke="#000" stroke-width="1.0"/>
<polygon points="100.60,570.00 106.20,567.80 106.20,572.20" fill="#000"/>
<line x1="315.20" y1="568.40" x2="309.70" y2="568.40" stroke="#000" stroke-width="1.0"/>
<polygon points="304.60,568.40 310.20,566.20 310.20,570.60" fill="#000"/>
<line x1="170.40" y1="610.20" x2="170.40" y2="604.90" stroke="#000" stroke-width="1.0"/>
<polygon points="170.40,599.80 172.60,605.40 168.20,605.40" fill="#000"/>
<line x1="272.20" y1="599.00" x2="272.20" y2="604.50" stroke="#000" stroke-width="1.0"/>
<polygon points="272.20,609.60 270.00,604.00 274.40,604.00" fill="#000"/>
<line x1="174.50" y1="690.20" x2="174.50" y2="684.90" stroke="#000" stroke-width="1.0"/>
<polygon points="174.50,679.80 176.70,685.40 172.30,685.40" fill="#000"/>
<line x1="272.20" y1="678.70" x2="272.20" y2="684.20" stroke="#000" stroke-width="1.0"/>
<polygon points="272.20,689.30 270.00,683.70 274.40,683.70" fill="#000"/>
<line x1="120.90" y1="689.00" x2="102.48" y2="681.03" stroke="#000" stroke-width="1.0"/>
<polygon points="97.80,679.00 103.81,679.21 102.07,683.24" fill="#000"/>
<line x1="111.00" y1="728.70" x2="105.70" y2="728.70" stroke="#000" stroke-width="1.0"/>
<polygon points="100.60,728.70 106.20,726.50 106.20,730.90" fill="#000"/>
<line x1="205.00" y1="725.00" x2="211.10" y2="725.00" stroke="#000" stroke-width="1.0"/>
<polygon points="216.20,725.00 210.60,727.20 210.60,722.80" fill="#000"/>
<polyline points="320.7,646.6 343.1,646.6 343.1,620.4 388.5,620.4" fill="none" stroke="#000" stroke-width="0.9" stroke-dasharray="2.2,1.6"/>
<polygon points="392.40,620.40 386.80,622.60 386.80,618.20" fill="#000"/>
<line x1="652.1" y1="513.5" x2="652.1" y2="558.5" stroke="#000" stroke-width="0.9" stroke-dasharray="2.2,1.6"/>
<polygon points="652.10,562.00 649.90,556.40 654.30,556.40" fill="#000"/>
<line x1="461.40" y1="649.00" x2="461.40" y2="644.10" stroke="#000" stroke-width="1.0"/>
<polygon points="461.40,639.00 463.60,644.60 459.20,644.60" fill="#000"/>
<line x1="656.70" y1="637.30" x2="656.70" y2="644.10" stroke="#000" stroke-width="1.0"/>
<polygon points="656.70,649.20 654.50,643.60 658.90,643.60" fill="#000"/>
<line x1="615.40" y1="652.80" x2="598.60" y2="646.73" stroke="#000" stroke-width="1.0"/>
<polygon points="593.80,645.00 599.81,644.83 598.32,648.97" fill="#000"/>
<path d="M472.2,569.6 Q478,556 499.0,554.6" fill="none" stroke="#000" stroke-width="1.0"/>
<polygon points="502.20,554.30 496.85,557.05 496.41,552.67" fill="#000"/>
<path d="M596.0,552.2 Q615,556 620.6,568.4" fill="none" stroke="#000" stroke-width="1.0"/>
<polygon points="621.30,571.80 618.04,566.74 622.36,565.88" fill="#000"/>
<path d="M625.8,721.0 Q620,734 599.0,736.0" fill="none" stroke="#000" stroke-width="1.0"/>
<polygon points="595.60,736.40 601.08,733.92 601.30,738.32" fill="#000"/>
<path d="M497.4,740.3 Q476,737 471.6,723.5" fill="none" stroke="#000" stroke-width="1.0"/>
<polygon points="471.00,720.00 474.01,725.21 469.66,725.86" fill="#000"/>
<rect x="614.8" y="749.8" width="9.5" height="9.5" fill="#a6a6a6" stroke="#2a2a2a" stroke-width="1.0"/>
<circle cx="619.55" cy="754.55" r="0.9" fill="#2e2e2e" opacity="0.7"/>
<text x="627.80" y="757.00" font-size="7.8" text-anchor="start" fill="#000" >Control</text>
<rect x="659.5" y="749.8" width="9.5" height="9.5" fill="#89a8dd" stroke="#2a2a2a" stroke-width="1.0"/>
<circle cx="664.25" cy="754.55" r="0.9" fill="#1c3c8c" opacity="0.7"/>
<text x="672.20" y="757.00" font-size="7.8" text-anchor="start" fill="#000" >ILG</text>
<rect x="614.8" y="764.4" width="9.5" height="9.5" fill="#e59597" stroke="#2a2a2a" stroke-width="1.0"/>
<circle cx="619.55" cy="769.15" r="0.9" fill="#8c1c1c" opacity="0.7"/>
<text x="627.80" y="771.60" font-size="7.8" text-anchor="start" fill="#000" >LPS</text>
<rect x="659.5" y="764.4" width="9.5" height="9.5" fill="#80bfae" stroke="#2a2a2a" stroke-width="1.0"/>
<circle cx="664.25" cy="769.15" r="0.9" fill="#0e5a48" opacity="0.7"/>
<text x="672.20" y="771.60" font-size="7.8" text-anchor="start" fill="#000" >GU</text>
<text x="13.50" y="807.80" font-size="21" text-anchor="start" fill="#000" >d</text>
<text x="12.20" y="922.20" font-size="21" text-anchor="start" fill="#000" >e</text>
<text x="71.30" y="800.30" font-size="11.2" text-anchor="start" fill="#000" >S2</text>
<circle cx="82.20" cy="810.20" r="0.85" fill="#e05050" opacity="0.8"/>
<circle cx="82.20" cy="817.50" r="0.85" fill="#e05050" opacity="0.8"/>
<circle cx="75.50" cy="832.00" r="0.85" fill="#2a8a70" opacity="0.8"/>
<circle cx="75.50" cy="834.00" r="0.85" fill="#3060c0" opacity="0.8"/>
<circle cx="75.80" cy="836.00" r="0.85" fill="#e05050" opacity="0.8"/>
<circle cx="82.20" cy="830.00" r="0.85" fill="#2a8a70" opacity="0.8"/>
<circle cx="82.50" cy="856.20" r="0.85" fill="#3060c0" opacity="0.8"/>
<circle cx="155.80" cy="812.60" r="0.85" fill="#e05050" opacity="0.8"/>
<circle cx="155.80" cy="831.00" r="0.85" fill="#2a8a70" opacity="0.8"/>
<circle cx="155.80" cy="836.50" r="0.85" fill="#e05050" opacity="0.8"/>
<circle cx="155.80" cy="855.50" r="0.85" fill="#3060c0" opacity="0.8"/>
<circle cx="155.80" cy="861.50" r="0.85" fill="#2a8a70" opacity="0.8"/>
<circle cx="75.80" cy="874.50" r="0.85" fill="#3060c0" opacity="0.8"/>
<line x1="71" y1="803.1" x2="71" y2="875.2" stroke="#555" stroke-width="1.3"/>
<line x1="70.4" y1="874.6" x2="160.8" y2="874.6" stroke="#555" stroke-width="1.3"/>
<line x1="69" y1="813.1" x2="71" y2="813.1" stroke="#333" stroke-width="0.6"/>
<text x="67.40" y="817.40" font-size="6.6" text-anchor="end" fill="#4d4d4d">3<tspan dx="1.3" font-size="6.0">×</tspan>10<tspan font-size="4.8" dy="-3.0">8</tspan></text>
<line x1="69" y1="833.7" x2="71" y2="833.7" stroke="#333" stroke-width="0.6"/>
<text x="67.40" y="838.00" font-size="6.6" text-anchor="end" fill="#4d4d4d">2<tspan dx="1.3" font-size="6.0">×</tspan>10<tspan font-size="4.8" dy="-3.0">8</tspan></text>
<line x1="69" y1="854.2" x2="71" y2="854.2" stroke="#333" stroke-width="0.6"/>
<text x="67.40" y="858.50" font-size="6.6" text-anchor="end" fill="#4d4d4d">1<tspan dx="1.3" font-size="6.0">×</tspan>10<tspan font-size="4.8" dy="-3.0">8</tspan></text>
<line x1="69" y1="874.7" x2="71" y2="874.7" stroke="#333" stroke-width="0.6"/>
<text x="67.40" y="879.00" font-size="6.6" text-anchor="end" fill="#4d4d4d">0<tspan dx="1.3" font-size="6.0">×</tspan>10<tspan font-size="4.8" dy="-3.0">0</tspan></text>
<polyline points="75.3,843.0 82.2,824.5 155.8,840.6" fill="none" stroke="#c21c24" stroke-width="1.9" stroke-linejoin="round"/>
<polyline points="75.2,858.8 82.2,849.6 155.8,846.4" fill="none" stroke="#333333" stroke-width="1.9" stroke-linejoin="round"/>
<polyline points="75.2,841.2 76.0,852.4 82.2,843.8 155.8,843.2" fill="none" stroke="#0b6e5a" stroke-width="1.9" stroke-linejoin="round"/>
<polyline points="75.2,845.5 76.0,862.2 82.2,851.7 155.8,848.0" fill="none" stroke="#1a4fb5" stroke-width="1.9" stroke-linejoin="round"/>
<circle cx="75.30" cy="843.00" r="1.75" fill="#fff" stroke="#c21c24" stroke-width="0.9"/>
<circle cx="82.20" cy="824.50" r="1.75" fill="#fff" stroke="#c21c24" stroke-width="0.9"/>
<circle cx="155.80" cy="840.60" r="1.75" fill="#fff" stroke="#c21c24" stroke-width="0.9"/>
<circle cx="75.20" cy="858.80" r="1.75" fill="#fff" stroke="#333333" stroke-width="0.9"/>
<circle cx="82.20" cy="849.60" r="1.75" fill="#fff" stroke="#333333" stroke-width="0.9"/>
<circle cx="155.80" cy="846.40" r="1.75" fill="#fff" stroke="#333333" stroke-width="0.9"/>
<circle cx="75.20" cy="841.20" r="1.75" fill="#fff" stroke="#0b6e5a" stroke-width="0.9"/>
<circle cx="76.00" cy="852.40" r="1.75" fill="#fff" stroke="#0b6e5a" stroke-width="0.9"/>
<circle cx="82.20" cy="843.80" r="1.75" fill="#fff" stroke="#0b6e5a" stroke-width="0.9"/>
<circle cx="155.80" cy="843.20" r="1.75" fill="#fff" stroke="#0b6e5a" stroke-width="0.9"/>
<circle cx="75.20" cy="845.50" r="1.75" fill="#fff" stroke="#1a4fb5" stroke-width="0.9"/>
<circle cx="76.00" cy="862.20" r="1.75" fill="#fff" stroke="#1a4fb5" stroke-width="0.9"/>
<circle cx="82.20" cy="851.70" r="1.75" fill="#fff" stroke="#1a4fb5" stroke-width="0.9"/>
<circle cx="155.80" cy="848.00" r="1.75" fill="#fff" stroke="#1a4fb5" stroke-width="0.9"/>
<line x1="75.5" y1="874.6" x2="75.5" y2="876.6" stroke="#333" stroke-width="0.6"/>
<line x1="156.2" y1="874.6" x2="156.2" y2="876.6" stroke="#333" stroke-width="0.6"/>
<text x="75.50" y="887.10" font-size="11.0" text-anchor="middle" fill="#000" >0h</text>
<text x="156.20" y="887.10" font-size="11.0" text-anchor="middle" fill="#000" >24h</text>
<text x="115.90" y="901.10" font-size="11.0" text-anchor="middle" fill="#000" >Time</text>
<text transform="translate(44.00,841.25) rotate(-90)" font-size="10.5" text-anchor="middle" fill="#000" >Peak height</text>
<line x1="235" y1="827.9" x2="244" y2="827.9" stroke="#000" stroke-width="1.8"/>
<text x="246.60" y="831.40" font-size="9.8" text-anchor="start" fill="#000" >Control</text>
<line x1="235" y1="840.1" x2="244" y2="840.1" stroke="#c21c24" stroke-width="1.8"/>
<text x="246.60" y="843.60" font-size="9.8" text-anchor="start" fill="#000" >LPS</text>
<line x1="235" y1="853" x2="244" y2="853" stroke="#1a4fb5" stroke-width="1.8"/>
<text x="246.60" y="856.50" font-size="9.8" text-anchor="start" fill="#000" >ILG</text>
<line x1="235" y1="865.2" x2="244" y2="865.2" stroke="#0b6e5a" stroke-width="1.8"/>
<text x="246.60" y="868.70" font-size="9.8" text-anchor="start" fill="#000" >GU</text>
<text x="71.50" y="919.40" font-size="11.2" text-anchor="start" fill="#000" >S36</text>
<circle cx="75.50" cy="931.00" r="0.85" fill="#e05050" opacity="0.8"/>
<circle cx="76.00" cy="934.00" r="0.85" fill="#e05050" opacity="0.8"/>
<circle cx="82.50" cy="939.00" r="0.85" fill="#e05050" opacity="0.8"/>
<circle cx="82.50" cy="951.00" r="0.85" fill="#e05050" opacity="0.8"/>
<circle cx="75.50" cy="949.00" r="0.85" fill="#2a8a70" opacity="0.8"/>
<circle cx="82.50" cy="962.00" r="0.85" fill="#3060c0" opacity="0.8"/>
<circle cx="156.20" cy="928.50" r="0.85" fill="#e05050" opacity="0.8"/>
<circle cx="156.20" cy="941.50" r="0.85" fill="#e05050" opacity="0.8"/>
<circle cx="156.20" cy="961.50" r="0.85" fill="#3060c0" opacity="0.8"/>
<circle cx="75.50" cy="993.00" r="0.85" fill="#3060c0" opacity="0.8"/>
<line x1="70.9" y1="922" x2="70.9" y2="993.9" stroke="#555" stroke-width="1.3"/>
<line x1="70.3" y1="993.3" x2="160.5" y2="993.3" stroke="#555" stroke-width="1.3"/>
<line x1="68.9" y1="937.3" x2="70.9" y2="937.3" stroke="#333" stroke-width="0.6"/>
<text x="67.30" y="941.60" font-size="6.6" text-anchor="end" fill="#4d4d4d">6<tspan dx="1.3" font-size="6.0">×</tspan>10<tspan font-size="4.8" dy="-3.0">7</tspan></text>
<line x1="68.9" y1="956.2" x2="70.9" y2="956.2" stroke="#333" stroke-width="0.6"/>
<text x="67.30" y="960.50" font-size="6.6" text-anchor="end" fill="#4d4d4d">4<tspan dx="1.3" font-size="6.0">×</tspan>10<tspan font-size="4.8" dy="-3.0">7</tspan></text>
<line x1="68.9" y1="975" x2="70.9" y2="975" stroke="#333" stroke-width="0.6"/>
<text x="67.30" y="979.30" font-size="6.6" text-anchor="end" fill="#4d4d4d">2<tspan dx="1.3" font-size="6.0">×</tspan>10<tspan font-size="4.8" dy="-3.0">7</tspan></text>
<line x1="68.9" y1="993.8" x2="70.9" y2="993.8" stroke="#333" stroke-width="0.6"/>
<text x="67.30" y="998.10" font-size="6.6" text-anchor="end" fill="#4d4d4d">0<tspan dx="1.3" font-size="6.0">×</tspan>10<tspan font-size="4.8" dy="-3.0">0</tspan></text>
<polyline points="74.9,976.1 76.0,938.0 82.1,948.0 156.2,937.5" fill="none" stroke="#333333" stroke-width="1.9" stroke-linejoin="round"/>
<polyline points="74.9,937.5 76.0,936.5 82.1,943.6 156.2,954.5" fill="none" stroke="#c21c24" stroke-width="1.9" stroke-linejoin="round"/>
<polyline points="74.9,967.0 76.0,969.0 82.1,957.8 156.2,978.2" fill="none" stroke="#0b6e5a" stroke-width="1.9" stroke-linejoin="round"/>
<polyline points="74.9,958.0 76.0,974.0 82.1,971.0 156.2,972.0" fill="none" stroke="#1a4fb5" stroke-width="1.9" stroke-linejoin="round"/>
<circle cx="74.90" cy="976.10" r="1.75" fill="#fff" stroke="#333333" stroke-width="0.9"/>
<circle cx="76.00" cy="938.00" r="1.75" fill="#fff" stroke="#333333" stroke-width="0.9"/>
<circle cx="82.10" cy="948.00" r="1.75" fill="#fff" stroke="#333333" stroke-width="0.9"/>
<circle cx="156.20" cy="937.50" r="1.75" fill="#fff" stroke="#333333" stroke-width="0.9"/>
<circle cx="74.90" cy="937.50" r="1.75" fill="#fff" stroke="#c21c24" stroke-width="0.9"/>
<circle cx="76.00" cy="936.50" r="1.75" fill="#fff" stroke="#c21c24" stroke-width="0.9"/>
<circle cx="82.10" cy="943.60" r="1.75" fill="#fff" stroke="#c21c24" stroke-width="0.9"/>
<circle cx="156.20" cy="954.50" r="1.75" fill="#fff" stroke="#c21c24" stroke-width="0.9"/>
<circle cx="74.90" cy="967.00" r="1.75" fill="#fff" stroke="#0b6e5a" stroke-width="0.9"/>
<circle cx="76.00" cy="969.00" r="1.75" fill="#fff" stroke="#0b6e5a" stroke-width="0.9"/>
<circle cx="82.10" cy="957.80" r="1.75" fill="#fff" stroke="#0b6e5a" stroke-width="0.9"/>
<circle cx="156.20" cy="978.20" r="1.75" fill="#fff" stroke="#0b6e5a" stroke-width="0.9"/>
<circle cx="74.90" cy="958.00" r="1.75" fill="#fff" stroke="#1a4fb5" stroke-width="0.9"/>
<circle cx="76.00" cy="974.00" r="1.75" fill="#fff" stroke="#1a4fb5" stroke-width="0.9"/>
<circle cx="82.10" cy="971.00" r="1.75" fill="#fff" stroke="#1a4fb5" stroke-width="0.9"/>
<circle cx="156.20" cy="972.00" r="1.75" fill="#fff" stroke="#1a4fb5" stroke-width="0.9"/>
<line x1="75.4" y1="993.3" x2="75.4" y2="995.3" stroke="#333" stroke-width="0.6"/>
<line x1="155.9" y1="993.3" x2="155.9" y2="995.3" stroke="#333" stroke-width="0.6"/>
<text x="75.40" y="1005.80" font-size="11.0" text-anchor="middle" fill="#000" >0h</text>
<text x="155.90" y="1005.80" font-size="11.0" text-anchor="middle" fill="#000" >24h</text>
<text x="115.70" y="1019.80" font-size="11.0" text-anchor="middle" fill="#000" >Time</text>
<text transform="translate(43.90,958.15) rotate(-90)" font-size="10.5" text-anchor="middle" fill="#000" >Peak height</text>
<text x="200.70" y="918.60" font-size="11.2" text-anchor="start" fill="#000" >S39</text>
<circle cx="205.70" cy="941.00" r="0.85" fill="#555" opacity="0.8"/>
<circle cx="212.90" cy="948.00" r="0.85" fill="#3060c0" opacity="0.8"/>
<circle cx="212.90" cy="957.00" r="0.85" fill="#e05050" opacity="0.8"/>
<circle cx="286.70" cy="928.00" r="0.85" fill="#e05050" opacity="0.8"/>
<circle cx="286.70" cy="932.00" r="0.85" fill="#555" opacity="0.8"/>
<circle cx="286.70" cy="943.00" r="0.85" fill="#e05050" opacity="0.8"/>
<circle cx="286.70" cy="964.00" r="0.85" fill="#3060c0" opacity="0.8"/>
<circle cx="286.70" cy="968.00" r="0.85" fill="#3060c0" opacity="0.8"/>
<line x1="201.3" y1="922.4" x2="201.3" y2="994" stroke="#555" stroke-width="1.3"/>
<line x1="200.7" y1="993.4" x2="290.5" y2="993.4" stroke="#555" stroke-width="1.3"/>
<line x1="199.3" y1="924.3" x2="201.3" y2="924.3" stroke="#333" stroke-width="0.6"/>
<text x="197.70" y="928.60" font-size="6.6" text-anchor="end" fill="#4d4d4d">8<tspan dx="1.3" font-size="6.0">×</tspan>10<tspan font-size="4.8" dy="-3.0">7</tspan></text>
<line x1="199.3" y1="941.6" x2="201.3" y2="941.6" stroke="#333" stroke-width="0.6"/>
<text x="197.70" y="945.90" font-size="6.6" text-anchor="end" fill="#4d4d4d">6<tspan dx="1.3" font-size="6.0">×</tspan>10<tspan font-size="4.8" dy="-3.0">7</tspan></text>
<line x1="199.3" y1="958.9" x2="201.3" y2="958.9" stroke="#333" stroke-width="0.6"/>
<text x="197.70" y="963.20" font-size="6.6" text-anchor="end" fill="#4d4d4d">4<tspan dx="1.3" font-size="6.0">×</tspan>10<tspan font-size="4.8" dy="-3.0">7</tspan></text>
<line x1="199.3" y1="976.2" x2="201.3" y2="976.2" stroke="#333" stroke-width="0.6"/>
<text x="197.70" y="980.50" font-size="6.6" text-anchor="end" fill="#4d4d4d">2<tspan dx="1.3" font-size="6.0">×</tspan>10<tspan font-size="4.8" dy="-3.0">7</tspan></text>
<line x1="199.3" y1="993.5" x2="201.3" y2="993.5" stroke="#333" stroke-width="0.6"/>
<text x="197.70" y="997.80" font-size="6.6" text-anchor="end" fill="#4d4d4d">0<tspan dx="1.3" font-size="6.0">×</tspan>10<tspan font-size="4.8" dy="-3.0">0</tspan></text>
<polyline points="205.7,945.5 212.7,978.0 286.7,948.0" fill="none" stroke="#333333" stroke-width="1.9" stroke-linejoin="round"/>
<polyline points="205.7,950.5 212.7,952.6 286.7,955.0" fill="none" stroke="#c21c24" stroke-width="1.9" stroke-linejoin="round"/>
<polyline points="205.7,976.0 206.4,964.0 212.7,961.0 286.7,993.0" fill="none" stroke="#0b6e5a" stroke-width="1.9" stroke-linejoin="round"/>
<polyline points="205.7,960.0 206.4,965.5 212.7,967.0 286.7,975.5" fill="none" stroke="#1a4fb5" stroke-width="1.9" stroke-linejoin="round"/>
<circle cx="205.70" cy="945.50" r="1.75" fill="#fff" stroke="#333333" stroke-width="0.9"/>
<circle cx="212.70" cy="978.00" r="1.75" fill="#fff" stroke="#333333" stroke-width="0.9"/>
<circle cx="286.70" cy="948.00" r="1.75" fill="#fff" stroke="#333333" stroke-width="0.9"/>
<circle cx="205.70" cy="950.50" r="1.75" fill="#fff" stroke="#c21c24" stroke-width="0.9"/>
<circle cx="212.70" cy="952.60" r="1.75" fill="#fff" stroke="#c21c24" stroke-width="0.9"/>
<circle cx="286.70" cy="955.00" r="1.75" fill="#fff" stroke="#c21c24" stroke-width="0.9"/>
<circle cx="205.70" cy="976.00" r="1.75" fill="#fff" stroke="#0b6e5a" stroke-width="0.9"/>
<circle cx="206.40" cy="964.00" r="1.75" fill="#fff" stroke="#0b6e5a" stroke-width="0.9"/>
<circle cx="212.70" cy="961.00" r="1.75" fill="#fff" stroke="#0b6e5a" stroke-width="0.9"/>
<circle cx="286.70" cy="993.00" r="1.75" fill="#fff" stroke="#0b6e5a" stroke-width="0.9"/>
<circle cx="205.70" cy="960.00" r="1.75" fill="#fff" stroke="#1a4fb5" stroke-width="0.9"/>
<circle cx="206.40" cy="965.50" r="1.75" fill="#fff" stroke="#1a4fb5" stroke-width="0.9"/>
<circle cx="212.70" cy="967.00" r="1.75" fill="#fff" stroke="#1a4fb5" stroke-width="0.9"/>
<circle cx="286.70" cy="975.50" r="1.75" fill="#fff" stroke="#1a4fb5" stroke-width="0.9"/>
<line x1="205.8" y1="993.4" x2="205.8" y2="995.4" stroke="#333" stroke-width="0.6"/>
<line x1="285.9" y1="993.4" x2="285.9" y2="995.4" stroke="#333" stroke-width="0.6"/>
<text x="205.80" y="1005.90" font-size="11.0" text-anchor="middle" fill="#000" >0h</text>
<text x="285.90" y="1005.90" font-size="11.0" text-anchor="middle" fill="#000" >24h</text>
<text x="245.90" y="1019.90" font-size="11.0" text-anchor="middle" fill="#000" >Time</text>
<text x="360.50" y="808.30" font-size="21" text-anchor="start" fill="#000" >f</text>
<rect x="378.3" y="798.8" width="9.57" height="9.4" fill="#b81c24" stroke="#777" stroke-width="0.7"/>
<rect x="378.3" y="810.4" width="9.57" height="9.5" fill="#fdeed4" stroke="#777" stroke-width="0.7"/>
<rect x="387.87" y="798.8" width="9.57" height="9.4" fill="#b81c24" stroke="#777" stroke-width="0.7"/>
<rect x="387.87" y="810.4" width="9.57" height="9.5" fill="#f9d694" stroke="#777" stroke-width="0.7"/>
<rect x="397.43" y="798.8" width="9.57" height="9.4" fill="#1a45a8" stroke="#777" stroke-width="0.7"/>
<rect x="397.43" y="810.4" width="9.57" height="9.5" fill="#f9d896" stroke="#777" stroke-width="0.7"/>
<rect x="407" y="798.8" width="9.57" height="9.4" fill="#1a45a8" stroke="#777" stroke-width="0.7"/>
<rect x="407" y="810.4" width="9.57" height="9.5" fill="#f8cc7c" stroke="#777" stroke-width="0.7"/>
<rect x="416.57" y="798.8" width="9.57" height="9.4" fill="#0f6b55" stroke="#777" stroke-width="0.7"/>
<rect x="416.57" y="810.4" width="9.57" height="9.5" fill="#f4a623" stroke="#777" stroke-width="0.7"/>
<rect x="426.13" y="798.8" width="9.57" height="9.4" fill="#0f6b55" stroke="#777" stroke-width="0.7"/>
<rect x="426.13" y="810.4" width="9.57" height="9.5" fill="#f4aa2c" stroke="#777" stroke-width="0.7"/>
<rect x="378.3" y="822.4" width="9.57" height="9.5" fill="#dc5c5e" stroke="#777" stroke-width="0.7"/>
<line x1="381.38" y1="827.15" x2="384.78" y2="827.15" stroke="#555" stroke-width="0.6"/>
<line x1="383.08" y1="825.45" x2="383.08" y2="828.85" stroke="#555" stroke-width="0.6"/>
<rect x="387.87" y="822.4" width="9.57" height="9.5" fill="#dc6062" stroke="#777" stroke-width="0.7"/>
<line x1="390.95" y1="827.15" x2="394.35" y2="827.15" stroke="#555" stroke-width="0.6"/>
<line x1="392.65" y1="825.45" x2="392.65" y2="828.85" stroke="#555" stroke-width="0.6"/>
<rect x="397.43" y="822.4" width="9.57" height="9.5" fill="#dc6466" stroke="#777" stroke-width="0.7"/>
<line x1="400.52" y1="827.15" x2="403.92" y2="827.15" stroke="#555" stroke-width="0.6"/>
<line x1="402.22" y1="825.45" x2="402.22" y2="828.85" stroke="#555" stroke-width="0.6"/>
<rect x="407" y="822.4" width="9.57" height="9.5" fill="#dc6466" stroke="#777" stroke-width="0.7"/>
<line x1="410.08" y1="827.15" x2="413.48" y2="827.15" stroke="#555" stroke-width="0.6"/>
<line x1="411.78" y1="825.45" x2="411.78" y2="828.85" stroke="#555" stroke-width="0.6"/>
<rect x="416.57" y="822.4" width="9.57" height="9.5" fill="#e06c6e" stroke="#777" stroke-width="0.7"/>
<line x1="419.65" y1="827.15" x2="423.05" y2="827.15" stroke="#555" stroke-width="0.6"/>
<line x1="421.35" y1="825.45" x2="421.35" y2="828.85" stroke="#555" stroke-width="0.6"/>
<rect x="426.13" y="822.4" width="9.57" height="9.5" fill="#f6dede" stroke="#777" stroke-width="0.7"/>
<text x="438.30" y="830.55" font-size="9.47" text-anchor="start" fill="#000" >Arginine biosynthesis</text>
<rect x="378.3" y="831.9" width="9.57" height="9.5" fill="#eca4a6" stroke="#777" stroke-width="0.7"/>
<line x1="381.38" y1="836.65" x2="384.78" y2="836.65" stroke="#555" stroke-width="0.6"/>
<line x1="383.08" y1="834.95" x2="383.08" y2="838.35" stroke="#555" stroke-width="0.6"/>
<rect x="387.87" y="831.9" width="9.57" height="9.5" fill="#ffffff" stroke="#777" stroke-width="0.7"/>
<rect x="397.43" y="831.9" width="9.57" height="9.5" fill="#f8e4e4" stroke="#777" stroke-width="0.7"/>
<rect x="407" y="831.9" width="9.57" height="9.5" fill="#ffffff" stroke="#777" stroke-width="0.7"/>
<rect x="416.57" y="831.9" width="9.57" height="9.5" fill="#ffffff" stroke="#777" stroke-width="0.7"/>
<rect x="426.13" y="831.9" width="9.57" height="9.5" fill="#f8e4e4" stroke="#777" stroke-width="0.7"/>
<text x="438.30" y="840.05" font-size="9.47" text-anchor="start" fill="#000" >Nicotinate and nicotinamide metabolism</text>
<rect x="378.3" y="841.4" width="9.57" height="9.5" fill="#eca4a6" stroke="#777" stroke-width="0.7"/>
<line x1="381.38" y1="846.15" x2="384.78" y2="846.15" stroke="#555" stroke-width="0.6"/>
<line x1="383.08" y1="844.45" x2="383.08" y2="847.85" stroke="#555" stroke-width="0.6"/>
<rect x="387.87" y="841.4" width="9.57" height="9.5" fill="#f8e0e0" stroke="#777" stroke-width="0.7"/>
<rect x="397.43" y="841.4" width="9.57" height="9.5" fill="#cc2024" stroke="#777" stroke-width="0.7"/>
<line x1="400.52" y1="846.15" x2="403.92" y2="846.15" stroke="#555" stroke-width="0.6"/>
<line x1="402.22" y1="844.45" x2="402.22" y2="847.85" stroke="#555" stroke-width="0.6"/>
<rect x="407" y="841.4" width="9.57" height="9.5" fill="#eca0a2" stroke="#777" stroke-width="0.7"/>
<rect x="416.57" y="841.4" width="9.57" height="9.5" fill="#e08082" stroke="#777" stroke-width="0.7"/>
<line x1="419.65" y1="846.15" x2="423.05" y2="846.15" stroke="#555" stroke-width="0.6"/>
<line x1="421.35" y1="844.45" x2="421.35" y2="847.85" stroke="#555" stroke-width="0.6"/>
<rect x="426.13" y="841.4" width="9.57" height="9.5" fill="#f4d0d0" stroke="#777" stroke-width="0.7"/>
<line x1="429.22" y1="846.15" x2="432.62" y2="846.15" stroke="#555" stroke-width="0.6"/>
<line x1="430.92" y1="844.45" x2="430.92" y2="847.85" stroke="#555" stroke-width="0.6"/>
<text x="438.30" y="849.55" font-size="9.47" text-anchor="start" fill="#000" >Pyrimidine metabolism</text>
<rect x="378.3" y="850.9" width="9.57" height="9.5" fill="#f0b8b8" stroke="#777" stroke-width="0.7"/>
<rect x="387.87" y="850.9" width="9.57" height="9.5" fill="#e89898" stroke="#777" stroke-width="0.7"/>
<line x1="390.95" y1="855.65" x2="394.35" y2="855.65" stroke="#555" stroke-width="0.6"/>
<line x1="392.65" y1="853.95" x2="392.65" y2="857.35" stroke="#555" stroke-width="0.6"/>
<rect x="397.43" y="850.9" width="9.57" height="9.5" fill="#ffffff" stroke="#777" stroke-width="0.7"/>
<rect x="407" y="850.9" width="9.57" height="9.5" fill="#ffffff" stroke="#777" stroke-width="0.7"/>
<rect x="416.57" y="850.9" width="9.57" height="9.5" fill="#ffffff" stroke="#777" stroke-width="0.7"/>
<rect x="426.13" y="850.9" width="9.57" height="9.5" fill="#e08c8e" stroke="#777" stroke-width="0.7"/>
<line x1="429.22" y1="855.65" x2="432.62" y2="855.65" stroke="#555" stroke-width="0.6"/>
<line x1="430.92" y1="853.95" x2="430.92" y2="857.35" stroke="#555" stroke-width="0.6"/>
<text x="438.30" y="859.05" font-size="9.47" text-anchor="start" fill="#000" >Pentose phosphate pathway</text>
<rect x="378.3" y="860.4" width="9.57" height="9.5" fill="#f4d4d4" stroke="#777" stroke-width="0.7"/>
<rect x="387.87" y="860.4" width="9.57" height="9.5" fill="#ffffff" stroke="#777" stroke-width="0.7"/>
<rect x="397.43" y="860.4" width="9.57" height="9.5" fill="#f4d4d4" stroke="#777" stroke-width="0.7"/>
<rect x="407" y="860.4" width="9.57" height="9.5" fill="#ffffff" stroke="#777" stroke-width="0.7"/>
<rect x="416.57" y="860.4" width="9.57" height="9.5" fill="#f8e8e8" stroke="#777" stroke-width="0.7"/>
<rect x="426.13" y="860.4" width="9.57" height="9.5" fill="#f4d4d4" stroke="#777" stroke-width="0.7"/>
<text x="438.30" y="868.55" font-size="9.47" text-anchor="start" fill="#000" >Citrate cycle (TCA cycle)</text>
<rect x="378.3" y="869.9" width="9.57" height="9.5" fill="#f4d4d4" stroke="#777" stroke-width="0.7"/>
<rect x="387.87" y="869.9" width="9.57" height="9.5" fill="#ffffff" stroke="#777" stroke-width="0.7"/>
<rect x="397.43" y="869.9" width="9.57" height="9.5" fill="#f0c0c0" stroke="#777" stroke-width="0.7"/>
<line x1="400.52" y1="874.65" x2="403.92" y2="874.65" stroke="#555" stroke-width="0.6"/>
<line x1="402.22" y1="872.95" x2="402.22" y2="876.35" stroke="#555" stroke-width="0.6"/>
<rect x="407" y="869.9" width="9.57" height="9.5" fill="#ffffff" stroke="#777" stroke-width="0.7"/>
<rect x="416.57" y="869.9" width="9.57" height="9.5" fill="#eca4a6" stroke="#777" stroke-width="0.7"/>
<rect x="426.13" y="869.9" width="9.57" height="9.5" fill="#ffffff" stroke="#777" stroke-width="0.7"/>
<text x="438.30" y="878.05" font-size="9.47" text-anchor="start" fill="#000" >Alanine, aspartate and glutamate metabolism</text>
<rect x="378.3" y="879.4" width="9.57" height="9.5" fill="#f8e4e4" stroke="#777" stroke-width="0.7"/>
<rect x="387.87" y="879.4" width="9.57" height="9.5" fill="#ffffff" stroke="#777" stroke-width="0.7"/>
<rect x="397.43" y="879.4" width="9.57" height="9.5" fill="#ffffff" stroke="#777" stroke-width="0.7"/>
<rect x="407" y="879.4" width="9.57" height="9.5" fill="#ffffff" stroke="#777" stroke-width="0.7"/>
<rect x="416.57" y="879.4" width="9.57" height="9.5" fill="#ffffff" stroke="#777" stroke-width="0.7"/>
<rect x="426.13" y="879.4" width="9.57" height="9.5" fill="#ffffff" stroke="#777" stroke-width="0.7"/>
<text x="438.30" y="887.55" font-size="9.47" text-anchor="start" fill="#000" >Glyoxylate and dicarboxylate metabolism</text>
<rect x="378.3" y="888.9" width="9.57" height="9.5" fill="#f8e4e4" stroke="#777" stroke-width="0.7"/>
<rect x="387.87" y="888.9" width="9.57" height="9.5" fill="#ffffff" stroke="#777" stroke-width="0.7"/>
<rect x="397.43" y="888.9" width="9.57" height="9.5" fill="#ffffff" stroke="#777" stroke-width="0.7"/>
<rect x="407" y="888.9" width="9.57" height="9.5" fill="#ffffff" stroke="#777" stroke-width="0.7"/>
<rect x="416.57" y="888.9" width="9.57" height="9.5" fill="#f4d0d0" stroke="#777" stroke-width="0.7"/>
<rect x="426.13" y="888.9" width="9.57" height="9.5" fill="#ffffff" stroke="#777" stroke-width="0.7"/>
<text x="438.30" y="897.05" font-size="9.47" text-anchor="start" fill="#000" >Histidine metabolism</text>
<rect x="378.3" y="898.4" width="9.57" height="9.5" fill="#f8e8e8" stroke="#777" stroke-width="0.7"/>
<rect x="387.87" y="898.4" width="9.57" height="9.5" fill="#ffffff" stroke="#777" stroke-width="0.7"/>
<rect x="397.43" y="898.4" width="9.57" height="9.5" fill="#ffffff" stroke="#777" stroke-width="0.7"/>
<rect x="407" y="898.4" width="9.57" height="9.5" fill="#ffffff" stroke="#777" stroke-width="0.7"/>
<rect x="416.57" y="898.4" width="9.57" height="9.5" fill="#ffffff" stroke="#777" stroke-width="0.7"/>
<rect x="426.13" y="898.4" width="9.57" height="9.5" fill="#ffffff" stroke="#777" stroke-width="0.7"/>
<text x="438.30" y="906.55" font-size="9.47" text-anchor="start" fill="#000" >Glycine, serine and threonine metabolism</text>
<rect x="378.3" y="907.9" width="9.57" height="9.5" fill="#ffffff" stroke="#777" stroke-width="0.7"/>
<rect x="387.87" y="907.9" width="9.57" height="9.5" fill="#c01c20" stroke="#777" stroke-width="0.7"/>
<line x1="390.95" y1="912.65" x2="394.35" y2="912.65" stroke="#555" stroke-width="0.6"/>
<line x1="392.65" y1="910.95" x2="392.65" y2="914.35" stroke="#555" stroke-width="0.6"/>
<rect x="397.43" y="907.9" width="9.57" height="9.5" fill="#f8dcdc" stroke="#777" stroke-width="0.7"/>
<rect x="407" y="907.9" width="9.57" height="9.5" fill="#e89092" stroke="#777" stroke-width="0.7"/>
<line x1="410.08" y1="912.65" x2="413.48" y2="912.65" stroke="#555" stroke-width="0.6"/>
<line x1="411.78" y1="910.95" x2="411.78" y2="914.35" stroke="#555" stroke-width="0.6"/>
<rect x="416.57" y="907.9" width="9.57" height="9.5" fill="#cc2a2e" stroke="#777" stroke-width="0.7"/>
<line x1="419.65" y1="912.65" x2="423.05" y2="912.65" stroke="#555" stroke-width="0.6"/>
<line x1="421.35" y1="910.95" x2="421.35" y2="914.35" stroke="#555" stroke-width="0.6"/>
<rect x="426.13" y="907.9" width="9.57" height="9.5" fill="#d03034" stroke="#777" stroke-width="0.7"/>
<line x1="429.22" y1="912.65" x2="432.62" y2="912.65" stroke="#555" stroke-width="0.6"/>
<line x1="430.92" y1="910.95" x2="430.92" y2="914.35" stroke="#555" stroke-width="0.6"/>
<text x="438.30" y="916.05" font-size="9.47" text-anchor="start" fill="#000" >Arginine and proline metabolism</text>
<rect x="378.3" y="917.4" width="9.57" height="9.5" fill="#ffffff" stroke="#777" stroke-width="0.7"/>
<rect x="387.87" y="917.4" width="9.57" height="9.5" fill="#ffffff" stroke="#777" stroke-width="0.7"/>
<rect x="397.43" y="917.4" width="9.57" height="9.5" fill="#f8e4e4" stroke="#777" stroke-width="0.7"/>
<rect x="407" y="917.4" width="9.57" height="9.5" fill="#dc6062" stroke="#777" stroke-width="0.7"/>
<line x1="410.08" y1="922.15" x2="413.48" y2="922.15" stroke="#555" stroke-width="0.6"/>
<line x1="411.78" y1="920.45" x2="411.78" y2="923.85" stroke="#555" stroke-width="0.6"/>
<rect x="416.57" y="917.4" width="9.57" height="9.5" fill="#f8e0e0" stroke="#777" stroke-width="0.7"/>
<rect x="426.13" y="917.4" width="9.57" height="9.5" fill="#ffffff" stroke="#777" stroke-width="0.7"/>
<text x="438.30" y="925.55" font-size="9.47" text-anchor="start" fill="#000" >Purine metabolism</text>
<rect x="378.3" y="926.9" width="9.57" height="9.5" fill="#ffffff" stroke="#777" stroke-width="0.7"/>
<rect x="387.87" y="926.9" width="9.57" height="9.5" fill="#f4d4d4" stroke="#777" stroke-width="0.7"/>
<rect x="397.43" y="926.9" width="9.57" height="9.5" fill="#ffffff" stroke="#777" stroke-width="0.7"/>
<rect x="407" y="926.9" width="9.57" height="9.5" fill="#ffffff" stroke="#777" stroke-width="0.7"/>
<rect x="416.57" y="926.9" width="9.57" height="9.5" fill="#ffffff" stroke="#777" stroke-width="0.7"/>
<rect x="426.13" y="926.9" width="9.57" height="9.5" fill="#f8e0e0" stroke="#777" stroke-width="0.7"/>
<text x="438.30" y="935.05" font-size="9.47" text-anchor="start" fill="#000" >Glutathione metabolism</text>
<rect x="378.3" y="936.4" width="9.57" height="9.5" fill="#ffffff" stroke="#777" stroke-width="0.7"/>
<rect x="387.87" y="936.4" width="9.57" height="9.5" fill="#ffffff" stroke="#777" stroke-width="0.7"/>
<rect x="397.43" y="936.4" width="9.57" height="9.5" fill="#ffffff" stroke="#777" stroke-width="0.7"/>
<rect x="407" y="936.4" width="9.57" height="9.5" fill="#ffffff" stroke="#777" stroke-width="0.7"/>
<rect x="416.57" y="936.4" width="9.57" height="9.5" fill="#ffffff" stroke="#777" stroke-width="0.7"/>
<rect x="426.13" y="936.4" width="9.57" height="9.5" fill="#f8e4e4" stroke="#777" stroke-width="0.7"/>
<text x="438.30" y="944.55" font-size="9.47" text-anchor="start" fill="#000" >Butanoate metabolism</text>
<rect x="378.3" y="945.9" width="9.57" height="9.5" fill="#ffffff" stroke="#777" stroke-width="0.7"/>
<rect x="387.87" y="945.9" width="9.57" height="9.5" fill="#ffffff" stroke="#777" stroke-width="0.7"/>
<rect x="397.43" y="945.9" width="9.57" height="9.5" fill="#ffffff" stroke="#777" stroke-width="0.7"/>
<rect x="407" y="945.9" width="9.57" height="9.5" fill="#ffffff" stroke="#777" stroke-width="0.7"/>
<rect x="416.57" y="945.9" width="9.57" height="9.5" fill="#ffffff" stroke="#777" stroke-width="0.7"/>
<rect x="426.13" y="945.9" width="9.57" height="9.5" fill="#f8e4e4" stroke="#777" stroke-width="0.7"/>
<text x="438.30" y="954.05" font-size="9.47" text-anchor="start" fill="#000" >Starch and sucrose metabolism</text>
<text transform="translate(386.48,957.40) rotate(-90)" font-size="9.5" text-anchor="end" fill="#000" >LPS_1h</text>
<text transform="translate(396.05,957.40) rotate(-90)" font-size="9.5" text-anchor="end" fill="#000" >LPS_24h</text>
<text transform="translate(405.62,957.40) rotate(-90)" font-size="9.5" text-anchor="end" fill="#000" >ILG_1h</text>
<text transform="translate(415.18,957.40) rotate(-90)" font-size="9.5" text-anchor="end" fill="#000" >ILG_24h</text>
<text transform="translate(424.75,957.40) rotate(-90)" font-size="9.5" text-anchor="end" fill="#000" >GU_1h</text>
<text transform="translate(434.32,957.40) rotate(-90)" font-size="9.5" text-anchor="end" fill="#000" >GU_24h</text>
<text x="499.9" y="980.0" font-size="9.15" fill="#000">-Log<tspan font-size="6.4" dy="2.2">10</tspan><tspan dy="-2.2" font-style="italic">P</tspan>-value</text>
<defs><linearGradient id="pg" x1="0" x2="1"><stop offset="0" stop-color="#fdf0f0"/><stop offset="0.5" stop-color="#e48486"/><stop offset="1" stop-color="#c2141a"/></linearGradient><linearGradient id="cg" x1="0" x2="1"><stop offset="0" stop-color="#fdf3de"/><stop offset="0.5" stop-color="#f7cf84"/><stop offset="1" stop-color="#efa01e"/></linearGradient></defs>
<rect x="498.5" y="984.2" width="62.7" height="10" fill="url(#pg)"/>
<rect x="576.8" y="984.2" width="64.1" height="10" fill="url(#cg)"/>
<text transform="translate(507.40,996.40) rotate(90)" font-size="8.9" text-anchor="start" fill="#000" >2</text>
<text transform="translate(523.30,996.40) rotate(90)" font-size="8.9" text-anchor="start" fill="#000" >3</text>
<text transform="translate(539.20,996.40) rotate(90)" font-size="8.9" text-anchor="start" fill="#000" >4</text>
<text transform="translate(555.60,996.40) rotate(90)" font-size="8.9" text-anchor="start" fill="#000" >5</text>
<line x1="579" y1="984.2" x2="579" y2="986" stroke="#fff" stroke-width="0.7"/>
<line x1="579" y1="992.4" x2="579" y2="994.2" stroke="#fff" stroke-width="0.7"/>
<text transform="translate(576.00,996.40) rotate(90)" font-size="8.9" text-anchor="start" fill="#000" >105</text>
<line x1="590.9" y1="984.2" x2="590.9" y2="986" stroke="#fff" stroke-width="0.7"/>
<line x1="590.9" y1="992.4" x2="590.9" y2="994.2" stroke="#fff" stroke-width="0.7"/>
<text transform="translate(587.90,996.40) rotate(90)" font-size="8.9" text-anchor="start" fill="#000" >110</text>
<line x1="602.8" y1="984.2" x2="602.8" y2="986" stroke="#fff" stroke-width="0.7"/>
<line x1="602.8" y1="992.4" x2="602.8" y2="994.2" stroke="#fff" stroke-width="0.7"/>
<text transform="translate(599.80,996.40) rotate(90)" font-size="8.9" text-anchor="start" fill="#000" >115</text>
<line x1="614.7" y1="984.2" x2="614.7" y2="986" stroke="#fff" stroke-width="0.7"/>
<line x1="614.7" y1="992.4" x2="614.7" y2="994.2" stroke="#fff" stroke-width="0.7"/>
<text transform="translate(611.70,996.40) rotate(90)" font-size="8.9" text-anchor="start" fill="#000" >120</text>
<line x1="626.6" y1="984.2" x2="626.6" y2="986" stroke="#fff" stroke-width="0.7"/>
<line x1="626.6" y1="992.4" x2="626.6" y2="994.2" stroke="#fff" stroke-width="0.7"/>
<text transform="translate(623.60,996.40) rotate(90)" font-size="8.9" text-anchor="start" fill="#000" >125</text>
<line x1="638.5" y1="984.2" x2="638.5" y2="986" stroke="#fff" stroke-width="0.7"/>
<line x1="638.5" y1="992.4" x2="638.5" y2="994.2" stroke="#fff" stroke-width="0.7"/>
<text transform="translate(635.50,996.40) rotate(90)" font-size="8.9" text-anchor="start" fill="#000" >130</text>
<text x="576.80" y="980.00" font-size="9.15" text-anchor="start" fill="#000" >Count</text>
<rect x="654.9" y="977" width="9.4" height="9.6" fill="#b81c1f"/>
<text x="667.80" y="985.80" font-size="9.7" text-anchor="start" fill="#000" >LPS</text>
<rect x="654.9" y="987.3" width="9.4" height="9.6" fill="#1a47a8"/>
<text x="667.80" y="995.90" font-size="9.7" text-anchor="start" fill="#000" >ILG</text>
<rect x="654.9" y="997.9" width="9.4" height="9.6" fill="#0b6a55"/>
<text x="667.80" y="1006.00" font-size="9.7" text-anchor="start" fill="#000" >GU</text>
</svg>
</body></html>
